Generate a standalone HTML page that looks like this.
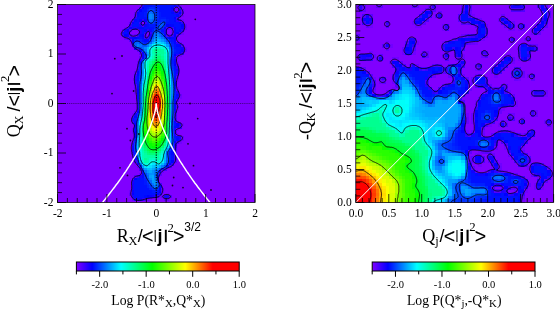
<!DOCTYPE html><html><head><meta charset="utf-8"><title>Log P</title><style>html,body{margin:0;padding:0;background:#fff}</style></head><body><svg width="560" height="309" viewBox="0 0 560 309" style="display:block">
<rect width="560" height="309" fill="#fff"/>
<rect x="57.50" y="4.50" width="197.50" height="198.00" fill="#8000ff"/>
<rect x="355.80" y="4.50" width="197.80" height="198.00" fill="#8000ff"/>
<clipPath id="cl"><rect x="57.50" y="4.50" width="197.50" height="198.00"/></clipPath>
<clipPath id="cr"><rect x="355.80" y="4.50" width="197.80" height="198.00"/></clipPath>
<g clip-path="url(#cl)"><g shape-rendering="crispEdges"><rect x="141.65" y="4.50" width="2.98" height="2.98" fill="#2000ff"/>
<rect x="144.12" y="4.50" width="7.93" height="2.98" fill="#0010ff"/>
<rect x="151.55" y="4.50" width="5.45" height="2.98" fill="#0018ff"/>
<rect x="156.50" y="4.50" width="17.82" height="2.98" fill="#0010ff"/>
<rect x="173.82" y="4.50" width="2.98" height="2.98" fill="#0800ff"/>
<rect x="176.30" y="4.50" width="2.98" height="2.98" fill="#2800ff"/>
<rect x="178.78" y="4.50" width="2.98" height="2.98" fill="#7000ff"/>
<rect x="139.18" y="6.97" width="2.98" height="2.98" fill="#4000ff"/>
<rect x="141.65" y="6.97" width="2.98" height="2.98" fill="#0000ff"/>
<rect x="144.12" y="6.97" width="2.98" height="2.98" fill="#0010ff"/>
<rect x="146.60" y="6.97" width="2.98" height="2.98" fill="#0018ff"/>
<rect x="149.07" y="6.97" width="5.45" height="2.98" fill="#0028ff"/>
<rect x="154.03" y="6.97" width="2.98" height="2.98" fill="#0020ff"/>
<rect x="156.50" y="6.97" width="2.98" height="2.98" fill="#0018ff"/>
<rect x="158.98" y="6.97" width="12.88" height="2.98" fill="#0010ff"/>
<rect x="171.35" y="6.97" width="2.98" height="2.98" fill="#0800ff"/>
<rect x="173.82" y="6.97" width="2.98" height="2.98" fill="#6000ff"/>
<rect x="176.30" y="6.97" width="2.98" height="2.98" fill="#7000ff"/>
<rect x="178.78" y="6.97" width="2.98" height="2.98" fill="#3000ff"/>
<rect x="136.70" y="9.45" width="2.98" height="2.98" fill="#3800ff"/>
<rect x="139.18" y="9.45" width="2.98" height="2.98" fill="#0000ff"/>
<rect x="141.65" y="9.45" width="5.45" height="2.98" fill="#0010ff"/>
<rect x="146.60" y="9.45" width="2.98" height="2.98" fill="#0028ff"/>
<rect x="149.07" y="9.45" width="2.98" height="2.98" fill="#0048ff"/>
<rect x="151.55" y="9.45" width="2.98" height="2.98" fill="#0040ff"/>
<rect x="154.03" y="9.45" width="2.98" height="2.98" fill="#0030ff"/>
<rect x="156.50" y="9.45" width="2.98" height="2.98" fill="#0020ff"/>
<rect x="158.98" y="9.45" width="12.88" height="2.98" fill="#0010ff"/>
<rect x="171.35" y="9.45" width="2.98" height="2.98" fill="#1000ff"/>
<rect x="173.82" y="9.45" width="2.98" height="2.98" fill="#7000ff"/>
<rect x="178.78" y="9.45" width="2.98" height="2.98" fill="#2000ff"/>
<rect x="181.25" y="9.45" width="2.98" height="2.98" fill="#5800ff"/>
<rect x="134.23" y="11.93" width="2.98" height="2.98" fill="#6800ff"/>
<rect x="136.70" y="11.93" width="2.98" height="2.98" fill="#0800ff"/>
<rect x="139.18" y="11.93" width="5.45" height="2.98" fill="#0010ff"/>
<rect x="144.12" y="11.93" width="2.98" height="2.98" fill="#0018ff"/>
<rect x="146.60" y="11.93" width="2.98" height="2.98" fill="#0040ff"/>
<rect x="149.07" y="11.93" width="2.98" height="2.98" fill="#0070ff"/>
<rect x="151.55" y="11.93" width="2.98" height="2.98" fill="#0060ff"/>
<rect x="154.03" y="11.93" width="2.98" height="2.98" fill="#0038ff"/>
<rect x="156.50" y="11.93" width="2.98" height="2.98" fill="#0028ff"/>
<rect x="158.98" y="11.93" width="2.98" height="2.98" fill="#0018ff"/>
<rect x="161.45" y="11.93" width="10.40" height="2.98" fill="#0010ff"/>
<rect x="171.35" y="11.93" width="2.98" height="2.98" fill="#0008ff"/>
<rect x="173.82" y="11.93" width="2.98" height="2.98" fill="#1800ff"/>
<rect x="176.30" y="11.93" width="2.98" height="2.98" fill="#2000ff"/>
<rect x="178.78" y="11.93" width="2.98" height="2.98" fill="#0000ff"/>
<rect x="181.25" y="11.93" width="2.98" height="2.98" fill="#4800ff"/>
<rect x="134.23" y="14.40" width="2.98" height="2.98" fill="#5000ff"/>
<rect x="136.70" y="14.40" width="2.98" height="2.98" fill="#0008ff"/>
<rect x="139.18" y="14.40" width="5.45" height="2.98" fill="#0010ff"/>
<rect x="144.12" y="14.40" width="2.98" height="2.98" fill="#0018ff"/>
<rect x="146.60" y="14.40" width="2.98" height="2.98" fill="#0048ff"/>
<rect x="149.07" y="14.40" width="2.98" height="2.98" fill="#0088ff"/>
<rect x="151.55" y="14.40" width="2.98" height="2.98" fill="#0078ff"/>
<rect x="154.03" y="14.40" width="2.98" height="2.98" fill="#0040ff"/>
<rect x="156.50" y="14.40" width="2.98" height="2.98" fill="#0028ff"/>
<rect x="158.98" y="14.40" width="2.98" height="2.98" fill="#0018ff"/>
<rect x="161.45" y="14.40" width="15.35" height="2.98" fill="#0010ff"/>
<rect x="176.30" y="14.40" width="2.98" height="2.98" fill="#0008ff"/>
<rect x="178.78" y="14.40" width="2.98" height="2.98" fill="#2800ff"/>
<rect x="181.25" y="14.40" width="2.98" height="2.98" fill="#7000ff"/>
<rect x="134.23" y="16.88" width="2.98" height="2.98" fill="#2800ff"/>
<rect x="136.70" y="16.88" width="10.40" height="2.98" fill="#0010ff"/>
<rect x="146.60" y="16.88" width="2.98" height="2.98" fill="#0048ff"/>
<rect x="149.07" y="16.88" width="2.98" height="2.98" fill="#0088ff"/>
<rect x="151.55" y="16.88" width="2.98" height="2.98" fill="#0078ff"/>
<rect x="154.03" y="16.88" width="2.98" height="2.98" fill="#0040ff"/>
<rect x="156.50" y="16.88" width="2.98" height="2.98" fill="#0028ff"/>
<rect x="158.98" y="16.88" width="7.93" height="2.98" fill="#0018ff"/>
<rect x="166.40" y="16.88" width="7.93" height="2.98" fill="#0010ff"/>
<rect x="173.82" y="16.88" width="2.98" height="2.98" fill="#0000ff"/>
<rect x="176.30" y="16.88" width="2.98" height="2.98" fill="#4000ff"/>
<rect x="131.75" y="19.35" width="2.98" height="2.98" fill="#3800ff"/>
<rect x="134.23" y="19.35" width="2.98" height="2.98" fill="#0008ff"/>
<rect x="136.70" y="19.35" width="2.98" height="2.98" fill="#0010ff"/>
<rect x="139.18" y="19.35" width="2.98" height="2.98" fill="#0800ff"/>
<rect x="141.65" y="19.35" width="2.98" height="2.98" fill="#3000ff"/>
<rect x="144.12" y="19.35" width="2.98" height="2.98" fill="#0800ff"/>
<rect x="146.60" y="19.35" width="2.98" height="2.98" fill="#0038ff"/>
<rect x="149.07" y="19.35" width="2.98" height="2.98" fill="#0070ff"/>
<rect x="151.55" y="19.35" width="2.98" height="2.98" fill="#0060ff"/>
<rect x="154.03" y="19.35" width="2.98" height="2.98" fill="#0038ff"/>
<rect x="156.50" y="19.35" width="5.45" height="2.98" fill="#0020ff"/>
<rect x="161.45" y="19.35" width="5.45" height="2.98" fill="#0028ff"/>
<rect x="166.40" y="19.35" width="2.98" height="2.98" fill="#0018ff"/>
<rect x="168.88" y="19.35" width="5.45" height="2.98" fill="#0010ff"/>
<rect x="173.82" y="19.35" width="2.98" height="2.98" fill="#0008ff"/>
<rect x="176.30" y="19.35" width="2.98" height="2.98" fill="#2800ff"/>
<rect x="178.78" y="19.35" width="2.98" height="2.98" fill="#4800ff"/>
<rect x="181.25" y="19.35" width="2.98" height="2.98" fill="#7000ff"/>
<rect x="129.28" y="21.82" width="2.98" height="2.98" fill="#6000ff"/>
<rect x="131.75" y="21.82" width="2.98" height="2.98" fill="#0800ff"/>
<rect x="134.23" y="21.82" width="5.45" height="2.98" fill="#0010ff"/>
<rect x="139.18" y="21.82" width="2.98" height="2.98" fill="#3800ff"/>
<rect x="144.12" y="21.82" width="2.98" height="2.98" fill="#3800ff"/>
<rect x="146.60" y="21.82" width="2.98" height="2.98" fill="#0018ff"/>
<rect x="149.07" y="21.82" width="5.45" height="2.98" fill="#0040ff"/>
<rect x="154.03" y="21.82" width="5.45" height="2.98" fill="#0028ff"/>
<rect x="158.98" y="21.82" width="2.98" height="2.98" fill="#0030ff"/>
<rect x="161.45" y="21.82" width="2.98" height="2.98" fill="#0050ff"/>
<rect x="163.93" y="21.82" width="2.98" height="2.98" fill="#0038ff"/>
<rect x="166.40" y="21.82" width="12.88" height="2.98" fill="#0010ff"/>
<rect x="178.78" y="21.82" width="2.98" height="2.98" fill="#0008ff"/>
<rect x="181.25" y="21.82" width="2.98" height="2.98" fill="#2800ff"/>
<rect x="129.28" y="24.30" width="2.98" height="2.98" fill="#3000ff"/>
<rect x="131.75" y="24.30" width="7.93" height="2.98" fill="#0010ff"/>
<rect x="139.18" y="24.30" width="2.98" height="2.98" fill="#1800ff"/>
<rect x="141.65" y="24.30" width="2.98" height="2.98" fill="#4800ff"/>
<rect x="144.12" y="24.30" width="2.98" height="2.98" fill="#1000ff"/>
<rect x="146.60" y="24.30" width="2.98" height="2.98" fill="#0010ff"/>
<rect x="149.07" y="24.30" width="7.93" height="2.98" fill="#0018ff"/>
<rect x="156.50" y="24.30" width="2.98" height="2.98" fill="#0030ff"/>
<rect x="158.98" y="24.30" width="5.45" height="2.98" fill="#0058ff"/>
<rect x="163.93" y="24.30" width="2.98" height="2.98" fill="#0020ff"/>
<rect x="166.40" y="24.30" width="2.98" height="2.98" fill="#0000ff"/>
<rect x="168.88" y="24.30" width="2.98" height="2.98" fill="#0800ff"/>
<rect x="171.35" y="24.30" width="2.98" height="2.98" fill="#0008ff"/>
<rect x="173.82" y="24.30" width="7.93" height="2.98" fill="#0010ff"/>
<rect x="181.25" y="24.30" width="2.98" height="2.98" fill="#0000ff"/>
<rect x="183.73" y="24.30" width="2.98" height="2.98" fill="#6800ff"/>
<rect x="124.33" y="26.78" width="2.98" height="2.98" fill="#7000ff"/>
<rect x="126.80" y="26.78" width="2.98" height="2.98" fill="#3800ff"/>
<rect x="129.28" y="26.78" width="2.98" height="2.98" fill="#0800ff"/>
<rect x="131.75" y="26.78" width="2.98" height="2.98" fill="#1800ff"/>
<rect x="134.23" y="26.78" width="2.98" height="2.98" fill="#2000ff"/>
<rect x="136.70" y="26.78" width="2.98" height="2.98" fill="#1000ff"/>
<rect x="139.18" y="26.78" width="5.45" height="2.98" fill="#0008ff"/>
<rect x="144.12" y="26.78" width="10.40" height="2.98" fill="#0010ff"/>
<rect x="154.03" y="26.78" width="2.98" height="2.98" fill="#0020ff"/>
<rect x="156.50" y="26.78" width="2.98" height="2.98" fill="#0040ff"/>
<rect x="158.98" y="26.78" width="2.98" height="2.98" fill="#0058ff"/>
<rect x="161.45" y="26.78" width="2.98" height="2.98" fill="#0028ff"/>
<rect x="163.93" y="26.78" width="2.98" height="2.98" fill="#0800ff"/>
<rect x="166.40" y="26.78" width="2.98" height="2.98" fill="#5000ff"/>
<rect x="168.88" y="26.78" width="2.98" height="2.98" fill="#6800ff"/>
<rect x="171.35" y="26.78" width="2.98" height="2.98" fill="#3800ff"/>
<rect x="173.82" y="26.78" width="2.98" height="2.98" fill="#0008ff"/>
<rect x="176.30" y="26.78" width="5.45" height="2.98" fill="#0010ff"/>
<rect x="181.25" y="26.78" width="2.98" height="2.98" fill="#0800ff"/>
<rect x="183.73" y="26.78" width="2.98" height="2.98" fill="#6800ff"/>
<rect x="121.85" y="29.25" width="2.98" height="2.98" fill="#5800ff"/>
<rect x="124.33" y="29.25" width="2.98" height="2.98" fill="#1000ff"/>
<rect x="126.80" y="29.25" width="2.98" height="2.98" fill="#0000ff"/>
<rect x="129.28" y="29.25" width="2.98" height="2.98" fill="#4800ff"/>
<rect x="136.70" y="29.25" width="2.98" height="2.98" fill="#7000ff"/>
<rect x="139.18" y="29.25" width="2.98" height="2.98" fill="#1800ff"/>
<rect x="141.65" y="29.25" width="2.98" height="2.98" fill="#0010ff"/>
<rect x="144.12" y="29.25" width="2.98" height="2.98" fill="#0008ff"/>
<rect x="146.60" y="29.25" width="2.98" height="2.98" fill="#2800ff"/>
<rect x="149.07" y="29.25" width="2.98" height="2.98" fill="#1000ff"/>
<rect x="151.55" y="29.25" width="2.98" height="2.98" fill="#0018ff"/>
<rect x="154.03" y="29.25" width="2.98" height="2.98" fill="#0038ff"/>
<rect x="156.50" y="29.25" width="2.98" height="2.98" fill="#0040ff"/>
<rect x="158.98" y="29.25" width="2.98" height="2.98" fill="#0030ff"/>
<rect x="161.45" y="29.25" width="2.98" height="2.98" fill="#0010ff"/>
<rect x="163.93" y="29.25" width="2.98" height="2.98" fill="#2000ff"/>
<rect x="171.35" y="29.25" width="2.98" height="2.98" fill="#6800ff"/>
<rect x="173.82" y="29.25" width="2.98" height="2.98" fill="#0800ff"/>
<rect x="176.30" y="29.25" width="2.98" height="2.98" fill="#0010ff"/>
<rect x="178.78" y="29.25" width="2.98" height="2.98" fill="#0008ff"/>
<rect x="181.25" y="29.25" width="2.98" height="2.98" fill="#2800ff"/>
<rect x="121.85" y="31.73" width="2.98" height="2.98" fill="#1800ff"/>
<rect x="124.33" y="31.73" width="2.98" height="2.98" fill="#0010ff"/>
<rect x="126.80" y="31.73" width="2.98" height="2.98" fill="#1000ff"/>
<rect x="139.18" y="31.73" width="2.98" height="2.98" fill="#1800ff"/>
<rect x="141.65" y="31.73" width="2.98" height="2.98" fill="#0010ff"/>
<rect x="144.12" y="31.73" width="2.98" height="2.98" fill="#2800ff"/>
<rect x="149.07" y="31.73" width="2.98" height="2.98" fill="#3000ff"/>
<rect x="151.55" y="31.73" width="2.98" height="2.98" fill="#0028ff"/>
<rect x="154.03" y="31.73" width="2.98" height="2.98" fill="#0068ff"/>
<rect x="156.50" y="31.73" width="2.98" height="2.98" fill="#0070ff"/>
<rect x="158.98" y="31.73" width="2.98" height="2.98" fill="#0050ff"/>
<rect x="161.45" y="31.73" width="2.98" height="2.98" fill="#0020ff"/>
<rect x="163.93" y="31.73" width="2.98" height="2.98" fill="#2000ff"/>
<rect x="171.35" y="31.73" width="2.98" height="2.98" fill="#6800ff"/>
<rect x="173.82" y="31.73" width="2.98" height="2.98" fill="#0800ff"/>
<rect x="176.30" y="31.73" width="2.98" height="2.98" fill="#0000ff"/>
<rect x="178.78" y="31.73" width="2.98" height="2.98" fill="#3800ff"/>
<rect x="181.25" y="31.73" width="2.98" height="2.98" fill="#7000ff"/>
<rect x="121.85" y="34.20" width="2.98" height="2.98" fill="#3000ff"/>
<rect x="124.33" y="34.20" width="2.98" height="2.98" fill="#0000ff"/>
<rect x="126.80" y="34.20" width="2.98" height="2.98" fill="#0800ff"/>
<rect x="129.28" y="34.20" width="2.98" height="2.98" fill="#4800ff"/>
<rect x="131.75" y="34.20" width="2.98" height="2.98" fill="#7000ff"/>
<rect x="134.23" y="34.20" width="2.98" height="2.98" fill="#6000ff"/>
<rect x="136.70" y="34.20" width="2.98" height="2.98" fill="#3000ff"/>
<rect x="139.18" y="34.20" width="2.98" height="2.98" fill="#0008ff"/>
<rect x="141.65" y="34.20" width="2.98" height="2.98" fill="#0000ff"/>
<rect x="144.12" y="34.20" width="2.98" height="2.98" fill="#5800ff"/>
<rect x="149.07" y="34.20" width="2.98" height="2.98" fill="#1800ff"/>
<rect x="151.55" y="34.20" width="2.98" height="2.98" fill="#0040ff"/>
<rect x="154.03" y="34.20" width="2.98" height="2.98" fill="#0078ff"/>
<rect x="156.50" y="34.20" width="2.98" height="2.98" fill="#0088ff"/>
<rect x="158.98" y="34.20" width="2.98" height="2.98" fill="#0070ff"/>
<rect x="161.45" y="34.20" width="2.98" height="2.98" fill="#0050ff"/>
<rect x="163.93" y="34.20" width="2.98" height="2.98" fill="#0008ff"/>
<rect x="166.40" y="34.20" width="2.98" height="2.98" fill="#5000ff"/>
<rect x="168.88" y="34.20" width="2.98" height="2.98" fill="#6800ff"/>
<rect x="171.35" y="34.20" width="2.98" height="2.98" fill="#3000ff"/>
<rect x="173.82" y="34.20" width="2.98" height="2.98" fill="#0000ff"/>
<rect x="176.30" y="34.20" width="2.98" height="2.98" fill="#4800ff"/>
<rect x="124.33" y="36.68" width="2.98" height="2.98" fill="#6000ff"/>
<rect x="126.80" y="36.68" width="2.98" height="2.98" fill="#4800ff"/>
<rect x="129.28" y="36.68" width="2.98" height="2.98" fill="#1800ff"/>
<rect x="131.75" y="36.68" width="2.98" height="2.98" fill="#0800ff"/>
<rect x="134.23" y="36.68" width="2.98" height="2.98" fill="#0000ff"/>
<rect x="136.70" y="36.68" width="2.98" height="2.98" fill="#0008ff"/>
<rect x="139.18" y="36.68" width="2.98" height="2.98" fill="#0010ff"/>
<rect x="141.65" y="36.68" width="2.98" height="2.98" fill="#0008ff"/>
<rect x="144.12" y="36.68" width="2.98" height="2.98" fill="#4000ff"/>
<rect x="146.60" y="36.68" width="2.98" height="2.98" fill="#3800ff"/>
<rect x="149.07" y="36.68" width="2.98" height="2.98" fill="#0010ff"/>
<rect x="151.55" y="36.68" width="2.98" height="2.98" fill="#0058ff"/>
<rect x="154.03" y="36.68" width="2.98" height="2.98" fill="#0088ff"/>
<rect x="156.50" y="36.68" width="2.98" height="2.98" fill="#00a0ff"/>
<rect x="158.98" y="36.68" width="2.98" height="2.98" fill="#0090ff"/>
<rect x="161.45" y="36.68" width="2.98" height="2.98" fill="#0070ff"/>
<rect x="163.93" y="36.68" width="2.98" height="2.98" fill="#0048ff"/>
<rect x="166.40" y="36.68" width="2.98" height="2.98" fill="#0010ff"/>
<rect x="168.88" y="36.68" width="2.98" height="2.98" fill="#0000ff"/>
<rect x="171.35" y="36.68" width="2.98" height="2.98" fill="#0008ff"/>
<rect x="173.82" y="36.68" width="2.98" height="2.98" fill="#1000ff"/>
<rect x="129.28" y="39.15" width="2.98" height="2.98" fill="#5800ff"/>
<rect x="131.75" y="39.15" width="2.98" height="2.98" fill="#0000ff"/>
<rect x="134.23" y="39.15" width="2.98" height="2.98" fill="#0028ff"/>
<rect x="136.70" y="39.15" width="2.98" height="2.98" fill="#0030ff"/>
<rect x="139.18" y="39.15" width="2.98" height="2.98" fill="#0020ff"/>
<rect x="141.65" y="39.15" width="2.98" height="2.98" fill="#0010ff"/>
<rect x="144.12" y="39.15" width="5.45" height="2.98" fill="#0008ff"/>
<rect x="149.07" y="39.15" width="2.98" height="2.98" fill="#0038ff"/>
<rect x="151.55" y="39.15" width="2.98" height="2.98" fill="#0078ff"/>
<rect x="154.03" y="39.15" width="2.98" height="2.98" fill="#00a0ff"/>
<rect x="156.50" y="39.15" width="2.98" height="2.98" fill="#00b8ff"/>
<rect x="158.98" y="39.15" width="2.98" height="2.98" fill="#00b0ff"/>
<rect x="161.45" y="39.15" width="2.98" height="2.98" fill="#0098ff"/>
<rect x="163.93" y="39.15" width="2.98" height="2.98" fill="#0078ff"/>
<rect x="166.40" y="39.15" width="2.98" height="2.98" fill="#0048ff"/>
<rect x="168.88" y="39.15" width="2.98" height="2.98" fill="#0018ff"/>
<rect x="171.35" y="39.15" width="2.98" height="2.98" fill="#0010ff"/>
<rect x="173.82" y="39.15" width="2.98" height="2.98" fill="#0800ff"/>
<rect x="176.30" y="39.15" width="2.98" height="2.98" fill="#7000ff"/>
<rect x="131.75" y="41.62" width="2.98" height="2.98" fill="#0000ff"/>
<rect x="134.23" y="41.62" width="2.98" height="2.98" fill="#0060ff"/>
<rect x="136.70" y="41.62" width="2.98" height="2.98" fill="#0068ff"/>
<rect x="139.18" y="41.62" width="2.98" height="2.98" fill="#0048ff"/>
<rect x="141.65" y="41.62" width="2.98" height="2.98" fill="#0028ff"/>
<rect x="144.12" y="41.62" width="2.98" height="2.98" fill="#0018ff"/>
<rect x="146.60" y="41.62" width="2.98" height="2.98" fill="#0030ff"/>
<rect x="149.07" y="41.62" width="2.98" height="2.98" fill="#0068ff"/>
<rect x="151.55" y="41.62" width="2.98" height="2.98" fill="#00a8ff"/>
<rect x="154.03" y="41.62" width="2.98" height="2.98" fill="#00c8ff"/>
<rect x="156.50" y="41.62" width="2.98" height="2.98" fill="#00e0ff"/>
<rect x="158.98" y="41.62" width="2.98" height="2.98" fill="#00d8ff"/>
<rect x="161.45" y="41.62" width="2.98" height="2.98" fill="#00c8ff"/>
<rect x="163.93" y="41.62" width="2.98" height="2.98" fill="#00a8ff"/>
<rect x="166.40" y="41.62" width="2.98" height="2.98" fill="#0070ff"/>
<rect x="168.88" y="41.62" width="2.98" height="2.98" fill="#0038ff"/>
<rect x="171.35" y="41.62" width="2.98" height="2.98" fill="#0018ff"/>
<rect x="173.82" y="41.62" width="2.98" height="2.98" fill="#0008ff"/>
<rect x="176.30" y="41.62" width="2.98" height="2.98" fill="#2800ff"/>
<rect x="178.78" y="41.62" width="2.98" height="2.98" fill="#6800ff"/>
<rect x="131.75" y="44.10" width="2.98" height="2.98" fill="#2800ff"/>
<rect x="134.23" y="44.10" width="2.98" height="2.98" fill="#0060ff"/>
<rect x="136.70" y="44.10" width="2.98" height="2.98" fill="#0080ff"/>
<rect x="139.18" y="44.10" width="2.98" height="2.98" fill="#0070ff"/>
<rect x="141.65" y="44.10" width="5.45" height="2.98" fill="#0058ff"/>
<rect x="146.60" y="44.10" width="2.98" height="2.98" fill="#0078ff"/>
<rect x="149.07" y="44.10" width="2.98" height="2.98" fill="#00b0ff"/>
<rect x="151.55" y="44.10" width="2.98" height="2.98" fill="#00e8ff"/>
<rect x="154.03" y="44.10" width="2.98" height="2.98" fill="#00fff8"/>
<rect x="156.50" y="44.10" width="2.98" height="2.98" fill="#00ffe8"/>
<rect x="158.98" y="44.10" width="2.98" height="2.98" fill="#00fff0"/>
<rect x="161.45" y="44.10" width="2.98" height="2.98" fill="#00ffff"/>
<rect x="163.93" y="44.10" width="2.98" height="2.98" fill="#00d8ff"/>
<rect x="166.40" y="44.10" width="2.98" height="2.98" fill="#00a0ff"/>
<rect x="168.88" y="44.10" width="2.98" height="2.98" fill="#0058ff"/>
<rect x="171.35" y="44.10" width="2.98" height="2.98" fill="#0020ff"/>
<rect x="173.82" y="44.10" width="2.98" height="2.98" fill="#0010ff"/>
<rect x="176.30" y="44.10" width="2.98" height="2.98" fill="#0008ff"/>
<rect x="178.78" y="44.10" width="2.98" height="2.98" fill="#0800ff"/>
<rect x="181.25" y="44.10" width="2.98" height="2.98" fill="#4800ff"/>
<rect x="134.23" y="46.58" width="2.98" height="2.98" fill="#1000ff"/>
<rect x="136.70" y="46.58" width="2.98" height="2.98" fill="#0038ff"/>
<rect x="139.18" y="46.58" width="2.98" height="2.98" fill="#0050ff"/>
<rect x="141.65" y="46.58" width="2.98" height="2.98" fill="#0068ff"/>
<rect x="144.12" y="46.58" width="2.98" height="2.98" fill="#0088ff"/>
<rect x="146.60" y="46.58" width="2.98" height="2.98" fill="#00b8ff"/>
<rect x="149.07" y="46.58" width="2.98" height="2.98" fill="#00f0ff"/>
<rect x="151.55" y="46.58" width="2.98" height="2.98" fill="#00ffd8"/>
<rect x="154.03" y="46.58" width="2.98" height="2.98" fill="#00ffb8"/>
<rect x="156.50" y="46.58" width="5.45" height="2.98" fill="#00ffb0"/>
<rect x="161.45" y="46.58" width="2.98" height="2.98" fill="#00ffc8"/>
<rect x="163.93" y="46.58" width="2.98" height="2.98" fill="#00ffe8"/>
<rect x="166.40" y="46.58" width="2.98" height="2.98" fill="#00d0ff"/>
<rect x="168.88" y="46.58" width="2.98" height="2.98" fill="#0078ff"/>
<rect x="171.35" y="46.58" width="2.98" height="2.98" fill="#0030ff"/>
<rect x="173.82" y="46.58" width="7.93" height="2.98" fill="#0010ff"/>
<rect x="181.25" y="46.58" width="2.98" height="2.98" fill="#1000ff"/>
<rect x="183.73" y="46.58" width="2.98" height="2.98" fill="#7000ff"/>
<rect x="136.70" y="49.05" width="2.98" height="2.98" fill="#5800ff"/>
<rect x="139.18" y="49.05" width="2.98" height="2.98" fill="#0800ff"/>
<rect x="141.65" y="49.05" width="2.98" height="2.98" fill="#0040ff"/>
<rect x="144.12" y="49.05" width="2.98" height="2.98" fill="#0078ff"/>
<rect x="146.60" y="49.05" width="2.98" height="2.98" fill="#00c8ff"/>
<rect x="149.07" y="49.05" width="2.98" height="2.98" fill="#00ffe8"/>
<rect x="151.55" y="49.05" width="2.98" height="2.98" fill="#00ffb0"/>
<rect x="154.03" y="49.05" width="7.93" height="2.98" fill="#00ff90"/>
<rect x="161.45" y="49.05" width="2.98" height="2.98" fill="#00ff98"/>
<rect x="163.93" y="49.05" width="2.98" height="2.98" fill="#00ffc0"/>
<rect x="166.40" y="49.05" width="2.98" height="2.98" fill="#00f8ff"/>
<rect x="168.88" y="49.05" width="2.98" height="2.98" fill="#0090ff"/>
<rect x="171.35" y="49.05" width="2.98" height="2.98" fill="#0038ff"/>
<rect x="173.82" y="49.05" width="2.98" height="2.98" fill="#0018ff"/>
<rect x="176.30" y="49.05" width="5.45" height="2.98" fill="#0010ff"/>
<rect x="181.25" y="49.05" width="2.98" height="2.98" fill="#0800ff"/>
<rect x="183.73" y="49.05" width="2.98" height="2.98" fill="#6800ff"/>
<rect x="139.18" y="51.52" width="2.98" height="2.98" fill="#6000ff"/>
<rect x="141.65" y="51.52" width="2.98" height="2.98" fill="#0000ff"/>
<rect x="144.12" y="51.52" width="2.98" height="2.98" fill="#0050ff"/>
<rect x="146.60" y="51.52" width="2.98" height="2.98" fill="#00b0ff"/>
<rect x="149.07" y="51.52" width="2.98" height="2.98" fill="#00ffe8"/>
<rect x="151.55" y="51.52" width="2.98" height="2.98" fill="#00ffb0"/>
<rect x="154.03" y="51.52" width="2.98" height="2.98" fill="#00ffa0"/>
<rect x="156.50" y="51.52" width="7.93" height="2.98" fill="#00ff98"/>
<rect x="163.93" y="51.52" width="2.98" height="2.98" fill="#00ffb0"/>
<rect x="166.40" y="51.52" width="2.98" height="2.98" fill="#00fff0"/>
<rect x="168.88" y="51.52" width="2.98" height="2.98" fill="#0098ff"/>
<rect x="171.35" y="51.52" width="2.98" height="2.98" fill="#0030ff"/>
<rect x="173.82" y="51.52" width="5.45" height="2.98" fill="#0010ff"/>
<rect x="178.78" y="51.52" width="2.98" height="2.98" fill="#0800ff"/>
<rect x="181.25" y="51.52" width="2.98" height="2.98" fill="#2800ff"/>
<rect x="141.65" y="54.00" width="2.98" height="2.98" fill="#1000ff"/>
<rect x="144.12" y="54.00" width="2.98" height="2.98" fill="#0028ff"/>
<rect x="146.60" y="54.00" width="2.98" height="2.98" fill="#0098ff"/>
<rect x="149.07" y="54.00" width="2.98" height="2.98" fill="#00fff0"/>
<rect x="151.55" y="54.00" width="2.98" height="2.98" fill="#00ffc0"/>
<rect x="154.03" y="54.00" width="2.98" height="2.98" fill="#00ffa0"/>
<rect x="156.50" y="54.00" width="5.45" height="2.98" fill="#00ff88"/>
<rect x="161.45" y="54.00" width="2.98" height="2.98" fill="#00ffa0"/>
<rect x="163.93" y="54.00" width="2.98" height="2.98" fill="#00ffc0"/>
<rect x="166.40" y="54.00" width="2.98" height="2.98" fill="#00fff0"/>
<rect x="168.88" y="54.00" width="2.98" height="2.98" fill="#0098ff"/>
<rect x="171.35" y="54.00" width="2.98" height="2.98" fill="#0028ff"/>
<rect x="173.82" y="54.00" width="2.98" height="2.98" fill="#0000ff"/>
<rect x="176.30" y="54.00" width="2.98" height="2.98" fill="#2800ff"/>
<rect x="178.78" y="54.00" width="2.98" height="2.98" fill="#6800ff"/>
<rect x="139.18" y="56.48" width="2.98" height="2.98" fill="#6000ff"/>
<rect x="141.65" y="56.48" width="2.98" height="2.98" fill="#0800ff"/>
<rect x="144.12" y="56.48" width="2.98" height="2.98" fill="#0030ff"/>
<rect x="146.60" y="56.48" width="2.98" height="2.98" fill="#00c8ff"/>
<rect x="149.07" y="56.48" width="2.98" height="2.98" fill="#00ffd8"/>
<rect x="151.55" y="56.48" width="2.98" height="2.98" fill="#00ffb0"/>
<rect x="154.03" y="56.48" width="2.98" height="2.98" fill="#00ff88"/>
<rect x="156.50" y="56.48" width="2.98" height="2.98" fill="#00ff70"/>
<rect x="158.98" y="56.48" width="2.98" height="2.98" fill="#00ff78"/>
<rect x="161.45" y="56.48" width="2.98" height="2.98" fill="#00ff90"/>
<rect x="163.93" y="56.48" width="2.98" height="2.98" fill="#00ffb8"/>
<rect x="166.40" y="56.48" width="2.98" height="2.98" fill="#00fff0"/>
<rect x="168.88" y="56.48" width="2.98" height="2.98" fill="#0088ff"/>
<rect x="171.35" y="56.48" width="2.98" height="2.98" fill="#0020ff"/>
<rect x="173.82" y="56.48" width="2.98" height="2.98" fill="#2000ff"/>
<rect x="176.30" y="56.48" width="2.98" height="2.98" fill="#7000ff"/>
<rect x="139.18" y="58.95" width="2.98" height="2.98" fill="#2800ff"/>
<rect x="141.65" y="58.95" width="2.98" height="2.98" fill="#0030ff"/>
<rect x="144.12" y="58.95" width="2.98" height="2.98" fill="#00b8ff"/>
<rect x="146.60" y="58.95" width="2.98" height="2.98" fill="#00ffd8"/>
<rect x="149.07" y="58.95" width="2.98" height="2.98" fill="#00ffb0"/>
<rect x="151.55" y="58.95" width="2.98" height="2.98" fill="#00ff90"/>
<rect x="154.03" y="58.95" width="2.98" height="2.98" fill="#00ff68"/>
<rect x="156.50" y="58.95" width="2.98" height="2.98" fill="#00ff50"/>
<rect x="158.98" y="58.95" width="2.98" height="2.98" fill="#00ff60"/>
<rect x="161.45" y="58.95" width="2.98" height="2.98" fill="#00ff80"/>
<rect x="163.93" y="58.95" width="2.98" height="2.98" fill="#00ffb0"/>
<rect x="166.40" y="58.95" width="2.98" height="2.98" fill="#00fff0"/>
<rect x="168.88" y="58.95" width="2.98" height="2.98" fill="#0078ff"/>
<rect x="171.35" y="58.95" width="2.98" height="2.98" fill="#0018ff"/>
<rect x="173.82" y="58.95" width="2.98" height="2.98" fill="#1000ff"/>
<rect x="136.70" y="61.43" width="2.98" height="2.98" fill="#6800ff"/>
<rect x="139.18" y="61.43" width="2.98" height="2.98" fill="#0008ff"/>
<rect x="141.65" y="61.43" width="2.98" height="2.98" fill="#0080ff"/>
<rect x="144.12" y="61.43" width="2.98" height="2.98" fill="#00fff8"/>
<rect x="146.60" y="61.43" width="2.98" height="2.98" fill="#00ffb8"/>
<rect x="149.07" y="61.43" width="2.98" height="2.98" fill="#00ff90"/>
<rect x="151.55" y="61.43" width="2.98" height="2.98" fill="#00ff68"/>
<rect x="154.03" y="61.43" width="2.98" height="2.98" fill="#00ff40"/>
<rect x="156.50" y="61.43" width="2.98" height="2.98" fill="#00ff20"/>
<rect x="158.98" y="61.43" width="2.98" height="2.98" fill="#00ff38"/>
<rect x="161.45" y="61.43" width="2.98" height="2.98" fill="#00ff68"/>
<rect x="163.93" y="61.43" width="2.98" height="2.98" fill="#00ffa0"/>
<rect x="166.40" y="61.43" width="2.98" height="2.98" fill="#00fff0"/>
<rect x="168.88" y="61.43" width="2.98" height="2.98" fill="#0078ff"/>
<rect x="171.35" y="61.43" width="2.98" height="2.98" fill="#0018ff"/>
<rect x="173.82" y="61.43" width="2.98" height="2.98" fill="#0800ff"/>
<rect x="176.30" y="61.43" width="2.98" height="2.98" fill="#7000ff"/>
<rect x="136.70" y="63.90" width="2.98" height="2.98" fill="#5800ff"/>
<rect x="139.18" y="63.90" width="2.98" height="2.98" fill="#0020ff"/>
<rect x="141.65" y="63.90" width="2.98" height="2.98" fill="#0098ff"/>
<rect x="144.12" y="63.90" width="2.98" height="2.98" fill="#00fff0"/>
<rect x="146.60" y="63.90" width="2.98" height="2.98" fill="#00ffb0"/>
<rect x="149.07" y="63.90" width="2.98" height="2.98" fill="#00ff78"/>
<rect x="151.55" y="63.90" width="2.98" height="2.98" fill="#00ff48"/>
<rect x="154.03" y="63.90" width="2.98" height="2.98" fill="#00ff18"/>
<rect x="156.50" y="63.90" width="2.98" height="2.98" fill="#10ff00"/>
<rect x="158.98" y="63.90" width="2.98" height="2.98" fill="#00ff10"/>
<rect x="161.45" y="63.90" width="2.98" height="2.98" fill="#00ff48"/>
<rect x="163.93" y="63.90" width="2.98" height="2.98" fill="#00ff90"/>
<rect x="166.40" y="63.90" width="2.98" height="2.98" fill="#00ffe8"/>
<rect x="168.88" y="63.90" width="2.98" height="2.98" fill="#0080ff"/>
<rect x="171.35" y="63.90" width="2.98" height="2.98" fill="#0020ff"/>
<rect x="173.82" y="63.90" width="2.98" height="2.98" fill="#0000ff"/>
<rect x="176.30" y="63.90" width="2.98" height="2.98" fill="#5000ff"/>
<rect x="136.70" y="66.38" width="2.98" height="2.98" fill="#4000ff"/>
<rect x="139.18" y="66.38" width="2.98" height="2.98" fill="#0028ff"/>
<rect x="141.65" y="66.38" width="2.98" height="2.98" fill="#0098ff"/>
<rect x="144.12" y="66.38" width="2.98" height="2.98" fill="#00fff0"/>
<rect x="146.60" y="66.38" width="2.98" height="2.98" fill="#00ffa8"/>
<rect x="149.07" y="66.38" width="2.98" height="2.98" fill="#00ff68"/>
<rect x="151.55" y="66.38" width="2.98" height="2.98" fill="#00ff30"/>
<rect x="154.03" y="66.38" width="2.98" height="2.98" fill="#00ff08"/>
<rect x="156.50" y="66.38" width="2.98" height="2.98" fill="#08ff00"/>
<rect x="158.98" y="66.38" width="2.98" height="2.98" fill="#00ff08"/>
<rect x="161.45" y="66.38" width="2.98" height="2.98" fill="#00ff30"/>
<rect x="163.93" y="66.38" width="2.98" height="2.98" fill="#00ff80"/>
<rect x="166.40" y="66.38" width="2.98" height="2.98" fill="#00ffe0"/>
<rect x="168.88" y="66.38" width="2.98" height="2.98" fill="#0090ff"/>
<rect x="171.35" y="66.38" width="2.98" height="2.98" fill="#0028ff"/>
<rect x="173.82" y="66.38" width="2.98" height="2.98" fill="#0010ff"/>
<rect x="176.30" y="66.38" width="2.98" height="2.98" fill="#2800ff"/>
<rect x="136.70" y="68.85" width="2.98" height="2.98" fill="#2800ff"/>
<rect x="139.18" y="68.85" width="2.98" height="2.98" fill="#0028ff"/>
<rect x="141.65" y="68.85" width="2.98" height="2.98" fill="#0090ff"/>
<rect x="144.12" y="68.85" width="2.98" height="2.98" fill="#00ffff"/>
<rect x="146.60" y="68.85" width="2.98" height="2.98" fill="#00ffa0"/>
<rect x="149.07" y="68.85" width="2.98" height="2.98" fill="#00ff50"/>
<rect x="151.55" y="68.85" width="2.98" height="2.98" fill="#00ff18"/>
<rect x="154.03" y="68.85" width="2.98" height="2.98" fill="#10ff00"/>
<rect x="156.50" y="68.85" width="2.98" height="2.98" fill="#20ff00"/>
<rect x="158.98" y="68.85" width="2.98" height="2.98" fill="#08ff00"/>
<rect x="161.45" y="68.85" width="2.98" height="2.98" fill="#00ff20"/>
<rect x="163.93" y="68.85" width="2.98" height="2.98" fill="#00ff68"/>
<rect x="166.40" y="68.85" width="2.98" height="2.98" fill="#00ffd0"/>
<rect x="168.88" y="68.85" width="2.98" height="2.98" fill="#00a8ff"/>
<rect x="171.35" y="68.85" width="2.98" height="2.98" fill="#0030ff"/>
<rect x="173.82" y="68.85" width="2.98" height="2.98" fill="#0010ff"/>
<rect x="176.30" y="68.85" width="2.98" height="2.98" fill="#1000ff"/>
<rect x="134.23" y="71.33" width="2.98" height="2.98" fill="#6800ff"/>
<rect x="136.70" y="71.33" width="2.98" height="2.98" fill="#0800ff"/>
<rect x="139.18" y="71.33" width="2.98" height="2.98" fill="#0028ff"/>
<rect x="141.65" y="71.33" width="2.98" height="2.98" fill="#0088ff"/>
<rect x="144.12" y="71.33" width="2.98" height="2.98" fill="#00f8ff"/>
<rect x="146.60" y="71.33" width="2.98" height="2.98" fill="#00ff98"/>
<rect x="149.07" y="71.33" width="2.98" height="2.98" fill="#00ff38"/>
<rect x="151.55" y="71.33" width="2.98" height="2.98" fill="#08ff00"/>
<rect x="154.03" y="71.33" width="2.98" height="2.98" fill="#30ff00"/>
<rect x="156.50" y="71.33" width="2.98" height="2.98" fill="#40ff00"/>
<rect x="158.98" y="71.33" width="2.98" height="2.98" fill="#28ff00"/>
<rect x="161.45" y="71.33" width="2.98" height="2.98" fill="#00ff08"/>
<rect x="163.93" y="71.33" width="2.98" height="2.98" fill="#00ff58"/>
<rect x="166.40" y="71.33" width="2.98" height="2.98" fill="#00ffc0"/>
<rect x="168.88" y="71.33" width="2.98" height="2.98" fill="#00b8ff"/>
<rect x="171.35" y="71.33" width="2.98" height="2.98" fill="#0040ff"/>
<rect x="173.82" y="71.33" width="2.98" height="2.98" fill="#0010ff"/>
<rect x="176.30" y="71.33" width="2.98" height="2.98" fill="#1800ff"/>
<rect x="134.23" y="73.80" width="2.98" height="2.98" fill="#4000ff"/>
<rect x="136.70" y="73.80" width="2.98" height="2.98" fill="#0008ff"/>
<rect x="139.18" y="73.80" width="2.98" height="2.98" fill="#0030ff"/>
<rect x="141.65" y="73.80" width="2.98" height="2.98" fill="#0090ff"/>
<rect x="144.12" y="73.80" width="2.98" height="2.98" fill="#00ffff"/>
<rect x="146.60" y="73.80" width="2.98" height="2.98" fill="#00ff88"/>
<rect x="149.07" y="73.80" width="2.98" height="2.98" fill="#00ff20"/>
<rect x="151.55" y="73.80" width="2.98" height="2.98" fill="#20ff00"/>
<rect x="154.03" y="73.80" width="2.98" height="2.98" fill="#58ff00"/>
<rect x="156.50" y="73.80" width="2.98" height="2.98" fill="#60ff00"/>
<rect x="158.98" y="73.80" width="2.98" height="2.98" fill="#40ff00"/>
<rect x="161.45" y="73.80" width="2.98" height="2.98" fill="#10ff00"/>
<rect x="163.93" y="73.80" width="2.98" height="2.98" fill="#00ff40"/>
<rect x="166.40" y="73.80" width="2.98" height="2.98" fill="#00ffb0"/>
<rect x="168.88" y="73.80" width="2.98" height="2.98" fill="#00c8ff"/>
<rect x="171.35" y="73.80" width="2.98" height="2.98" fill="#0050ff"/>
<rect x="173.82" y="73.80" width="2.98" height="2.98" fill="#0010ff"/>
<rect x="176.30" y="73.80" width="2.98" height="2.98" fill="#3000ff"/>
<rect x="134.23" y="76.28" width="2.98" height="2.98" fill="#2800ff"/>
<rect x="136.70" y="76.28" width="2.98" height="2.98" fill="#0010ff"/>
<rect x="139.18" y="76.28" width="2.98" height="2.98" fill="#0038ff"/>
<rect x="141.65" y="76.28" width="2.98" height="2.98" fill="#00a0ff"/>
<rect x="144.12" y="76.28" width="2.98" height="2.98" fill="#00fff0"/>
<rect x="146.60" y="76.28" width="2.98" height="2.98" fill="#00ff78"/>
<rect x="149.07" y="76.28" width="2.98" height="2.98" fill="#00ff08"/>
<rect x="151.55" y="76.28" width="2.98" height="2.98" fill="#40ff00"/>
<rect x="154.03" y="76.28" width="2.98" height="2.98" fill="#80ff00"/>
<rect x="156.50" y="76.28" width="2.98" height="2.98" fill="#90ff00"/>
<rect x="158.98" y="76.28" width="2.98" height="2.98" fill="#60ff00"/>
<rect x="161.45" y="76.28" width="2.98" height="2.98" fill="#20ff00"/>
<rect x="163.93" y="76.28" width="2.98" height="2.98" fill="#00ff30"/>
<rect x="166.40" y="76.28" width="2.98" height="2.98" fill="#00ffa0"/>
<rect x="168.88" y="76.28" width="2.98" height="2.98" fill="#00d8ff"/>
<rect x="171.35" y="76.28" width="2.98" height="2.98" fill="#0060ff"/>
<rect x="173.82" y="76.28" width="2.98" height="2.98" fill="#0008ff"/>
<rect x="176.30" y="76.28" width="2.98" height="2.98" fill="#5800ff"/>
<rect x="134.23" y="78.75" width="2.98" height="2.98" fill="#2000ff"/>
<rect x="136.70" y="78.75" width="2.98" height="2.98" fill="#0010ff"/>
<rect x="139.18" y="78.75" width="2.98" height="2.98" fill="#0048ff"/>
<rect x="141.65" y="78.75" width="2.98" height="2.98" fill="#00b0ff"/>
<rect x="144.12" y="78.75" width="2.98" height="2.98" fill="#00ffe0"/>
<rect x="146.60" y="78.75" width="2.98" height="2.98" fill="#00ff60"/>
<rect x="149.07" y="78.75" width="2.98" height="2.98" fill="#10ff00"/>
<rect x="151.55" y="78.75" width="2.98" height="2.98" fill="#60ff00"/>
<rect x="154.03" y="78.75" width="2.98" height="2.98" fill="#a8ff00"/>
<rect x="156.50" y="78.75" width="2.98" height="2.98" fill="#b0ff00"/>
<rect x="158.98" y="78.75" width="2.98" height="2.98" fill="#80ff00"/>
<rect x="161.45" y="78.75" width="2.98" height="2.98" fill="#38ff00"/>
<rect x="163.93" y="78.75" width="2.98" height="2.98" fill="#00ff18"/>
<rect x="166.40" y="78.75" width="2.98" height="2.98" fill="#00ff98"/>
<rect x="168.88" y="78.75" width="2.98" height="2.98" fill="#00e8ff"/>
<rect x="171.35" y="78.75" width="2.98" height="2.98" fill="#0070ff"/>
<rect x="173.82" y="78.75" width="2.98" height="2.98" fill="#0800ff"/>
<rect x="176.30" y="78.75" width="2.98" height="2.98" fill="#7000ff"/>
<rect x="134.23" y="81.23" width="2.98" height="2.98" fill="#2800ff"/>
<rect x="136.70" y="81.23" width="2.98" height="2.98" fill="#0018ff"/>
<rect x="139.18" y="81.23" width="2.98" height="2.98" fill="#0058ff"/>
<rect x="141.65" y="81.23" width="2.98" height="2.98" fill="#00c8ff"/>
<rect x="144.12" y="81.23" width="2.98" height="2.98" fill="#00ffc8"/>
<rect x="146.60" y="81.23" width="2.98" height="2.98" fill="#00ff48"/>
<rect x="149.07" y="81.23" width="2.98" height="2.98" fill="#28ff00"/>
<rect x="151.55" y="81.23" width="2.98" height="2.98" fill="#80ff00"/>
<rect x="154.03" y="81.23" width="2.98" height="2.98" fill="#c8ff00"/>
<rect x="156.50" y="81.23" width="2.98" height="2.98" fill="#d8ff00"/>
<rect x="158.98" y="81.23" width="2.98" height="2.98" fill="#a8ff00"/>
<rect x="161.45" y="81.23" width="2.98" height="2.98" fill="#50ff00"/>
<rect x="163.93" y="81.23" width="2.98" height="2.98" fill="#00ff08"/>
<rect x="166.40" y="81.23" width="2.98" height="2.98" fill="#00ff88"/>
<rect x="168.88" y="81.23" width="2.98" height="2.98" fill="#00f0ff"/>
<rect x="171.35" y="81.23" width="2.98" height="2.98" fill="#0078ff"/>
<rect x="173.82" y="81.23" width="2.98" height="2.98" fill="#0800ff"/>
<rect x="134.23" y="83.70" width="2.98" height="2.98" fill="#5000ff"/>
<rect x="136.70" y="83.70" width="2.98" height="2.98" fill="#0010ff"/>
<rect x="139.18" y="83.70" width="2.98" height="2.98" fill="#0068ff"/>
<rect x="141.65" y="83.70" width="2.98" height="2.98" fill="#00d8ff"/>
<rect x="144.12" y="83.70" width="2.98" height="2.98" fill="#00ffb0"/>
<rect x="146.60" y="83.70" width="2.98" height="2.98" fill="#00ff30"/>
<rect x="149.07" y="83.70" width="2.98" height="2.98" fill="#40ff00"/>
<rect x="151.55" y="83.70" width="2.98" height="2.98" fill="#a8ff00"/>
<rect x="154.03" y="83.70" width="2.98" height="2.98" fill="#f8ff00"/>
<rect x="156.50" y="83.70" width="2.98" height="2.98" fill="#fff000"/>
<rect x="158.98" y="83.70" width="2.98" height="2.98" fill="#c8ff00"/>
<rect x="161.45" y="83.70" width="2.98" height="2.98" fill="#70ff00"/>
<rect x="163.93" y="83.70" width="2.98" height="2.98" fill="#10ff00"/>
<rect x="166.40" y="83.70" width="2.98" height="2.98" fill="#00ff78"/>
<rect x="168.88" y="83.70" width="2.98" height="2.98" fill="#00f8ff"/>
<rect x="171.35" y="83.70" width="2.98" height="2.98" fill="#0080ff"/>
<rect x="173.82" y="83.70" width="2.98" height="2.98" fill="#0800ff"/>
<rect x="134.23" y="86.17" width="2.98" height="2.98" fill="#6000ff"/>
<rect x="136.70" y="86.17" width="2.98" height="2.98" fill="#0008ff"/>
<rect x="139.18" y="86.17" width="2.98" height="2.98" fill="#0070ff"/>
<rect x="141.65" y="86.17" width="2.98" height="2.98" fill="#00e8ff"/>
<rect x="144.12" y="86.17" width="2.98" height="2.98" fill="#00ffa0"/>
<rect x="146.60" y="86.17" width="2.98" height="2.98" fill="#00ff20"/>
<rect x="149.07" y="86.17" width="2.98" height="2.98" fill="#60ff00"/>
<rect x="151.55" y="86.17" width="2.98" height="2.98" fill="#d0ff00"/>
<rect x="154.03" y="86.17" width="2.98" height="2.98" fill="#ffc000"/>
<rect x="156.50" y="86.17" width="2.98" height="2.98" fill="#ffb000"/>
<rect x="158.98" y="86.17" width="2.98" height="2.98" fill="#f0ff00"/>
<rect x="161.45" y="86.17" width="2.98" height="2.98" fill="#90ff00"/>
<rect x="163.93" y="86.17" width="2.98" height="2.98" fill="#20ff00"/>
<rect x="166.40" y="86.17" width="2.98" height="2.98" fill="#00ff70"/>
<rect x="168.88" y="86.17" width="2.98" height="2.98" fill="#00ffff"/>
<rect x="171.35" y="86.17" width="2.98" height="2.98" fill="#0088ff"/>
<rect x="173.82" y="86.17" width="2.98" height="2.98" fill="#0008ff"/>
<rect x="176.30" y="86.17" width="2.98" height="2.98" fill="#7000ff"/>
<rect x="134.23" y="88.65" width="2.98" height="2.98" fill="#6800ff"/>
<rect x="136.70" y="88.65" width="2.98" height="2.98" fill="#0000ff"/>
<rect x="139.18" y="88.65" width="2.98" height="2.98" fill="#0070ff"/>
<rect x="141.65" y="88.65" width="2.98" height="2.98" fill="#00f0ff"/>
<rect x="144.12" y="88.65" width="2.98" height="2.98" fill="#00ff90"/>
<rect x="146.60" y="88.65" width="2.98" height="2.98" fill="#00ff08"/>
<rect x="149.07" y="88.65" width="2.98" height="2.98" fill="#78ff00"/>
<rect x="151.55" y="88.65" width="2.98" height="2.98" fill="#f8ff00"/>
<rect x="154.03" y="88.65" width="2.98" height="2.98" fill="#ff9800"/>
<rect x="156.50" y="88.65" width="2.98" height="2.98" fill="#ff9000"/>
<rect x="158.98" y="88.65" width="2.98" height="2.98" fill="#ffe000"/>
<rect x="161.45" y="88.65" width="2.98" height="2.98" fill="#a8ff00"/>
<rect x="163.93" y="88.65" width="2.98" height="2.98" fill="#30ff00"/>
<rect x="166.40" y="88.65" width="2.98" height="2.98" fill="#00ff68"/>
<rect x="168.88" y="88.65" width="2.98" height="2.98" fill="#00ffff"/>
<rect x="171.35" y="88.65" width="2.98" height="2.98" fill="#0088ff"/>
<rect x="173.82" y="88.65" width="2.98" height="2.98" fill="#0010ff"/>
<rect x="176.30" y="88.65" width="2.98" height="2.98" fill="#5800ff"/>
<rect x="134.23" y="91.12" width="2.98" height="2.98" fill="#7000ff"/>
<rect x="136.70" y="91.12" width="2.98" height="2.98" fill="#0000ff"/>
<rect x="139.18" y="91.12" width="2.98" height="2.98" fill="#0070ff"/>
<rect x="141.65" y="91.12" width="2.98" height="2.98" fill="#00f8ff"/>
<rect x="144.12" y="91.12" width="2.98" height="2.98" fill="#00ff80"/>
<rect x="146.60" y="91.12" width="2.98" height="2.98" fill="#08ff00"/>
<rect x="149.07" y="91.12" width="2.98" height="2.98" fill="#a0ff00"/>
<rect x="151.55" y="91.12" width="2.98" height="2.98" fill="#ffd000"/>
<rect x="154.03" y="91.12" width="2.98" height="2.98" fill="#ff7000"/>
<rect x="156.50" y="91.12" width="2.98" height="2.98" fill="#ff6000"/>
<rect x="158.98" y="91.12" width="2.98" height="2.98" fill="#ffb800"/>
<rect x="161.45" y="91.12" width="2.98" height="2.98" fill="#c8ff00"/>
<rect x="163.93" y="91.12" width="2.98" height="2.98" fill="#40ff00"/>
<rect x="166.40" y="91.12" width="2.98" height="2.98" fill="#00ff58"/>
<rect x="168.88" y="91.12" width="2.98" height="2.98" fill="#00ffff"/>
<rect x="171.35" y="91.12" width="2.98" height="2.98" fill="#0088ff"/>
<rect x="173.82" y="91.12" width="2.98" height="2.98" fill="#0020ff"/>
<rect x="176.30" y="91.12" width="2.98" height="2.98" fill="#2000ff"/>
<rect x="136.70" y="93.60" width="2.98" height="2.98" fill="#0800ff"/>
<rect x="139.18" y="93.60" width="2.98" height="2.98" fill="#0070ff"/>
<rect x="141.65" y="93.60" width="2.98" height="2.98" fill="#00f8ff"/>
<rect x="144.12" y="93.60" width="2.98" height="2.98" fill="#00ff78"/>
<rect x="146.60" y="93.60" width="2.98" height="2.98" fill="#20ff00"/>
<rect x="149.07" y="93.60" width="2.98" height="2.98" fill="#c0ff00"/>
<rect x="151.55" y="93.60" width="2.98" height="2.98" fill="#ff9800"/>
<rect x="154.03" y="93.60" width="2.98" height="2.98" fill="#ff3000"/>
<rect x="156.50" y="93.60" width="2.98" height="2.98" fill="#ff2000"/>
<rect x="158.98" y="93.60" width="2.98" height="2.98" fill="#ff8800"/>
<rect x="161.45" y="93.60" width="2.98" height="2.98" fill="#e0ff00"/>
<rect x="163.93" y="93.60" width="2.98" height="2.98" fill="#50ff00"/>
<rect x="166.40" y="93.60" width="2.98" height="2.98" fill="#00ff58"/>
<rect x="168.88" y="93.60" width="2.98" height="2.98" fill="#00ffff"/>
<rect x="171.35" y="93.60" width="2.98" height="2.98" fill="#0080ff"/>
<rect x="173.82" y="93.60" width="2.98" height="2.98" fill="#0020ff"/>
<rect x="176.30" y="93.60" width="2.98" height="2.98" fill="#0800ff"/>
<rect x="178.78" y="93.60" width="2.98" height="2.98" fill="#6800ff"/>
<rect x="136.70" y="96.08" width="2.98" height="2.98" fill="#0800ff"/>
<rect x="139.18" y="96.08" width="2.98" height="2.98" fill="#0070ff"/>
<rect x="141.65" y="96.08" width="2.98" height="2.98" fill="#00f8ff"/>
<rect x="144.12" y="96.08" width="2.98" height="2.98" fill="#00ff68"/>
<rect x="146.60" y="96.08" width="2.98" height="2.98" fill="#38ff00"/>
<rect x="149.07" y="96.08" width="2.98" height="2.98" fill="#e8ff00"/>
<rect x="151.55" y="96.08" width="2.98" height="2.98" fill="#ff6800"/>
<rect x="154.03" y="96.08" width="5.45" height="2.98" fill="#ff0000"/>
<rect x="158.98" y="96.08" width="2.98" height="2.98" fill="#ff5800"/>
<rect x="161.45" y="96.08" width="2.98" height="2.98" fill="#f8ff00"/>
<rect x="163.93" y="96.08" width="2.98" height="2.98" fill="#60ff00"/>
<rect x="166.40" y="96.08" width="2.98" height="2.98" fill="#00ff48"/>
<rect x="168.88" y="96.08" width="2.98" height="2.98" fill="#00ffff"/>
<rect x="171.35" y="96.08" width="2.98" height="2.98" fill="#0078ff"/>
<rect x="173.82" y="96.08" width="2.98" height="2.98" fill="#0018ff"/>
<rect x="176.30" y="96.08" width="2.98" height="2.98" fill="#1000ff"/>
<rect x="178.78" y="96.08" width="2.98" height="2.98" fill="#7000ff"/>
<rect x="136.70" y="98.55" width="2.98" height="2.98" fill="#1000ff"/>
<rect x="139.18" y="98.55" width="2.98" height="2.98" fill="#0070ff"/>
<rect x="141.65" y="98.55" width="2.98" height="2.98" fill="#00f8ff"/>
<rect x="144.12" y="98.55" width="2.98" height="2.98" fill="#00ff58"/>
<rect x="146.60" y="98.55" width="2.98" height="2.98" fill="#48ff00"/>
<rect x="149.07" y="98.55" width="2.98" height="2.98" fill="#fff800"/>
<rect x="151.55" y="98.55" width="2.98" height="2.98" fill="#ff4800"/>
<rect x="154.03" y="98.55" width="5.45" height="2.98" fill="#ff0000"/>
<rect x="158.98" y="98.55" width="2.98" height="2.98" fill="#ff3000"/>
<rect x="161.45" y="98.55" width="2.98" height="2.98" fill="#ffe000"/>
<rect x="163.93" y="98.55" width="2.98" height="2.98" fill="#68ff00"/>
<rect x="166.40" y="98.55" width="2.98" height="2.98" fill="#00ff48"/>
<rect x="168.88" y="98.55" width="2.98" height="2.98" fill="#00ffff"/>
<rect x="171.35" y="98.55" width="2.98" height="2.98" fill="#0070ff"/>
<rect x="173.82" y="98.55" width="2.98" height="2.98" fill="#0008ff"/>
<rect x="176.30" y="98.55" width="2.98" height="2.98" fill="#5000ff"/>
<rect x="136.70" y="101.03" width="2.98" height="2.98" fill="#1800ff"/>
<rect x="139.18" y="101.03" width="2.98" height="2.98" fill="#0070ff"/>
<rect x="141.65" y="101.03" width="2.98" height="2.98" fill="#00ffff"/>
<rect x="144.12" y="101.03" width="2.98" height="2.98" fill="#00ff50"/>
<rect x="146.60" y="101.03" width="2.98" height="2.98" fill="#58ff00"/>
<rect x="149.07" y="101.03" width="2.98" height="2.98" fill="#ffd800"/>
<rect x="151.55" y="101.03" width="2.98" height="2.98" fill="#ff2800"/>
<rect x="154.03" y="101.03" width="5.45" height="2.98" fill="#ff0000"/>
<rect x="158.98" y="101.03" width="2.98" height="2.98" fill="#ff1800"/>
<rect x="161.45" y="101.03" width="2.98" height="2.98" fill="#ffd000"/>
<rect x="163.93" y="101.03" width="2.98" height="2.98" fill="#70ff00"/>
<rect x="166.40" y="101.03" width="2.98" height="2.98" fill="#00ff48"/>
<rect x="168.88" y="101.03" width="2.98" height="2.98" fill="#00f8ff"/>
<rect x="171.35" y="101.03" width="2.98" height="2.98" fill="#0068ff"/>
<rect x="173.82" y="101.03" width="2.98" height="2.98" fill="#1000ff"/>
<rect x="136.70" y="103.50" width="2.98" height="2.98" fill="#2000ff"/>
<rect x="139.18" y="103.50" width="2.98" height="2.98" fill="#0070ff"/>
<rect x="141.65" y="103.50" width="2.98" height="2.98" fill="#00ffff"/>
<rect x="144.12" y="103.50" width="2.98" height="2.98" fill="#00ff48"/>
<rect x="146.60" y="103.50" width="2.98" height="2.98" fill="#68ff00"/>
<rect x="149.07" y="103.50" width="2.98" height="2.98" fill="#ffc800"/>
<rect x="151.55" y="103.50" width="2.98" height="2.98" fill="#ff2000"/>
<rect x="154.03" y="103.50" width="5.45" height="2.98" fill="#ff0000"/>
<rect x="158.98" y="103.50" width="2.98" height="2.98" fill="#ff2000"/>
<rect x="161.45" y="103.50" width="2.98" height="2.98" fill="#ffd000"/>
<rect x="163.93" y="103.50" width="2.98" height="2.98" fill="#78ff00"/>
<rect x="166.40" y="103.50" width="2.98" height="2.98" fill="#00ff38"/>
<rect x="168.88" y="103.50" width="2.98" height="2.98" fill="#00ffff"/>
<rect x="171.35" y="103.50" width="2.98" height="2.98" fill="#0068ff"/>
<rect x="173.82" y="103.50" width="2.98" height="2.98" fill="#0800ff"/>
<rect x="176.30" y="103.50" width="2.98" height="2.98" fill="#6800ff"/>
<rect x="136.70" y="105.98" width="2.98" height="2.98" fill="#2800ff"/>
<rect x="139.18" y="105.98" width="2.98" height="2.98" fill="#0070ff"/>
<rect x="141.65" y="105.98" width="2.98" height="2.98" fill="#00fff8"/>
<rect x="144.12" y="105.98" width="2.98" height="2.98" fill="#00ff40"/>
<rect x="146.60" y="105.98" width="2.98" height="2.98" fill="#78ff00"/>
<rect x="149.07" y="105.98" width="2.98" height="2.98" fill="#ffc000"/>
<rect x="151.55" y="105.98" width="2.98" height="2.98" fill="#ff2000"/>
<rect x="154.03" y="105.98" width="5.45" height="2.98" fill="#ff0000"/>
<rect x="158.98" y="105.98" width="2.98" height="2.98" fill="#ff2800"/>
<rect x="161.45" y="105.98" width="2.98" height="2.98" fill="#ffd800"/>
<rect x="163.93" y="105.98" width="2.98" height="2.98" fill="#70ff00"/>
<rect x="166.40" y="105.98" width="2.98" height="2.98" fill="#00ff38"/>
<rect x="168.88" y="105.98" width="2.98" height="2.98" fill="#00ffff"/>
<rect x="171.35" y="105.98" width="2.98" height="2.98" fill="#0068ff"/>
<rect x="173.82" y="105.98" width="2.98" height="2.98" fill="#0008ff"/>
<rect x="176.30" y="105.98" width="2.98" height="2.98" fill="#5000ff"/>
<rect x="136.70" y="108.45" width="2.98" height="2.98" fill="#1800ff"/>
<rect x="139.18" y="108.45" width="2.98" height="2.98" fill="#0078ff"/>
<rect x="141.65" y="108.45" width="2.98" height="2.98" fill="#00ffe8"/>
<rect x="144.12" y="108.45" width="2.98" height="2.98" fill="#00ff30"/>
<rect x="146.60" y="108.45" width="2.98" height="2.98" fill="#80ff00"/>
<rect x="149.07" y="108.45" width="2.98" height="2.98" fill="#ffc000"/>
<rect x="151.55" y="108.45" width="2.98" height="2.98" fill="#ff2000"/>
<rect x="154.03" y="108.45" width="5.45" height="2.98" fill="#ff0000"/>
<rect x="158.98" y="108.45" width="2.98" height="2.98" fill="#ff4800"/>
<rect x="161.45" y="108.45" width="2.98" height="2.98" fill="#fff000"/>
<rect x="163.93" y="108.45" width="2.98" height="2.98" fill="#68ff00"/>
<rect x="166.40" y="108.45" width="2.98" height="2.98" fill="#00ff48"/>
<rect x="168.88" y="108.45" width="2.98" height="2.98" fill="#00f8ff"/>
<rect x="171.35" y="108.45" width="2.98" height="2.98" fill="#0068ff"/>
<rect x="173.82" y="108.45" width="2.98" height="2.98" fill="#0800ff"/>
<rect x="176.30" y="108.45" width="2.98" height="2.98" fill="#7000ff"/>
<rect x="134.23" y="110.92" width="2.98" height="2.98" fill="#6000ff"/>
<rect x="136.70" y="110.92" width="2.98" height="2.98" fill="#0000ff"/>
<rect x="139.18" y="110.92" width="2.98" height="2.98" fill="#0088ff"/>
<rect x="141.65" y="110.92" width="2.98" height="2.98" fill="#00ffd8"/>
<rect x="144.12" y="110.92" width="2.98" height="2.98" fill="#00ff30"/>
<rect x="146.60" y="110.92" width="2.98" height="2.98" fill="#88ff00"/>
<rect x="149.07" y="110.92" width="2.98" height="2.98" fill="#ffc800"/>
<rect x="151.55" y="110.92" width="2.98" height="2.98" fill="#ff2800"/>
<rect x="154.03" y="110.92" width="5.45" height="2.98" fill="#ff0000"/>
<rect x="158.98" y="110.92" width="2.98" height="2.98" fill="#ff6000"/>
<rect x="161.45" y="110.92" width="2.98" height="2.98" fill="#ffff00"/>
<rect x="163.93" y="110.92" width="2.98" height="2.98" fill="#60ff00"/>
<rect x="166.40" y="110.92" width="2.98" height="2.98" fill="#00ff48"/>
<rect x="168.88" y="110.92" width="2.98" height="2.98" fill="#00f8ff"/>
<rect x="171.35" y="110.92" width="2.98" height="2.98" fill="#0060ff"/>
<rect x="173.82" y="110.92" width="2.98" height="2.98" fill="#2000ff"/>
<rect x="131.75" y="113.40" width="2.98" height="2.98" fill="#7000ff"/>
<rect x="134.23" y="113.40" width="2.98" height="2.98" fill="#1800ff"/>
<rect x="136.70" y="113.40" width="2.98" height="2.98" fill="#0028ff"/>
<rect x="139.18" y="113.40" width="2.98" height="2.98" fill="#00a0ff"/>
<rect x="141.65" y="113.40" width="2.98" height="2.98" fill="#00ffc8"/>
<rect x="144.12" y="113.40" width="2.98" height="2.98" fill="#00ff20"/>
<rect x="146.60" y="113.40" width="2.98" height="2.98" fill="#98ff00"/>
<rect x="149.07" y="113.40" width="2.98" height="2.98" fill="#ffd800"/>
<rect x="151.55" y="113.40" width="2.98" height="2.98" fill="#ff4800"/>
<rect x="154.03" y="113.40" width="2.98" height="2.98" fill="#ff0000"/>
<rect x="156.50" y="113.40" width="2.98" height="2.98" fill="#ff0800"/>
<rect x="158.98" y="113.40" width="2.98" height="2.98" fill="#ff7800"/>
<rect x="161.45" y="113.40" width="2.98" height="2.98" fill="#f0ff00"/>
<rect x="163.93" y="113.40" width="2.98" height="2.98" fill="#60ff00"/>
<rect x="166.40" y="113.40" width="2.98" height="2.98" fill="#00ff48"/>
<rect x="168.88" y="113.40" width="2.98" height="2.98" fill="#00f8ff"/>
<rect x="171.35" y="113.40" width="2.98" height="2.98" fill="#0058ff"/>
<rect x="173.82" y="113.40" width="2.98" height="2.98" fill="#4000ff"/>
<rect x="131.75" y="115.88" width="2.98" height="2.98" fill="#3800ff"/>
<rect x="134.23" y="115.88" width="2.98" height="2.98" fill="#0008ff"/>
<rect x="136.70" y="115.88" width="2.98" height="2.98" fill="#0040ff"/>
<rect x="139.18" y="115.88" width="2.98" height="2.98" fill="#00c0ff"/>
<rect x="141.65" y="115.88" width="2.98" height="2.98" fill="#00ffb8"/>
<rect x="144.12" y="115.88" width="2.98" height="2.98" fill="#00ff10"/>
<rect x="146.60" y="115.88" width="2.98" height="2.98" fill="#a0ff00"/>
<rect x="149.07" y="115.88" width="2.98" height="2.98" fill="#ffe000"/>
<rect x="151.55" y="115.88" width="2.98" height="2.98" fill="#ff6800"/>
<rect x="154.03" y="115.88" width="2.98" height="2.98" fill="#ff1000"/>
<rect x="156.50" y="115.88" width="2.98" height="2.98" fill="#ff3000"/>
<rect x="158.98" y="115.88" width="2.98" height="2.98" fill="#ff9000"/>
<rect x="161.45" y="115.88" width="2.98" height="2.98" fill="#e0ff00"/>
<rect x="163.93" y="115.88" width="2.98" height="2.98" fill="#50ff00"/>
<rect x="166.40" y="115.88" width="2.98" height="2.98" fill="#00ff58"/>
<rect x="168.88" y="115.88" width="2.98" height="2.98" fill="#00f8ff"/>
<rect x="171.35" y="115.88" width="2.98" height="2.98" fill="#0050ff"/>
<rect x="173.82" y="115.88" width="2.98" height="2.98" fill="#4800ff"/>
<rect x="131.75" y="118.35" width="2.98" height="2.98" fill="#1800ff"/>
<rect x="134.23" y="118.35" width="2.98" height="2.98" fill="#0018ff"/>
<rect x="136.70" y="118.35" width="2.98" height="2.98" fill="#0060ff"/>
<rect x="139.18" y="118.35" width="2.98" height="2.98" fill="#00d8ff"/>
<rect x="141.65" y="118.35" width="2.98" height="2.98" fill="#00ff98"/>
<rect x="144.12" y="118.35" width="2.98" height="2.98" fill="#00ff00"/>
<rect x="146.60" y="118.35" width="2.98" height="2.98" fill="#a0ff00"/>
<rect x="149.07" y="118.35" width="2.98" height="2.98" fill="#fff800"/>
<rect x="151.55" y="118.35" width="2.98" height="2.98" fill="#ff8800"/>
<rect x="154.03" y="118.35" width="2.98" height="2.98" fill="#ff4800"/>
<rect x="156.50" y="118.35" width="2.98" height="2.98" fill="#ff6000"/>
<rect x="158.98" y="118.35" width="2.98" height="2.98" fill="#ffb000"/>
<rect x="161.45" y="118.35" width="2.98" height="2.98" fill="#d8ff00"/>
<rect x="163.93" y="118.35" width="2.98" height="2.98" fill="#50ff00"/>
<rect x="166.40" y="118.35" width="2.98" height="2.98" fill="#00ff58"/>
<rect x="168.88" y="118.35" width="2.98" height="2.98" fill="#00f0ff"/>
<rect x="171.35" y="118.35" width="2.98" height="2.98" fill="#0048ff"/>
<rect x="173.82" y="118.35" width="2.98" height="2.98" fill="#4000ff"/>
<rect x="131.75" y="120.83" width="2.98" height="2.98" fill="#3000ff"/>
<rect x="134.23" y="120.83" width="2.98" height="2.98" fill="#0010ff"/>
<rect x="136.70" y="120.83" width="2.98" height="2.98" fill="#0078ff"/>
<rect x="139.18" y="120.83" width="2.98" height="2.98" fill="#00f8ff"/>
<rect x="141.65" y="120.83" width="2.98" height="2.98" fill="#00ff78"/>
<rect x="144.12" y="120.83" width="2.98" height="2.98" fill="#18ff00"/>
<rect x="146.60" y="120.83" width="2.98" height="2.98" fill="#a0ff00"/>
<rect x="149.07" y="120.83" width="2.98" height="2.98" fill="#f8ff00"/>
<rect x="151.55" y="120.83" width="2.98" height="2.98" fill="#ffb000"/>
<rect x="154.03" y="120.83" width="2.98" height="2.98" fill="#ff7800"/>
<rect x="156.50" y="120.83" width="2.98" height="2.98" fill="#ff8800"/>
<rect x="158.98" y="120.83" width="2.98" height="2.98" fill="#ffd800"/>
<rect x="161.45" y="120.83" width="2.98" height="2.98" fill="#c8ff00"/>
<rect x="163.93" y="120.83" width="2.98" height="2.98" fill="#40ff00"/>
<rect x="166.40" y="120.83" width="2.98" height="2.98" fill="#00ff70"/>
<rect x="168.88" y="120.83" width="2.98" height="2.98" fill="#00e8ff"/>
<rect x="171.35" y="120.83" width="2.98" height="2.98" fill="#0040ff"/>
<rect x="173.82" y="120.83" width="2.98" height="2.98" fill="#1000ff"/>
<rect x="176.30" y="120.83" width="2.98" height="2.98" fill="#5000ff"/>
<rect x="134.23" y="123.30" width="2.98" height="2.98" fill="#0800ff"/>
<rect x="136.70" y="123.30" width="2.98" height="2.98" fill="#0088ff"/>
<rect x="139.18" y="123.30" width="2.98" height="2.98" fill="#00ffe8"/>
<rect x="141.65" y="123.30" width="2.98" height="2.98" fill="#00ff60"/>
<rect x="144.12" y="123.30" width="2.98" height="2.98" fill="#28ff00"/>
<rect x="146.60" y="123.30" width="2.98" height="2.98" fill="#98ff00"/>
<rect x="149.07" y="123.30" width="2.98" height="2.98" fill="#e0ff00"/>
<rect x="151.55" y="123.30" width="2.98" height="2.98" fill="#ffd000"/>
<rect x="154.03" y="123.30" width="2.98" height="2.98" fill="#ff9800"/>
<rect x="156.50" y="123.30" width="2.98" height="2.98" fill="#ffb000"/>
<rect x="158.98" y="123.30" width="2.98" height="2.98" fill="#ffff00"/>
<rect x="161.45" y="123.30" width="2.98" height="2.98" fill="#b0ff00"/>
<rect x="163.93" y="123.30" width="2.98" height="2.98" fill="#30ff00"/>
<rect x="166.40" y="123.30" width="2.98" height="2.98" fill="#00ff78"/>
<rect x="168.88" y="123.30" width="2.98" height="2.98" fill="#00e0ff"/>
<rect x="171.35" y="123.30" width="2.98" height="2.98" fill="#0040ff"/>
<rect x="173.82" y="123.30" width="2.98" height="2.98" fill="#0010ff"/>
<rect x="176.30" y="123.30" width="2.98" height="2.98" fill="#0000ff"/>
<rect x="178.78" y="123.30" width="2.98" height="2.98" fill="#1800ff"/>
<rect x="181.25" y="123.30" width="2.98" height="2.98" fill="#7000ff"/>
<rect x="134.23" y="125.78" width="2.98" height="2.98" fill="#0800ff"/>
<rect x="136.70" y="125.78" width="2.98" height="2.98" fill="#0090ff"/>
<rect x="139.18" y="125.78" width="2.98" height="2.98" fill="#00ffd0"/>
<rect x="141.65" y="125.78" width="2.98" height="2.98" fill="#00ff48"/>
<rect x="144.12" y="125.78" width="2.98" height="2.98" fill="#28ff00"/>
<rect x="146.60" y="125.78" width="2.98" height="2.98" fill="#90ff00"/>
<rect x="149.07" y="125.78" width="2.98" height="2.98" fill="#d0ff00"/>
<rect x="151.55" y="125.78" width="2.98" height="2.98" fill="#fff800"/>
<rect x="154.03" y="125.78" width="2.98" height="2.98" fill="#ffc800"/>
<rect x="156.50" y="125.78" width="2.98" height="2.98" fill="#ffe000"/>
<rect x="158.98" y="125.78" width="2.98" height="2.98" fill="#e0ff00"/>
<rect x="161.45" y="125.78" width="2.98" height="2.98" fill="#98ff00"/>
<rect x="163.93" y="125.78" width="2.98" height="2.98" fill="#28ff00"/>
<rect x="166.40" y="125.78" width="2.98" height="2.98" fill="#00ff78"/>
<rect x="168.88" y="125.78" width="2.98" height="2.98" fill="#00d8ff"/>
<rect x="171.35" y="125.78" width="2.98" height="2.98" fill="#0038ff"/>
<rect x="173.82" y="125.78" width="2.98" height="2.98" fill="#0008ff"/>
<rect x="176.30" y="125.78" width="2.98" height="2.98" fill="#0800ff"/>
<rect x="178.78" y="125.78" width="2.98" height="2.98" fill="#3000ff"/>
<rect x="131.75" y="128.25" width="2.98" height="2.98" fill="#6800ff"/>
<rect x="134.23" y="128.25" width="2.98" height="2.98" fill="#0008ff"/>
<rect x="136.70" y="128.25" width="2.98" height="2.98" fill="#0090ff"/>
<rect x="139.18" y="128.25" width="2.98" height="2.98" fill="#00ffc8"/>
<rect x="141.65" y="128.25" width="2.98" height="2.98" fill="#00ff48"/>
<rect x="144.12" y="128.25" width="2.98" height="2.98" fill="#20ff00"/>
<rect x="146.60" y="128.25" width="2.98" height="2.98" fill="#78ff00"/>
<rect x="149.07" y="128.25" width="2.98" height="2.98" fill="#b8ff00"/>
<rect x="151.55" y="128.25" width="2.98" height="2.98" fill="#e8ff00"/>
<rect x="154.03" y="128.25" width="2.98" height="2.98" fill="#ffff00"/>
<rect x="156.50" y="128.25" width="2.98" height="2.98" fill="#f0ff00"/>
<rect x="158.98" y="128.25" width="2.98" height="2.98" fill="#c8ff00"/>
<rect x="161.45" y="128.25" width="2.98" height="2.98" fill="#80ff00"/>
<rect x="163.93" y="128.25" width="2.98" height="2.98" fill="#18ff00"/>
<rect x="166.40" y="128.25" width="2.98" height="2.98" fill="#00ff80"/>
<rect x="168.88" y="128.25" width="2.98" height="2.98" fill="#00d0ff"/>
<rect x="171.35" y="128.25" width="2.98" height="2.98" fill="#0038ff"/>
<rect x="173.82" y="128.25" width="2.98" height="2.98" fill="#2000ff"/>
<rect x="176.30" y="128.25" width="2.98" height="2.98" fill="#6800ff"/>
<rect x="131.75" y="130.73" width="2.98" height="2.98" fill="#7000ff"/>
<rect x="134.23" y="130.73" width="2.98" height="2.98" fill="#0000ff"/>
<rect x="136.70" y="130.73" width="2.98" height="2.98" fill="#0090ff"/>
<rect x="139.18" y="130.73" width="2.98" height="2.98" fill="#00ffc8"/>
<rect x="141.65" y="130.73" width="2.98" height="2.98" fill="#00ff48"/>
<rect x="144.12" y="130.73" width="2.98" height="2.98" fill="#10ff00"/>
<rect x="146.60" y="130.73" width="2.98" height="2.98" fill="#60ff00"/>
<rect x="149.07" y="130.73" width="2.98" height="2.98" fill="#a0ff00"/>
<rect x="151.55" y="130.73" width="2.98" height="2.98" fill="#c0ff00"/>
<rect x="154.03" y="130.73" width="2.98" height="2.98" fill="#d8ff00"/>
<rect x="156.50" y="130.73" width="2.98" height="2.98" fill="#c8ff00"/>
<rect x="158.98" y="130.73" width="2.98" height="2.98" fill="#a0ff00"/>
<rect x="161.45" y="130.73" width="2.98" height="2.98" fill="#60ff00"/>
<rect x="163.93" y="130.73" width="2.98" height="2.98" fill="#10ff00"/>
<rect x="166.40" y="130.73" width="2.98" height="2.98" fill="#00ff80"/>
<rect x="168.88" y="130.73" width="2.98" height="2.98" fill="#00d0ff"/>
<rect x="171.35" y="130.73" width="2.98" height="2.98" fill="#0040ff"/>
<rect x="173.82" y="130.73" width="2.98" height="2.98" fill="#4800ff"/>
<rect x="134.23" y="133.20" width="2.98" height="2.98" fill="#0800ff"/>
<rect x="136.70" y="133.20" width="2.98" height="2.98" fill="#0090ff"/>
<rect x="139.18" y="133.20" width="2.98" height="2.98" fill="#00ffc8"/>
<rect x="141.65" y="133.20" width="2.98" height="2.98" fill="#00ff58"/>
<rect x="144.12" y="133.20" width="2.98" height="2.98" fill="#00ff00"/>
<rect x="146.60" y="133.20" width="2.98" height="2.98" fill="#40ff00"/>
<rect x="149.07" y="133.20" width="2.98" height="2.98" fill="#78ff00"/>
<rect x="151.55" y="133.20" width="2.98" height="2.98" fill="#a0ff00"/>
<rect x="154.03" y="133.20" width="2.98" height="2.98" fill="#b0ff00"/>
<rect x="156.50" y="133.20" width="2.98" height="2.98" fill="#a0ff00"/>
<rect x="158.98" y="133.20" width="2.98" height="2.98" fill="#78ff00"/>
<rect x="161.45" y="133.20" width="2.98" height="2.98" fill="#40ff00"/>
<rect x="163.93" y="133.20" width="2.98" height="2.98" fill="#00ff08"/>
<rect x="166.40" y="133.20" width="2.98" height="2.98" fill="#00ff90"/>
<rect x="168.88" y="133.20" width="2.98" height="2.98" fill="#00d0ff"/>
<rect x="171.35" y="133.20" width="2.98" height="2.98" fill="#0048ff"/>
<rect x="173.82" y="133.20" width="2.98" height="2.98" fill="#2000ff"/>
<rect x="176.30" y="133.20" width="2.98" height="2.98" fill="#7000ff"/>
<rect x="134.23" y="135.68" width="2.98" height="2.98" fill="#0000ff"/>
<rect x="136.70" y="135.68" width="2.98" height="2.98" fill="#00a0ff"/>
<rect x="139.18" y="135.68" width="2.98" height="2.98" fill="#00ffc8"/>
<rect x="141.65" y="135.68" width="2.98" height="2.98" fill="#00ff68"/>
<rect x="144.12" y="135.68" width="2.98" height="2.98" fill="#00ff10"/>
<rect x="146.60" y="135.68" width="2.98" height="2.98" fill="#28ff00"/>
<rect x="149.07" y="135.68" width="2.98" height="2.98" fill="#58ff00"/>
<rect x="151.55" y="135.68" width="2.98" height="2.98" fill="#78ff00"/>
<rect x="154.03" y="135.68" width="2.98" height="2.98" fill="#88ff00"/>
<rect x="156.50" y="135.68" width="2.98" height="2.98" fill="#70ff00"/>
<rect x="158.98" y="135.68" width="2.98" height="2.98" fill="#50ff00"/>
<rect x="161.45" y="135.68" width="2.98" height="2.98" fill="#20ff00"/>
<rect x="163.93" y="135.68" width="2.98" height="2.98" fill="#00ff28"/>
<rect x="166.40" y="135.68" width="2.98" height="2.98" fill="#00ffa0"/>
<rect x="168.88" y="135.68" width="2.98" height="2.98" fill="#00d0ff"/>
<rect x="171.35" y="135.68" width="2.98" height="2.98" fill="#0050ff"/>
<rect x="173.82" y="135.68" width="2.98" height="2.98" fill="#0010ff"/>
<rect x="176.30" y="135.68" width="2.98" height="2.98" fill="#1000ff"/>
<rect x="178.78" y="135.68" width="2.98" height="2.98" fill="#1800ff"/>
<rect x="181.25" y="135.68" width="2.98" height="2.98" fill="#6000ff"/>
<rect x="131.75" y="138.15" width="2.98" height="2.98" fill="#6800ff"/>
<rect x="134.23" y="138.15" width="2.98" height="2.98" fill="#0018ff"/>
<rect x="136.70" y="138.15" width="2.98" height="2.98" fill="#00b0ff"/>
<rect x="139.18" y="138.15" width="2.98" height="2.98" fill="#00ffc8"/>
<rect x="141.65" y="138.15" width="2.98" height="2.98" fill="#00ff70"/>
<rect x="144.12" y="138.15" width="2.98" height="2.98" fill="#00ff28"/>
<rect x="146.60" y="138.15" width="2.98" height="2.98" fill="#10ff00"/>
<rect x="149.07" y="138.15" width="2.98" height="2.98" fill="#38ff00"/>
<rect x="151.55" y="138.15" width="2.98" height="2.98" fill="#58ff00"/>
<rect x="154.03" y="138.15" width="2.98" height="2.98" fill="#60ff00"/>
<rect x="156.50" y="138.15" width="2.98" height="2.98" fill="#48ff00"/>
<rect x="158.98" y="138.15" width="2.98" height="2.98" fill="#28ff00"/>
<rect x="161.45" y="138.15" width="2.98" height="2.98" fill="#00ff00"/>
<rect x="163.93" y="138.15" width="2.98" height="2.98" fill="#00ff48"/>
<rect x="166.40" y="138.15" width="2.98" height="2.98" fill="#00ffb8"/>
<rect x="168.88" y="138.15" width="2.98" height="2.98" fill="#00d0ff"/>
<rect x="171.35" y="138.15" width="2.98" height="2.98" fill="#0058ff"/>
<rect x="173.82" y="138.15" width="2.98" height="2.98" fill="#0018ff"/>
<rect x="176.30" y="138.15" width="2.98" height="2.98" fill="#0008ff"/>
<rect x="178.78" y="138.15" width="2.98" height="2.98" fill="#1800ff"/>
<rect x="181.25" y="138.15" width="2.98" height="2.98" fill="#6800ff"/>
<rect x="131.75" y="140.62" width="2.98" height="2.98" fill="#4000ff"/>
<rect x="134.23" y="140.62" width="2.98" height="2.98" fill="#0028ff"/>
<rect x="136.70" y="140.62" width="2.98" height="2.98" fill="#00b8ff"/>
<rect x="139.18" y="140.62" width="2.98" height="2.98" fill="#00ffc8"/>
<rect x="141.65" y="140.62" width="2.98" height="2.98" fill="#00ff80"/>
<rect x="144.12" y="140.62" width="2.98" height="2.98" fill="#00ff38"/>
<rect x="146.60" y="140.62" width="2.98" height="2.98" fill="#00ff08"/>
<rect x="149.07" y="140.62" width="2.98" height="2.98" fill="#20ff00"/>
<rect x="151.55" y="140.62" width="5.45" height="2.98" fill="#38ff00"/>
<rect x="156.50" y="140.62" width="2.98" height="2.98" fill="#28ff00"/>
<rect x="158.98" y="140.62" width="2.98" height="2.98" fill="#08ff00"/>
<rect x="161.45" y="140.62" width="2.98" height="2.98" fill="#00ff20"/>
<rect x="163.93" y="140.62" width="2.98" height="2.98" fill="#00ff68"/>
<rect x="166.40" y="140.62" width="2.98" height="2.98" fill="#00ffd0"/>
<rect x="168.88" y="140.62" width="2.98" height="2.98" fill="#00c8ff"/>
<rect x="171.35" y="140.62" width="2.98" height="2.98" fill="#0058ff"/>
<rect x="173.82" y="140.62" width="2.98" height="2.98" fill="#0000ff"/>
<rect x="176.30" y="140.62" width="2.98" height="2.98" fill="#4800ff"/>
<rect x="178.78" y="140.62" width="2.98" height="2.98" fill="#7000ff"/>
<rect x="131.75" y="143.10" width="2.98" height="2.98" fill="#2000ff"/>
<rect x="134.23" y="143.10" width="2.98" height="2.98" fill="#0040ff"/>
<rect x="136.70" y="143.10" width="2.98" height="2.98" fill="#00c0ff"/>
<rect x="139.18" y="143.10" width="2.98" height="2.98" fill="#00ffc8"/>
<rect x="141.65" y="143.10" width="2.98" height="2.98" fill="#00ff88"/>
<rect x="144.12" y="143.10" width="2.98" height="2.98" fill="#00ff50"/>
<rect x="146.60" y="143.10" width="2.98" height="2.98" fill="#00ff20"/>
<rect x="149.07" y="143.10" width="2.98" height="2.98" fill="#08ff00"/>
<rect x="151.55" y="143.10" width="5.45" height="2.98" fill="#18ff00"/>
<rect x="156.50" y="143.10" width="2.98" height="2.98" fill="#08ff00"/>
<rect x="158.98" y="143.10" width="2.98" height="2.98" fill="#00ff10"/>
<rect x="161.45" y="143.10" width="2.98" height="2.98" fill="#00ff48"/>
<rect x="163.93" y="143.10" width="2.98" height="2.98" fill="#00ff90"/>
<rect x="166.40" y="143.10" width="2.98" height="2.98" fill="#00ffe8"/>
<rect x="168.88" y="143.10" width="2.98" height="2.98" fill="#00a8ff"/>
<rect x="171.35" y="143.10" width="2.98" height="2.98" fill="#0040ff"/>
<rect x="173.82" y="143.10" width="2.98" height="2.98" fill="#2800ff"/>
<rect x="131.75" y="145.58" width="2.98" height="2.98" fill="#1000ff"/>
<rect x="134.23" y="145.58" width="2.98" height="2.98" fill="#0048ff"/>
<rect x="136.70" y="145.58" width="2.98" height="2.98" fill="#00c8ff"/>
<rect x="139.18" y="145.58" width="2.98" height="2.98" fill="#00ffd0"/>
<rect x="141.65" y="145.58" width="2.98" height="2.98" fill="#00ff98"/>
<rect x="144.12" y="145.58" width="2.98" height="2.98" fill="#00ff68"/>
<rect x="146.60" y="145.58" width="2.98" height="2.98" fill="#00ff38"/>
<rect x="149.07" y="145.58" width="2.98" height="2.98" fill="#00ff10"/>
<rect x="151.55" y="145.58" width="5.45" height="2.98" fill="#00ff00"/>
<rect x="156.50" y="145.58" width="2.98" height="2.98" fill="#00ff18"/>
<rect x="158.98" y="145.58" width="2.98" height="2.98" fill="#00ff38"/>
<rect x="161.45" y="145.58" width="2.98" height="2.98" fill="#00ff70"/>
<rect x="163.93" y="145.58" width="2.98" height="2.98" fill="#00ffb8"/>
<rect x="166.40" y="145.58" width="2.98" height="2.98" fill="#00e8ff"/>
<rect x="168.88" y="145.58" width="2.98" height="2.98" fill="#0078ff"/>
<rect x="171.35" y="145.58" width="2.98" height="2.98" fill="#0020ff"/>
<rect x="173.82" y="145.58" width="2.98" height="2.98" fill="#3800ff"/>
<rect x="131.75" y="148.05" width="2.98" height="2.98" fill="#1000ff"/>
<rect x="134.23" y="148.05" width="2.98" height="2.98" fill="#0040ff"/>
<rect x="136.70" y="148.05" width="2.98" height="2.98" fill="#00c0ff"/>
<rect x="139.18" y="148.05" width="2.98" height="2.98" fill="#00ffd8"/>
<rect x="141.65" y="148.05" width="2.98" height="2.98" fill="#00ffa8"/>
<rect x="144.12" y="148.05" width="2.98" height="2.98" fill="#00ff78"/>
<rect x="146.60" y="148.05" width="2.98" height="2.98" fill="#00ff50"/>
<rect x="149.07" y="148.05" width="2.98" height="2.98" fill="#00ff38"/>
<rect x="151.55" y="148.05" width="5.45" height="2.98" fill="#00ff28"/>
<rect x="156.50" y="148.05" width="2.98" height="2.98" fill="#00ff40"/>
<rect x="158.98" y="148.05" width="2.98" height="2.98" fill="#00ff68"/>
<rect x="161.45" y="148.05" width="2.98" height="2.98" fill="#00ffa0"/>
<rect x="163.93" y="148.05" width="2.98" height="2.98" fill="#00ffe0"/>
<rect x="166.40" y="148.05" width="2.98" height="2.98" fill="#00a0ff"/>
<rect x="168.88" y="148.05" width="2.98" height="2.98" fill="#0038ff"/>
<rect x="171.35" y="148.05" width="2.98" height="2.98" fill="#0010ff"/>
<rect x="173.82" y="148.05" width="2.98" height="2.98" fill="#4000ff"/>
<rect x="131.75" y="150.53" width="2.98" height="2.98" fill="#2000ff"/>
<rect x="134.23" y="150.53" width="2.98" height="2.98" fill="#0028ff"/>
<rect x="136.70" y="150.53" width="2.98" height="2.98" fill="#00a8ff"/>
<rect x="139.18" y="150.53" width="2.98" height="2.98" fill="#00ffe0"/>
<rect x="141.65" y="150.53" width="2.98" height="2.98" fill="#00ffb0"/>
<rect x="144.12" y="150.53" width="2.98" height="2.98" fill="#00ff90"/>
<rect x="146.60" y="150.53" width="2.98" height="2.98" fill="#00ff70"/>
<rect x="149.07" y="150.53" width="2.98" height="2.98" fill="#00ff58"/>
<rect x="151.55" y="150.53" width="2.98" height="2.98" fill="#00ff50"/>
<rect x="154.03" y="150.53" width="2.98" height="2.98" fill="#00ff58"/>
<rect x="156.50" y="150.53" width="2.98" height="2.98" fill="#00ff70"/>
<rect x="158.98" y="150.53" width="2.98" height="2.98" fill="#00ff90"/>
<rect x="161.45" y="150.53" width="2.98" height="2.98" fill="#00ffc0"/>
<rect x="163.93" y="150.53" width="2.98" height="2.98" fill="#00e8ff"/>
<rect x="166.40" y="150.53" width="2.98" height="2.98" fill="#0058ff"/>
<rect x="168.88" y="150.53" width="2.98" height="2.98" fill="#0018ff"/>
<rect x="171.35" y="150.53" width="2.98" height="2.98" fill="#0008ff"/>
<rect x="173.82" y="150.53" width="2.98" height="2.98" fill="#5000ff"/>
<rect x="131.75" y="153.00" width="2.98" height="2.98" fill="#3000ff"/>
<rect x="134.23" y="153.00" width="2.98" height="2.98" fill="#0020ff"/>
<rect x="136.70" y="153.00" width="2.98" height="2.98" fill="#00a0ff"/>
<rect x="139.18" y="153.00" width="2.98" height="2.98" fill="#00ffe0"/>
<rect x="141.65" y="153.00" width="2.98" height="2.98" fill="#00ffb8"/>
<rect x="144.12" y="153.00" width="2.98" height="2.98" fill="#00ffa0"/>
<rect x="146.60" y="153.00" width="2.98" height="2.98" fill="#00ff80"/>
<rect x="149.07" y="153.00" width="7.93" height="2.98" fill="#00ff78"/>
<rect x="156.50" y="153.00" width="2.98" height="2.98" fill="#00ff88"/>
<rect x="158.98" y="153.00" width="2.98" height="2.98" fill="#00ffb0"/>
<rect x="161.45" y="153.00" width="2.98" height="2.98" fill="#00ffd8"/>
<rect x="163.93" y="153.00" width="2.98" height="2.98" fill="#00c8ff"/>
<rect x="166.40" y="153.00" width="2.98" height="2.98" fill="#0050ff"/>
<rect x="168.88" y="153.00" width="2.98" height="2.98" fill="#0018ff"/>
<rect x="171.35" y="153.00" width="2.98" height="2.98" fill="#0008ff"/>
<rect x="173.82" y="153.00" width="2.98" height="2.98" fill="#4800ff"/>
<rect x="131.75" y="155.47" width="2.98" height="2.98" fill="#5000ff"/>
<rect x="134.23" y="155.47" width="2.98" height="2.98" fill="#0010ff"/>
<rect x="136.70" y="155.47" width="2.98" height="2.98" fill="#0080ff"/>
<rect x="139.18" y="155.47" width="2.98" height="2.98" fill="#00ffe8"/>
<rect x="141.65" y="155.47" width="2.98" height="2.98" fill="#00ffb0"/>
<rect x="144.12" y="155.47" width="2.98" height="2.98" fill="#00ffa8"/>
<rect x="146.60" y="155.47" width="12.88" height="2.98" fill="#00ffa0"/>
<rect x="158.98" y="155.47" width="2.98" height="2.98" fill="#00ffc0"/>
<rect x="161.45" y="155.47" width="2.98" height="2.98" fill="#00ffe8"/>
<rect x="163.93" y="155.47" width="2.98" height="2.98" fill="#00c0ff"/>
<rect x="166.40" y="155.47" width="2.98" height="2.98" fill="#0058ff"/>
<rect x="168.88" y="155.47" width="2.98" height="2.98" fill="#0020ff"/>
<rect x="171.35" y="155.47" width="2.98" height="2.98" fill="#0010ff"/>
<rect x="173.82" y="155.47" width="2.98" height="2.98" fill="#4000ff"/>
<rect x="131.75" y="157.95" width="2.98" height="2.98" fill="#7000ff"/>
<rect x="134.23" y="157.95" width="2.98" height="2.98" fill="#1000ff"/>
<rect x="136.70" y="157.95" width="2.98" height="2.98" fill="#0058ff"/>
<rect x="139.18" y="157.95" width="2.98" height="2.98" fill="#00f8ff"/>
<rect x="141.65" y="157.95" width="2.98" height="2.98" fill="#00ffb8"/>
<rect x="144.12" y="157.95" width="2.98" height="2.98" fill="#00ff90"/>
<rect x="146.60" y="157.95" width="2.98" height="2.98" fill="#00ffa0"/>
<rect x="149.07" y="157.95" width="2.98" height="2.98" fill="#00ffb8"/>
<rect x="151.55" y="157.95" width="5.45" height="2.98" fill="#00ffc0"/>
<rect x="156.50" y="157.95" width="2.98" height="2.98" fill="#00ffa8"/>
<rect x="158.98" y="157.95" width="2.98" height="2.98" fill="#00ffb8"/>
<rect x="161.45" y="157.95" width="2.98" height="2.98" fill="#00fff0"/>
<rect x="163.93" y="157.95" width="2.98" height="2.98" fill="#00b8ff"/>
<rect x="166.40" y="157.95" width="2.98" height="2.98" fill="#0060ff"/>
<rect x="168.88" y="157.95" width="2.98" height="2.98" fill="#0020ff"/>
<rect x="171.35" y="157.95" width="2.98" height="2.98" fill="#0010ff"/>
<rect x="173.82" y="157.95" width="2.98" height="2.98" fill="#4000ff"/>
<rect x="134.23" y="160.43" width="2.98" height="2.98" fill="#4000ff"/>
<rect x="136.70" y="160.43" width="2.98" height="2.98" fill="#0028ff"/>
<rect x="139.18" y="160.43" width="2.98" height="2.98" fill="#00c8ff"/>
<rect x="141.65" y="160.43" width="2.98" height="2.98" fill="#00ffd0"/>
<rect x="144.12" y="160.43" width="2.98" height="2.98" fill="#00ffa8"/>
<rect x="146.60" y="160.43" width="2.98" height="2.98" fill="#00ffb0"/>
<rect x="149.07" y="160.43" width="2.98" height="2.98" fill="#00ffd8"/>
<rect x="151.55" y="160.43" width="2.98" height="2.98" fill="#00fff0"/>
<rect x="154.03" y="160.43" width="2.98" height="2.98" fill="#00ffe8"/>
<rect x="156.50" y="160.43" width="2.98" height="2.98" fill="#00ffc8"/>
<rect x="158.98" y="160.43" width="2.98" height="2.98" fill="#00ffd8"/>
<rect x="161.45" y="160.43" width="2.98" height="2.98" fill="#00f0ff"/>
<rect x="163.93" y="160.43" width="2.98" height="2.98" fill="#00a8ff"/>
<rect x="166.40" y="160.43" width="2.98" height="2.98" fill="#0058ff"/>
<rect x="168.88" y="160.43" width="2.98" height="2.98" fill="#0018ff"/>
<rect x="171.35" y="160.43" width="2.98" height="2.98" fill="#0000ff"/>
<rect x="173.82" y="160.43" width="2.98" height="2.98" fill="#5800ff"/>
<rect x="136.70" y="162.90" width="2.98" height="2.98" fill="#1000ff"/>
<rect x="139.18" y="162.90" width="2.98" height="2.98" fill="#0078ff"/>
<rect x="141.65" y="162.90" width="2.98" height="2.98" fill="#00f0ff"/>
<rect x="144.12" y="162.90" width="5.45" height="2.98" fill="#00ffd8"/>
<rect x="149.07" y="162.90" width="2.98" height="2.98" fill="#00ffff"/>
<rect x="151.55" y="162.90" width="5.45" height="2.98" fill="#00e8ff"/>
<rect x="156.50" y="162.90" width="2.98" height="2.98" fill="#00ffff"/>
<rect x="158.98" y="162.90" width="2.98" height="2.98" fill="#00f0ff"/>
<rect x="161.45" y="162.90" width="2.98" height="2.98" fill="#00b8ff"/>
<rect x="163.93" y="162.90" width="2.98" height="2.98" fill="#0080ff"/>
<rect x="166.40" y="162.90" width="2.98" height="2.98" fill="#0038ff"/>
<rect x="168.88" y="162.90" width="2.98" height="2.98" fill="#0000ff"/>
<rect x="171.35" y="162.90" width="2.98" height="2.98" fill="#3000ff"/>
<rect x="136.70" y="165.38" width="2.98" height="2.98" fill="#6800ff"/>
<rect x="139.18" y="165.38" width="2.98" height="2.98" fill="#0028ff"/>
<rect x="141.65" y="165.38" width="2.98" height="2.98" fill="#00a0ff"/>
<rect x="144.12" y="165.38" width="2.98" height="2.98" fill="#00e0ff"/>
<rect x="146.60" y="165.38" width="2.98" height="2.98" fill="#00f0ff"/>
<rect x="149.07" y="165.38" width="2.98" height="2.98" fill="#00e0ff"/>
<rect x="151.55" y="165.38" width="2.98" height="2.98" fill="#00c8ff"/>
<rect x="154.03" y="165.38" width="5.45" height="2.98" fill="#00c0ff"/>
<rect x="158.98" y="165.38" width="2.98" height="2.98" fill="#00a8ff"/>
<rect x="161.45" y="165.38" width="2.98" height="2.98" fill="#0078ff"/>
<rect x="163.93" y="165.38" width="2.98" height="2.98" fill="#0048ff"/>
<rect x="166.40" y="165.38" width="2.98" height="2.98" fill="#0800ff"/>
<rect x="168.88" y="165.38" width="2.98" height="2.98" fill="#5000ff"/>
<rect x="139.18" y="167.85" width="2.98" height="2.98" fill="#4800ff"/>
<rect x="141.65" y="167.85" width="2.98" height="2.98" fill="#0058ff"/>
<rect x="144.12" y="167.85" width="2.98" height="2.98" fill="#00a0ff"/>
<rect x="146.60" y="167.85" width="5.45" height="2.98" fill="#00c0ff"/>
<rect x="151.55" y="167.85" width="2.98" height="2.98" fill="#00a8ff"/>
<rect x="154.03" y="167.85" width="2.98" height="2.98" fill="#0098ff"/>
<rect x="156.50" y="167.85" width="2.98" height="2.98" fill="#0088ff"/>
<rect x="158.98" y="167.85" width="2.98" height="2.98" fill="#0058ff"/>
<rect x="161.45" y="167.85" width="2.98" height="2.98" fill="#0018ff"/>
<rect x="163.93" y="167.85" width="2.98" height="2.98" fill="#4000ff"/>
<rect x="141.65" y="170.33" width="2.98" height="2.98" fill="#0018ff"/>
<rect x="144.12" y="170.33" width="2.98" height="2.98" fill="#0070ff"/>
<rect x="146.60" y="170.33" width="2.98" height="2.98" fill="#0098ff"/>
<rect x="149.07" y="170.33" width="2.98" height="2.98" fill="#00a8ff"/>
<rect x="151.55" y="170.33" width="2.98" height="2.98" fill="#0090ff"/>
<rect x="154.03" y="170.33" width="2.98" height="2.98" fill="#0078ff"/>
<rect x="156.50" y="170.33" width="2.98" height="2.98" fill="#0050ff"/>
<rect x="158.98" y="170.33" width="2.98" height="2.98" fill="#0800ff"/>
<rect x="161.45" y="170.33" width="2.98" height="2.98" fill="#6800ff"/>
<rect x="139.18" y="172.80" width="2.98" height="2.98" fill="#6800ff"/>
<rect x="141.65" y="172.80" width="2.98" height="2.98" fill="#0800ff"/>
<rect x="144.12" y="172.80" width="2.98" height="2.98" fill="#0048ff"/>
<rect x="146.60" y="172.80" width="2.98" height="2.98" fill="#0078ff"/>
<rect x="149.07" y="172.80" width="5.45" height="2.98" fill="#0090ff"/>
<rect x="154.03" y="172.80" width="2.98" height="2.98" fill="#0070ff"/>
<rect x="156.50" y="172.80" width="2.98" height="2.98" fill="#0028ff"/>
<rect x="158.98" y="172.80" width="2.98" height="2.98" fill="#5800ff"/>
<rect x="134.23" y="175.28" width="2.98" height="2.98" fill="#5800ff"/>
<rect x="136.70" y="175.28" width="2.98" height="2.98" fill="#3800ff"/>
<rect x="139.18" y="175.28" width="2.98" height="2.98" fill="#1800ff"/>
<rect x="141.65" y="175.28" width="2.98" height="2.98" fill="#0008ff"/>
<rect x="144.12" y="175.28" width="2.98" height="2.98" fill="#0030ff"/>
<rect x="146.60" y="175.28" width="2.98" height="2.98" fill="#0068ff"/>
<rect x="149.07" y="175.28" width="2.98" height="2.98" fill="#00a0ff"/>
<rect x="151.55" y="175.28" width="2.98" height="2.98" fill="#00a8ff"/>
<rect x="154.03" y="175.28" width="2.98" height="2.98" fill="#0070ff"/>
<rect x="156.50" y="175.28" width="2.98" height="2.98" fill="#0008ff"/>
<rect x="131.75" y="177.75" width="2.98" height="2.98" fill="#5000ff"/>
<rect x="134.23" y="177.75" width="2.98" height="2.98" fill="#0000ff"/>
<rect x="136.70" y="177.75" width="7.93" height="2.98" fill="#0010ff"/>
<rect x="144.12" y="177.75" width="2.98" height="2.98" fill="#0020ff"/>
<rect x="146.60" y="177.75" width="2.98" height="2.98" fill="#0050ff"/>
<rect x="149.07" y="177.75" width="2.98" height="2.98" fill="#0088ff"/>
<rect x="151.55" y="177.75" width="2.98" height="2.98" fill="#00a8ff"/>
<rect x="154.03" y="177.75" width="2.98" height="2.98" fill="#0080ff"/>
<rect x="156.50" y="177.75" width="2.98" height="2.98" fill="#0000ff"/>
<rect x="131.75" y="180.22" width="2.98" height="2.98" fill="#1800ff"/>
<rect x="134.23" y="180.22" width="10.40" height="2.98" fill="#0010ff"/>
<rect x="144.12" y="180.22" width="2.98" height="2.98" fill="#0018ff"/>
<rect x="146.60" y="180.22" width="2.98" height="2.98" fill="#0038ff"/>
<rect x="149.07" y="180.22" width="2.98" height="2.98" fill="#0068ff"/>
<rect x="151.55" y="180.22" width="2.98" height="2.98" fill="#0098ff"/>
<rect x="154.03" y="180.22" width="2.98" height="2.98" fill="#0090ff"/>
<rect x="156.50" y="180.22" width="2.98" height="2.98" fill="#0030ff"/>
<rect x="131.75" y="182.70" width="2.98" height="2.98" fill="#1000ff"/>
<rect x="134.23" y="182.70" width="10.40" height="2.98" fill="#0010ff"/>
<rect x="144.12" y="182.70" width="2.98" height="2.98" fill="#0018ff"/>
<rect x="146.60" y="182.70" width="2.98" height="2.98" fill="#0028ff"/>
<rect x="149.07" y="182.70" width="2.98" height="2.98" fill="#0048ff"/>
<rect x="151.55" y="182.70" width="2.98" height="2.98" fill="#0078ff"/>
<rect x="154.03" y="182.70" width="2.98" height="2.98" fill="#0098ff"/>
<rect x="156.50" y="182.70" width="2.98" height="2.98" fill="#0068ff"/>
<rect x="158.98" y="182.70" width="2.98" height="2.98" fill="#4800ff"/>
<rect x="131.75" y="185.18" width="2.98" height="2.98" fill="#1800ff"/>
<rect x="134.23" y="185.18" width="12.88" height="2.98" fill="#0010ff"/>
<rect x="146.60" y="185.18" width="2.98" height="2.98" fill="#0020ff"/>
<rect x="149.07" y="185.18" width="2.98" height="2.98" fill="#0030ff"/>
<rect x="151.55" y="185.18" width="2.98" height="2.98" fill="#0050ff"/>
<rect x="154.03" y="185.18" width="2.98" height="2.98" fill="#0078ff"/>
<rect x="156.50" y="185.18" width="2.98" height="2.98" fill="#0058ff"/>
<rect x="158.98" y="185.18" width="2.98" height="2.98" fill="#0800ff"/>
<rect x="131.75" y="187.65" width="2.98" height="2.98" fill="#1800ff"/>
<rect x="134.23" y="187.65" width="15.35" height="2.98" fill="#0010ff"/>
<rect x="149.07" y="187.65" width="2.98" height="2.98" fill="#0020ff"/>
<rect x="151.55" y="187.65" width="2.98" height="2.98" fill="#0030ff"/>
<rect x="154.03" y="187.65" width="2.98" height="2.98" fill="#0040ff"/>
<rect x="156.50" y="187.65" width="2.98" height="2.98" fill="#0028ff"/>
<rect x="158.98" y="187.65" width="2.98" height="2.98" fill="#0000ff"/>
<rect x="161.45" y="187.65" width="2.98" height="2.98" fill="#5800ff"/>
<rect x="129.28" y="190.12" width="2.98" height="2.98" fill="#7000ff"/>
<rect x="131.75" y="190.12" width="2.98" height="2.98" fill="#0800ff"/>
<rect x="134.23" y="190.12" width="17.82" height="2.98" fill="#0010ff"/>
<rect x="151.55" y="190.12" width="5.45" height="2.98" fill="#0018ff"/>
<rect x="156.50" y="190.12" width="2.98" height="2.98" fill="#0010ff"/>
<rect x="158.98" y="190.12" width="2.98" height="2.98" fill="#0000ff"/>
<rect x="161.45" y="190.12" width="2.98" height="2.98" fill="#6000ff"/>
<rect x="129.28" y="192.60" width="2.98" height="2.98" fill="#6000ff"/>
<rect x="131.75" y="192.60" width="2.98" height="2.98" fill="#0000ff"/>
<rect x="134.23" y="192.60" width="22.78" height="2.98" fill="#0010ff"/>
<rect x="156.50" y="192.60" width="2.98" height="2.98" fill="#0008ff"/>
<rect x="158.98" y="192.60" width="2.98" height="2.98" fill="#2000ff"/>
<rect x="166.40" y="192.60" width="2.98" height="2.98" fill="#7000ff"/>
<rect x="131.75" y="195.08" width="2.98" height="2.98" fill="#1800ff"/>
<rect x="134.23" y="195.08" width="10.40" height="2.98" fill="#0010ff"/>
<rect x="144.12" y="195.08" width="2.98" height="2.98" fill="#0008ff"/>
<rect x="146.60" y="195.08" width="2.98" height="2.98" fill="#0000ff"/>
<rect x="149.07" y="195.08" width="2.98" height="2.98" fill="#0800ff"/>
<rect x="151.55" y="195.08" width="2.98" height="2.98" fill="#1000ff"/>
<rect x="154.03" y="195.08" width="2.98" height="2.98" fill="#2000ff"/>
<rect x="156.50" y="195.08" width="2.98" height="2.98" fill="#3800ff"/>
<rect x="158.98" y="195.08" width="2.98" height="2.98" fill="#7000ff"/>
<rect x="161.45" y="195.08" width="2.98" height="2.98" fill="#6000ff"/>
<rect x="163.93" y="195.08" width="5.45" height="2.98" fill="#1800ff"/>
<rect x="168.88" y="195.08" width="2.98" height="2.98" fill="#5000ff"/>
<rect x="131.75" y="197.55" width="2.98" height="2.98" fill="#6000ff"/>
<rect x="134.23" y="197.55" width="2.98" height="2.98" fill="#2000ff"/>
<rect x="136.70" y="197.55" width="5.45" height="2.98" fill="#1000ff"/>
<rect x="141.65" y="197.55" width="2.98" height="2.98" fill="#2800ff"/>
<rect x="144.12" y="197.55" width="2.98" height="2.98" fill="#4800ff"/>
<rect x="146.60" y="197.55" width="2.98" height="2.98" fill="#6000ff"/>
<rect x="149.07" y="197.55" width="2.98" height="2.98" fill="#7000ff"/>
<rect x="163.93" y="197.55" width="5.45" height="2.98" fill="#6000ff"/></g><path d="M178.0 2.6 L178.0 3.4 L178.1 4.1 L178.3 4.6 L178.6 5.0 L179.0 5.4 L179.4 5.8 L179.7 6.1 L180.0 6.6 L180.4 7.1 L180.6 7.4 L181.0 7.9 L181.3 8.4 L181.6 8.8 L181.9 9.3 L182.1 9.8 L182.4 10.3 L182.6 10.8 L182.8 11.4 L182.9 11.9 L183.0 12.6 L182.9 13.4 L182.8 13.9 L182.5 14.4 L182.2 14.9 L181.9 15.4 L181.6 15.7 L181.2 16.1 L180.9 16.5 L180.4 16.8 L179.9 17.1 L179.5 17.4 L179.1 17.6 L178.6 17.9 L178.1 18.3 L177.7 18.6 L177.4 19.1 L177.8 19.6 L178.4 19.8 L178.9 19.9 L179.6 20.1 L180.1 20.2 L180.7 20.4 L181.4 20.6 L181.9 20.9 L182.3 21.1 L182.6 21.4 L183.1 21.9 L183.4 22.3 L183.6 22.8 L183.9 23.3 L184.1 23.8 L184.4 24.3 L184.5 24.9 L184.6 25.4 L184.7 26.1 L184.7 26.9 L184.7 27.6 L184.5 28.1 L184.4 28.9 L184.2 29.4 L184.0 29.9 L183.8 30.4 L183.5 30.9 L183.2 31.4 L182.9 31.7 L182.5 32.1 L182.1 32.4 L181.6 32.7 L181.1 33.0 L180.6 33.3 L180.3 33.6 L179.9 33.9 L179.4 34.3 L178.9 34.6 L178.6 34.9 L178.1 35.3 L177.8 35.6 L177.5 36.1 L177.1 36.6 L176.9 37.1 L176.7 37.6 L176.6 38.1 L176.5 38.9 L176.6 39.6 L176.7 40.1 L177.0 40.6 L177.3 41.1 L177.6 41.5 L178.0 41.9 L178.4 42.2 L178.9 42.6 L179.3 42.9 L179.8 43.1 L180.3 43.4 L180.7 43.6 L181.2 43.9 L181.7 44.1 L182.1 44.4 L182.6 44.8 L182.9 45.1 L183.2 45.6 L183.5 46.1 L183.8 46.6 L184.1 47.1 L184.3 47.6 L184.5 48.1 L184.6 48.8 L184.7 49.4 L184.6 50.0 L184.5 50.6 L184.4 51.2 L184.2 51.9 L183.9 52.4 L183.7 52.9 L183.4 53.3 L183.1 53.6 L182.6 53.9 L182.1 54.1 L181.4 54.3 L180.9 54.5 L180.4 54.7 L179.9 55.0 L179.4 55.3 L178.9 55.6 L178.4 55.8 L177.9 56.1 L177.6 56.4 L177.1 56.8 L176.8 57.1 L176.7 57.9 L176.7 58.6 L176.6 59.2 L176.5 59.9 L176.5 60.6 L176.5 61.4 L176.6 62.1 L176.8 62.6 L176.9 63.1 L177.1 63.9 L177.3 64.4 L177.5 64.9 L177.7 65.4 L177.9 65.9 L178.2 66.4 L178.4 67.0 L178.5 67.6 L178.7 68.1 L178.8 68.9 L178.9 69.4 L179.0 70.1 L179.0 70.9 L179.0 71.6 L178.9 72.4 L178.8 72.9 L178.7 73.6 L178.6 74.1 L178.4 74.9 L178.2 75.4 L178.0 75.9 L177.8 76.4 L177.6 77.1 L177.5 77.6 L177.3 78.1 L177.1 78.8 L177.0 79.4 L176.8 79.9 L176.7 80.6 L176.6 81.1 L176.4 81.9 L176.3 82.4 L176.3 83.1 L176.3 83.9 L176.3 84.6 L176.3 85.4 L176.4 85.9 L176.5 86.6 L176.7 87.1 L176.8 87.9 L176.9 88.4 L177.1 89.1 L177.4 89.6 L177.6 90.1 L177.9 90.5 L178.1 91.0 L178.4 91.5 L178.6 92.0 L178.9 92.5 L179.1 93.1 L179.3 93.6 L179.5 94.1 L179.7 94.6 L179.7 95.4 L179.6 96.0 L179.5 96.6 L179.3 97.1 L179.0 97.6 L178.7 98.1 L178.4 98.6 L178.1 99.1 L177.9 99.5 L177.6 99.9 L177.3 100.4 L177.1 100.9 L176.8 101.4 L176.6 101.9 L176.5 102.6 L176.6 103.4 L176.7 103.9 L176.9 104.4 L177.2 104.9 L177.4 105.4 L177.6 106.1 L177.7 106.6 L177.6 107.2 L177.5 107.9 L177.4 108.4 L177.2 109.1 L176.9 109.6 L176.8 110.1 L176.6 110.6 L176.4 111.1 L176.2 111.9 L176.0 112.4 L175.8 112.9 L175.6 113.4 L175.4 114.1 L175.3 114.6 L175.3 115.4 L175.2 116.1 L175.1 116.8 L175.0 117.4 L175.1 118.0 L175.3 118.6 L175.4 119.2 L175.5 119.9 L175.7 120.4 L176.1 120.9 L176.4 121.1 L176.9 121.5 L177.4 121.8 L177.9 122.1 L178.4 122.3 L178.9 122.5 L179.4 122.6 L180.1 122.8 L180.6 123.0 L181.1 123.4 L181.4 123.6 L181.8 124.1 L181.9 124.6 L182.0 125.4 L181.9 125.9 L181.6 126.5 L181.4 126.9 L180.9 127.3 L180.5 127.6 L180.1 127.9 L179.6 128.2 L179.1 128.4 L178.4 128.6 L177.9 128.8 L177.4 129.0 L176.9 129.3 L176.4 129.6 L176.1 129.9 L175.7 130.4 L175.5 130.9 L175.4 131.4 L175.3 132.1 L175.4 132.7 L175.6 133.4 L175.9 133.9 L176.1 134.2 L176.6 134.6 L176.9 134.9 L177.4 135.1 L177.9 135.4 L178.6 135.5 L179.4 135.6 L179.9 135.7 L180.6 135.8 L181.1 136.0 L181.6 136.2 L182.1 136.6 L182.4 137.1 L182.5 137.6 L182.4 138.4 L182.3 138.9 L182.0 139.4 L181.7 139.9 L181.4 140.2 L180.9 140.6 L180.4 140.8 L179.9 141.1 L179.4 141.3 L178.9 141.5 L178.4 141.8 L177.9 142.0 L177.4 142.2 L176.9 142.6 L176.6 142.9 L176.2 143.4 L176.0 143.9 L175.8 144.4 L175.8 145.1 L175.8 145.9 L175.7 146.6 L175.7 147.4 L175.6 148.0 L175.5 148.6 L175.5 149.4 L175.4 150.1 L175.3 150.6 L175.2 151.4 L175.1 151.9 L175.1 152.6 L175.2 153.1 L175.2 153.9 L175.3 154.6 L175.4 155.2 L175.5 155.9 L175.5 156.6 L175.6 157.4 L175.7 157.9 L175.6 158.6 L175.6 159.1 L175.5 159.9 L175.4 160.6 L175.3 161.1 L175.1 161.6 L174.8 162.1 L174.5 162.6 L174.2 163.1 L173.9 163.6 L173.6 164.0 L173.3 164.4 L173.0 164.9 L172.6 165.2 L172.2 165.6 L171.9 165.9 L171.4 166.2 L170.9 166.5 L170.4 166.8 L169.9 167.0 L169.4 167.2 L168.9 167.4 L168.4 167.7 L167.9 167.9 L167.4 168.2 L166.9 168.4 L166.3 168.6 L165.8 168.9 L165.4 169.2 L164.9 169.5 L164.4 169.8 L163.9 170.1 L163.4 170.4 L163.1 170.6 L162.6 171.0 L162.1 171.3 L161.8 171.6 L161.4 172.1 L161.1 172.4 L160.8 172.9 L160.4 173.4 L160.1 173.8 L159.9 174.3 L159.6 174.8 L159.4 175.3 L159.2 175.9 L159.0 176.4 L158.8 176.9 L158.6 177.5 L158.5 178.1 L158.4 178.8 L158.3 179.4 L158.3 180.1 L158.3 180.9 L158.5 181.4 L158.7 181.9 L159.0 182.4 L159.3 182.9 L159.6 183.4 L159.9 183.7 L160.2 184.1 L160.6 184.5 L160.9 184.9 L161.2 185.4 L161.5 185.9 L161.8 186.4 L162.1 186.9 L162.3 187.4 L162.5 187.9 L162.6 188.5 L162.7 189.1 L162.7 189.9 L162.7 190.6 L162.5 191.1 L162.4 191.9 L162.3 192.4 L162.1 192.9 L161.9 193.5 L161.6 193.9 L161.3 194.4 L160.9 194.9 L160.6 195.1 L160.1 195.5 L159.7 195.9 L159.3 196.1 L158.9 196.4 L158.4 196.7 L157.9 196.9 L157.1 197.1 L156.6 197.2 L155.9 197.3 L155.4 197.5 L154.6 197.6 L154.1 197.7 L153.4 197.7 L152.6 197.8 L152.0 197.9 L151.4 198.0 L150.6 198.0 L149.9 198.1 L149.4 198.2 L148.6 198.3 L147.9 198.4 L147.4 198.5 L146.9 198.7 L146.2 198.9 L145.6 199.0 L145.0 199.1 L144.4 199.3 L143.9 199.4 L143.3 199.6 L142.6 199.9 L142.1 200.0 L141.5 200.1 L140.9 200.2 L140.1 200.3 L139.4 200.3 L138.9 200.4 L138.1 200.5 L137.5 200.4 L136.9 200.2 L136.3 200.1 L135.6 200.0 L135.1 199.8 L134.6 199.6 L134.1 199.4 L133.6 199.1 L133.1 198.7 L132.9 198.4 L132.5 197.9 L132.1 197.4 L131.9 197.1 L131.6 196.6 L131.3 196.1 L131.1 195.6 L130.9 194.9 L130.8 194.4 L130.8 193.6 L130.8 192.9 L130.9 192.4 L131.1 191.6 L131.2 191.1 L131.3 190.4 L131.5 189.9 L131.6 189.1 L131.7 188.6 L131.7 187.9 L131.7 187.1 L131.7 186.4 L131.7 185.6 L131.6 185.1 L131.5 184.4 L131.5 183.6 L131.5 182.9 L131.6 182.1 L131.7 181.6 L131.9 180.9 L132.1 180.4 L132.3 179.9 L132.6 179.4 L132.8 178.9 L133.1 178.4 L133.4 178.1 L133.8 177.6 L134.2 177.4 L134.6 177.0 L135.1 176.7 L135.6 176.4 L136.1 176.3 L136.8 176.1 L137.4 176.0 L138.0 175.9 L138.6 175.7 L139.1 175.6 L139.7 175.4 L140.1 175.1 L140.6 174.7 L140.9 174.4 L141.2 173.9 L141.4 173.4 L141.5 172.6 L141.5 171.9 L141.4 171.3 L141.2 170.6 L141.1 170.1 L140.9 169.5 L140.6 169.1 L140.3 168.6 L139.9 168.1 L139.6 167.8 L139.3 167.4 L139.0 166.9 L138.6 166.5 L138.1 166.1 L137.8 165.9 L137.4 165.4 L137.1 165.0 L136.8 164.6 L136.5 164.1 L136.1 163.7 L135.9 163.3 L135.6 162.9 L135.3 162.4 L135.0 161.9 L134.7 161.4 L134.4 160.9 L134.1 160.5 L133.9 159.9 L133.7 159.4 L133.6 158.9 L133.4 158.3 L133.1 157.7 L133.0 157.1 L132.8 156.6 L132.7 155.9 L132.5 155.4 L132.4 154.8 L132.1 154.1 L132.0 153.6 L132.0 152.9 L131.9 152.3 L131.7 151.6 L131.6 151.0 L131.5 150.4 L131.4 149.7 L131.3 149.1 L131.3 148.4 L131.3 147.6 L131.3 146.9 L131.4 146.3 L131.5 145.6 L131.6 145.0 L131.8 144.4 L131.9 143.9 L132.0 143.1 L132.2 142.6 L132.4 142.1 L132.6 141.4 L132.8 140.9 L133.1 140.4 L133.2 139.9 L133.4 139.4 L133.7 138.9 L133.9 138.2 L134.0 137.6 L134.1 137.0 L134.2 136.4 L134.2 135.6 L134.2 134.9 L134.2 134.1 L134.1 133.5 L134.0 132.9 L133.8 132.4 L133.6 131.9 L133.5 131.1 L133.5 130.4 L133.5 129.6 L133.6 128.9 L133.7 128.4 L133.9 127.8 L134.1 127.2 L134.3 126.6 L134.4 126.1 L134.4 125.4 L134.3 124.9 L134.0 124.4 L133.6 124.0 L133.2 123.6 L132.9 123.2 L132.5 122.9 L132.2 122.4 L131.9 121.9 L131.7 121.4 L131.6 120.9 L131.5 120.1 L131.5 119.4 L131.6 118.8 L131.8 118.1 L132.1 117.6 L132.3 117.1 L132.6 116.6 L132.8 116.1 L133.1 115.7 L133.4 115.3 L133.7 114.9 L134.1 114.4 L134.4 114.0 L134.7 113.6 L135.0 113.1 L135.4 112.7 L135.6 112.3 L136.0 111.9 L136.3 111.4 L136.5 110.9 L136.7 110.4 L136.9 109.9 L137.1 109.4 L137.2 108.6 L137.2 107.9 L137.2 107.1 L137.2 106.4 L137.2 105.6 L137.2 104.9 L137.1 104.4 L137.0 103.6 L137.0 102.9 L137.0 102.1 L136.9 101.4 L136.8 100.9 L136.8 100.1 L136.7 99.4 L136.6 98.8 L136.5 98.1 L136.5 97.4 L136.5 96.6 L136.5 95.9 L136.4 95.1 L136.3 94.6 L136.2 93.9 L136.2 93.1 L136.1 92.6 L136.0 91.9 L136.0 91.1 L136.0 90.4 L136.0 89.6 L135.9 89.0 L135.8 88.4 L135.7 87.6 L135.7 86.9 L135.5 86.4 L135.4 85.6 L135.3 85.1 L135.1 84.6 L134.9 83.9 L134.7 83.4 L134.6 82.9 L134.5 82.1 L134.5 81.4 L134.4 80.8 L134.3 80.1 L134.3 79.4 L134.3 78.6 L134.4 78.1 L134.5 77.4 L134.5 76.6 L134.6 76.1 L134.8 75.4 L135.0 74.9 L135.2 74.4 L135.4 73.8 L135.6 73.1 L135.8 72.6 L136.0 72.1 L136.2 71.6 L136.4 71.1 L136.7 70.6 L136.9 70.1 L137.1 69.4 L137.2 68.9 L137.4 68.2 L137.5 67.6 L137.6 67.0 L137.8 66.4 L137.9 65.8 L138.0 65.1 L138.1 64.5 L138.3 63.9 L138.4 63.4 L138.5 62.6 L138.7 62.1 L138.9 61.4 L139.1 60.9 L139.3 60.4 L139.6 59.9 L139.8 59.4 L140.1 58.9 L140.3 58.4 L140.6 57.9 L140.9 57.5 L141.1 57.0 L141.4 56.4 L141.5 55.9 L141.5 55.1 L141.4 54.5 L141.2 53.9 L141.0 53.4 L140.8 52.9 L140.5 52.4 L140.2 51.9 L139.9 51.5 L139.5 51.1 L139.1 50.8 L138.6 50.4 L138.2 50.1 L137.7 49.9 L137.1 49.6 L136.7 49.4 L136.3 49.1 L135.9 48.8 L135.4 48.6 L134.9 48.2 L134.4 47.9 L134.1 47.6 L133.7 47.1 L133.4 46.7 L133.1 46.2 L132.9 45.7 L132.6 45.2 L132.4 44.7 L132.2 44.1 L132.0 43.6 L131.9 43.1 L131.6 42.4 L131.4 41.9 L131.1 41.4 L130.9 40.9 L130.6 40.6 L130.3 40.1 L129.9 39.6 L129.6 39.3 L129.1 39.0 L128.6 38.7 L128.1 38.4 L127.6 38.2 L127.1 38.1 L126.4 37.9 L125.9 37.8 L125.1 37.6 L124.6 37.4 L124.1 37.2 L123.6 36.9 L123.2 36.6 L122.8 36.4 L122.4 36.0 L122.0 35.6 L121.7 35.1 L121.4 34.6 L121.3 34.1 L121.3 33.4 L121.5 32.9 L121.7 32.4 L122.0 31.9 L122.3 31.4 L122.6 31.0 L122.9 30.6 L123.3 30.1 L123.6 29.9 L124.1 29.5 L124.6 29.3 L125.1 29.0 L125.6 28.7 L126.1 28.4 L126.6 28.1 L127.0 27.9 L127.4 27.6 L127.9 27.3 L128.4 27.0 L128.7 26.6 L129.1 26.2 L129.4 25.9 L129.7 25.4 L129.9 24.9 L130.2 24.4 L130.4 23.8 L130.6 23.3 L130.9 22.7 L131.1 22.2 L131.3 21.6 L131.6 21.1 L131.9 20.6 L132.1 20.4 L132.6 20.0 L133.0 19.6 L133.3 19.1 L133.6 18.8 L134.0 18.4 L134.4 18.0 L134.6 17.6 L134.9 17.1 L135.2 16.6 L135.4 16.1 L135.5 15.4 L135.6 14.6 L135.7 14.1 L135.8 13.4 L135.9 12.9 L136.1 12.3 L136.4 11.8 L136.6 11.3 L136.9 10.9 L137.3 10.4 L137.6 10.1 L138.1 9.7 L138.6 9.4 L138.9 9.1 L139.4 8.7 L139.7 8.4 L140.1 8.0 L140.4 7.6 L140.8 7.1 L141.1 6.7 L141.4 6.2 L141.6 5.7 L141.9 5.2 L142.1 4.6 L142.2 4.1 L142.2 3.4 L142.2 2.6 L142.2 2.6 M175.9 7.3 L175.4 7.6 L174.9 7.9 L174.6 8.1 L174.2 8.6 L174.1 9.1 L174.0 9.9 L174.1 10.4 L174.4 10.9 L174.8 11.4 L175.1 11.7 L175.6 12.0 L176.1 12.2 L176.9 12.2 L177.4 12.0 L177.9 11.7 L178.1 11.4 L178.4 10.9 L178.7 10.4 L178.8 9.6 L178.6 8.9 L178.4 8.4 L178.1 8.0 L177.7 7.6 L177.2 7.4 L176.6 7.2 L175.9 7.3 L175.9 7.3Z M142.9 21.3 L142.4 21.5 L141.9 21.9 L141.6 22.2 L141.4 22.6 L141.1 23.4 L141.3 24.1 L141.6 24.6 L141.9 24.9 L142.4 25.2 L143.0 25.1 L143.5 24.9 L143.9 24.6 L144.3 24.1 L144.5 23.6 L144.5 22.9 L144.4 22.3 L144.1 21.9 L143.6 21.4 L143.1 21.3 L142.9 21.3Z M168.9 27.6 L168.4 27.7 L167.9 27.9 L167.4 28.3 L167.1 28.6 L166.8 29.1 L166.6 29.6 L166.4 30.3 L166.3 30.9 L166.3 31.6 L166.3 32.4 L166.4 33.1 L166.5 33.6 L166.7 34.1 L167.0 34.6 L167.4 35.0 L167.9 35.4 L168.3 35.6 L168.9 35.9 L169.4 36.0 L170.1 36.0 L170.6 35.8 L171.1 35.6 L171.6 35.2 L172.0 34.9 L172.4 34.4 L172.6 33.9 L172.8 33.4 L173.0 32.9 L173.1 32.2 L173.2 31.6 L173.1 31.1 L172.9 30.4 L172.7 29.9 L172.5 29.4 L172.3 28.9 L171.9 28.4 L171.6 28.1 L171.1 27.8 L170.6 27.6 L169.9 27.5 L169.1 27.5 L168.9 27.6Z M134.9 29.1 L134.4 29.2 L133.6 29.3 L133.1 29.5 L132.5 29.6 L132.0 29.9 L131.6 30.1 L131.1 30.5 L130.6 30.9 L130.4 31.1 L130.1 31.6 L129.8 32.1 L129.6 32.6 L129.5 33.4 L129.6 33.9 L129.9 34.4 L130.2 34.9 L130.6 35.4 L131.0 35.6 L131.6 35.9 L132.1 36.0 L132.8 36.1 L133.4 36.2 L134.1 36.1 L134.6 36.0 L135.4 35.9 L135.9 35.7 L136.4 35.5 L136.9 35.3 L137.4 35.0 L137.9 34.7 L138.2 34.4 L138.6 34.0 L138.9 33.6 L139.1 33.1 L139.4 32.4 L139.4 31.9 L139.4 31.4 L139.1 30.8 L138.8 30.4 L138.4 30.0 L137.9 29.7 L137.4 29.4 L136.9 29.3 L136.2 29.1 L135.6 29.0 L134.9 29.1 L134.9 29.1Z M147.9 31.6 L147.4 31.9 L147.1 32.1 L146.7 32.6 L146.4 33.1 L146.1 33.5 L145.9 34.0 L145.6 34.6 L145.4 35.1 L145.3 35.6 L145.2 36.4 L145.3 37.1 L145.5 37.6 L145.9 37.9 L146.6 37.9 L147.0 37.6 L147.4 37.4 L147.9 37.0 L148.2 36.6 L148.5 36.1 L148.8 35.6 L149.0 35.1 L149.2 34.6 L149.4 34.0 L149.5 33.4 L149.4 32.6 L149.3 32.1 L148.9 31.6 L148.4 31.4 L147.9 31.6Z M164.7 194.6 L165.4 194.5 L166.1 194.5 L166.9 194.5 L167.6 194.5 L168.4 194.6 L168.9 194.8 L169.4 195.1 L169.8 195.4 L170.1 195.7 L170.4 196.1 L170.5 196.9 L170.2 197.4 L169.9 197.8 L169.4 198.1 L168.9 198.3 L168.4 198.5 L167.7 198.6 L167.1 198.7 L166.4 198.7 L165.6 198.6 L165.1 198.5 L164.5 198.4 L163.9 198.1 L163.5 197.9 L163.1 197.5 L162.9 197.1 L162.8 196.4 L163.0 195.9 L163.4 195.5 L163.8 195.1 L164.2 194.9 L164.7 194.6 L164.7 194.6Z M150.2 10.6 L150.9 10.5 L151.6 10.5 L152.1 10.8 L152.6 11.1 L152.9 11.4 L153.3 11.9 L153.6 12.3 L153.9 12.8 L154.1 13.3 L154.3 13.9 L154.5 14.4 L154.6 14.9 L154.7 15.6 L154.7 16.4 L154.7 17.1 L154.7 17.9 L154.7 18.6 L154.6 19.1 L154.4 19.7 L154.2 20.4 L153.9 20.9 L153.7 21.4 L153.4 21.8 L153.1 22.2 L152.6 22.6 L152.3 22.9 L151.8 23.1 L151.1 23.3 L150.4 23.2 L149.9 22.9 L149.5 22.6 L149.1 22.2 L148.9 21.8 L148.5 21.4 L148.2 20.9 L148.0 20.4 L147.8 19.9 L147.6 19.2 L147.5 18.6 L147.5 17.9 L147.5 17.1 L147.5 16.4 L147.5 15.6 L147.6 14.9 L147.7 14.4 L147.9 13.6 L148.1 13.1 L148.4 12.6 L148.6 12.3 L148.9 11.9 L149.3 11.4 L149.6 11.0 L150.1 10.7 L150.2 10.6Z M163.5 22.1 L164.1 22.0 L164.6 22.1 L164.9 22.6 L164.9 23.4 L164.7 23.9 L164.4 24.4 L164.2 24.9 L163.9 25.3 L163.6 25.7 L163.3 26.1 L162.9 26.6 L162.6 27.0 L162.2 27.4 L161.9 27.7 L161.5 28.1 L161.1 28.5 L160.6 28.8 L160.1 29.1 L159.6 29.3 L159.1 29.6 L158.6 29.7 L158.1 29.4 L157.9 29.0 L157.8 28.4 L158.0 27.9 L158.2 27.4 L158.5 26.9 L158.8 26.4 L159.1 25.9 L159.4 25.5 L159.7 25.1 L160.1 24.6 L160.4 24.4 L160.9 24.0 L161.2 23.6 L161.6 23.3 L162.1 22.9 L162.5 22.6 L162.9 22.4 L163.5 22.1 L163.5 22.1Z M155.8 30.9 L156.4 30.8 L157.0 30.9 L157.6 31.0 L158.1 31.2 L158.6 31.4 L159.1 31.8 L159.6 32.1 L160.1 32.4 L160.4 32.6 L160.9 32.9 L161.4 33.3 L161.7 33.6 L162.1 34.0 L162.5 34.4 L162.9 34.8 L163.2 35.1 L163.6 35.5 L164.0 35.9 L164.3 36.4 L164.6 36.7 L165.0 37.1 L165.4 37.5 L165.7 37.9 L166.0 38.4 L166.4 38.7 L166.9 39.1 L167.2 39.4 L167.6 39.9 L167.9 40.3 L168.2 40.6 L168.5 41.1 L168.9 41.6 L169.1 41.9 L169.4 42.4 L169.7 42.9 L169.9 43.4 L170.2 43.9 L170.4 44.4 L170.6 45.1 L170.8 45.6 L170.9 46.1 L171.1 46.6 L171.3 47.4 L171.5 47.9 L171.6 48.6 L171.7 49.1 L171.7 49.9 L171.7 50.6 L171.8 51.4 L171.8 52.1 L171.7 52.9 L171.7 53.6 L171.7 54.4 L171.6 54.9 L171.5 55.6 L171.5 56.4 L171.4 57.0 L171.2 57.6 L171.1 58.3 L171.0 58.9 L171.0 59.6 L170.9 60.4 L170.8 60.9 L170.8 61.6 L170.8 62.4 L170.8 63.1 L170.8 63.9 L170.8 64.6 L170.8 65.4 L170.9 65.9 L171.0 66.6 L171.1 67.4 L171.2 67.9 L171.3 68.6 L171.4 69.1 L171.5 69.9 L171.7 70.4 L171.8 71.1 L172.0 71.6 L172.1 72.4 L172.2 72.9 L172.3 73.6 L172.5 74.1 L172.6 74.9 L172.7 75.4 L172.8 76.1 L172.8 76.9 L172.9 77.4 L173.0 78.1 L173.2 78.6 L173.2 79.4 L173.3 80.1 L173.3 80.9 L173.4 81.4 L173.5 82.1 L173.6 82.9 L173.7 83.4 L173.7 84.1 L173.7 84.9 L173.8 85.6 L173.8 86.4 L173.8 87.1 L173.8 87.9 L173.9 88.4 L173.9 89.1 L173.8 89.6 L173.8 90.4 L173.8 91.1 L173.8 91.9 L173.8 92.6 L173.7 93.4 L173.7 94.1 L173.7 94.9 L173.6 95.4 L173.5 96.1 L173.5 96.9 L173.5 97.6 L173.4 98.4 L173.3 98.9 L173.3 99.6 L173.2 100.4 L173.2 101.1 L173.1 101.6 L173.0 102.4 L173.0 103.1 L173.0 103.9 L173.0 104.6 L173.0 105.4 L173.0 106.1 L173.0 106.9 L173.0 107.6 L173.0 108.4 L173.0 109.1 L173.0 109.9 L173.0 110.6 L173.0 111.4 L173.0 112.1 L173.0 112.9 L173.0 113.6 L172.9 114.4 L172.8 114.9 L172.8 115.6 L172.7 116.4 L172.7 117.1 L172.7 117.9 L172.6 118.4 L172.5 119.1 L172.5 119.9 L172.4 120.5 L172.3 121.1 L172.3 121.9 L172.2 122.6 L172.2 123.4 L172.2 124.1 L172.2 124.9 L172.1 125.4 L172.0 126.1 L172.0 126.9 L172.0 127.6 L172.0 128.4 L172.1 129.0 L172.2 129.6 L172.2 130.4 L172.3 131.1 L172.3 131.9 L172.4 132.5 L172.5 133.1 L172.5 133.9 L172.5 134.6 L172.5 135.4 L172.6 136.1 L172.7 136.6 L172.7 137.4 L172.8 138.1 L172.9 138.8 L173.0 139.4 L173.0 140.1 L173.0 140.9 L173.0 141.6 L172.9 142.2 L172.7 142.9 L172.6 143.5 L172.5 144.1 L172.4 144.7 L172.1 145.4 L171.9 145.8 L171.6 146.2 L171.3 146.6 L171.1 147.1 L170.7 147.6 L170.4 148.1 L170.1 148.5 L169.8 148.9 L169.4 149.3 L169.1 149.6 L168.8 150.1 L168.5 150.6 L168.2 151.1 L168.0 151.6 L167.8 152.1 L167.8 152.9 L167.8 153.6 L167.8 154.4 L167.8 155.1 L168.0 155.6 L168.1 156.4 L168.2 156.9 L168.3 157.6 L168.4 158.1 L168.5 158.9 L168.5 159.6 L168.5 160.4 L168.5 161.1 L168.5 161.9 L168.4 162.4 L168.1 163.1 L167.9 163.6 L167.7 164.1 L167.4 164.6 L167.2 165.1 L166.9 165.6 L166.6 166.0 L166.2 166.4 L165.9 166.7 L165.4 167.0 L164.9 167.3 L164.4 167.6 L163.9 167.8 L163.4 168.1 L162.9 168.3 L162.4 168.6 L162.0 168.9 L161.5 169.1 L161.1 169.4 L160.6 169.7 L160.1 170.0 L159.8 170.4 L159.4 170.8 L159.0 171.1 L158.6 171.5 L158.3 171.9 L158.0 172.4 L157.8 172.9 L157.6 173.4 L157.3 173.9 L157.1 174.6 L157.0 175.1 L157.0 175.9 L157.1 176.6 L157.2 177.1 L157.3 177.9 L157.4 178.4 L157.6 179.1 L157.8 179.6 L158.0 180.1 L158.2 180.6 L158.4 181.3 L158.6 181.9 L158.7 182.4 L158.9 182.9 L159.1 183.6 L159.2 184.1 L159.2 184.9 L159.1 185.4 L158.9 186.1 L158.7 186.6 L158.4 187.1 L158.1 187.5 L157.7 187.9 L157.4 188.1 L156.9 188.4 L156.4 188.6 L155.6 188.7 L155.1 188.6 L154.4 188.4 L153.9 188.2 L153.4 187.9 L153.1 187.6 L152.7 187.1 L152.4 186.8 L152.0 186.4 L151.6 186.0 L151.3 185.6 L151.0 185.1 L150.7 184.6 L150.4 184.2 L150.1 183.8 L149.8 183.4 L149.6 182.9 L149.2 182.4 L148.9 181.9 L148.6 181.4 L148.4 181.0 L148.1 180.6 L147.8 180.1 L147.5 179.6 L147.2 179.1 L146.9 178.6 L146.7 178.1 L146.4 177.6 L146.2 177.1 L145.9 176.6 L145.7 176.1 L145.5 175.6 L145.2 175.1 L145.0 174.6 L144.8 174.1 L144.6 173.6 L144.3 173.1 L144.1 172.6 L143.8 172.1 L143.5 171.6 L143.2 171.1 L143.0 170.6 L142.7 170.1 L142.4 169.6 L142.2 169.1 L141.9 168.6 L141.7 168.1 L141.4 167.7 L141.1 167.2 L140.9 166.7 L140.6 166.2 L140.4 165.7 L140.1 165.2 L139.9 164.7 L139.7 164.1 L139.4 163.6 L139.2 163.1 L139.0 162.6 L138.8 162.1 L138.6 161.5 L138.4 160.9 L138.2 160.4 L138.0 159.9 L137.9 159.2 L137.7 158.6 L137.6 158.1 L137.4 157.4 L137.2 156.9 L137.0 156.4 L136.9 155.7 L136.7 155.1 L136.6 154.6 L136.5 153.9 L136.5 153.1 L136.4 152.4 L136.3 151.9 L136.2 151.1 L136.0 150.6 L135.9 150.0 L135.8 149.4 L135.6 148.7 L135.5 148.1 L135.5 147.4 L135.5 146.6 L135.5 145.9 L135.6 145.2 L135.7 144.6 L135.8 143.9 L135.8 143.1 L135.9 142.6 L136.0 141.9 L136.2 141.4 L136.2 140.6 L136.3 139.9 L136.4 139.3 L136.5 138.6 L136.6 138.0 L136.7 137.4 L136.8 136.6 L136.8 135.9 L136.9 135.4 L137.0 134.6 L137.0 133.9 L137.0 133.1 L137.0 132.4 L137.0 131.6 L137.0 130.9 L137.0 130.1 L136.9 129.5 L136.8 128.9 L136.8 128.1 L136.8 127.4 L136.8 126.6 L136.8 125.9 L136.8 125.1 L136.8 124.4 L136.8 123.6 L136.8 122.9 L136.9 122.4 L137.0 121.6 L137.2 121.1 L137.3 120.4 L137.4 119.9 L137.6 119.1 L137.7 118.6 L137.9 118.1 L138.1 117.4 L138.3 116.9 L138.4 116.4 L138.6 115.6 L138.7 115.1 L138.9 114.6 L139.1 113.9 L139.3 113.4 L139.4 112.9 L139.5 112.1 L139.5 111.4 L139.6 110.8 L139.7 110.1 L139.7 109.4 L139.8 108.6 L139.8 107.9 L139.8 107.1 L139.8 106.4 L139.8 105.6 L139.8 104.9 L139.8 104.1 L139.8 103.4 L139.8 102.6 L139.8 101.9 L139.8 101.1 L139.8 100.4 L139.8 99.6 L139.8 98.9 L139.8 98.1 L139.8 97.4 L139.8 96.6 L139.8 95.9 L139.8 95.1 L139.8 94.4 L139.8 93.6 L139.8 92.9 L139.8 92.1 L139.8 91.4 L139.8 90.6 L139.8 89.9 L139.8 89.1 L139.8 88.4 L139.8 87.6 L139.8 86.9 L139.8 86.1 L139.8 85.4 L139.8 84.6 L139.9 84.1 L140.0 83.4 L140.0 82.6 L140.1 81.9 L140.2 81.4 L140.4 80.7 L140.5 80.1 L140.6 79.5 L140.7 78.9 L140.9 78.2 L141.0 77.6 L141.0 76.9 L141.1 76.1 L141.2 75.6 L141.3 74.9 L141.4 74.4 L141.5 73.6 L141.5 72.9 L141.5 72.1 L141.5 71.4 L141.5 70.6 L141.4 69.9 L141.3 69.4 L141.3 68.6 L141.3 67.9 L141.2 67.1 L141.2 66.4 L141.3 65.6 L141.3 64.9 L141.3 64.1 L141.5 63.6 L141.7 63.1 L141.9 62.6 L142.2 62.1 L142.5 61.6 L142.8 61.1 L143.1 60.8 L143.5 60.4 L143.9 60.0 L144.4 59.7 L144.7 59.4 L145.1 59.1 L145.6 58.7 L145.9 58.4 L146.1 57.9 L146.4 57.2 L146.4 56.6 L146.4 56.0 L146.2 55.4 L146.0 54.9 L145.8 54.4 L145.5 53.9 L145.2 53.4 L144.9 52.9 L144.6 52.5 L144.4 52.1 L144.1 51.6 L143.7 51.1 L143.4 50.8 L142.9 50.4 L142.5 50.1 L142.1 49.8 L141.7 49.4 L141.4 49.1 L140.9 48.8 L140.4 48.6 L139.8 48.4 L139.2 48.1 L138.6 47.9 L138.1 47.8 L137.4 47.6 L136.9 47.4 L136.4 47.2 L135.9 47.0 L135.4 46.7 L134.9 46.4 L134.5 46.1 L134.1 45.6 L133.9 45.2 L133.6 44.6 L133.5 44.1 L133.6 43.5 L133.9 43.0 L134.1 42.6 L134.6 42.1 L134.9 41.9 L135.4 41.6 L135.9 41.3 L136.4 41.1 L137.1 41.0 L137.7 41.1 L138.4 41.3 L138.9 41.4 L139.4 41.6 L139.9 41.9 L140.4 42.3 L140.7 42.6 L141.1 43.0 L141.6 43.3 L142.0 43.6 L142.4 43.9 L142.9 44.2 L143.4 44.5 L143.9 44.7 L144.6 44.7 L145.4 44.7 L145.9 44.5 L146.4 44.3 L146.9 44.1 L147.4 43.8 L147.9 43.5 L148.4 43.2 L148.7 42.9 L149.1 42.5 L149.4 42.1 L149.8 41.6 L150.1 41.2 L150.4 40.7 L150.6 40.2 L150.9 39.7 L151.1 39.1 L151.3 38.6 L151.5 38.1 L151.7 37.6 L151.9 37.1 L152.1 36.5 L152.3 35.9 L152.5 35.4 L152.7 34.9 L152.9 34.4 L153.1 33.8 L153.4 33.3 L153.6 32.8 L153.9 32.4 L154.3 31.9 L154.6 31.5 L155.1 31.2 L155.6 30.9 L155.8 30.9Z M156.8 45.1 L157.4 45.0 L158.1 45.0 L158.9 45.0 L159.6 45.1 L160.1 45.2 L160.9 45.3 L161.4 45.5 L162.1 45.6 L162.6 45.8 L163.1 46.1 L163.6 46.3 L164.1 46.5 L164.6 46.8 L165.1 47.1 L165.4 47.4 L165.8 47.9 L166.1 48.3 L166.4 48.6 L166.7 49.1 L167.0 49.6 L167.3 50.1 L167.5 50.6 L167.6 51.1 L167.8 51.9 L167.9 52.4 L168.0 53.1 L168.0 53.9 L168.0 54.6 L168.0 55.4 L168.0 56.1 L168.0 56.9 L168.0 57.6 L168.0 58.4 L168.0 59.1 L168.0 59.9 L168.0 60.6 L168.0 61.4 L168.0 62.1 L168.0 62.9 L168.0 63.6 L168.1 64.2 L168.2 64.9 L168.2 65.6 L168.3 66.4 L168.3 67.1 L168.3 67.9 L168.4 68.4 L168.5 69.1 L168.6 69.9 L168.7 70.4 L168.7 71.1 L168.7 71.9 L168.8 72.6 L168.8 73.4 L168.9 74.0 L169.0 74.6 L169.0 75.4 L169.1 76.1 L169.2 76.6 L169.2 77.4 L169.2 78.1 L169.3 78.9 L169.3 79.6 L169.4 80.1 L169.5 80.9 L169.5 81.6 L169.5 82.4 L169.5 83.1 L169.5 83.9 L169.6 84.6 L169.7 85.1 L169.7 85.9 L169.7 86.6 L169.8 87.4 L169.8 88.1 L169.8 88.9 L169.8 89.6 L169.8 90.4 L169.8 91.1 L169.8 91.9 L169.8 92.6 L169.8 93.4 L169.8 94.1 L169.8 94.9 L169.8 95.6 L169.8 96.4 L169.8 97.1 L169.8 97.9 L169.8 98.6 L169.8 99.4 L169.8 100.1 L169.8 100.9 L169.8 101.6 L169.8 102.4 L169.8 103.1 L169.8 103.9 L169.8 104.6 L169.8 105.4 L169.8 106.1 L169.8 106.9 L169.8 107.6 L169.8 108.4 L169.8 109.1 L169.8 109.9 L169.8 110.6 L169.8 111.4 L169.8 112.1 L169.8 112.9 L169.8 113.6 L169.8 114.4 L169.8 115.1 L169.8 115.9 L169.8 116.6 L169.8 117.4 L169.8 118.1 L169.8 118.9 L169.8 119.6 L169.7 120.4 L169.7 121.1 L169.7 121.9 L169.6 122.4 L169.5 123.1 L169.5 123.9 L169.5 124.6 L169.5 125.4 L169.5 126.1 L169.5 126.9 L169.4 127.6 L169.3 128.1 L169.3 128.9 L169.3 129.6 L169.2 130.4 L169.2 131.1 L169.2 131.9 L169.2 132.6 L169.2 133.4 L169.1 134.0 L169.0 134.6 L169.0 135.4 L169.0 136.1 L169.0 136.9 L169.0 137.6 L168.9 138.4 L168.8 138.9 L168.8 139.6 L168.7 140.4 L168.7 141.1 L168.5 141.6 L168.4 142.4 L168.3 142.9 L168.1 143.5 L168.0 144.1 L167.9 144.7 L167.7 145.4 L167.5 145.9 L167.3 146.4 L167.1 146.9 L166.8 147.4 L166.6 147.9 L166.3 148.4 L166.1 148.9 L165.8 149.4 L165.5 149.9 L165.2 150.4 L164.9 150.9 L164.7 151.4 L164.5 151.9 L164.4 152.5 L164.2 153.1 L164.0 153.6 L163.8 154.1 L163.6 154.8 L163.5 155.4 L163.5 156.1 L163.4 156.9 L163.3 157.4 L163.2 158.1 L163.0 158.6 L162.9 159.2 L162.6 159.8 L162.4 160.4 L162.2 160.9 L161.9 161.4 L161.6 161.7 L161.2 162.1 L160.9 162.5 L160.6 162.9 L160.1 163.4 L159.7 163.6 L159.1 163.9 L158.6 164.0 L157.9 163.9 L157.4 163.6 L157.0 163.4 L156.6 163.1 L156.1 162.7 L155.7 162.4 L155.3 162.1 L154.8 161.9 L154.1 161.8 L153.4 161.8 L152.6 161.8 L151.9 161.9 L151.4 162.1 L150.9 162.4 L150.6 162.6 L150.1 163.1 L149.9 163.4 L149.5 163.9 L149.1 164.2 L148.7 164.6 L148.4 165.0 L147.9 165.4 L147.4 165.6 L146.9 165.8 L146.1 165.7 L145.6 165.5 L145.1 165.3 L144.6 165.1 L144.1 164.8 L143.6 164.5 L143.3 164.1 L142.9 163.7 L142.5 163.4 L142.2 162.9 L141.9 162.4 L141.6 162.0 L141.4 161.4 L141.2 160.9 L140.9 160.4 L140.8 159.9 L140.6 159.4 L140.5 158.6 L140.3 158.1 L140.2 157.4 L140.0 156.9 L139.9 156.1 L139.8 155.6 L139.8 154.9 L139.8 154.1 L139.7 153.4 L139.7 152.6 L139.6 152.1 L139.5 151.4 L139.5 150.6 L139.4 149.9 L139.3 149.4 L139.3 148.6 L139.3 147.9 L139.2 147.1 L139.2 146.4 L139.2 145.6 L139.2 144.9 L139.2 144.1 L139.2 143.4 L139.2 142.6 L139.3 141.9 L139.3 141.1 L139.3 140.4 L139.4 139.9 L139.5 139.1 L139.5 138.4 L139.5 137.6 L139.6 136.9 L139.7 136.4 L139.7 135.6 L139.7 134.9 L139.8 134.1 L139.8 133.4 L139.8 132.6 L139.8 131.9 L139.8 131.1 L139.8 130.4 L139.8 129.6 L139.8 128.9 L139.9 128.2 L140.0 127.6 L140.0 126.9 L140.1 126.1 L140.2 125.6 L140.3 124.9 L140.5 124.4 L140.6 123.6 L140.7 123.1 L140.8 122.4 L141.0 121.9 L141.1 121.2 L141.2 120.6 L141.4 120.0 L141.5 119.4 L141.6 118.8 L141.8 118.1 L141.9 117.5 L142.0 116.9 L142.1 116.4 L142.2 115.6 L142.3 114.9 L142.3 114.1 L142.4 113.6 L142.5 112.9 L142.6 112.1 L142.7 111.6 L142.7 110.9 L142.8 110.1 L142.8 109.4 L142.9 108.9 L143.0 108.1 L143.0 107.4 L143.1 106.8 L143.2 106.1 L143.2 105.4 L143.2 104.6 L143.2 103.9 L143.2 103.1 L143.2 102.4 L143.2 101.6 L143.2 100.9 L143.2 100.1 L143.2 99.4 L143.2 98.6 L143.2 97.9 L143.2 97.1 L143.2 96.4 L143.2 95.6 L143.2 94.9 L143.2 94.1 L143.2 93.4 L143.3 92.6 L143.3 91.9 L143.4 91.2 L143.5 90.6 L143.5 89.9 L143.5 89.1 L143.5 88.4 L143.6 87.6 L143.7 87.1 L143.8 86.4 L143.8 85.6 L143.9 85.1 L144.0 84.4 L144.2 83.9 L144.3 83.1 L144.5 82.6 L144.6 81.9 L144.7 81.4 L144.8 80.6 L145.0 80.1 L145.1 79.5 L145.2 78.9 L145.3 78.1 L145.3 77.4 L145.4 76.9 L145.5 76.1 L145.5 75.4 L145.6 74.6 L145.7 74.1 L145.7 73.4 L145.7 72.6 L145.6 72.0 L145.5 71.4 L145.5 70.6 L145.5 69.9 L145.4 69.3 L145.2 68.6 L145.1 68.0 L145.0 67.4 L145.0 66.6 L145.0 65.9 L145.0 65.1 L145.0 64.4 L145.0 63.6 L145.0 62.9 L145.1 62.1 L145.3 61.6 L145.6 61.1 L145.8 60.6 L146.1 60.1 L146.4 59.8 L146.8 59.4 L147.1 59.1 L147.6 58.7 L148.1 58.4 L148.4 58.1 L148.9 57.7 L149.2 57.4 L149.5 56.9 L149.7 56.4 L149.8 55.6 L149.9 55.1 L149.9 54.4 L149.8 53.9 L149.8 53.1 L149.8 52.4 L149.8 51.6 L149.8 50.9 L149.9 50.4 L150.1 49.6 L150.3 49.1 L150.6 48.6 L150.9 48.2 L151.1 47.8 L151.6 47.4 L151.9 47.1 L152.4 46.8 L152.9 46.4 L153.3 46.1 L153.8 45.9 L154.4 45.6 L154.9 45.5 L155.5 45.4 L156.1 45.2 L156.8 45.1 L156.8 45.1Z M157.6 62.1 L158.4 62.1 L158.9 62.2 L159.4 62.4 L159.9 62.7 L160.4 63.0 L160.7 63.4 L161.1 63.9 L161.4 64.3 L161.6 64.8 L161.9 65.3 L162.1 65.8 L162.4 66.3 L162.6 66.8 L162.8 67.4 L163.0 67.9 L163.2 68.4 L163.4 68.9 L163.6 69.4 L163.9 70.1 L164.0 70.6 L164.2 71.1 L164.3 71.9 L164.4 72.4 L164.6 73.1 L164.8 73.6 L165.0 74.1 L165.1 74.6 L165.2 75.4 L165.3 76.1 L165.4 76.7 L165.5 77.4 L165.6 78.0 L165.8 78.6 L165.9 79.1 L166.0 79.9 L166.0 80.6 L166.1 81.2 L166.2 81.9 L166.4 82.5 L166.5 83.1 L166.5 83.9 L166.6 84.6 L166.7 85.1 L166.7 85.9 L166.8 86.6 L166.8 87.4 L166.8 88.1 L166.9 88.6 L167.0 89.4 L167.0 90.1 L167.1 90.9 L167.2 91.4 L167.2 92.1 L167.2 92.9 L167.2 93.6 L167.3 94.4 L167.3 95.1 L167.4 95.8 L167.5 96.4 L167.5 97.1 L167.5 97.9 L167.5 98.6 L167.5 99.4 L167.5 100.1 L167.5 100.9 L167.5 101.6 L167.5 102.4 L167.6 103.0 L167.7 103.6 L167.7 104.4 L167.8 105.1 L167.8 105.9 L167.8 106.6 L167.7 107.4 L167.7 108.1 L167.7 108.9 L167.6 109.4 L167.5 110.1 L167.5 110.9 L167.5 111.6 L167.5 112.4 L167.5 113.1 L167.5 113.9 L167.5 114.6 L167.5 115.4 L167.4 116.1 L167.3 116.6 L167.3 117.4 L167.2 118.1 L167.2 118.9 L167.2 119.6 L167.1 120.1 L167.0 120.9 L167.0 121.6 L166.9 122.2 L166.8 122.9 L166.8 123.6 L166.8 124.4 L166.8 125.1 L166.8 125.9 L166.8 126.6 L166.8 127.4 L166.8 128.1 L166.8 128.9 L166.8 129.6 L166.8 130.4 L166.8 131.1 L166.7 131.9 L166.7 132.6 L166.6 133.2 L166.5 133.9 L166.3 134.4 L166.2 135.1 L166.1 135.6 L166.0 136.4 L165.8 136.9 L165.6 137.4 L165.4 138.1 L165.2 138.6 L164.9 139.1 L164.7 139.6 L164.5 140.1 L164.2 140.6 L164.0 141.1 L163.8 141.6 L163.5 142.1 L163.2 142.6 L162.9 143.1 L162.6 143.5 L162.4 143.9 L162.1 144.4 L161.7 144.9 L161.4 145.3 L161.1 145.7 L160.7 146.1 L160.4 146.5 L159.9 146.9 L159.6 147.1 L159.1 147.5 L158.6 147.8 L158.2 148.1 L157.8 148.4 L157.4 148.6 L156.9 148.9 L156.3 149.1 L155.7 149.4 L155.1 149.5 L154.6 149.7 L153.9 149.8 L153.1 149.8 L152.4 149.7 L151.9 149.6 L151.1 149.4 L150.6 149.2 L150.1 148.9 L149.7 148.6 L149.3 148.4 L148.9 147.9 L148.6 147.6 L148.3 147.1 L148.0 146.6 L147.7 146.1 L147.4 145.7 L147.1 145.3 L146.8 144.9 L146.6 144.4 L146.3 143.9 L146.1 143.3 L145.9 142.8 L145.6 142.2 L145.4 141.7 L145.2 141.1 L145.1 140.6 L144.9 139.9 L144.7 139.4 L144.5 138.9 L144.4 138.4 L144.2 137.6 L144.1 137.1 L143.9 136.4 L143.8 135.9 L143.7 135.1 L143.6 134.6 L143.5 133.9 L143.5 133.1 L143.4 132.5 L143.3 131.9 L143.3 131.1 L143.2 130.4 L143.2 129.6 L143.2 128.9 L143.2 128.1 L143.3 127.4 L143.3 126.6 L143.3 125.9 L143.4 125.4 L143.5 124.6 L143.7 124.1 L143.8 123.4 L143.9 122.9 L144.0 122.1 L144.2 121.6 L144.3 120.9 L144.5 120.4 L144.6 119.6 L144.7 119.1 L144.7 118.4 L144.8 117.6 L144.9 117.0 L145.0 116.4 L145.0 115.6 L145.0 114.9 L145.0 114.1 L145.1 113.5 L145.2 112.9 L145.2 112.1 L145.2 111.4 L145.2 110.6 L145.2 109.9 L145.3 109.1 L145.3 108.4 L145.3 107.6 L145.4 107.1 L145.5 106.4 L145.5 105.6 L145.5 104.9 L145.5 104.1 L145.5 103.4 L145.6 102.6 L145.7 102.1 L145.7 101.4 L145.8 100.6 L145.8 99.9 L145.8 99.1 L145.9 98.6 L146.0 97.9 L146.0 97.1 L146.1 96.5 L146.3 95.9 L146.4 95.4 L146.5 94.6 L146.5 93.9 L146.6 93.1 L146.7 92.6 L146.8 91.9 L146.9 91.4 L147.0 90.6 L147.1 89.9 L147.2 89.4 L147.3 88.6 L147.4 88.1 L147.5 87.4 L147.5 86.6 L147.6 85.9 L147.7 85.4 L147.8 84.6 L148.0 84.1 L148.1 83.5 L148.2 82.9 L148.3 82.1 L148.3 81.4 L148.4 80.9 L148.5 80.1 L148.7 79.6 L148.8 78.9 L149.0 78.4 L149.1 77.6 L149.2 77.1 L149.3 76.4 L149.5 75.9 L149.6 75.2 L149.8 74.6 L149.9 74.0 L150.0 73.4 L150.2 72.9 L150.4 72.3 L150.6 71.7 L150.8 71.1 L151.1 70.6 L151.3 70.1 L151.5 69.6 L151.8 69.1 L152.0 68.6 L152.2 68.1 L152.5 67.6 L152.8 67.1 L153.1 66.7 L153.4 66.2 L153.6 65.8 L153.9 65.4 L154.2 64.9 L154.5 64.4 L154.9 64.0 L155.3 63.6 L155.6 63.3 L156.1 62.9 L156.6 62.6 L157.0 62.4 L157.6 62.1 L157.6 62.1Z M156.4 76.6 L157.1 76.5 L157.8 76.6 L158.2 76.9 L158.6 77.3 L158.9 77.6 L159.2 78.1 L159.5 78.6 L159.8 79.1 L160.1 79.6 L160.3 80.1 L160.6 80.6 L160.8 81.1 L161.0 81.6 L161.2 82.1 L161.4 82.7 L161.6 83.3 L161.8 83.9 L162.0 84.4 L162.2 84.9 L162.4 85.5 L162.5 86.1 L162.7 86.6 L162.9 87.1 L163.1 87.9 L163.2 88.4 L163.4 89.0 L163.5 89.6 L163.6 90.2 L163.8 90.9 L163.9 91.4 L164.0 92.1 L164.0 92.9 L164.1 93.5 L164.2 94.1 L164.4 94.8 L164.5 95.4 L164.5 96.1 L164.6 96.9 L164.7 97.4 L164.7 98.1 L164.8 98.9 L164.8 99.6 L164.8 100.4 L164.9 100.9 L165.0 101.6 L165.0 102.4 L165.0 103.1 L165.0 103.9 L165.0 104.6 L165.0 105.4 L165.0 106.1 L165.0 106.9 L164.9 107.6 L164.8 108.1 L164.8 108.9 L164.8 109.6 L164.8 110.4 L164.8 111.1 L164.8 111.9 L164.8 112.6 L164.7 113.4 L164.7 114.1 L164.7 114.9 L164.6 115.4 L164.5 116.1 L164.5 116.9 L164.5 117.6 L164.5 118.4 L164.5 119.1 L164.4 119.9 L164.3 120.4 L164.3 121.1 L164.2 121.9 L164.2 122.6 L164.2 123.4 L164.1 123.9 L163.9 124.6 L163.8 125.1 L163.7 125.9 L163.5 126.4 L163.4 127.1 L163.3 127.6 L163.2 128.4 L163.0 128.9 L162.9 129.5 L162.7 130.1 L162.5 130.6 L162.3 131.1 L162.0 131.6 L161.7 132.1 L161.4 132.6 L161.1 133.0 L160.9 133.4 L160.5 133.9 L160.1 134.2 L159.7 134.6 L159.4 135.0 L158.9 135.3 L158.4 135.6 L158.1 135.9 L157.6 136.2 L157.1 136.5 L156.6 136.7 L155.9 136.8 L155.4 137.0 L154.6 137.0 L153.9 137.0 L153.4 136.8 L152.9 136.6 L152.4 136.2 L151.9 135.9 L151.6 135.6 L151.1 135.2 L150.9 134.8 L150.5 134.4 L150.2 133.9 L149.9 133.5 L149.6 133.1 L149.3 132.6 L149.1 132.1 L148.8 131.6 L148.6 131.1 L148.3 130.6 L148.1 130.1 L147.9 129.4 L147.8 128.9 L147.6 128.2 L147.5 127.6 L147.4 127.0 L147.3 126.4 L147.2 125.6 L147.2 124.9 L147.1 124.4 L147.0 123.6 L147.0 122.9 L147.0 122.1 L147.0 121.4 L147.0 120.6 L147.0 119.9 L147.0 119.1 L147.0 118.4 L147.1 117.6 L147.2 117.1 L147.2 116.4 L147.3 115.6 L147.4 115.0 L147.5 114.4 L147.5 113.6 L147.6 112.9 L147.7 112.4 L147.7 111.6 L147.7 110.9 L147.8 110.1 L147.8 109.4 L147.9 108.9 L148.0 108.1 L148.0 107.4 L148.0 106.6 L148.0 105.9 L148.1 105.2 L148.2 104.6 L148.3 103.9 L148.3 103.1 L148.4 102.6 L148.5 101.9 L148.5 101.1 L148.6 100.5 L148.7 99.9 L148.8 99.1 L148.8 98.4 L148.9 97.9 L149.0 97.1 L149.2 96.6 L149.3 95.9 L149.4 95.4 L149.5 94.6 L149.5 93.9 L149.6 93.3 L149.8 92.6 L149.9 92.1 L150.0 91.4 L150.2 90.9 L150.3 90.1 L150.5 89.6 L150.6 89.0 L150.8 88.4 L150.9 87.8 L151.1 87.1 L151.3 86.6 L151.5 86.1 L151.7 85.6 L151.9 85.1 L152.1 84.4 L152.3 83.9 L152.5 83.4 L152.7 82.9 L152.9 82.4 L153.1 81.8 L153.4 81.2 L153.6 80.6 L153.8 80.1 L154.0 79.6 L154.2 79.1 L154.5 78.6 L154.8 78.1 L155.1 77.7 L155.4 77.4 L155.9 76.9 L156.4 76.6 L156.4 76.6Z M156.2 86.4 L156.9 86.3 L157.4 86.4 L157.8 86.9 L158.1 87.3 L158.4 87.6 L158.7 88.1 L159.0 88.6 L159.2 89.1 L159.4 89.6 L159.6 90.2 L159.8 90.9 L160.0 91.4 L160.2 91.9 L160.4 92.4 L160.6 92.9 L160.9 93.6 L161.0 94.1 L161.2 94.6 L161.3 95.4 L161.5 95.9 L161.6 96.6 L161.7 97.1 L161.9 97.8 L162.0 98.4 L162.2 98.9 L162.3 99.6 L162.4 100.1 L162.5 100.9 L162.5 101.6 L162.5 102.4 L162.5 103.1 L162.6 103.8 L162.7 104.4 L162.6 104.9 L162.5 105.6 L162.5 106.4 L162.5 107.1 L162.5 107.9 L162.4 108.5 L162.2 109.1 L162.1 109.8 L162.0 110.4 L162.0 111.1 L161.9 111.9 L161.8 112.4 L161.8 113.1 L161.7 113.9 L161.6 114.5 L161.5 115.1 L161.4 115.7 L161.2 116.4 L161.1 116.9 L161.0 117.6 L160.9 118.4 L160.8 118.9 L160.6 119.4 L160.4 120.1 L160.2 120.6 L160.1 121.1 L159.8 121.6 L159.6 122.2 L159.4 122.7 L159.1 123.2 L158.9 123.7 L158.6 124.2 L158.3 124.6 L158.0 125.1 L157.7 125.6 L157.4 126.0 L156.9 126.4 L156.4 126.6 L155.9 126.7 L155.4 126.5 L154.9 126.2 L154.4 125.9 L154.1 125.6 L153.7 125.1 L153.4 124.6 L153.2 124.1 L153.0 123.6 L152.8 123.1 L152.6 122.6 L152.3 122.1 L152.1 121.6 L151.9 120.9 L151.7 120.4 L151.6 119.9 L151.4 119.1 L151.3 118.6 L151.2 117.9 L151.0 117.4 L150.9 116.7 L150.8 116.1 L150.7 115.4 L150.7 114.6 L150.6 114.1 L150.5 113.4 L150.5 112.6 L150.4 112.0 L150.3 111.4 L150.3 110.6 L150.2 109.9 L150.2 109.1 L150.2 108.4 L150.2 107.6 L150.2 106.9 L150.2 106.1 L150.3 105.4 L150.3 104.6 L150.3 103.9 L150.4 103.4 L150.5 102.6 L150.5 101.9 L150.6 101.1 L150.7 100.6 L150.8 99.9 L150.8 99.1 L150.9 98.6 L151.1 97.9 L151.3 97.4 L151.4 96.9 L151.6 96.4 L151.8 95.6 L152.0 95.1 L152.1 94.6 L152.4 93.9 L152.6 93.4 L152.8 92.9 L153.0 92.4 L153.2 91.9 L153.4 91.4 L153.7 90.9 L153.9 90.4 L154.2 89.9 L154.4 89.2 L154.6 88.6 L154.8 88.1 L155.1 87.6 L155.4 87.1 L155.6 86.8 L156.1 86.4 L156.2 86.4Z M156.6 94.9 L157.1 94.9 L157.5 95.1 L157.9 95.5 L158.1 95.9 L158.4 96.4 L158.7 96.9 L158.9 97.4 L159.2 97.9 L159.4 98.5 L159.5 99.1 L159.7 99.6 L159.8 100.4 L159.9 100.9 L160.0 101.6 L160.1 102.1 L160.1 102.9 L160.1 103.4 L160.0 104.1 L160.0 104.9 L160.0 105.6 L159.9 106.4 L159.8 106.9 L159.7 107.6 L159.5 108.1 L159.4 108.8 L159.2 109.4 L159.1 110.0 L159.0 110.6 L158.8 111.1 L158.7 111.9 L158.6 112.4 L158.4 113.1 L158.3 113.6 L158.1 114.1 L157.9 114.7 L157.6 115.4 L157.4 115.9 L157.1 116.3 L156.9 116.6 L156.4 117.0 L155.9 117.1 L155.4 116.9 L155.1 116.6 L154.8 116.1 L154.5 115.6 L154.2 115.1 L154.0 114.6 L153.8 114.1 L153.6 113.5 L153.5 112.9 L153.3 112.4 L153.2 111.6 L153.1 111.1 L153.0 110.4 L153.0 109.6 L153.0 108.9 L153.0 108.1 L153.0 107.4 L153.0 106.6 L153.0 105.9 L153.0 105.1 L153.0 104.4 L153.0 103.6 L153.1 103.0 L153.3 102.4 L153.4 101.8 L153.5 101.1 L153.7 100.6 L153.8 99.9 L153.9 99.4 L154.1 98.6 L154.2 98.1 L154.4 97.6 L154.7 97.1 L155.0 96.6 L155.3 96.1 L155.6 95.7 L155.9 95.4 L156.4 95.0 L156.6 94.9Z" fill="none" stroke="#000" stroke-opacity="0.9" stroke-width="0.90" stroke-linejoin="round"/><circle cx="195.3" cy="19.3" r="0.9" fill="#000" opacity="0.85"/><circle cx="114.8" cy="58.7" r="0.9" fill="#000" opacity="0.85"/><circle cx="122.0" cy="56.0" r="0.9" fill="#000" opacity="0.85"/><circle cx="112.0" cy="93.6" r="0.9" fill="#000" opacity="0.85"/><circle cx="133.6" cy="91.0" r="0.9" fill="#000" opacity="0.85"/><circle cx="190.0" cy="103.5" r="0.9" fill="#000" opacity="0.85"/><circle cx="127.0" cy="128.7" r="0.9" fill="#000" opacity="0.85"/><circle cx="130.4" cy="140.5" r="0.9" fill="#000" opacity="0.85"/><circle cx="120.0" cy="167.8" r="0.9" fill="#000" opacity="0.85"/><circle cx="127.5" cy="175.4" r="0.9" fill="#000" opacity="0.85"/><circle cx="197.7" cy="118.6" r="0.9" fill="#000" opacity="0.85"/><circle cx="188.0" cy="143.8" r="0.9" fill="#000" opacity="0.85"/><circle cx="193.5" cy="165.7" r="0.9" fill="#000" opacity="0.85"/><circle cx="173.7" cy="177.5" r="0.9" fill="#000" opacity="0.85"/><circle cx="183.0" cy="187.6" r="0.9" fill="#000" opacity="0.85"/><circle cx="211.0" cy="190.0" r="0.9" fill="#000" opacity="0.85"/><circle cx="172.5" cy="185.5" r="0.9" fill="#000" opacity="0.85"/><circle cx="138.8" cy="134.0" r="0.9" fill="#000" opacity="0.85"/></g>
<g clip-path="url(#cr)"><g shape-rendering="crispEdges"><rect x="355.80" y="4.50" width="3.80" height="3.80" fill="#7000ff"/>
<rect x="359.10" y="4.50" width="3.80" height="3.80" fill="#2800ff"/>
<rect x="362.40" y="4.50" width="3.80" height="3.80" fill="#5800ff"/>
<rect x="375.60" y="4.50" width="3.80" height="3.80" fill="#6000ff"/>
<rect x="378.90" y="4.50" width="3.80" height="3.80" fill="#5800ff"/>
<rect x="411.90" y="4.50" width="3.80" height="3.80" fill="#5000ff"/>
<rect x="415.20" y="4.50" width="3.80" height="3.80" fill="#6000ff"/>
<rect x="428.40" y="4.50" width="3.80" height="3.80" fill="#6800ff"/>
<rect x="431.70" y="4.50" width="3.80" height="3.80" fill="#3000ff"/>
<rect x="461.40" y="4.50" width="3.80" height="3.80" fill="#5800ff"/>
<rect x="464.70" y="4.50" width="3.80" height="3.80" fill="#0000ff"/>
<rect x="468.00" y="4.50" width="3.80" height="3.80" fill="#5000ff"/>
<rect x="507.60" y="4.50" width="3.80" height="3.80" fill="#6800ff"/>
<rect x="510.90" y="4.50" width="10.40" height="3.80" fill="#1800ff"/>
<rect x="520.80" y="4.50" width="3.80" height="3.80" fill="#2000ff"/>
<rect x="537.30" y="4.50" width="3.80" height="3.80" fill="#4000ff"/>
<rect x="540.60" y="4.50" width="3.80" height="3.80" fill="#0008ff"/>
<rect x="543.90" y="4.50" width="3.80" height="3.80" fill="#5800ff"/>
<rect x="359.10" y="7.80" width="3.80" height="3.80" fill="#3000ff"/>
<rect x="362.40" y="7.80" width="3.80" height="3.80" fill="#6000ff"/>
<rect x="425.10" y="7.80" width="3.80" height="3.80" fill="#6000ff"/>
<rect x="428.40" y="7.80" width="7.10" height="3.80" fill="#5800ff"/>
<rect x="461.40" y="7.80" width="3.80" height="3.80" fill="#4800ff"/>
<rect x="464.70" y="7.80" width="3.80" height="3.80" fill="#0008ff"/>
<rect x="468.00" y="7.80" width="3.80" height="3.80" fill="#5800ff"/>
<rect x="510.90" y="7.80" width="10.40" height="3.80" fill="#4800ff"/>
<rect x="520.80" y="7.80" width="3.80" height="3.80" fill="#5000ff"/>
<rect x="540.60" y="7.80" width="3.80" height="3.80" fill="#1000ff"/>
<rect x="543.90" y="7.80" width="3.80" height="3.80" fill="#1800ff"/>
<rect x="421.80" y="11.10" width="3.80" height="3.80" fill="#4800ff"/>
<rect x="425.10" y="11.10" width="3.80" height="3.80" fill="#0000ff"/>
<rect x="428.40" y="11.10" width="3.80" height="3.80" fill="#0800ff"/>
<rect x="438.30" y="11.10" width="3.80" height="3.80" fill="#6000ff"/>
<rect x="461.40" y="11.10" width="3.80" height="3.80" fill="#3000ff"/>
<rect x="464.70" y="11.10" width="3.80" height="3.80" fill="#0000ff"/>
<rect x="468.00" y="11.10" width="3.80" height="3.80" fill="#6800ff"/>
<rect x="540.60" y="11.10" width="3.80" height="3.80" fill="#5000ff"/>
<rect x="543.90" y="11.10" width="3.80" height="3.80" fill="#0008ff"/>
<rect x="547.20" y="11.10" width="3.80" height="3.80" fill="#5000ff"/>
<rect x="362.40" y="14.40" width="3.80" height="3.80" fill="#4800ff"/>
<rect x="365.70" y="14.40" width="3.80" height="3.80" fill="#1800ff"/>
<rect x="369.00" y="14.40" width="3.80" height="3.80" fill="#5800ff"/>
<rect x="418.50" y="14.40" width="3.80" height="3.80" fill="#3800ff"/>
<rect x="421.80" y="14.40" width="7.10" height="3.80" fill="#0008ff"/>
<rect x="428.40" y="14.40" width="3.80" height="3.80" fill="#4000ff"/>
<rect x="435.00" y="14.40" width="3.80" height="3.80" fill="#5000ff"/>
<rect x="438.30" y="14.40" width="3.80" height="3.80" fill="#1800ff"/>
<rect x="458.10" y="14.40" width="3.80" height="3.80" fill="#5000ff"/>
<rect x="461.40" y="14.40" width="7.10" height="3.80" fill="#0008ff"/>
<rect x="468.00" y="14.40" width="3.80" height="3.80" fill="#4000ff"/>
<rect x="471.30" y="14.40" width="3.80" height="3.80" fill="#7000ff"/>
<rect x="501.00" y="14.40" width="3.80" height="3.80" fill="#6800ff"/>
<rect x="540.60" y="14.40" width="3.80" height="3.80" fill="#5800ff"/>
<rect x="543.90" y="14.40" width="3.80" height="3.80" fill="#0008ff"/>
<rect x="547.20" y="14.40" width="3.80" height="3.80" fill="#5800ff"/>
<rect x="362.40" y="17.70" width="3.80" height="3.80" fill="#1000ff"/>
<rect x="365.70" y="17.70" width="3.80" height="3.80" fill="#0010ff"/>
<rect x="369.00" y="17.70" width="3.80" height="3.80" fill="#1000ff"/>
<rect x="415.20" y="17.70" width="3.80" height="3.80" fill="#2000ff"/>
<rect x="418.50" y="17.70" width="3.80" height="3.80" fill="#0008ff"/>
<rect x="421.80" y="17.70" width="3.80" height="3.80" fill="#0000ff"/>
<rect x="425.10" y="17.70" width="3.80" height="3.80" fill="#5000ff"/>
<rect x="458.10" y="17.70" width="3.80" height="3.80" fill="#5000ff"/>
<rect x="461.40" y="17.70" width="10.40" height="3.80" fill="#0008ff"/>
<rect x="471.30" y="17.70" width="3.80" height="3.80" fill="#0800ff"/>
<rect x="474.60" y="17.70" width="3.80" height="3.80" fill="#3800ff"/>
<rect x="477.90" y="17.70" width="3.80" height="3.80" fill="#6800ff"/>
<rect x="497.70" y="17.70" width="3.80" height="3.80" fill="#6800ff"/>
<rect x="501.00" y="17.70" width="3.80" height="3.80" fill="#0000ff"/>
<rect x="504.30" y="17.70" width="3.80" height="3.80" fill="#2800ff"/>
<rect x="540.60" y="17.70" width="3.80" height="3.80" fill="#2800ff"/>
<rect x="543.90" y="17.70" width="3.80" height="3.80" fill="#0800ff"/>
<rect x="362.40" y="21.00" width="3.80" height="3.80" fill="#3800ff"/>
<rect x="365.70" y="21.00" width="3.80" height="3.80" fill="#0008ff"/>
<rect x="369.00" y="21.00" width="3.80" height="3.80" fill="#2000ff"/>
<rect x="385.50" y="21.00" width="3.80" height="3.80" fill="#3000ff"/>
<rect x="411.90" y="21.00" width="3.80" height="3.80" fill="#7000ff"/>
<rect x="415.20" y="21.00" width="7.10" height="3.80" fill="#0800ff"/>
<rect x="421.80" y="21.00" width="3.80" height="3.80" fill="#6000ff"/>
<rect x="461.40" y="21.00" width="3.80" height="3.80" fill="#5000ff"/>
<rect x="464.70" y="21.00" width="3.80" height="3.80" fill="#5800ff"/>
<rect x="468.00" y="21.00" width="3.80" height="3.80" fill="#4800ff"/>
<rect x="471.30" y="21.00" width="3.80" height="3.80" fill="#0800ff"/>
<rect x="474.60" y="21.00" width="3.80" height="3.80" fill="#0008ff"/>
<rect x="477.90" y="21.00" width="3.80" height="3.80" fill="#0000ff"/>
<rect x="481.20" y="21.00" width="3.80" height="3.80" fill="#2800ff"/>
<rect x="501.00" y="21.00" width="3.80" height="3.80" fill="#4000ff"/>
<rect x="504.30" y="21.00" width="3.80" height="3.80" fill="#0000ff"/>
<rect x="507.60" y="21.00" width="3.80" height="3.80" fill="#1800ff"/>
<rect x="510.90" y="21.00" width="3.80" height="3.80" fill="#6800ff"/>
<rect x="537.30" y="21.00" width="3.80" height="3.80" fill="#6800ff"/>
<rect x="540.60" y="21.00" width="3.80" height="3.80" fill="#0000ff"/>
<rect x="543.90" y="21.00" width="3.80" height="3.80" fill="#2800ff"/>
<rect x="365.70" y="24.30" width="3.80" height="3.80" fill="#6000ff"/>
<rect x="369.00" y="24.30" width="3.80" height="3.80" fill="#7000ff"/>
<rect x="385.50" y="24.30" width="3.80" height="3.80" fill="#4800ff"/>
<rect x="415.20" y="24.30" width="7.10" height="3.80" fill="#7000ff"/>
<rect x="441.60" y="24.30" width="3.80" height="3.80" fill="#6800ff"/>
<rect x="444.90" y="24.30" width="3.80" height="3.80" fill="#3000ff"/>
<rect x="474.60" y="24.30" width="3.80" height="3.80" fill="#5800ff"/>
<rect x="477.90" y="24.30" width="3.80" height="3.80" fill="#1000ff"/>
<rect x="481.20" y="24.30" width="3.80" height="3.80" fill="#0000ff"/>
<rect x="484.50" y="24.30" width="3.80" height="3.80" fill="#6800ff"/>
<rect x="504.30" y="24.30" width="3.80" height="3.80" fill="#5800ff"/>
<rect x="507.60" y="24.30" width="3.80" height="3.80" fill="#0800ff"/>
<rect x="510.90" y="24.30" width="3.80" height="3.80" fill="#3000ff"/>
<rect x="517.50" y="24.30" width="3.80" height="3.80" fill="#4000ff"/>
<rect x="520.80" y="24.30" width="3.80" height="3.80" fill="#2800ff"/>
<rect x="534.00" y="24.30" width="3.80" height="3.80" fill="#6800ff"/>
<rect x="537.30" y="24.30" width="7.10" height="3.80" fill="#0800ff"/>
<rect x="543.90" y="24.30" width="3.80" height="3.80" fill="#6000ff"/>
<rect x="441.60" y="27.60" width="3.80" height="3.80" fill="#7000ff"/>
<rect x="444.90" y="27.60" width="3.80" height="3.80" fill="#4000ff"/>
<rect x="477.90" y="27.60" width="3.80" height="3.80" fill="#0800ff"/>
<rect x="481.20" y="27.60" width="3.80" height="3.80" fill="#0010ff"/>
<rect x="484.50" y="27.60" width="3.80" height="3.80" fill="#3800ff"/>
<rect x="507.60" y="27.60" width="3.80" height="3.80" fill="#6800ff"/>
<rect x="510.90" y="27.60" width="3.80" height="3.80" fill="#7000ff"/>
<rect x="517.50" y="27.60" width="3.80" height="3.80" fill="#7000ff"/>
<rect x="520.80" y="27.60" width="3.80" height="3.80" fill="#6800ff"/>
<rect x="530.70" y="27.60" width="3.80" height="3.80" fill="#6800ff"/>
<rect x="534.00" y="27.60" width="7.10" height="3.80" fill="#0800ff"/>
<rect x="540.60" y="27.60" width="3.80" height="3.80" fill="#6000ff"/>
<rect x="477.90" y="30.90" width="3.80" height="3.80" fill="#0800ff"/>
<rect x="481.20" y="30.90" width="3.80" height="3.80" fill="#0010ff"/>
<rect x="484.50" y="30.90" width="3.80" height="3.80" fill="#3000ff"/>
<rect x="530.70" y="30.90" width="3.80" height="3.80" fill="#6800ff"/>
<rect x="534.00" y="30.90" width="3.80" height="3.80" fill="#1800ff"/>
<rect x="537.30" y="30.90" width="3.80" height="3.80" fill="#6000ff"/>
<rect x="355.80" y="34.20" width="3.80" height="3.80" fill="#5800ff"/>
<rect x="461.40" y="34.20" width="3.80" height="3.80" fill="#6800ff"/>
<rect x="464.70" y="34.20" width="3.80" height="3.80" fill="#5000ff"/>
<rect x="468.00" y="34.20" width="3.80" height="3.80" fill="#4000ff"/>
<rect x="471.30" y="34.20" width="3.80" height="3.80" fill="#3800ff"/>
<rect x="474.60" y="34.20" width="3.80" height="3.80" fill="#2000ff"/>
<rect x="477.90" y="34.20" width="3.80" height="3.80" fill="#0008ff"/>
<rect x="481.20" y="34.20" width="3.80" height="3.80" fill="#0800ff"/>
<rect x="484.50" y="34.20" width="3.80" height="3.80" fill="#6000ff"/>
<rect x="355.80" y="37.50" width="3.80" height="3.80" fill="#4000ff"/>
<rect x="408.60" y="37.50" width="3.80" height="3.80" fill="#1800ff"/>
<rect x="411.90" y="37.50" width="3.80" height="3.80" fill="#2000ff"/>
<rect x="451.50" y="37.50" width="3.80" height="3.80" fill="#6000ff"/>
<rect x="454.80" y="37.50" width="3.80" height="3.80" fill="#4000ff"/>
<rect x="458.10" y="37.50" width="3.80" height="3.80" fill="#0800ff"/>
<rect x="461.40" y="37.50" width="3.80" height="3.80" fill="#0000ff"/>
<rect x="464.70" y="37.50" width="7.10" height="3.80" fill="#0008ff"/>
<rect x="471.30" y="37.50" width="7.10" height="3.80" fill="#0000ff"/>
<rect x="477.90" y="37.50" width="3.80" height="3.80" fill="#2000ff"/>
<rect x="481.20" y="37.50" width="3.80" height="3.80" fill="#7000ff"/>
<rect x="507.60" y="37.50" width="3.80" height="3.80" fill="#6000ff"/>
<rect x="510.90" y="37.50" width="3.80" height="3.80" fill="#2800ff"/>
<rect x="524.10" y="37.50" width="3.80" height="3.80" fill="#6800ff"/>
<rect x="527.40" y="37.50" width="3.80" height="3.80" fill="#3800ff"/>
<rect x="385.50" y="40.80" width="3.80" height="3.80" fill="#7000ff"/>
<rect x="405.30" y="40.80" width="3.80" height="3.80" fill="#5000ff"/>
<rect x="408.60" y="40.80" width="3.80" height="3.80" fill="#0008ff"/>
<rect x="411.90" y="40.80" width="3.80" height="3.80" fill="#0000ff"/>
<rect x="415.20" y="40.80" width="3.80" height="3.80" fill="#7000ff"/>
<rect x="441.60" y="40.80" width="3.80" height="3.80" fill="#7000ff"/>
<rect x="444.90" y="40.80" width="3.80" height="3.80" fill="#4000ff"/>
<rect x="448.20" y="40.80" width="3.80" height="3.80" fill="#1000ff"/>
<rect x="451.50" y="40.80" width="3.80" height="3.80" fill="#0008ff"/>
<rect x="454.80" y="40.80" width="7.10" height="3.80" fill="#0010ff"/>
<rect x="461.40" y="40.80" width="3.80" height="3.80" fill="#0800ff"/>
<rect x="464.70" y="40.80" width="3.80" height="3.80" fill="#4800ff"/>
<rect x="468.00" y="40.80" width="3.80" height="3.80" fill="#6000ff"/>
<rect x="471.30" y="40.80" width="3.80" height="3.80" fill="#6800ff"/>
<rect x="474.60" y="40.80" width="3.80" height="3.80" fill="#7000ff"/>
<rect x="510.90" y="40.80" width="3.80" height="3.80" fill="#6800ff"/>
<rect x="382.20" y="44.10" width="3.80" height="3.80" fill="#5800ff"/>
<rect x="385.50" y="44.10" width="3.80" height="3.80" fill="#1000ff"/>
<rect x="388.80" y="44.10" width="3.80" height="3.80" fill="#7000ff"/>
<rect x="405.30" y="44.10" width="3.80" height="3.80" fill="#2800ff"/>
<rect x="408.60" y="44.10" width="3.80" height="3.80" fill="#0010ff"/>
<rect x="411.90" y="44.10" width="3.80" height="3.80" fill="#2800ff"/>
<rect x="441.60" y="44.10" width="3.80" height="3.80" fill="#2800ff"/>
<rect x="444.90" y="44.10" width="17.00" height="3.80" fill="#0010ff"/>
<rect x="461.40" y="44.10" width="3.80" height="3.80" fill="#1000ff"/>
<rect x="517.50" y="44.10" width="3.80" height="3.80" fill="#5800ff"/>
<rect x="520.80" y="44.10" width="3.80" height="3.80" fill="#0800ff"/>
<rect x="524.10" y="44.10" width="3.80" height="3.80" fill="#1000ff"/>
<rect x="527.40" y="44.10" width="3.80" height="3.80" fill="#5000ff"/>
<rect x="530.70" y="44.10" width="3.80" height="3.80" fill="#6000ff"/>
<rect x="534.00" y="44.10" width="3.80" height="3.80" fill="#6800ff"/>
<rect x="385.50" y="47.40" width="3.80" height="3.80" fill="#6800ff"/>
<rect x="402.00" y="47.40" width="3.80" height="3.80" fill="#6800ff"/>
<rect x="405.30" y="47.40" width="3.80" height="3.80" fill="#0000ff"/>
<rect x="408.60" y="47.40" width="3.80" height="3.80" fill="#0008ff"/>
<rect x="411.90" y="47.40" width="3.80" height="3.80" fill="#5800ff"/>
<rect x="441.60" y="47.40" width="3.80" height="3.80" fill="#3800ff"/>
<rect x="444.90" y="47.40" width="3.80" height="3.80" fill="#0008ff"/>
<rect x="448.20" y="47.40" width="3.80" height="3.80" fill="#0800ff"/>
<rect x="451.50" y="47.40" width="3.80" height="3.80" fill="#3000ff"/>
<rect x="454.80" y="47.40" width="3.80" height="3.80" fill="#0000ff"/>
<rect x="458.10" y="47.40" width="3.80" height="3.80" fill="#0008ff"/>
<rect x="461.40" y="47.40" width="3.80" height="3.80" fill="#4800ff"/>
<rect x="517.50" y="47.40" width="3.80" height="3.80" fill="#3000ff"/>
<rect x="520.80" y="47.40" width="7.10" height="3.80" fill="#0010ff"/>
<rect x="527.40" y="47.40" width="3.80" height="3.80" fill="#0800ff"/>
<rect x="530.70" y="47.40" width="3.80" height="3.80" fill="#1000ff"/>
<rect x="534.00" y="47.40" width="3.80" height="3.80" fill="#3000ff"/>
<rect x="369.00" y="50.70" width="3.80" height="3.80" fill="#7000ff"/>
<rect x="402.00" y="50.70" width="3.80" height="3.80" fill="#7000ff"/>
<rect x="405.30" y="50.70" width="7.10" height="3.80" fill="#1000ff"/>
<rect x="411.90" y="50.70" width="3.80" height="3.80" fill="#7000ff"/>
<rect x="421.80" y="50.70" width="3.80" height="3.80" fill="#5800ff"/>
<rect x="425.10" y="50.70" width="3.80" height="3.80" fill="#6800ff"/>
<rect x="444.90" y="50.70" width="3.80" height="3.80" fill="#6000ff"/>
<rect x="454.80" y="50.70" width="3.80" height="3.80" fill="#1000ff"/>
<rect x="458.10" y="50.70" width="3.80" height="3.80" fill="#0800ff"/>
<rect x="481.20" y="50.70" width="3.80" height="3.80" fill="#3800ff"/>
<rect x="484.50" y="50.70" width="3.80" height="3.80" fill="#4000ff"/>
<rect x="517.50" y="50.70" width="3.80" height="3.80" fill="#4000ff"/>
<rect x="520.80" y="50.70" width="7.10" height="3.80" fill="#0010ff"/>
<rect x="527.40" y="50.70" width="3.80" height="3.80" fill="#3800ff"/>
<rect x="355.80" y="54.00" width="3.80" height="3.80" fill="#7000ff"/>
<rect x="359.10" y="54.00" width="3.80" height="3.80" fill="#1800ff"/>
<rect x="362.40" y="54.00" width="3.80" height="3.80" fill="#1000ff"/>
<rect x="365.70" y="54.00" width="7.10" height="3.80" fill="#0800ff"/>
<rect x="372.30" y="54.00" width="3.80" height="3.80" fill="#6800ff"/>
<rect x="378.90" y="54.00" width="3.80" height="3.80" fill="#5800ff"/>
<rect x="421.80" y="54.00" width="3.80" height="3.80" fill="#3000ff"/>
<rect x="425.10" y="54.00" width="3.80" height="3.80" fill="#6000ff"/>
<rect x="441.60" y="54.00" width="3.80" height="3.80" fill="#6000ff"/>
<rect x="444.90" y="54.00" width="3.80" height="3.80" fill="#1800ff"/>
<rect x="454.80" y="54.00" width="3.80" height="3.80" fill="#2000ff"/>
<rect x="458.10" y="54.00" width="3.80" height="3.80" fill="#0000ff"/>
<rect x="461.40" y="54.00" width="3.80" height="3.80" fill="#7000ff"/>
<rect x="481.20" y="54.00" width="3.80" height="3.80" fill="#6800ff"/>
<rect x="484.50" y="54.00" width="3.80" height="3.80" fill="#5000ff"/>
<rect x="504.30" y="54.00" width="3.80" height="3.80" fill="#7000ff"/>
<rect x="507.60" y="54.00" width="3.80" height="3.80" fill="#6000ff"/>
<rect x="517.50" y="54.00" width="3.80" height="3.80" fill="#5000ff"/>
<rect x="520.80" y="54.00" width="7.10" height="3.80" fill="#0010ff"/>
<rect x="527.40" y="54.00" width="3.80" height="3.80" fill="#2000ff"/>
<rect x="355.80" y="57.30" width="3.80" height="3.80" fill="#7000ff"/>
<rect x="359.10" y="57.30" width="3.80" height="3.80" fill="#2000ff"/>
<rect x="362.40" y="57.30" width="3.80" height="3.80" fill="#1800ff"/>
<rect x="365.70" y="57.30" width="3.80" height="3.80" fill="#2800ff"/>
<rect x="369.00" y="57.30" width="3.80" height="3.80" fill="#3000ff"/>
<rect x="375.60" y="57.30" width="3.80" height="3.80" fill="#6000ff"/>
<rect x="378.90" y="57.30" width="3.80" height="3.80" fill="#1800ff"/>
<rect x="392.10" y="57.30" width="3.80" height="3.80" fill="#6800ff"/>
<rect x="395.40" y="57.30" width="3.80" height="3.80" fill="#7000ff"/>
<rect x="444.90" y="57.30" width="3.80" height="3.80" fill="#5000ff"/>
<rect x="454.80" y="57.30" width="3.80" height="3.80" fill="#6800ff"/>
<rect x="458.10" y="57.30" width="3.80" height="3.80" fill="#5000ff"/>
<rect x="461.40" y="57.30" width="3.80" height="3.80" fill="#6800ff"/>
<rect x="501.00" y="57.30" width="3.80" height="3.80" fill="#6800ff"/>
<rect x="504.30" y="57.30" width="3.80" height="3.80" fill="#1000ff"/>
<rect x="507.60" y="57.30" width="3.80" height="3.80" fill="#0000ff"/>
<rect x="510.90" y="57.30" width="3.80" height="3.80" fill="#6000ff"/>
<rect x="517.50" y="57.30" width="3.80" height="3.80" fill="#7000ff"/>
<rect x="520.80" y="57.30" width="3.80" height="3.80" fill="#1800ff"/>
<rect x="524.10" y="57.30" width="3.80" height="3.80" fill="#0800ff"/>
<rect x="527.40" y="57.30" width="3.80" height="3.80" fill="#4800ff"/>
<rect x="388.80" y="60.60" width="3.80" height="3.80" fill="#6800ff"/>
<rect x="392.10" y="60.60" width="7.10" height="3.80" fill="#0800ff"/>
<rect x="398.70" y="60.60" width="3.80" height="3.80" fill="#5800ff"/>
<rect x="458.10" y="60.60" width="3.80" height="3.80" fill="#3800ff"/>
<rect x="461.40" y="60.60" width="3.80" height="3.80" fill="#1000ff"/>
<rect x="497.70" y="60.60" width="3.80" height="3.80" fill="#5800ff"/>
<rect x="501.00" y="60.60" width="3.80" height="3.80" fill="#0800ff"/>
<rect x="504.30" y="60.60" width="3.80" height="3.80" fill="#0010ff"/>
<rect x="507.60" y="60.60" width="3.80" height="3.80" fill="#2000ff"/>
<rect x="510.90" y="60.60" width="3.80" height="3.80" fill="#7000ff"/>
<rect x="392.10" y="63.90" width="3.80" height="3.80" fill="#4800ff"/>
<rect x="395.40" y="63.90" width="3.80" height="3.80" fill="#0008ff"/>
<rect x="398.70" y="63.90" width="3.80" height="3.80" fill="#0000ff"/>
<rect x="402.00" y="63.90" width="3.80" height="3.80" fill="#4800ff"/>
<rect x="408.60" y="63.90" width="3.80" height="3.80" fill="#6000ff"/>
<rect x="411.90" y="63.90" width="3.80" height="3.80" fill="#2000ff"/>
<rect x="415.20" y="63.90" width="3.80" height="3.80" fill="#6800ff"/>
<rect x="431.70" y="63.90" width="3.80" height="3.80" fill="#5800ff"/>
<rect x="435.00" y="63.90" width="3.80" height="3.80" fill="#4000ff"/>
<rect x="438.30" y="63.90" width="3.80" height="3.80" fill="#5000ff"/>
<rect x="448.20" y="63.90" width="3.80" height="3.80" fill="#4000ff"/>
<rect x="451.50" y="63.90" width="7.10" height="3.80" fill="#1800ff"/>
<rect x="458.10" y="63.90" width="3.80" height="3.80" fill="#0000ff"/>
<rect x="461.40" y="63.90" width="3.80" height="3.80" fill="#4000ff"/>
<rect x="474.60" y="63.90" width="3.80" height="3.80" fill="#5000ff"/>
<rect x="477.90" y="63.90" width="3.80" height="3.80" fill="#2800ff"/>
<rect x="494.40" y="63.90" width="3.80" height="3.80" fill="#5000ff"/>
<rect x="497.70" y="63.90" width="3.80" height="3.80" fill="#0000ff"/>
<rect x="501.00" y="63.90" width="3.80" height="3.80" fill="#0008ff"/>
<rect x="504.30" y="63.90" width="3.80" height="3.80" fill="#3000ff"/>
<rect x="355.80" y="67.20" width="3.80" height="3.80" fill="#0800ff"/>
<rect x="359.10" y="67.20" width="3.80" height="3.80" fill="#2800ff"/>
<rect x="362.40" y="67.20" width="3.80" height="3.80" fill="#6000ff"/>
<rect x="395.40" y="67.20" width="3.80" height="3.80" fill="#2000ff"/>
<rect x="398.70" y="67.20" width="3.80" height="3.80" fill="#0010ff"/>
<rect x="402.00" y="67.20" width="3.80" height="3.80" fill="#0008ff"/>
<rect x="405.30" y="67.20" width="7.10" height="3.80" fill="#1800ff"/>
<rect x="411.90" y="67.20" width="3.80" height="3.80" fill="#0010ff"/>
<rect x="415.20" y="67.20" width="3.80" height="3.80" fill="#0000ff"/>
<rect x="418.50" y="67.20" width="3.80" height="3.80" fill="#3000ff"/>
<rect x="421.80" y="67.20" width="3.80" height="3.80" fill="#4800ff"/>
<rect x="425.10" y="67.20" width="3.80" height="3.80" fill="#3800ff"/>
<rect x="428.40" y="67.20" width="3.80" height="3.80" fill="#1000ff"/>
<rect x="431.70" y="67.20" width="3.80" height="3.80" fill="#0008ff"/>
<rect x="435.00" y="67.20" width="3.80" height="3.80" fill="#0010ff"/>
<rect x="438.30" y="67.20" width="3.80" height="3.80" fill="#0008ff"/>
<rect x="441.60" y="67.20" width="7.10" height="3.80" fill="#3800ff"/>
<rect x="448.20" y="67.20" width="3.80" height="3.80" fill="#0038ff"/>
<rect x="451.50" y="67.20" width="3.80" height="3.80" fill="#0078ff"/>
<rect x="454.80" y="67.20" width="3.80" height="3.80" fill="#0040ff"/>
<rect x="458.10" y="67.20" width="3.80" height="3.80" fill="#2000ff"/>
<rect x="474.60" y="67.20" width="3.80" height="3.80" fill="#7000ff"/>
<rect x="477.90" y="67.20" width="3.80" height="3.80" fill="#5800ff"/>
<rect x="491.10" y="67.20" width="3.80" height="3.80" fill="#5800ff"/>
<rect x="494.40" y="67.20" width="3.80" height="3.80" fill="#0000ff"/>
<rect x="497.70" y="67.20" width="3.80" height="3.80" fill="#0008ff"/>
<rect x="501.00" y="67.20" width="3.80" height="3.80" fill="#3800ff"/>
<rect x="514.20" y="67.20" width="3.80" height="3.80" fill="#4000ff"/>
<rect x="517.50" y="67.20" width="3.80" height="3.80" fill="#4800ff"/>
<rect x="355.80" y="70.50" width="7.10" height="3.80" fill="#0010ff"/>
<rect x="362.40" y="70.50" width="3.80" height="3.80" fill="#0000ff"/>
<rect x="365.70" y="70.50" width="3.80" height="3.80" fill="#4800ff"/>
<rect x="395.40" y="70.50" width="3.80" height="3.80" fill="#1000ff"/>
<rect x="398.70" y="70.50" width="3.80" height="3.80" fill="#0020ff"/>
<rect x="402.00" y="70.50" width="3.80" height="3.80" fill="#0030ff"/>
<rect x="405.30" y="70.50" width="3.80" height="3.80" fill="#0018ff"/>
<rect x="408.60" y="70.50" width="23.60" height="3.80" fill="#0010ff"/>
<rect x="431.70" y="70.50" width="3.80" height="3.80" fill="#0000ff"/>
<rect x="435.00" y="70.50" width="3.80" height="3.80" fill="#0800ff"/>
<rect x="438.30" y="70.50" width="3.80" height="3.80" fill="#1800ff"/>
<rect x="441.60" y="70.50" width="3.80" height="3.80" fill="#6000ff"/>
<rect x="444.90" y="70.50" width="3.80" height="3.80" fill="#5000ff"/>
<rect x="448.20" y="70.50" width="3.80" height="3.80" fill="#0020ff"/>
<rect x="451.50" y="70.50" width="3.80" height="3.80" fill="#0078ff"/>
<rect x="454.80" y="70.50" width="3.80" height="3.80" fill="#0048ff"/>
<rect x="458.10" y="70.50" width="3.80" height="3.80" fill="#3000ff"/>
<rect x="491.10" y="70.50" width="3.80" height="3.80" fill="#5800ff"/>
<rect x="494.40" y="70.50" width="3.80" height="3.80" fill="#0800ff"/>
<rect x="497.70" y="70.50" width="3.80" height="3.80" fill="#3800ff"/>
<rect x="510.90" y="70.50" width="3.80" height="3.80" fill="#4800ff"/>
<rect x="514.20" y="70.50" width="3.80" height="3.80" fill="#0040ff"/>
<rect x="517.50" y="70.50" width="3.80" height="3.80" fill="#0028ff"/>
<rect x="520.80" y="70.50" width="3.80" height="3.80" fill="#6000ff"/>
<rect x="355.80" y="73.80" width="10.40" height="3.80" fill="#0010ff"/>
<rect x="365.70" y="73.80" width="3.80" height="3.80" fill="#0008ff"/>
<rect x="369.00" y="73.80" width="3.80" height="3.80" fill="#5800ff"/>
<rect x="392.10" y="73.80" width="3.80" height="3.80" fill="#5000ff"/>
<rect x="395.40" y="73.80" width="3.80" height="3.80" fill="#0010ff"/>
<rect x="398.70" y="73.80" width="3.80" height="3.80" fill="#0048ff"/>
<rect x="402.00" y="73.80" width="3.80" height="3.80" fill="#0070ff"/>
<rect x="405.30" y="73.80" width="3.80" height="3.80" fill="#0040ff"/>
<rect x="408.60" y="73.80" width="3.80" height="3.80" fill="#0018ff"/>
<rect x="411.90" y="73.80" width="17.00" height="3.80" fill="#0010ff"/>
<rect x="428.40" y="73.80" width="3.80" height="3.80" fill="#2000ff"/>
<rect x="431.70" y="73.80" width="3.80" height="3.80" fill="#6800ff"/>
<rect x="448.20" y="73.80" width="3.80" height="3.80" fill="#6800ff"/>
<rect x="451.50" y="73.80" width="3.80" height="3.80" fill="#0008ff"/>
<rect x="454.80" y="73.80" width="3.80" height="3.80" fill="#0020ff"/>
<rect x="458.10" y="73.80" width="3.80" height="3.80" fill="#0800ff"/>
<rect x="461.40" y="73.80" width="3.80" height="3.80" fill="#6800ff"/>
<rect x="474.60" y="73.80" width="3.80" height="3.80" fill="#6800ff"/>
<rect x="477.90" y="73.80" width="3.80" height="3.80" fill="#5000ff"/>
<rect x="481.20" y="73.80" width="3.80" height="3.80" fill="#6000ff"/>
<rect x="494.40" y="73.80" width="3.80" height="3.80" fill="#7000ff"/>
<rect x="510.90" y="73.80" width="3.80" height="3.80" fill="#5800ff"/>
<rect x="514.20" y="73.80" width="3.80" height="3.80" fill="#0028ff"/>
<rect x="517.50" y="73.80" width="3.80" height="3.80" fill="#0010ff"/>
<rect x="520.80" y="73.80" width="3.80" height="3.80" fill="#6800ff"/>
<rect x="527.40" y="73.80" width="3.80" height="3.80" fill="#6800ff"/>
<rect x="530.70" y="73.80" width="3.80" height="3.80" fill="#3000ff"/>
<rect x="355.80" y="77.10" width="7.10" height="3.80" fill="#0010ff"/>
<rect x="362.40" y="77.10" width="3.80" height="3.80" fill="#0020ff"/>
<rect x="365.70" y="77.10" width="3.80" height="3.80" fill="#0040ff"/>
<rect x="369.00" y="77.10" width="3.80" height="3.80" fill="#0008ff"/>
<rect x="372.30" y="77.10" width="3.80" height="3.80" fill="#7000ff"/>
<rect x="378.90" y="77.10" width="3.80" height="3.80" fill="#4800ff"/>
<rect x="382.20" y="77.10" width="3.80" height="3.80" fill="#3000ff"/>
<rect x="392.10" y="77.10" width="3.80" height="3.80" fill="#4000ff"/>
<rect x="395.40" y="77.10" width="3.80" height="3.80" fill="#0020ff"/>
<rect x="398.70" y="77.10" width="3.80" height="3.80" fill="#0070ff"/>
<rect x="402.00" y="77.10" width="3.80" height="3.80" fill="#00a0ff"/>
<rect x="405.30" y="77.10" width="3.80" height="3.80" fill="#0070ff"/>
<rect x="408.60" y="77.10" width="3.80" height="3.80" fill="#0038ff"/>
<rect x="411.90" y="77.10" width="3.80" height="3.80" fill="#0020ff"/>
<rect x="415.20" y="77.10" width="10.40" height="3.80" fill="#0010ff"/>
<rect x="425.10" y="77.10" width="3.80" height="3.80" fill="#1800ff"/>
<rect x="451.50" y="77.10" width="3.80" height="3.80" fill="#5800ff"/>
<rect x="454.80" y="77.10" width="3.80" height="3.80" fill="#0010ff"/>
<rect x="458.10" y="77.10" width="3.80" height="3.80" fill="#0018ff"/>
<rect x="461.40" y="77.10" width="3.80" height="3.80" fill="#1000ff"/>
<rect x="464.70" y="77.10" width="3.80" height="3.80" fill="#6000ff"/>
<rect x="471.30" y="77.10" width="3.80" height="3.80" fill="#6800ff"/>
<rect x="474.60" y="77.10" width="3.80" height="3.80" fill="#0000ff"/>
<rect x="477.90" y="77.10" width="3.80" height="3.80" fill="#0010ff"/>
<rect x="481.20" y="77.10" width="3.80" height="3.80" fill="#0008ff"/>
<rect x="484.50" y="77.10" width="3.80" height="3.80" fill="#4800ff"/>
<rect x="514.20" y="77.10" width="3.80" height="3.80" fill="#6800ff"/>
<rect x="517.50" y="77.10" width="3.80" height="3.80" fill="#7000ff"/>
<rect x="530.70" y="77.10" width="3.80" height="3.80" fill="#6000ff"/>
<rect x="355.80" y="80.40" width="3.80" height="3.80" fill="#0018ff"/>
<rect x="359.10" y="80.40" width="3.80" height="3.80" fill="#0020ff"/>
<rect x="362.40" y="80.40" width="3.80" height="3.80" fill="#0038ff"/>
<rect x="365.70" y="80.40" width="3.80" height="3.80" fill="#0070ff"/>
<rect x="369.00" y="80.40" width="3.80" height="3.80" fill="#0030ff"/>
<rect x="372.30" y="80.40" width="3.80" height="3.80" fill="#4800ff"/>
<rect x="378.90" y="80.40" width="3.80" height="3.80" fill="#6800ff"/>
<rect x="382.20" y="80.40" width="3.80" height="3.80" fill="#5800ff"/>
<rect x="392.10" y="80.40" width="3.80" height="3.80" fill="#7000ff"/>
<rect x="395.40" y="80.40" width="3.80" height="3.80" fill="#0020ff"/>
<rect x="398.70" y="80.40" width="3.80" height="3.80" fill="#0090ff"/>
<rect x="402.00" y="80.40" width="3.80" height="3.80" fill="#00b0ff"/>
<rect x="405.30" y="80.40" width="3.80" height="3.80" fill="#00a0ff"/>
<rect x="408.60" y="80.40" width="3.80" height="3.80" fill="#0060ff"/>
<rect x="411.90" y="80.40" width="3.80" height="3.80" fill="#0030ff"/>
<rect x="415.20" y="80.40" width="3.80" height="3.80" fill="#0018ff"/>
<rect x="418.50" y="80.40" width="7.10" height="3.80" fill="#0010ff"/>
<rect x="425.10" y="80.40" width="3.80" height="3.80" fill="#4800ff"/>
<rect x="451.50" y="80.40" width="3.80" height="3.80" fill="#3800ff"/>
<rect x="454.80" y="80.40" width="3.80" height="3.80" fill="#0028ff"/>
<rect x="458.10" y="80.40" width="3.80" height="3.80" fill="#0048ff"/>
<rect x="461.40" y="80.40" width="3.80" height="3.80" fill="#0018ff"/>
<rect x="464.70" y="80.40" width="3.80" height="3.80" fill="#1000ff"/>
<rect x="471.30" y="80.40" width="3.80" height="3.80" fill="#6000ff"/>
<rect x="474.60" y="80.40" width="3.80" height="3.80" fill="#0008ff"/>
<rect x="477.90" y="80.40" width="7.10" height="3.80" fill="#0010ff"/>
<rect x="484.50" y="80.40" width="3.80" height="3.80" fill="#3000ff"/>
<rect x="355.80" y="83.70" width="3.80" height="3.80" fill="#0020ff"/>
<rect x="359.10" y="83.70" width="3.80" height="3.80" fill="#0030ff"/>
<rect x="362.40" y="83.70" width="3.80" height="3.80" fill="#0060ff"/>
<rect x="365.70" y="83.70" width="3.80" height="3.80" fill="#0068ff"/>
<rect x="369.00" y="83.70" width="3.80" height="3.80" fill="#0018ff"/>
<rect x="372.30" y="83.70" width="3.80" height="3.80" fill="#3800ff"/>
<rect x="395.40" y="83.70" width="3.80" height="3.80" fill="#5000ff"/>
<rect x="398.70" y="83.70" width="3.80" height="3.80" fill="#0080ff"/>
<rect x="402.00" y="83.70" width="7.10" height="3.80" fill="#00b8ff"/>
<rect x="408.60" y="83.70" width="3.80" height="3.80" fill="#0098ff"/>
<rect x="411.90" y="83.70" width="3.80" height="3.80" fill="#0058ff"/>
<rect x="415.20" y="83.70" width="3.80" height="3.80" fill="#0028ff"/>
<rect x="418.50" y="83.70" width="7.10" height="3.80" fill="#0010ff"/>
<rect x="425.10" y="83.70" width="3.80" height="3.80" fill="#2800ff"/>
<rect x="441.60" y="83.70" width="3.80" height="3.80" fill="#5800ff"/>
<rect x="444.90" y="83.70" width="3.80" height="3.80" fill="#2800ff"/>
<rect x="448.20" y="83.70" width="3.80" height="3.80" fill="#1000ff"/>
<rect x="451.50" y="83.70" width="3.80" height="3.80" fill="#0008ff"/>
<rect x="454.80" y="83.70" width="3.80" height="3.80" fill="#0020ff"/>
<rect x="458.10" y="83.70" width="3.80" height="3.80" fill="#0038ff"/>
<rect x="461.40" y="83.70" width="3.80" height="3.80" fill="#0018ff"/>
<rect x="464.70" y="83.70" width="3.80" height="3.80" fill="#0008ff"/>
<rect x="468.00" y="83.70" width="3.80" height="3.80" fill="#6000ff"/>
<rect x="474.60" y="83.70" width="3.80" height="3.80" fill="#5000ff"/>
<rect x="477.90" y="83.70" width="3.80" height="3.80" fill="#2800ff"/>
<rect x="481.20" y="83.70" width="3.80" height="3.80" fill="#2000ff"/>
<rect x="484.50" y="83.70" width="3.80" height="3.80" fill="#1000ff"/>
<rect x="487.80" y="83.70" width="3.80" height="3.80" fill="#6800ff"/>
<rect x="501.00" y="83.70" width="3.80" height="3.80" fill="#4800ff"/>
<rect x="504.30" y="83.70" width="3.80" height="3.80" fill="#5800ff"/>
<rect x="355.80" y="87.00" width="3.80" height="3.80" fill="#0028ff"/>
<rect x="359.10" y="87.00" width="3.80" height="3.80" fill="#0040ff"/>
<rect x="362.40" y="87.00" width="3.80" height="3.80" fill="#0078ff"/>
<rect x="365.70" y="87.00" width="3.80" height="3.80" fill="#0038ff"/>
<rect x="369.00" y="87.00" width="3.80" height="3.80" fill="#0008ff"/>
<rect x="372.30" y="87.00" width="3.80" height="3.80" fill="#6000ff"/>
<rect x="392.10" y="87.00" width="3.80" height="3.80" fill="#7000ff"/>
<rect x="398.70" y="87.00" width="3.80" height="3.80" fill="#0070ff"/>
<rect x="402.00" y="87.00" width="7.10" height="3.80" fill="#00c8ff"/>
<rect x="408.60" y="87.00" width="3.80" height="3.80" fill="#00c0ff"/>
<rect x="411.90" y="87.00" width="3.80" height="3.80" fill="#0090ff"/>
<rect x="415.20" y="87.00" width="3.80" height="3.80" fill="#0048ff"/>
<rect x="418.50" y="87.00" width="3.80" height="3.80" fill="#0018ff"/>
<rect x="421.80" y="87.00" width="7.10" height="3.80" fill="#0010ff"/>
<rect x="428.40" y="87.00" width="3.80" height="3.80" fill="#2800ff"/>
<rect x="438.30" y="87.00" width="3.80" height="3.80" fill="#4800ff"/>
<rect x="441.60" y="87.00" width="3.80" height="3.80" fill="#0000ff"/>
<rect x="444.90" y="87.00" width="10.40" height="3.80" fill="#0010ff"/>
<rect x="454.80" y="87.00" width="7.10" height="3.80" fill="#0018ff"/>
<rect x="461.40" y="87.00" width="3.80" height="3.80" fill="#0010ff"/>
<rect x="464.70" y="87.00" width="3.80" height="3.80" fill="#0000ff"/>
<rect x="468.00" y="87.00" width="3.80" height="3.80" fill="#6800ff"/>
<rect x="484.50" y="87.00" width="3.80" height="3.80" fill="#3800ff"/>
<rect x="487.80" y="87.00" width="3.80" height="3.80" fill="#1000ff"/>
<rect x="491.10" y="87.00" width="3.80" height="3.80" fill="#5800ff"/>
<rect x="494.40" y="87.00" width="3.80" height="3.80" fill="#5000ff"/>
<rect x="497.70" y="87.00" width="3.80" height="3.80" fill="#4800ff"/>
<rect x="501.00" y="87.00" width="3.80" height="3.80" fill="#0800ff"/>
<rect x="504.30" y="87.00" width="3.80" height="3.80" fill="#5000ff"/>
<rect x="355.80" y="90.30" width="3.80" height="3.80" fill="#0030ff"/>
<rect x="359.10" y="90.30" width="3.80" height="3.80" fill="#0068ff"/>
<rect x="362.40" y="90.30" width="3.80" height="3.80" fill="#0080ff"/>
<rect x="365.70" y="90.30" width="3.80" height="3.80" fill="#0028ff"/>
<rect x="369.00" y="90.30" width="3.80" height="3.80" fill="#0000ff"/>
<rect x="372.30" y="90.30" width="3.80" height="3.80" fill="#6800ff"/>
<rect x="385.50" y="90.30" width="3.80" height="3.80" fill="#6000ff"/>
<rect x="388.80" y="90.30" width="3.80" height="3.80" fill="#1000ff"/>
<rect x="392.10" y="90.30" width="3.80" height="3.80" fill="#0068ff"/>
<rect x="395.40" y="90.30" width="3.80" height="3.80" fill="#0088ff"/>
<rect x="398.70" y="90.30" width="3.80" height="3.80" fill="#00b8ff"/>
<rect x="402.00" y="90.30" width="7.10" height="3.80" fill="#00d8ff"/>
<rect x="408.60" y="90.30" width="3.80" height="3.80" fill="#00d0ff"/>
<rect x="411.90" y="90.30" width="3.80" height="3.80" fill="#00c0ff"/>
<rect x="415.20" y="90.30" width="3.80" height="3.80" fill="#0070ff"/>
<rect x="418.50" y="90.30" width="3.80" height="3.80" fill="#0030ff"/>
<rect x="421.80" y="90.30" width="10.40" height="3.80" fill="#0010ff"/>
<rect x="431.70" y="90.30" width="3.80" height="3.80" fill="#2800ff"/>
<rect x="435.00" y="90.30" width="3.80" height="3.80" fill="#4000ff"/>
<rect x="438.30" y="90.30" width="3.80" height="3.80" fill="#0000ff"/>
<rect x="441.60" y="90.30" width="7.10" height="3.80" fill="#0010ff"/>
<rect x="448.20" y="90.30" width="3.80" height="3.80" fill="#0020ff"/>
<rect x="451.50" y="90.30" width="3.80" height="3.80" fill="#0038ff"/>
<rect x="454.80" y="90.30" width="3.80" height="3.80" fill="#0028ff"/>
<rect x="458.10" y="90.30" width="7.10" height="3.80" fill="#0010ff"/>
<rect x="464.70" y="90.30" width="3.80" height="3.80" fill="#2000ff"/>
<rect x="484.50" y="90.30" width="3.80" height="3.80" fill="#4800ff"/>
<rect x="487.80" y="90.30" width="3.80" height="3.80" fill="#0000ff"/>
<rect x="491.10" y="90.30" width="3.80" height="3.80" fill="#0008ff"/>
<rect x="494.40" y="90.30" width="3.80" height="3.80" fill="#0020ff"/>
<rect x="497.70" y="90.30" width="3.80" height="3.80" fill="#0010ff"/>
<rect x="501.00" y="90.30" width="3.80" height="3.80" fill="#0000ff"/>
<rect x="504.30" y="90.30" width="3.80" height="3.80" fill="#4000ff"/>
<rect x="507.60" y="90.30" width="3.80" height="3.80" fill="#7000ff"/>
<rect x="530.70" y="90.30" width="3.80" height="3.80" fill="#5000ff"/>
<rect x="534.00" y="90.30" width="3.80" height="3.80" fill="#2000ff"/>
<rect x="537.30" y="90.30" width="3.80" height="3.80" fill="#2800ff"/>
<rect x="540.60" y="90.30" width="3.80" height="3.80" fill="#2000ff"/>
<rect x="543.90" y="90.30" width="3.80" height="3.80" fill="#6800ff"/>
<rect x="355.80" y="93.60" width="3.80" height="3.80" fill="#0058ff"/>
<rect x="359.10" y="93.60" width="3.80" height="3.80" fill="#0098ff"/>
<rect x="362.40" y="93.60" width="3.80" height="3.80" fill="#00a0ff"/>
<rect x="365.70" y="93.60" width="3.80" height="3.80" fill="#0070ff"/>
<rect x="369.00" y="93.60" width="3.80" height="3.80" fill="#0038ff"/>
<rect x="372.30" y="93.60" width="3.80" height="3.80" fill="#0000ff"/>
<rect x="375.60" y="93.60" width="3.80" height="3.80" fill="#3800ff"/>
<rect x="378.90" y="93.60" width="3.80" height="3.80" fill="#4800ff"/>
<rect x="382.20" y="93.60" width="3.80" height="3.80" fill="#3000ff"/>
<rect x="385.50" y="93.60" width="3.80" height="3.80" fill="#0008ff"/>
<rect x="388.80" y="93.60" width="3.80" height="3.80" fill="#0060ff"/>
<rect x="392.10" y="93.60" width="3.80" height="3.80" fill="#00b0ff"/>
<rect x="395.40" y="93.60" width="3.80" height="3.80" fill="#00d0ff"/>
<rect x="398.70" y="93.60" width="3.80" height="3.80" fill="#00e0ff"/>
<rect x="402.00" y="93.60" width="7.10" height="3.80" fill="#00f0ff"/>
<rect x="408.60" y="93.60" width="3.80" height="3.80" fill="#00e0ff"/>
<rect x="411.90" y="93.60" width="3.80" height="3.80" fill="#00d0ff"/>
<rect x="415.20" y="93.60" width="3.80" height="3.80" fill="#0098ff"/>
<rect x="418.50" y="93.60" width="3.80" height="3.80" fill="#0048ff"/>
<rect x="421.80" y="93.60" width="3.80" height="3.80" fill="#0020ff"/>
<rect x="425.10" y="93.60" width="7.10" height="3.80" fill="#0010ff"/>
<rect x="431.70" y="93.60" width="3.80" height="3.80" fill="#0018ff"/>
<rect x="435.00" y="93.60" width="3.80" height="3.80" fill="#0028ff"/>
<rect x="438.30" y="93.60" width="3.80" height="3.80" fill="#0030ff"/>
<rect x="441.60" y="93.60" width="7.10" height="3.80" fill="#0028ff"/>
<rect x="448.20" y="93.60" width="3.80" height="3.80" fill="#0050ff"/>
<rect x="451.50" y="93.60" width="3.80" height="3.80" fill="#0080ff"/>
<rect x="454.80" y="93.60" width="3.80" height="3.80" fill="#0060ff"/>
<rect x="458.10" y="93.60" width="3.80" height="3.80" fill="#0020ff"/>
<rect x="461.40" y="93.60" width="3.80" height="3.80" fill="#2800ff"/>
<rect x="481.20" y="93.60" width="3.80" height="3.80" fill="#1800ff"/>
<rect x="484.50" y="93.60" width="3.80" height="3.80" fill="#0008ff"/>
<rect x="487.80" y="93.60" width="3.80" height="3.80" fill="#0010ff"/>
<rect x="491.10" y="93.60" width="3.80" height="3.80" fill="#0038ff"/>
<rect x="494.40" y="93.60" width="3.80" height="3.80" fill="#0070ff"/>
<rect x="497.70" y="93.60" width="3.80" height="3.80" fill="#0048ff"/>
<rect x="501.00" y="93.60" width="3.80" height="3.80" fill="#0018ff"/>
<rect x="504.30" y="93.60" width="3.80" height="3.80" fill="#0010ff"/>
<rect x="507.60" y="93.60" width="3.80" height="3.80" fill="#0800ff"/>
<rect x="510.90" y="93.60" width="3.80" height="3.80" fill="#6000ff"/>
<rect x="530.70" y="93.60" width="3.80" height="3.80" fill="#6000ff"/>
<rect x="534.00" y="93.60" width="10.40" height="3.80" fill="#3800ff"/>
<rect x="543.90" y="93.60" width="3.80" height="3.80" fill="#7000ff"/>
<rect x="355.80" y="96.90" width="3.80" height="3.80" fill="#0098ff"/>
<rect x="359.10" y="96.90" width="3.80" height="3.80" fill="#00b0ff"/>
<rect x="362.40" y="96.90" width="7.10" height="3.80" fill="#00c0ff"/>
<rect x="369.00" y="96.90" width="3.80" height="3.80" fill="#00b8ff"/>
<rect x="372.30" y="96.90" width="3.80" height="3.80" fill="#00b0ff"/>
<rect x="375.60" y="96.90" width="3.80" height="3.80" fill="#0088ff"/>
<rect x="378.90" y="96.90" width="3.80" height="3.80" fill="#0070ff"/>
<rect x="382.20" y="96.90" width="3.80" height="3.80" fill="#0078ff"/>
<rect x="385.50" y="96.90" width="3.80" height="3.80" fill="#00a0ff"/>
<rect x="388.80" y="96.90" width="3.80" height="3.80" fill="#00b0ff"/>
<rect x="392.10" y="96.90" width="3.80" height="3.80" fill="#00c0ff"/>
<rect x="395.40" y="96.90" width="3.80" height="3.80" fill="#00d8ff"/>
<rect x="398.70" y="96.90" width="3.80" height="3.80" fill="#00e8ff"/>
<rect x="402.00" y="96.90" width="3.80" height="3.80" fill="#00f0ff"/>
<rect x="405.30" y="96.90" width="3.80" height="3.80" fill="#00f8ff"/>
<rect x="408.60" y="96.90" width="3.80" height="3.80" fill="#00e8ff"/>
<rect x="411.90" y="96.90" width="3.80" height="3.80" fill="#00d8ff"/>
<rect x="415.20" y="96.90" width="3.80" height="3.80" fill="#00c0ff"/>
<rect x="418.50" y="96.90" width="3.80" height="3.80" fill="#0080ff"/>
<rect x="421.80" y="96.90" width="3.80" height="3.80" fill="#0040ff"/>
<rect x="425.10" y="96.90" width="3.80" height="3.80" fill="#0028ff"/>
<rect x="428.40" y="96.90" width="3.80" height="3.80" fill="#0020ff"/>
<rect x="431.70" y="96.90" width="3.80" height="3.80" fill="#0040ff"/>
<rect x="435.00" y="96.90" width="3.80" height="3.80" fill="#0078ff"/>
<rect x="438.30" y="96.90" width="3.80" height="3.80" fill="#0080ff"/>
<rect x="441.60" y="96.90" width="3.80" height="3.80" fill="#0068ff"/>
<rect x="444.90" y="96.90" width="3.80" height="3.80" fill="#0060ff"/>
<rect x="448.20" y="96.90" width="3.80" height="3.80" fill="#0090ff"/>
<rect x="451.50" y="96.90" width="3.80" height="3.80" fill="#00a0ff"/>
<rect x="454.80" y="96.90" width="3.80" height="3.80" fill="#0068ff"/>
<rect x="458.10" y="96.90" width="3.80" height="3.80" fill="#3000ff"/>
<rect x="477.90" y="96.90" width="3.80" height="3.80" fill="#5800ff"/>
<rect x="481.20" y="96.90" width="3.80" height="3.80" fill="#0008ff"/>
<rect x="484.50" y="96.90" width="3.80" height="3.80" fill="#0010ff"/>
<rect x="487.80" y="96.90" width="3.80" height="3.80" fill="#0018ff"/>
<rect x="491.10" y="96.90" width="3.80" height="3.80" fill="#0040ff"/>
<rect x="494.40" y="96.90" width="3.80" height="3.80" fill="#0080ff"/>
<rect x="497.70" y="96.90" width="3.80" height="3.80" fill="#0058ff"/>
<rect x="501.00" y="96.90" width="3.80" height="3.80" fill="#0020ff"/>
<rect x="504.30" y="96.90" width="7.10" height="3.80" fill="#0010ff"/>
<rect x="510.90" y="96.90" width="3.80" height="3.80" fill="#1800ff"/>
<rect x="355.80" y="100.20" width="7.10" height="3.80" fill="#00b0ff"/>
<rect x="362.40" y="100.20" width="3.80" height="3.80" fill="#00c0ff"/>
<rect x="365.70" y="100.20" width="3.80" height="3.80" fill="#00c8ff"/>
<rect x="369.00" y="100.20" width="3.80" height="3.80" fill="#00d0ff"/>
<rect x="372.30" y="100.20" width="3.80" height="3.80" fill="#00c8ff"/>
<rect x="375.60" y="100.20" width="3.80" height="3.80" fill="#00d0ff"/>
<rect x="378.90" y="100.20" width="3.80" height="3.80" fill="#00e8ff"/>
<rect x="382.20" y="100.20" width="7.10" height="3.80" fill="#00f0ff"/>
<rect x="388.80" y="100.20" width="3.80" height="3.80" fill="#00d8ff"/>
<rect x="392.10" y="100.20" width="3.80" height="3.80" fill="#00e8ff"/>
<rect x="395.40" y="100.20" width="3.80" height="3.80" fill="#00ffff"/>
<rect x="398.70" y="100.20" width="7.10" height="3.80" fill="#00fff8"/>
<rect x="405.30" y="100.20" width="3.80" height="3.80" fill="#00ffff"/>
<rect x="408.60" y="100.20" width="3.80" height="3.80" fill="#00e8ff"/>
<rect x="411.90" y="100.20" width="3.80" height="3.80" fill="#00d8ff"/>
<rect x="415.20" y="100.20" width="3.80" height="3.80" fill="#00c0ff"/>
<rect x="418.50" y="100.20" width="3.80" height="3.80" fill="#00b0ff"/>
<rect x="421.80" y="100.20" width="3.80" height="3.80" fill="#0080ff"/>
<rect x="425.10" y="100.20" width="3.80" height="3.80" fill="#0050ff"/>
<rect x="428.40" y="100.20" width="3.80" height="3.80" fill="#0038ff"/>
<rect x="431.70" y="100.20" width="3.80" height="3.80" fill="#0060ff"/>
<rect x="435.00" y="100.20" width="3.80" height="3.80" fill="#00a0ff"/>
<rect x="438.30" y="100.20" width="3.80" height="3.80" fill="#00a8ff"/>
<rect x="441.60" y="100.20" width="7.10" height="3.80" fill="#00a0ff"/>
<rect x="448.20" y="100.20" width="7.10" height="3.80" fill="#00a8ff"/>
<rect x="454.80" y="100.20" width="3.80" height="3.80" fill="#0080ff"/>
<rect x="458.10" y="100.20" width="3.80" height="3.80" fill="#0008ff"/>
<rect x="461.40" y="100.20" width="3.80" height="3.80" fill="#5000ff"/>
<rect x="474.60" y="100.20" width="3.80" height="3.80" fill="#7000ff"/>
<rect x="477.90" y="100.20" width="3.80" height="3.80" fill="#0800ff"/>
<rect x="481.20" y="100.20" width="7.10" height="3.80" fill="#0010ff"/>
<rect x="487.80" y="100.20" width="3.80" height="3.80" fill="#0018ff"/>
<rect x="491.10" y="100.20" width="3.80" height="3.80" fill="#0030ff"/>
<rect x="494.40" y="100.20" width="3.80" height="3.80" fill="#0048ff"/>
<rect x="497.70" y="100.20" width="3.80" height="3.80" fill="#0038ff"/>
<rect x="501.00" y="100.20" width="3.80" height="3.80" fill="#0018ff"/>
<rect x="504.30" y="100.20" width="7.10" height="3.80" fill="#0010ff"/>
<rect x="510.90" y="100.20" width="3.80" height="3.80" fill="#0000ff"/>
<rect x="514.20" y="100.20" width="3.80" height="3.80" fill="#7000ff"/>
<rect x="355.80" y="103.50" width="7.10" height="3.80" fill="#00a8ff"/>
<rect x="362.40" y="103.50" width="3.80" height="3.80" fill="#00b0ff"/>
<rect x="365.70" y="103.50" width="3.80" height="3.80" fill="#00b8ff"/>
<rect x="369.00" y="103.50" width="3.80" height="3.80" fill="#00c8ff"/>
<rect x="372.30" y="103.50" width="3.80" height="3.80" fill="#00e0ff"/>
<rect x="375.60" y="103.50" width="3.80" height="3.80" fill="#00f8ff"/>
<rect x="378.90" y="103.50" width="3.80" height="3.80" fill="#00fff8"/>
<rect x="382.20" y="103.50" width="3.80" height="3.80" fill="#00ffe8"/>
<rect x="385.50" y="103.50" width="3.80" height="3.80" fill="#00fff0"/>
<rect x="388.80" y="103.50" width="3.80" height="3.80" fill="#00f8ff"/>
<rect x="392.10" y="103.50" width="3.80" height="3.80" fill="#00fff8"/>
<rect x="395.40" y="103.50" width="3.80" height="3.80" fill="#00fff0"/>
<rect x="398.70" y="103.50" width="10.40" height="3.80" fill="#00fff8"/>
<rect x="408.60" y="103.50" width="3.80" height="3.80" fill="#00e8ff"/>
<rect x="411.90" y="103.50" width="3.80" height="3.80" fill="#00d0ff"/>
<rect x="415.20" y="103.50" width="3.80" height="3.80" fill="#00c0ff"/>
<rect x="418.50" y="103.50" width="3.80" height="3.80" fill="#00b0ff"/>
<rect x="421.80" y="103.50" width="3.80" height="3.80" fill="#00a8ff"/>
<rect x="425.10" y="103.50" width="3.80" height="3.80" fill="#0098ff"/>
<rect x="428.40" y="103.50" width="3.80" height="3.80" fill="#0078ff"/>
<rect x="431.70" y="103.50" width="3.80" height="3.80" fill="#0088ff"/>
<rect x="435.00" y="103.50" width="23.60" height="3.80" fill="#00a8ff"/>
<rect x="458.10" y="103.50" width="3.80" height="3.80" fill="#0090ff"/>
<rect x="461.40" y="103.50" width="3.80" height="3.80" fill="#0038ff"/>
<rect x="474.60" y="103.50" width="3.80" height="3.80" fill="#5800ff"/>
<rect x="477.90" y="103.50" width="3.80" height="3.80" fill="#0008ff"/>
<rect x="481.20" y="103.50" width="10.40" height="3.80" fill="#0010ff"/>
<rect x="491.10" y="103.50" width="7.10" height="3.80" fill="#0018ff"/>
<rect x="497.70" y="103.50" width="3.80" height="3.80" fill="#0010ff"/>
<rect x="501.00" y="103.50" width="3.80" height="3.80" fill="#0800ff"/>
<rect x="504.30" y="103.50" width="3.80" height="3.80" fill="#1000ff"/>
<rect x="507.60" y="103.50" width="7.10" height="3.80" fill="#2800ff"/>
<rect x="514.20" y="103.50" width="3.80" height="3.80" fill="#7000ff"/>
<rect x="355.80" y="106.80" width="3.80" height="3.80" fill="#00b0ff"/>
<rect x="359.10" y="106.80" width="3.80" height="3.80" fill="#00c0ff"/>
<rect x="362.40" y="106.80" width="3.80" height="3.80" fill="#00d0ff"/>
<rect x="365.70" y="106.80" width="3.80" height="3.80" fill="#00e0ff"/>
<rect x="369.00" y="106.80" width="3.80" height="3.80" fill="#00f0ff"/>
<rect x="372.30" y="106.80" width="3.80" height="3.80" fill="#00ffff"/>
<rect x="375.60" y="106.80" width="3.80" height="3.80" fill="#00fff8"/>
<rect x="378.90" y="106.80" width="3.80" height="3.80" fill="#00ffe0"/>
<rect x="382.20" y="106.80" width="3.80" height="3.80" fill="#00ffd0"/>
<rect x="385.50" y="106.80" width="3.80" height="3.80" fill="#00fff8"/>
<rect x="388.80" y="106.80" width="3.80" height="3.80" fill="#00ffff"/>
<rect x="392.10" y="106.80" width="3.80" height="3.80" fill="#00ffe8"/>
<rect x="395.40" y="106.80" width="3.80" height="3.80" fill="#00ffb0"/>
<rect x="398.70" y="106.80" width="3.80" height="3.80" fill="#00ffd8"/>
<rect x="402.00" y="106.80" width="3.80" height="3.80" fill="#00fff8"/>
<rect x="405.30" y="106.80" width="3.80" height="3.80" fill="#00ffff"/>
<rect x="408.60" y="106.80" width="3.80" height="3.80" fill="#00e0ff"/>
<rect x="411.90" y="106.80" width="3.80" height="3.80" fill="#00c8ff"/>
<rect x="415.20" y="106.80" width="3.80" height="3.80" fill="#00b8ff"/>
<rect x="418.50" y="106.80" width="7.10" height="3.80" fill="#00b0ff"/>
<rect x="425.10" y="106.80" width="33.50" height="3.80" fill="#00a8ff"/>
<rect x="458.10" y="106.80" width="3.80" height="3.80" fill="#00a0ff"/>
<rect x="461.40" y="106.80" width="3.80" height="3.80" fill="#0050ff"/>
<rect x="474.60" y="106.80" width="3.80" height="3.80" fill="#3000ff"/>
<rect x="477.90" y="106.80" width="20.30" height="3.80" fill="#0010ff"/>
<rect x="497.70" y="106.80" width="3.80" height="3.80" fill="#3800ff"/>
<rect x="501.00" y="106.80" width="3.80" height="3.80" fill="#7000ff"/>
<rect x="355.80" y="110.10" width="3.80" height="3.80" fill="#00d8ff"/>
<rect x="359.10" y="110.10" width="3.80" height="3.80" fill="#00e0ff"/>
<rect x="362.40" y="110.10" width="3.80" height="3.80" fill="#00f0ff"/>
<rect x="365.70" y="110.10" width="3.80" height="3.80" fill="#00ffff"/>
<rect x="369.00" y="110.10" width="3.80" height="3.80" fill="#00fff0"/>
<rect x="372.30" y="110.10" width="3.80" height="3.80" fill="#00ffe8"/>
<rect x="375.60" y="110.10" width="3.80" height="3.80" fill="#00ffd0"/>
<rect x="378.90" y="110.10" width="3.80" height="3.80" fill="#00ffb8"/>
<rect x="382.20" y="110.10" width="3.80" height="3.80" fill="#00ffe8"/>
<rect x="385.50" y="110.10" width="3.80" height="3.80" fill="#00f8ff"/>
<rect x="388.80" y="110.10" width="3.80" height="3.80" fill="#00ffff"/>
<rect x="392.10" y="110.10" width="3.80" height="3.80" fill="#00ffe0"/>
<rect x="395.40" y="110.10" width="3.80" height="3.80" fill="#00ffa0"/>
<rect x="398.70" y="110.10" width="3.80" height="3.80" fill="#00ffc8"/>
<rect x="402.00" y="110.10" width="3.80" height="3.80" fill="#00fff8"/>
<rect x="405.30" y="110.10" width="3.80" height="3.80" fill="#00f8ff"/>
<rect x="408.60" y="110.10" width="3.80" height="3.80" fill="#00d8ff"/>
<rect x="411.90" y="110.10" width="3.80" height="3.80" fill="#00c8ff"/>
<rect x="415.20" y="110.10" width="3.80" height="3.80" fill="#00b8ff"/>
<rect x="418.50" y="110.10" width="3.80" height="3.80" fill="#00b0ff"/>
<rect x="421.80" y="110.10" width="36.80" height="3.80" fill="#00a8ff"/>
<rect x="458.10" y="110.10" width="3.80" height="3.80" fill="#00a0ff"/>
<rect x="461.40" y="110.10" width="3.80" height="3.80" fill="#0050ff"/>
<rect x="474.60" y="110.10" width="3.80" height="3.80" fill="#0800ff"/>
<rect x="477.90" y="110.10" width="7.10" height="3.80" fill="#0010ff"/>
<rect x="484.50" y="110.10" width="3.80" height="3.80" fill="#0020ff"/>
<rect x="487.80" y="110.10" width="3.80" height="3.80" fill="#0018ff"/>
<rect x="491.10" y="110.10" width="3.80" height="3.80" fill="#0010ff"/>
<rect x="494.40" y="110.10" width="3.80" height="3.80" fill="#0000ff"/>
<rect x="497.70" y="110.10" width="3.80" height="3.80" fill="#6800ff"/>
<rect x="530.70" y="110.10" width="3.80" height="3.80" fill="#3800ff"/>
<rect x="534.00" y="110.10" width="3.80" height="3.80" fill="#6800ff"/>
<rect x="355.80" y="113.40" width="3.80" height="3.80" fill="#00ffff"/>
<rect x="359.10" y="113.40" width="3.80" height="3.80" fill="#00fff0"/>
<rect x="362.40" y="113.40" width="3.80" height="3.80" fill="#00ffe0"/>
<rect x="365.70" y="113.40" width="3.80" height="3.80" fill="#00ffc8"/>
<rect x="369.00" y="113.40" width="3.80" height="3.80" fill="#00ffb8"/>
<rect x="372.30" y="113.40" width="3.80" height="3.80" fill="#00ffa0"/>
<rect x="375.60" y="113.40" width="3.80" height="3.80" fill="#00ff98"/>
<rect x="378.90" y="113.40" width="3.80" height="3.80" fill="#00ffb8"/>
<rect x="382.20" y="113.40" width="3.80" height="3.80" fill="#00fff8"/>
<rect x="385.50" y="113.40" width="3.80" height="3.80" fill="#00e8ff"/>
<rect x="388.80" y="113.40" width="3.80" height="3.80" fill="#00f0ff"/>
<rect x="392.10" y="113.40" width="3.80" height="3.80" fill="#00fff8"/>
<rect x="395.40" y="113.40" width="3.80" height="3.80" fill="#00ffe0"/>
<rect x="398.70" y="113.40" width="3.80" height="3.80" fill="#00fff0"/>
<rect x="402.00" y="113.40" width="3.80" height="3.80" fill="#00ffff"/>
<rect x="405.30" y="113.40" width="3.80" height="3.80" fill="#00e8ff"/>
<rect x="408.60" y="113.40" width="3.80" height="3.80" fill="#00d0ff"/>
<rect x="411.90" y="113.40" width="3.80" height="3.80" fill="#00c8ff"/>
<rect x="415.20" y="113.40" width="3.80" height="3.80" fill="#00c0ff"/>
<rect x="418.50" y="113.40" width="3.80" height="3.80" fill="#00b8ff"/>
<rect x="421.80" y="113.40" width="3.80" height="3.80" fill="#00b0ff"/>
<rect x="425.10" y="113.40" width="33.50" height="3.80" fill="#00a8ff"/>
<rect x="458.10" y="113.40" width="3.80" height="3.80" fill="#0098ff"/>
<rect x="461.40" y="113.40" width="3.80" height="3.80" fill="#0038ff"/>
<rect x="464.70" y="113.40" width="3.80" height="3.80" fill="#7000ff"/>
<rect x="471.30" y="113.40" width="3.80" height="3.80" fill="#6800ff"/>
<rect x="474.60" y="113.40" width="3.80" height="3.80" fill="#0000ff"/>
<rect x="477.90" y="113.40" width="3.80" height="3.80" fill="#0010ff"/>
<rect x="481.20" y="113.40" width="3.80" height="3.80" fill="#0020ff"/>
<rect x="484.50" y="113.40" width="3.80" height="3.80" fill="#0040ff"/>
<rect x="487.80" y="113.40" width="3.80" height="3.80" fill="#0030ff"/>
<rect x="491.10" y="113.40" width="3.80" height="3.80" fill="#0010ff"/>
<rect x="494.40" y="113.40" width="3.80" height="3.80" fill="#0800ff"/>
<rect x="507.60" y="113.40" width="3.80" height="3.80" fill="#5800ff"/>
<rect x="510.90" y="113.40" width="3.80" height="3.80" fill="#6800ff"/>
<rect x="530.70" y="113.40" width="3.80" height="3.80" fill="#4000ff"/>
<rect x="534.00" y="113.40" width="3.80" height="3.80" fill="#6800ff"/>
<rect x="355.80" y="116.70" width="3.80" height="3.80" fill="#00ffc8"/>
<rect x="359.10" y="116.70" width="3.80" height="3.80" fill="#00ffb0"/>
<rect x="362.40" y="116.70" width="3.80" height="3.80" fill="#00ffa0"/>
<rect x="365.70" y="116.70" width="13.70" height="3.80" fill="#00ff90"/>
<rect x="378.90" y="116.70" width="3.80" height="3.80" fill="#00ffa8"/>
<rect x="382.20" y="116.70" width="3.80" height="3.80" fill="#00ffe8"/>
<rect x="385.50" y="116.70" width="3.80" height="3.80" fill="#00f8ff"/>
<rect x="388.80" y="116.70" width="3.80" height="3.80" fill="#00e8ff"/>
<rect x="392.10" y="116.70" width="3.80" height="3.80" fill="#00f0ff"/>
<rect x="395.40" y="116.70" width="7.10" height="3.80" fill="#00f8ff"/>
<rect x="402.00" y="116.70" width="3.80" height="3.80" fill="#00f0ff"/>
<rect x="405.30" y="116.70" width="3.80" height="3.80" fill="#00e0ff"/>
<rect x="408.60" y="116.70" width="3.80" height="3.80" fill="#00d8ff"/>
<rect x="411.90" y="116.70" width="7.10" height="3.80" fill="#00d0ff"/>
<rect x="418.50" y="116.70" width="3.80" height="3.80" fill="#00c0ff"/>
<rect x="421.80" y="116.70" width="7.10" height="3.80" fill="#00b8ff"/>
<rect x="428.40" y="116.70" width="7.10" height="3.80" fill="#00b0ff"/>
<rect x="435.00" y="116.70" width="10.40" height="3.80" fill="#00b8ff"/>
<rect x="444.90" y="116.70" width="13.70" height="3.80" fill="#00a8ff"/>
<rect x="458.10" y="116.70" width="3.80" height="3.80" fill="#0088ff"/>
<rect x="461.40" y="116.70" width="3.80" height="3.80" fill="#0028ff"/>
<rect x="464.70" y="116.70" width="3.80" height="3.80" fill="#6800ff"/>
<rect x="471.30" y="116.70" width="3.80" height="3.80" fill="#6800ff"/>
<rect x="474.60" y="116.70" width="3.80" height="3.80" fill="#0008ff"/>
<rect x="477.90" y="116.70" width="3.80" height="3.80" fill="#0010ff"/>
<rect x="481.20" y="116.70" width="3.80" height="3.80" fill="#0028ff"/>
<rect x="484.50" y="116.70" width="3.80" height="3.80" fill="#0058ff"/>
<rect x="487.80" y="116.70" width="3.80" height="3.80" fill="#0040ff"/>
<rect x="491.10" y="116.70" width="3.80" height="3.80" fill="#0010ff"/>
<rect x="494.40" y="116.70" width="3.80" height="3.80" fill="#4000ff"/>
<rect x="507.60" y="116.70" width="3.80" height="3.80" fill="#2800ff"/>
<rect x="510.90" y="116.70" width="3.80" height="3.80" fill="#4800ff"/>
<rect x="520.80" y="116.70" width="3.80" height="3.80" fill="#7000ff"/>
<rect x="355.80" y="120.00" width="23.60" height="3.80" fill="#00ff90"/>
<rect x="378.90" y="120.00" width="3.80" height="3.80" fill="#00ff98"/>
<rect x="382.20" y="120.00" width="3.80" height="3.80" fill="#00ffc8"/>
<rect x="385.50" y="120.00" width="3.80" height="3.80" fill="#00fff8"/>
<rect x="388.80" y="120.00" width="3.80" height="3.80" fill="#00f0ff"/>
<rect x="392.10" y="120.00" width="7.10" height="3.80" fill="#00e8ff"/>
<rect x="398.70" y="120.00" width="3.80" height="3.80" fill="#00e0ff"/>
<rect x="402.00" y="120.00" width="7.10" height="3.80" fill="#00e8ff"/>
<rect x="408.60" y="120.00" width="3.80" height="3.80" fill="#00f0ff"/>
<rect x="411.90" y="120.00" width="7.10" height="3.80" fill="#00e8ff"/>
<rect x="418.50" y="120.00" width="3.80" height="3.80" fill="#00e0ff"/>
<rect x="421.80" y="120.00" width="3.80" height="3.80" fill="#00d0ff"/>
<rect x="425.10" y="120.00" width="13.70" height="3.80" fill="#00c0ff"/>
<rect x="438.30" y="120.00" width="3.80" height="3.80" fill="#00b8ff"/>
<rect x="441.60" y="120.00" width="3.80" height="3.80" fill="#00b0ff"/>
<rect x="444.90" y="120.00" width="13.70" height="3.80" fill="#00a8ff"/>
<rect x="458.10" y="120.00" width="3.80" height="3.80" fill="#0070ff"/>
<rect x="461.40" y="120.00" width="3.80" height="3.80" fill="#0010ff"/>
<rect x="464.70" y="120.00" width="3.80" height="3.80" fill="#6800ff"/>
<rect x="471.30" y="120.00" width="3.80" height="3.80" fill="#7000ff"/>
<rect x="474.60" y="120.00" width="3.80" height="3.80" fill="#0000ff"/>
<rect x="477.90" y="120.00" width="10.40" height="3.80" fill="#0010ff"/>
<rect x="487.80" y="120.00" width="3.80" height="3.80" fill="#0800ff"/>
<rect x="491.10" y="120.00" width="3.80" height="3.80" fill="#4000ff"/>
<rect x="501.00" y="120.00" width="3.80" height="3.80" fill="#5000ff"/>
<rect x="504.30" y="120.00" width="3.80" height="3.80" fill="#7000ff"/>
<rect x="517.50" y="120.00" width="3.80" height="3.80" fill="#6000ff"/>
<rect x="520.80" y="120.00" width="3.80" height="3.80" fill="#1800ff"/>
<rect x="543.90" y="120.00" width="3.80" height="3.80" fill="#6800ff"/>
<rect x="547.20" y="120.00" width="3.80" height="3.80" fill="#1800ff"/>
<rect x="550.50" y="120.00" width="3.80" height="3.80" fill="#7000ff"/>
<rect x="355.80" y="123.30" width="26.90" height="3.80" fill="#00ff90"/>
<rect x="382.20" y="123.30" width="3.80" height="3.80" fill="#00ffa0"/>
<rect x="385.50" y="123.30" width="3.80" height="3.80" fill="#00ffd8"/>
<rect x="388.80" y="123.30" width="3.80" height="3.80" fill="#00fff8"/>
<rect x="392.10" y="123.30" width="3.80" height="3.80" fill="#00ffff"/>
<rect x="395.40" y="123.30" width="3.80" height="3.80" fill="#00f0ff"/>
<rect x="398.70" y="123.30" width="3.80" height="3.80" fill="#00e8ff"/>
<rect x="402.00" y="123.30" width="3.80" height="3.80" fill="#00f8ff"/>
<rect x="405.30" y="123.30" width="3.80" height="3.80" fill="#00ffff"/>
<rect x="408.60" y="123.30" width="3.80" height="3.80" fill="#00fff8"/>
<rect x="411.90" y="123.30" width="3.80" height="3.80" fill="#00fff0"/>
<rect x="415.20" y="123.30" width="3.80" height="3.80" fill="#00fff8"/>
<rect x="418.50" y="123.30" width="3.80" height="3.80" fill="#00f8ff"/>
<rect x="421.80" y="123.30" width="3.80" height="3.80" fill="#00e8ff"/>
<rect x="425.10" y="123.30" width="3.80" height="3.80" fill="#00d8ff"/>
<rect x="428.40" y="123.30" width="7.10" height="3.80" fill="#00c8ff"/>
<rect x="435.00" y="123.30" width="3.80" height="3.80" fill="#00d0ff"/>
<rect x="438.30" y="123.30" width="3.80" height="3.80" fill="#00c8ff"/>
<rect x="441.60" y="123.30" width="3.80" height="3.80" fill="#00b8ff"/>
<rect x="444.90" y="123.30" width="3.80" height="3.80" fill="#00a0ff"/>
<rect x="448.20" y="123.30" width="7.10" height="3.80" fill="#00a8ff"/>
<rect x="454.80" y="123.30" width="3.80" height="3.80" fill="#0088ff"/>
<rect x="458.10" y="123.30" width="3.80" height="3.80" fill="#0050ff"/>
<rect x="461.40" y="123.30" width="3.80" height="3.80" fill="#0000ff"/>
<rect x="474.60" y="123.30" width="3.80" height="3.80" fill="#0800ff"/>
<rect x="477.90" y="123.30" width="3.80" height="3.80" fill="#0010ff"/>
<rect x="481.20" y="123.30" width="3.80" height="3.80" fill="#0800ff"/>
<rect x="484.50" y="123.30" width="3.80" height="3.80" fill="#5000ff"/>
<rect x="487.80" y="123.30" width="3.80" height="3.80" fill="#7000ff"/>
<rect x="497.70" y="123.30" width="3.80" height="3.80" fill="#7000ff"/>
<rect x="501.00" y="123.30" width="3.80" height="3.80" fill="#1000ff"/>
<rect x="504.30" y="123.30" width="3.80" height="3.80" fill="#5800ff"/>
<rect x="547.20" y="123.30" width="3.80" height="3.80" fill="#5800ff"/>
<rect x="355.80" y="126.60" width="10.40" height="3.80" fill="#00ff68"/>
<rect x="365.70" y="126.60" width="3.80" height="3.80" fill="#00ff70"/>
<rect x="369.00" y="126.60" width="3.80" height="3.80" fill="#00ff80"/>
<rect x="372.30" y="126.60" width="3.80" height="3.80" fill="#00ff88"/>
<rect x="375.60" y="126.60" width="10.40" height="3.80" fill="#00ff90"/>
<rect x="385.50" y="126.60" width="3.80" height="3.80" fill="#00ffa0"/>
<rect x="388.80" y="126.60" width="3.80" height="3.80" fill="#00ffb8"/>
<rect x="392.10" y="126.60" width="3.80" height="3.80" fill="#00ffd8"/>
<rect x="395.40" y="126.60" width="3.80" height="3.80" fill="#00fff8"/>
<rect x="398.70" y="126.60" width="3.80" height="3.80" fill="#00f8ff"/>
<rect x="402.00" y="126.60" width="3.80" height="3.80" fill="#00fff8"/>
<rect x="405.30" y="126.60" width="3.80" height="3.80" fill="#00ffd8"/>
<rect x="408.60" y="126.60" width="3.80" height="3.80" fill="#00ffb8"/>
<rect x="411.90" y="126.60" width="3.80" height="3.80" fill="#00ffb0"/>
<rect x="415.20" y="126.60" width="3.80" height="3.80" fill="#00ffb8"/>
<rect x="418.50" y="126.60" width="3.80" height="3.80" fill="#00ffe0"/>
<rect x="421.80" y="126.60" width="3.80" height="3.80" fill="#00ffff"/>
<rect x="425.10" y="126.60" width="3.80" height="3.80" fill="#00e0ff"/>
<rect x="428.40" y="126.60" width="3.80" height="3.80" fill="#00d0ff"/>
<rect x="431.70" y="126.60" width="3.80" height="3.80" fill="#00d8ff"/>
<rect x="435.00" y="126.60" width="7.10" height="3.80" fill="#00e8ff"/>
<rect x="441.60" y="126.60" width="3.80" height="3.80" fill="#00c8ff"/>
<rect x="444.90" y="126.60" width="3.80" height="3.80" fill="#00a0ff"/>
<rect x="448.20" y="126.60" width="3.80" height="3.80" fill="#0088ff"/>
<rect x="451.50" y="126.60" width="3.80" height="3.80" fill="#0080ff"/>
<rect x="454.80" y="126.60" width="3.80" height="3.80" fill="#0048ff"/>
<rect x="458.10" y="126.60" width="3.80" height="3.80" fill="#0020ff"/>
<rect x="461.40" y="126.60" width="3.80" height="3.80" fill="#1000ff"/>
<rect x="474.60" y="126.60" width="3.80" height="3.80" fill="#0800ff"/>
<rect x="477.90" y="126.60" width="3.80" height="3.80" fill="#0008ff"/>
<rect x="481.20" y="126.60" width="3.80" height="3.80" fill="#5800ff"/>
<rect x="355.80" y="129.90" width="10.40" height="3.80" fill="#00ff48"/>
<rect x="365.70" y="129.90" width="7.10" height="3.80" fill="#00ff50"/>
<rect x="372.30" y="129.90" width="3.80" height="3.80" fill="#00ff68"/>
<rect x="375.60" y="129.90" width="3.80" height="3.80" fill="#00ff80"/>
<rect x="378.90" y="129.90" width="3.80" height="3.80" fill="#00ff78"/>
<rect x="382.20" y="129.90" width="3.80" height="3.80" fill="#00ff80"/>
<rect x="385.50" y="129.90" width="7.10" height="3.80" fill="#00ff90"/>
<rect x="392.10" y="129.90" width="3.80" height="3.80" fill="#00ff98"/>
<rect x="395.40" y="129.90" width="3.80" height="3.80" fill="#00ffc8"/>
<rect x="398.70" y="129.90" width="3.80" height="3.80" fill="#00fff0"/>
<rect x="402.00" y="129.90" width="3.80" height="3.80" fill="#00ffe0"/>
<rect x="405.30" y="129.90" width="3.80" height="3.80" fill="#00ffa8"/>
<rect x="408.60" y="129.90" width="10.40" height="3.80" fill="#00ff90"/>
<rect x="418.50" y="129.90" width="3.80" height="3.80" fill="#00ffb0"/>
<rect x="421.80" y="129.90" width="3.80" height="3.80" fill="#00fff0"/>
<rect x="425.10" y="129.90" width="3.80" height="3.80" fill="#00e8ff"/>
<rect x="428.40" y="129.90" width="3.80" height="3.80" fill="#00d0ff"/>
<rect x="431.70" y="129.90" width="3.80" height="3.80" fill="#00e0ff"/>
<rect x="435.00" y="129.90" width="3.80" height="3.80" fill="#00fff0"/>
<rect x="438.30" y="129.90" width="3.80" height="3.80" fill="#00ffe0"/>
<rect x="441.60" y="129.90" width="3.80" height="3.80" fill="#00e0ff"/>
<rect x="444.90" y="129.90" width="3.80" height="3.80" fill="#00a8ff"/>
<rect x="448.20" y="129.90" width="3.80" height="3.80" fill="#0070ff"/>
<rect x="451.50" y="129.90" width="3.80" height="3.80" fill="#0058ff"/>
<rect x="454.80" y="129.90" width="3.80" height="3.80" fill="#0028ff"/>
<rect x="458.10" y="129.90" width="3.80" height="3.80" fill="#0010ff"/>
<rect x="461.40" y="129.90" width="3.80" height="3.80" fill="#0000ff"/>
<rect x="464.70" y="129.90" width="3.80" height="3.80" fill="#7000ff"/>
<rect x="471.30" y="129.90" width="3.80" height="3.80" fill="#6800ff"/>
<rect x="474.60" y="129.90" width="7.10" height="3.80" fill="#0000ff"/>
<rect x="481.20" y="129.90" width="3.80" height="3.80" fill="#7000ff"/>
<rect x="497.70" y="129.90" width="3.80" height="3.80" fill="#5000ff"/>
<rect x="501.00" y="129.90" width="7.10" height="3.80" fill="#3800ff"/>
<rect x="507.60" y="129.90" width="3.80" height="3.80" fill="#5000ff"/>
<rect x="510.90" y="129.90" width="3.80" height="3.80" fill="#7000ff"/>
<rect x="527.40" y="129.90" width="3.80" height="3.80" fill="#4800ff"/>
<rect x="530.70" y="129.90" width="3.80" height="3.80" fill="#1800ff"/>
<rect x="355.80" y="133.20" width="13.70" height="3.80" fill="#00ff40"/>
<rect x="369.00" y="133.20" width="7.10" height="3.80" fill="#00ff48"/>
<rect x="375.60" y="133.20" width="7.10" height="3.80" fill="#00ff50"/>
<rect x="382.20" y="133.20" width="3.80" height="3.80" fill="#00ff58"/>
<rect x="385.50" y="133.20" width="3.80" height="3.80" fill="#00ff68"/>
<rect x="388.80" y="133.20" width="3.80" height="3.80" fill="#00ff88"/>
<rect x="392.10" y="133.20" width="3.80" height="3.80" fill="#00ff90"/>
<rect x="395.40" y="133.20" width="3.80" height="3.80" fill="#00ff98"/>
<rect x="398.70" y="133.20" width="3.80" height="3.80" fill="#00ffb8"/>
<rect x="402.00" y="133.20" width="3.80" height="3.80" fill="#00ffb0"/>
<rect x="405.30" y="133.20" width="13.70" height="3.80" fill="#00ff90"/>
<rect x="418.50" y="133.20" width="3.80" height="3.80" fill="#00ffa0"/>
<rect x="421.80" y="133.20" width="3.80" height="3.80" fill="#00ffe8"/>
<rect x="425.10" y="133.20" width="3.80" height="3.80" fill="#00e8ff"/>
<rect x="428.40" y="133.20" width="3.80" height="3.80" fill="#00c8ff"/>
<rect x="431.70" y="133.20" width="3.80" height="3.80" fill="#00d8ff"/>
<rect x="435.00" y="133.20" width="3.80" height="3.80" fill="#00fff8"/>
<rect x="438.30" y="133.20" width="3.80" height="3.80" fill="#00ffe8"/>
<rect x="441.60" y="133.20" width="3.80" height="3.80" fill="#00d8ff"/>
<rect x="444.90" y="133.20" width="3.80" height="3.80" fill="#0098ff"/>
<rect x="448.20" y="133.20" width="3.80" height="3.80" fill="#0068ff"/>
<rect x="451.50" y="133.20" width="3.80" height="3.80" fill="#0040ff"/>
<rect x="454.80" y="133.20" width="3.80" height="3.80" fill="#0018ff"/>
<rect x="458.10" y="133.20" width="7.10" height="3.80" fill="#0010ff"/>
<rect x="464.70" y="133.20" width="3.80" height="3.80" fill="#3000ff"/>
<rect x="468.00" y="133.20" width="3.80" height="3.80" fill="#5000ff"/>
<rect x="471.30" y="133.20" width="3.80" height="3.80" fill="#1800ff"/>
<rect x="474.60" y="133.20" width="3.80" height="3.80" fill="#0010ff"/>
<rect x="477.90" y="133.20" width="3.80" height="3.80" fill="#0000ff"/>
<rect x="481.20" y="133.20" width="3.80" height="3.80" fill="#6800ff"/>
<rect x="491.10" y="133.20" width="3.80" height="3.80" fill="#6000ff"/>
<rect x="494.40" y="133.20" width="3.80" height="3.80" fill="#1000ff"/>
<rect x="497.70" y="133.20" width="3.80" height="3.80" fill="#0008ff"/>
<rect x="501.00" y="133.20" width="10.40" height="3.80" fill="#0010ff"/>
<rect x="510.90" y="133.20" width="3.80" height="3.80" fill="#0000ff"/>
<rect x="514.20" y="133.20" width="3.80" height="3.80" fill="#2800ff"/>
<rect x="517.50" y="133.20" width="3.80" height="3.80" fill="#5000ff"/>
<rect x="520.80" y="133.20" width="3.80" height="3.80" fill="#7000ff"/>
<rect x="524.10" y="133.20" width="3.80" height="3.80" fill="#5800ff"/>
<rect x="527.40" y="133.20" width="3.80" height="3.80" fill="#0800ff"/>
<rect x="530.70" y="133.20" width="3.80" height="3.80" fill="#2000ff"/>
<rect x="355.80" y="136.50" width="7.10" height="3.80" fill="#00ff18"/>
<rect x="362.40" y="136.50" width="3.80" height="3.80" fill="#00ff28"/>
<rect x="365.70" y="136.50" width="3.80" height="3.80" fill="#00ff30"/>
<rect x="369.00" y="136.50" width="3.80" height="3.80" fill="#00ff38"/>
<rect x="372.30" y="136.50" width="10.40" height="3.80" fill="#00ff40"/>
<rect x="382.20" y="136.50" width="3.80" height="3.80" fill="#00ff48"/>
<rect x="385.50" y="136.50" width="3.80" height="3.80" fill="#00ff50"/>
<rect x="388.80" y="136.50" width="3.80" height="3.80" fill="#00ff60"/>
<rect x="392.10" y="136.50" width="3.80" height="3.80" fill="#00ff70"/>
<rect x="395.40" y="136.50" width="3.80" height="3.80" fill="#00ff80"/>
<rect x="398.70" y="136.50" width="20.30" height="3.80" fill="#00ff90"/>
<rect x="418.50" y="136.50" width="3.80" height="3.80" fill="#00ff98"/>
<rect x="421.80" y="136.50" width="3.80" height="3.80" fill="#00ffe0"/>
<rect x="425.10" y="136.50" width="3.80" height="3.80" fill="#00f0ff"/>
<rect x="428.40" y="136.50" width="3.80" height="3.80" fill="#00c8ff"/>
<rect x="431.70" y="136.50" width="3.80" height="3.80" fill="#00c0ff"/>
<rect x="435.00" y="136.50" width="3.80" height="3.80" fill="#00c8ff"/>
<rect x="438.30" y="136.50" width="3.80" height="3.80" fill="#00c0ff"/>
<rect x="441.60" y="136.50" width="3.80" height="3.80" fill="#00a0ff"/>
<rect x="444.90" y="136.50" width="3.80" height="3.80" fill="#0078ff"/>
<rect x="448.20" y="136.50" width="3.80" height="3.80" fill="#0058ff"/>
<rect x="451.50" y="136.50" width="3.80" height="3.80" fill="#0030ff"/>
<rect x="454.80" y="136.50" width="3.80" height="3.80" fill="#0018ff"/>
<rect x="458.10" y="136.50" width="10.40" height="3.80" fill="#0010ff"/>
<rect x="468.00" y="136.50" width="3.80" height="3.80" fill="#0008ff"/>
<rect x="471.30" y="136.50" width="10.40" height="3.80" fill="#0010ff"/>
<rect x="481.20" y="136.50" width="3.80" height="3.80" fill="#0800ff"/>
<rect x="484.50" y="136.50" width="7.10" height="3.80" fill="#2000ff"/>
<rect x="491.10" y="136.50" width="3.80" height="3.80" fill="#0000ff"/>
<rect x="494.40" y="136.50" width="3.80" height="3.80" fill="#0008ff"/>
<rect x="497.70" y="136.50" width="3.80" height="3.80" fill="#0800ff"/>
<rect x="501.00" y="136.50" width="3.80" height="3.80" fill="#0008ff"/>
<rect x="504.30" y="136.50" width="13.70" height="3.80" fill="#0010ff"/>
<rect x="517.50" y="136.50" width="3.80" height="3.80" fill="#0008ff"/>
<rect x="520.80" y="136.50" width="7.10" height="3.80" fill="#0000ff"/>
<rect x="527.40" y="136.50" width="3.80" height="3.80" fill="#3000ff"/>
<rect x="355.80" y="139.80" width="3.80" height="3.80" fill="#28ff00"/>
<rect x="359.10" y="139.80" width="3.80" height="3.80" fill="#20ff00"/>
<rect x="362.40" y="139.80" width="3.80" height="3.80" fill="#18ff00"/>
<rect x="365.70" y="139.80" width="3.80" height="3.80" fill="#00ff00"/>
<rect x="369.00" y="139.80" width="3.80" height="3.80" fill="#00ff20"/>
<rect x="372.30" y="139.80" width="7.10" height="3.80" fill="#00ff38"/>
<rect x="378.90" y="139.80" width="3.80" height="3.80" fill="#00ff30"/>
<rect x="382.20" y="139.80" width="3.80" height="3.80" fill="#00ff38"/>
<rect x="385.50" y="139.80" width="3.80" height="3.80" fill="#00ff48"/>
<rect x="388.80" y="139.80" width="3.80" height="3.80" fill="#00ff50"/>
<rect x="392.10" y="139.80" width="3.80" height="3.80" fill="#00ff58"/>
<rect x="395.40" y="139.80" width="3.80" height="3.80" fill="#00ff60"/>
<rect x="398.70" y="139.80" width="3.80" height="3.80" fill="#00ff68"/>
<rect x="402.00" y="139.80" width="3.80" height="3.80" fill="#00ff88"/>
<rect x="405.30" y="139.80" width="13.70" height="3.80" fill="#00ff90"/>
<rect x="418.50" y="139.80" width="3.80" height="3.80" fill="#00ff98"/>
<rect x="421.80" y="139.80" width="3.80" height="3.80" fill="#00ffc8"/>
<rect x="425.10" y="139.80" width="3.80" height="3.80" fill="#00f8ff"/>
<rect x="428.40" y="139.80" width="3.80" height="3.80" fill="#00d0ff"/>
<rect x="431.70" y="139.80" width="3.80" height="3.80" fill="#00a8ff"/>
<rect x="435.00" y="139.80" width="3.80" height="3.80" fill="#0098ff"/>
<rect x="438.30" y="139.80" width="3.80" height="3.80" fill="#0080ff"/>
<rect x="441.60" y="139.80" width="3.80" height="3.80" fill="#0068ff"/>
<rect x="444.90" y="139.80" width="3.80" height="3.80" fill="#0050ff"/>
<rect x="448.20" y="139.80" width="3.80" height="3.80" fill="#0040ff"/>
<rect x="451.50" y="139.80" width="3.80" height="3.80" fill="#0028ff"/>
<rect x="454.80" y="139.80" width="3.80" height="3.80" fill="#0018ff"/>
<rect x="458.10" y="139.80" width="17.00" height="3.80" fill="#0010ff"/>
<rect x="474.60" y="139.80" width="3.80" height="3.80" fill="#0018ff"/>
<rect x="477.90" y="139.80" width="3.80" height="3.80" fill="#0040ff"/>
<rect x="481.20" y="139.80" width="3.80" height="3.80" fill="#0060ff"/>
<rect x="484.50" y="139.80" width="3.80" height="3.80" fill="#0050ff"/>
<rect x="487.80" y="139.80" width="3.80" height="3.80" fill="#0020ff"/>
<rect x="491.10" y="139.80" width="3.80" height="3.80" fill="#0010ff"/>
<rect x="494.40" y="139.80" width="3.80" height="3.80" fill="#2000ff"/>
<rect x="501.00" y="139.80" width="3.80" height="3.80" fill="#5000ff"/>
<rect x="504.30" y="139.80" width="3.80" height="3.80" fill="#0000ff"/>
<rect x="507.60" y="139.80" width="17.00" height="3.80" fill="#0010ff"/>
<rect x="524.10" y="139.80" width="3.80" height="3.80" fill="#3000ff"/>
<rect x="355.80" y="143.10" width="13.70" height="3.80" fill="#28ff00"/>
<rect x="369.00" y="143.10" width="3.80" height="3.80" fill="#18ff00"/>
<rect x="372.30" y="143.10" width="3.80" height="3.80" fill="#08ff00"/>
<rect x="375.60" y="143.10" width="3.80" height="3.80" fill="#00ff00"/>
<rect x="378.90" y="143.10" width="3.80" height="3.80" fill="#08ff00"/>
<rect x="382.20" y="143.10" width="3.80" height="3.80" fill="#00ff28"/>
<rect x="385.50" y="143.10" width="3.80" height="3.80" fill="#00ff38"/>
<rect x="388.80" y="143.10" width="7.10" height="3.80" fill="#00ff40"/>
<rect x="395.40" y="143.10" width="3.80" height="3.80" fill="#00ff48"/>
<rect x="398.70" y="143.10" width="3.80" height="3.80" fill="#00ff50"/>
<rect x="402.00" y="143.10" width="3.80" height="3.80" fill="#00ff58"/>
<rect x="405.30" y="143.10" width="3.80" height="3.80" fill="#00ff70"/>
<rect x="408.60" y="143.10" width="3.80" height="3.80" fill="#00ff80"/>
<rect x="411.90" y="143.10" width="10.40" height="3.80" fill="#00ff90"/>
<rect x="421.80" y="143.10" width="3.80" height="3.80" fill="#00ffa8"/>
<rect x="425.10" y="143.10" width="3.80" height="3.80" fill="#00ffe0"/>
<rect x="428.40" y="143.10" width="3.80" height="3.80" fill="#00e8ff"/>
<rect x="431.70" y="143.10" width="3.80" height="3.80" fill="#00b8ff"/>
<rect x="435.00" y="143.10" width="3.80" height="3.80" fill="#0088ff"/>
<rect x="438.30" y="143.10" width="3.80" height="3.80" fill="#0060ff"/>
<rect x="441.60" y="143.10" width="3.80" height="3.80" fill="#0040ff"/>
<rect x="444.90" y="143.10" width="3.80" height="3.80" fill="#0038ff"/>
<rect x="448.20" y="143.10" width="3.80" height="3.80" fill="#0030ff"/>
<rect x="451.50" y="143.10" width="3.80" height="3.80" fill="#0020ff"/>
<rect x="454.80" y="143.10" width="3.80" height="3.80" fill="#0018ff"/>
<rect x="458.10" y="143.10" width="17.00" height="3.80" fill="#0010ff"/>
<rect x="474.60" y="143.10" width="3.80" height="3.80" fill="#0018ff"/>
<rect x="477.90" y="143.10" width="3.80" height="3.80" fill="#0050ff"/>
<rect x="481.20" y="143.10" width="3.80" height="3.80" fill="#0080ff"/>
<rect x="484.50" y="143.10" width="3.80" height="3.80" fill="#0070ff"/>
<rect x="487.80" y="143.10" width="3.80" height="3.80" fill="#0030ff"/>
<rect x="491.10" y="143.10" width="3.80" height="3.80" fill="#0010ff"/>
<rect x="494.40" y="143.10" width="3.80" height="3.80" fill="#3800ff"/>
<rect x="504.30" y="143.10" width="3.80" height="3.80" fill="#4000ff"/>
<rect x="507.60" y="143.10" width="13.70" height="3.80" fill="#0010ff"/>
<rect x="520.80" y="143.10" width="3.80" height="3.80" fill="#2000ff"/>
<rect x="355.80" y="146.40" width="3.80" height="3.80" fill="#38ff00"/>
<rect x="359.10" y="146.40" width="3.80" height="3.80" fill="#40ff00"/>
<rect x="362.40" y="146.40" width="3.80" height="3.80" fill="#38ff00"/>
<rect x="365.70" y="146.40" width="3.80" height="3.80" fill="#28ff00"/>
<rect x="369.00" y="146.40" width="3.80" height="3.80" fill="#20ff00"/>
<rect x="372.30" y="146.40" width="10.40" height="3.80" fill="#28ff00"/>
<rect x="382.20" y="146.40" width="3.80" height="3.80" fill="#08ff00"/>
<rect x="385.50" y="146.40" width="3.80" height="3.80" fill="#00ff10"/>
<rect x="388.80" y="146.40" width="3.80" height="3.80" fill="#00ff18"/>
<rect x="392.10" y="146.40" width="3.80" height="3.80" fill="#00ff28"/>
<rect x="395.40" y="146.40" width="3.80" height="3.80" fill="#00ff38"/>
<rect x="398.70" y="146.40" width="3.80" height="3.80" fill="#00ff40"/>
<rect x="402.00" y="146.40" width="3.80" height="3.80" fill="#00ff48"/>
<rect x="405.30" y="146.40" width="7.10" height="3.80" fill="#00ff50"/>
<rect x="411.90" y="146.40" width="3.80" height="3.80" fill="#00ff70"/>
<rect x="415.20" y="146.40" width="10.40" height="3.80" fill="#00ff90"/>
<rect x="425.10" y="146.40" width="3.80" height="3.80" fill="#00ffb0"/>
<rect x="428.40" y="146.40" width="3.80" height="3.80" fill="#00ffe8"/>
<rect x="431.70" y="146.40" width="3.80" height="3.80" fill="#00d0ff"/>
<rect x="435.00" y="146.40" width="3.80" height="3.80" fill="#0098ff"/>
<rect x="438.30" y="146.40" width="3.80" height="3.80" fill="#0068ff"/>
<rect x="441.60" y="146.40" width="3.80" height="3.80" fill="#0060ff"/>
<rect x="444.90" y="146.40" width="3.80" height="3.80" fill="#0040ff"/>
<rect x="448.20" y="146.40" width="3.80" height="3.80" fill="#0030ff"/>
<rect x="451.50" y="146.40" width="3.80" height="3.80" fill="#0028ff"/>
<rect x="454.80" y="146.40" width="3.80" height="3.80" fill="#0020ff"/>
<rect x="458.10" y="146.40" width="3.80" height="3.80" fill="#0018ff"/>
<rect x="461.40" y="146.40" width="7.10" height="3.80" fill="#0010ff"/>
<rect x="468.00" y="146.40" width="3.80" height="3.80" fill="#0000ff"/>
<rect x="471.30" y="146.40" width="7.10" height="3.80" fill="#0800ff"/>
<rect x="477.90" y="146.40" width="3.80" height="3.80" fill="#0008ff"/>
<rect x="481.20" y="146.40" width="7.10" height="3.80" fill="#0020ff"/>
<rect x="487.80" y="146.40" width="3.80" height="3.80" fill="#0008ff"/>
<rect x="491.10" y="146.40" width="3.80" height="3.80" fill="#1000ff"/>
<rect x="494.40" y="146.40" width="3.80" height="3.80" fill="#6800ff"/>
<rect x="504.30" y="146.40" width="3.80" height="3.80" fill="#7000ff"/>
<rect x="507.60" y="146.40" width="3.80" height="3.80" fill="#0800ff"/>
<rect x="510.90" y="146.40" width="7.10" height="3.80" fill="#0010ff"/>
<rect x="517.50" y="146.40" width="3.80" height="3.80" fill="#1000ff"/>
<rect x="520.80" y="146.40" width="3.80" height="3.80" fill="#7000ff"/>
<rect x="355.80" y="149.70" width="3.80" height="3.80" fill="#50ff00"/>
<rect x="359.10" y="149.70" width="7.10" height="3.80" fill="#58ff00"/>
<rect x="365.70" y="149.70" width="3.80" height="3.80" fill="#48ff00"/>
<rect x="369.00" y="149.70" width="3.80" height="3.80" fill="#38ff00"/>
<rect x="372.30" y="149.70" width="3.80" height="3.80" fill="#30ff00"/>
<rect x="375.60" y="149.70" width="13.70" height="3.80" fill="#28ff00"/>
<rect x="388.80" y="149.70" width="3.80" height="3.80" fill="#20ff00"/>
<rect x="392.10" y="149.70" width="3.80" height="3.80" fill="#18ff00"/>
<rect x="395.40" y="149.70" width="3.80" height="3.80" fill="#00ff10"/>
<rect x="398.70" y="149.70" width="3.80" height="3.80" fill="#00ff30"/>
<rect x="402.00" y="149.70" width="7.10" height="3.80" fill="#00ff40"/>
<rect x="408.60" y="149.70" width="3.80" height="3.80" fill="#00ff48"/>
<rect x="411.90" y="149.70" width="3.80" height="3.80" fill="#00ff50"/>
<rect x="415.20" y="149.70" width="3.80" height="3.80" fill="#00ff70"/>
<rect x="418.50" y="149.70" width="10.40" height="3.80" fill="#00ff90"/>
<rect x="428.40" y="149.70" width="3.80" height="3.80" fill="#00ffc8"/>
<rect x="431.70" y="149.70" width="3.80" height="3.80" fill="#00e8ff"/>
<rect x="435.00" y="149.70" width="3.80" height="3.80" fill="#00b0ff"/>
<rect x="438.30" y="149.70" width="3.80" height="3.80" fill="#0080ff"/>
<rect x="441.60" y="149.70" width="3.80" height="3.80" fill="#0098ff"/>
<rect x="444.90" y="149.70" width="3.80" height="3.80" fill="#0080ff"/>
<rect x="448.20" y="149.70" width="3.80" height="3.80" fill="#0060ff"/>
<rect x="451.50" y="149.70" width="3.80" height="3.80" fill="#0050ff"/>
<rect x="454.80" y="149.70" width="3.80" height="3.80" fill="#0048ff"/>
<rect x="458.10" y="149.70" width="3.80" height="3.80" fill="#0038ff"/>
<rect x="461.40" y="149.70" width="3.80" height="3.80" fill="#0020ff"/>
<rect x="464.70" y="149.70" width="3.80" height="3.80" fill="#0000ff"/>
<rect x="468.00" y="149.70" width="3.80" height="3.80" fill="#6000ff"/>
<rect x="477.90" y="149.70" width="3.80" height="3.80" fill="#7000ff"/>
<rect x="481.20" y="149.70" width="3.80" height="3.80" fill="#6000ff"/>
<rect x="484.50" y="149.70" width="3.80" height="3.80" fill="#5800ff"/>
<rect x="487.80" y="149.70" width="3.80" height="3.80" fill="#6000ff"/>
<rect x="507.60" y="149.70" width="3.80" height="3.80" fill="#2800ff"/>
<rect x="510.90" y="149.70" width="7.10" height="3.80" fill="#0010ff"/>
<rect x="517.50" y="149.70" width="3.80" height="3.80" fill="#0000ff"/>
<rect x="520.80" y="149.70" width="3.80" height="3.80" fill="#6000ff"/>
<rect x="355.80" y="153.00" width="3.80" height="3.80" fill="#68ff00"/>
<rect x="359.10" y="153.00" width="7.10" height="3.80" fill="#78ff00"/>
<rect x="365.70" y="153.00" width="3.80" height="3.80" fill="#68ff00"/>
<rect x="369.00" y="153.00" width="3.80" height="3.80" fill="#58ff00"/>
<rect x="372.30" y="153.00" width="3.80" height="3.80" fill="#48ff00"/>
<rect x="375.60" y="153.00" width="3.80" height="3.80" fill="#38ff00"/>
<rect x="378.90" y="153.00" width="3.80" height="3.80" fill="#30ff00"/>
<rect x="382.20" y="153.00" width="13.70" height="3.80" fill="#28ff00"/>
<rect x="395.40" y="153.00" width="3.80" height="3.80" fill="#20ff00"/>
<rect x="398.70" y="153.00" width="3.80" height="3.80" fill="#00ff08"/>
<rect x="402.00" y="153.00" width="3.80" height="3.80" fill="#00ff28"/>
<rect x="405.30" y="153.00" width="3.80" height="3.80" fill="#00ff38"/>
<rect x="408.60" y="153.00" width="3.80" height="3.80" fill="#00ff40"/>
<rect x="411.90" y="153.00" width="3.80" height="3.80" fill="#00ff48"/>
<rect x="415.20" y="153.00" width="3.80" height="3.80" fill="#00ff58"/>
<rect x="418.50" y="153.00" width="3.80" height="3.80" fill="#00ff80"/>
<rect x="421.80" y="153.00" width="7.10" height="3.80" fill="#00ff90"/>
<rect x="428.40" y="153.00" width="3.80" height="3.80" fill="#00ffc8"/>
<rect x="431.70" y="153.00" width="3.80" height="3.80" fill="#00e0ff"/>
<rect x="435.00" y="153.00" width="3.80" height="3.80" fill="#00a0ff"/>
<rect x="438.30" y="153.00" width="3.80" height="3.80" fill="#0078ff"/>
<rect x="441.60" y="153.00" width="10.40" height="3.80" fill="#00a8ff"/>
<rect x="451.50" y="153.00" width="3.80" height="3.80" fill="#00a0ff"/>
<rect x="454.80" y="153.00" width="3.80" height="3.80" fill="#0098ff"/>
<rect x="458.10" y="153.00" width="3.80" height="3.80" fill="#0088ff"/>
<rect x="461.40" y="153.00" width="3.80" height="3.80" fill="#0068ff"/>
<rect x="464.70" y="153.00" width="3.80" height="3.80" fill="#0008ff"/>
<rect x="474.60" y="153.00" width="7.10" height="3.80" fill="#7000ff"/>
<rect x="487.80" y="153.00" width="3.80" height="3.80" fill="#4800ff"/>
<rect x="491.10" y="153.00" width="3.80" height="3.80" fill="#6800ff"/>
<rect x="507.60" y="153.00" width="3.80" height="3.80" fill="#6800ff"/>
<rect x="510.90" y="153.00" width="3.80" height="3.80" fill="#0800ff"/>
<rect x="514.20" y="153.00" width="7.10" height="3.80" fill="#0010ff"/>
<rect x="520.80" y="153.00" width="3.80" height="3.80" fill="#1000ff"/>
<rect x="524.10" y="153.00" width="3.80" height="3.80" fill="#4800ff"/>
<rect x="355.80" y="156.30" width="3.80" height="3.80" fill="#88ff00"/>
<rect x="359.10" y="156.30" width="3.80" height="3.80" fill="#a8ff00"/>
<rect x="362.40" y="156.30" width="3.80" height="3.80" fill="#b8ff00"/>
<rect x="365.70" y="156.30" width="3.80" height="3.80" fill="#88ff00"/>
<rect x="369.00" y="156.30" width="3.80" height="3.80" fill="#70ff00"/>
<rect x="372.30" y="156.30" width="3.80" height="3.80" fill="#60ff00"/>
<rect x="375.60" y="156.30" width="3.80" height="3.80" fill="#58ff00"/>
<rect x="378.90" y="156.30" width="3.80" height="3.80" fill="#48ff00"/>
<rect x="382.20" y="156.30" width="3.80" height="3.80" fill="#38ff00"/>
<rect x="385.50" y="156.30" width="3.80" height="3.80" fill="#30ff00"/>
<rect x="388.80" y="156.30" width="13.70" height="3.80" fill="#28ff00"/>
<rect x="402.00" y="156.30" width="3.80" height="3.80" fill="#18ff00"/>
<rect x="405.30" y="156.30" width="3.80" height="3.80" fill="#00ff08"/>
<rect x="408.60" y="156.30" width="3.80" height="3.80" fill="#00ff30"/>
<rect x="411.90" y="156.30" width="3.80" height="3.80" fill="#00ff40"/>
<rect x="415.20" y="156.30" width="3.80" height="3.80" fill="#00ff50"/>
<rect x="418.50" y="156.30" width="3.80" height="3.80" fill="#00ff70"/>
<rect x="421.80" y="156.30" width="3.80" height="3.80" fill="#00ff90"/>
<rect x="425.10" y="156.30" width="3.80" height="3.80" fill="#00ffa0"/>
<rect x="428.40" y="156.30" width="3.80" height="3.80" fill="#00ffe8"/>
<rect x="431.70" y="156.30" width="3.80" height="3.80" fill="#00c8ff"/>
<rect x="435.00" y="156.30" width="3.80" height="3.80" fill="#0080ff"/>
<rect x="438.30" y="156.30" width="3.80" height="3.80" fill="#0060ff"/>
<rect x="441.60" y="156.30" width="3.80" height="3.80" fill="#0078ff"/>
<rect x="444.90" y="156.30" width="3.80" height="3.80" fill="#00a8ff"/>
<rect x="448.20" y="156.30" width="3.80" height="3.80" fill="#00c0ff"/>
<rect x="451.50" y="156.30" width="3.80" height="3.80" fill="#00c8ff"/>
<rect x="454.80" y="156.30" width="7.10" height="3.80" fill="#00d0ff"/>
<rect x="461.40" y="156.30" width="3.80" height="3.80" fill="#00a8ff"/>
<rect x="464.70" y="156.30" width="3.80" height="3.80" fill="#0040ff"/>
<rect x="468.00" y="156.30" width="3.80" height="3.80" fill="#7000ff"/>
<rect x="471.30" y="156.30" width="3.80" height="3.80" fill="#6000ff"/>
<rect x="474.60" y="156.30" width="3.80" height="3.80" fill="#0800ff"/>
<rect x="477.90" y="156.30" width="3.80" height="3.80" fill="#0000ff"/>
<rect x="481.20" y="156.30" width="3.80" height="3.80" fill="#5000ff"/>
<rect x="487.80" y="156.30" width="7.10" height="3.80" fill="#1800ff"/>
<rect x="510.90" y="156.30" width="3.80" height="3.80" fill="#5800ff"/>
<rect x="514.20" y="156.30" width="3.80" height="3.80" fill="#0008ff"/>
<rect x="517.50" y="156.30" width="3.80" height="3.80" fill="#0018ff"/>
<rect x="520.80" y="156.30" width="3.80" height="3.80" fill="#0028ff"/>
<rect x="524.10" y="156.30" width="3.80" height="3.80" fill="#0010ff"/>
<rect x="527.40" y="156.30" width="3.80" height="3.80" fill="#4800ff"/>
<rect x="355.80" y="159.60" width="3.80" height="3.80" fill="#b0ff00"/>
<rect x="359.10" y="159.60" width="3.80" height="3.80" fill="#c8ff00"/>
<rect x="362.40" y="159.60" width="3.80" height="3.80" fill="#d0ff00"/>
<rect x="365.70" y="159.60" width="3.80" height="3.80" fill="#b8ff00"/>
<rect x="369.00" y="159.60" width="3.80" height="3.80" fill="#98ff00"/>
<rect x="372.30" y="159.60" width="3.80" height="3.80" fill="#80ff00"/>
<rect x="375.60" y="159.60" width="3.80" height="3.80" fill="#70ff00"/>
<rect x="378.90" y="159.60" width="3.80" height="3.80" fill="#68ff00"/>
<rect x="382.20" y="159.60" width="3.80" height="3.80" fill="#58ff00"/>
<rect x="385.50" y="159.60" width="3.80" height="3.80" fill="#48ff00"/>
<rect x="388.80" y="159.60" width="3.80" height="3.80" fill="#38ff00"/>
<rect x="392.10" y="159.60" width="3.80" height="3.80" fill="#30ff00"/>
<rect x="395.40" y="159.60" width="10.40" height="3.80" fill="#28ff00"/>
<rect x="405.30" y="159.60" width="3.80" height="3.80" fill="#18ff00"/>
<rect x="408.60" y="159.60" width="3.80" height="3.80" fill="#00ff18"/>
<rect x="411.90" y="159.60" width="3.80" height="3.80" fill="#00ff40"/>
<rect x="415.20" y="159.60" width="3.80" height="3.80" fill="#00ff50"/>
<rect x="418.50" y="159.60" width="3.80" height="3.80" fill="#00ff68"/>
<rect x="421.80" y="159.60" width="3.80" height="3.80" fill="#00ff90"/>
<rect x="425.10" y="159.60" width="3.80" height="3.80" fill="#00ffb0"/>
<rect x="428.40" y="159.60" width="3.80" height="3.80" fill="#00ffff"/>
<rect x="431.70" y="159.60" width="3.80" height="3.80" fill="#00b0ff"/>
<rect x="435.00" y="159.60" width="3.80" height="3.80" fill="#0070ff"/>
<rect x="438.30" y="159.60" width="3.80" height="3.80" fill="#0040ff"/>
<rect x="441.60" y="159.60" width="3.80" height="3.80" fill="#0048ff"/>
<rect x="444.90" y="159.60" width="3.80" height="3.80" fill="#00a0ff"/>
<rect x="448.20" y="159.60" width="3.80" height="3.80" fill="#00d8ff"/>
<rect x="451.50" y="159.60" width="3.80" height="3.80" fill="#00f0ff"/>
<rect x="454.80" y="159.60" width="7.10" height="3.80" fill="#00f8ff"/>
<rect x="461.40" y="159.60" width="3.80" height="3.80" fill="#00d8ff"/>
<rect x="464.70" y="159.60" width="3.80" height="3.80" fill="#0068ff"/>
<rect x="468.00" y="159.60" width="3.80" height="3.80" fill="#5000ff"/>
<rect x="471.30" y="159.60" width="3.80" height="3.80" fill="#6000ff"/>
<rect x="474.60" y="159.60" width="3.80" height="3.80" fill="#0800ff"/>
<rect x="477.90" y="159.60" width="3.80" height="3.80" fill="#0000ff"/>
<rect x="481.20" y="159.60" width="3.80" height="3.80" fill="#5000ff"/>
<rect x="487.80" y="159.60" width="3.80" height="3.80" fill="#6000ff"/>
<rect x="491.10" y="159.60" width="3.80" height="3.80" fill="#0000ff"/>
<rect x="494.40" y="159.60" width="3.80" height="3.80" fill="#4800ff"/>
<rect x="514.20" y="159.60" width="3.80" height="3.80" fill="#4000ff"/>
<rect x="517.50" y="159.60" width="3.80" height="3.80" fill="#0018ff"/>
<rect x="520.80" y="159.60" width="3.80" height="3.80" fill="#0050ff"/>
<rect x="524.10" y="159.60" width="3.80" height="3.80" fill="#0020ff"/>
<rect x="527.40" y="159.60" width="3.80" height="3.80" fill="#3800ff"/>
<rect x="355.80" y="162.90" width="3.80" height="3.80" fill="#e0ff00"/>
<rect x="359.10" y="162.90" width="7.10" height="3.80" fill="#e8ff00"/>
<rect x="365.70" y="162.90" width="3.80" height="3.80" fill="#d0ff00"/>
<rect x="369.00" y="162.90" width="3.80" height="3.80" fill="#c0ff00"/>
<rect x="372.30" y="162.90" width="3.80" height="3.80" fill="#b8ff00"/>
<rect x="375.60" y="162.90" width="3.80" height="3.80" fill="#a0ff00"/>
<rect x="378.90" y="162.90" width="3.80" height="3.80" fill="#80ff00"/>
<rect x="382.20" y="162.90" width="3.80" height="3.80" fill="#70ff00"/>
<rect x="385.50" y="162.90" width="3.80" height="3.80" fill="#60ff00"/>
<rect x="388.80" y="162.90" width="3.80" height="3.80" fill="#50ff00"/>
<rect x="392.10" y="162.90" width="3.80" height="3.80" fill="#38ff00"/>
<rect x="395.40" y="162.90" width="7.10" height="3.80" fill="#28ff00"/>
<rect x="402.00" y="162.90" width="3.80" height="3.80" fill="#20ff00"/>
<rect x="405.30" y="162.90" width="3.80" height="3.80" fill="#00ff18"/>
<rect x="408.60" y="162.90" width="3.80" height="3.80" fill="#00ff38"/>
<rect x="411.90" y="162.90" width="3.80" height="3.80" fill="#00ff40"/>
<rect x="415.20" y="162.90" width="3.80" height="3.80" fill="#00ff50"/>
<rect x="418.50" y="162.90" width="3.80" height="3.80" fill="#00ff70"/>
<rect x="421.80" y="162.90" width="3.80" height="3.80" fill="#00ff90"/>
<rect x="425.10" y="162.90" width="3.80" height="3.80" fill="#00ffb0"/>
<rect x="428.40" y="162.90" width="3.80" height="3.80" fill="#00ffff"/>
<rect x="431.70" y="162.90" width="3.80" height="3.80" fill="#00b0ff"/>
<rect x="435.00" y="162.90" width="3.80" height="3.80" fill="#0078ff"/>
<rect x="438.30" y="162.90" width="3.80" height="3.80" fill="#0068ff"/>
<rect x="441.60" y="162.90" width="3.80" height="3.80" fill="#0078ff"/>
<rect x="444.90" y="162.90" width="3.80" height="3.80" fill="#00b8ff"/>
<rect x="448.20" y="162.90" width="3.80" height="3.80" fill="#00f0ff"/>
<rect x="451.50" y="162.90" width="10.40" height="3.80" fill="#00fff8"/>
<rect x="461.40" y="162.90" width="3.80" height="3.80" fill="#00f0ff"/>
<rect x="464.70" y="162.90" width="3.80" height="3.80" fill="#0078ff"/>
<rect x="468.00" y="162.90" width="3.80" height="3.80" fill="#2000ff"/>
<rect x="477.90" y="162.90" width="3.80" height="3.80" fill="#7000ff"/>
<rect x="491.10" y="162.90" width="3.80" height="3.80" fill="#3800ff"/>
<rect x="494.40" y="162.90" width="3.80" height="3.80" fill="#0800ff"/>
<rect x="497.70" y="162.90" width="3.80" height="3.80" fill="#7000ff"/>
<rect x="517.50" y="162.90" width="3.80" height="3.80" fill="#3800ff"/>
<rect x="520.80" y="162.90" width="3.80" height="3.80" fill="#1000ff"/>
<rect x="524.10" y="162.90" width="3.80" height="3.80" fill="#3800ff"/>
<rect x="530.70" y="162.90" width="3.80" height="3.80" fill="#3000ff"/>
<rect x="534.00" y="162.90" width="3.80" height="3.80" fill="#1000ff"/>
<rect x="537.30" y="162.90" width="3.80" height="3.80" fill="#1800ff"/>
<rect x="540.60" y="162.90" width="3.80" height="3.80" fill="#4800ff"/>
<rect x="355.80" y="166.20" width="3.80" height="3.80" fill="#fff000"/>
<rect x="359.10" y="166.20" width="7.10" height="3.80" fill="#ffe800"/>
<rect x="365.70" y="166.20" width="3.80" height="3.80" fill="#f8ff00"/>
<rect x="369.00" y="166.20" width="3.80" height="3.80" fill="#e8ff00"/>
<rect x="372.30" y="166.20" width="3.80" height="3.80" fill="#d0ff00"/>
<rect x="375.60" y="166.20" width="3.80" height="3.80" fill="#c8ff00"/>
<rect x="378.90" y="166.20" width="3.80" height="3.80" fill="#b8ff00"/>
<rect x="382.20" y="166.20" width="3.80" height="3.80" fill="#88ff00"/>
<rect x="385.50" y="166.20" width="3.80" height="3.80" fill="#70ff00"/>
<rect x="388.80" y="166.20" width="3.80" height="3.80" fill="#60ff00"/>
<rect x="392.10" y="166.20" width="3.80" height="3.80" fill="#48ff00"/>
<rect x="395.40" y="166.20" width="3.80" height="3.80" fill="#30ff00"/>
<rect x="398.70" y="166.20" width="3.80" height="3.80" fill="#28ff00"/>
<rect x="402.00" y="166.20" width="3.80" height="3.80" fill="#20ff00"/>
<rect x="405.30" y="166.20" width="3.80" height="3.80" fill="#00ff18"/>
<rect x="408.60" y="166.20" width="3.80" height="3.80" fill="#00ff38"/>
<rect x="411.90" y="166.20" width="3.80" height="3.80" fill="#00ff40"/>
<rect x="415.20" y="166.20" width="3.80" height="3.80" fill="#00ff50"/>
<rect x="418.50" y="166.20" width="3.80" height="3.80" fill="#00ff60"/>
<rect x="421.80" y="166.20" width="3.80" height="3.80" fill="#00ff88"/>
<rect x="425.10" y="166.20" width="3.80" height="3.80" fill="#00ffb0"/>
<rect x="428.40" y="166.20" width="3.80" height="3.80" fill="#00fff8"/>
<rect x="431.70" y="166.20" width="3.80" height="3.80" fill="#00c0ff"/>
<rect x="435.00" y="166.20" width="3.80" height="3.80" fill="#0090ff"/>
<rect x="438.30" y="166.20" width="3.80" height="3.80" fill="#0088ff"/>
<rect x="441.60" y="166.20" width="3.80" height="3.80" fill="#00b0ff"/>
<rect x="444.90" y="166.20" width="3.80" height="3.80" fill="#00d0ff"/>
<rect x="448.20" y="166.20" width="3.80" height="3.80" fill="#00f8ff"/>
<rect x="451.50" y="166.20" width="10.40" height="3.80" fill="#00fff8"/>
<rect x="461.40" y="166.20" width="3.80" height="3.80" fill="#00f8ff"/>
<rect x="464.70" y="166.20" width="3.80" height="3.80" fill="#0080ff"/>
<rect x="468.00" y="166.20" width="3.80" height="3.80" fill="#0008ff"/>
<rect x="471.30" y="166.20" width="3.80" height="3.80" fill="#6000ff"/>
<rect x="491.10" y="166.20" width="3.80" height="3.80" fill="#7000ff"/>
<rect x="494.40" y="166.20" width="3.80" height="3.80" fill="#1800ff"/>
<rect x="497.70" y="166.20" width="3.80" height="3.80" fill="#6800ff"/>
<rect x="527.40" y="166.20" width="3.80" height="3.80" fill="#7000ff"/>
<rect x="530.70" y="166.20" width="3.80" height="3.80" fill="#0000ff"/>
<rect x="534.00" y="166.20" width="10.40" height="3.80" fill="#0010ff"/>
<rect x="543.90" y="166.20" width="3.80" height="3.80" fill="#1000ff"/>
<rect x="547.20" y="166.20" width="3.80" height="3.80" fill="#6000ff"/>
<rect x="355.80" y="169.50" width="3.80" height="3.80" fill="#ffb800"/>
<rect x="359.10" y="169.50" width="3.80" height="3.80" fill="#ffa800"/>
<rect x="362.40" y="169.50" width="3.80" height="3.80" fill="#ffb800"/>
<rect x="365.70" y="169.50" width="3.80" height="3.80" fill="#ffd000"/>
<rect x="369.00" y="169.50" width="3.80" height="3.80" fill="#fff000"/>
<rect x="372.30" y="169.50" width="3.80" height="3.80" fill="#f0ff00"/>
<rect x="375.60" y="169.50" width="3.80" height="3.80" fill="#d8ff00"/>
<rect x="378.90" y="169.50" width="3.80" height="3.80" fill="#d0ff00"/>
<rect x="382.20" y="169.50" width="3.80" height="3.80" fill="#b8ff00"/>
<rect x="385.50" y="169.50" width="3.80" height="3.80" fill="#88ff00"/>
<rect x="388.80" y="169.50" width="3.80" height="3.80" fill="#70ff00"/>
<rect x="392.10" y="169.50" width="3.80" height="3.80" fill="#58ff00"/>
<rect x="395.40" y="169.50" width="3.80" height="3.80" fill="#40ff00"/>
<rect x="398.70" y="169.50" width="7.10" height="3.80" fill="#28ff00"/>
<rect x="405.30" y="169.50" width="3.80" height="3.80" fill="#18ff00"/>
<rect x="408.60" y="169.50" width="3.80" height="3.80" fill="#00ff18"/>
<rect x="411.90" y="169.50" width="3.80" height="3.80" fill="#00ff38"/>
<rect x="415.20" y="169.50" width="3.80" height="3.80" fill="#00ff48"/>
<rect x="418.50" y="169.50" width="3.80" height="3.80" fill="#00ff58"/>
<rect x="421.80" y="169.50" width="3.80" height="3.80" fill="#00ff78"/>
<rect x="425.10" y="169.50" width="3.80" height="3.80" fill="#00ffa0"/>
<rect x="428.40" y="169.50" width="3.80" height="3.80" fill="#00ffe0"/>
<rect x="431.70" y="169.50" width="3.80" height="3.80" fill="#00e0ff"/>
<rect x="435.00" y="169.50" width="3.80" height="3.80" fill="#00b8ff"/>
<rect x="438.30" y="169.50" width="3.80" height="3.80" fill="#0098ff"/>
<rect x="441.60" y="169.50" width="3.80" height="3.80" fill="#00a8ff"/>
<rect x="444.90" y="169.50" width="3.80" height="3.80" fill="#00c8ff"/>
<rect x="448.20" y="169.50" width="3.80" height="3.80" fill="#00f0ff"/>
<rect x="451.50" y="169.50" width="10.40" height="3.80" fill="#00fff8"/>
<rect x="461.40" y="169.50" width="3.80" height="3.80" fill="#00f0ff"/>
<rect x="464.70" y="169.50" width="3.80" height="3.80" fill="#0070ff"/>
<rect x="468.00" y="169.50" width="3.80" height="3.80" fill="#0018ff"/>
<rect x="471.30" y="169.50" width="3.80" height="3.80" fill="#1000ff"/>
<rect x="474.60" y="169.50" width="3.80" height="3.80" fill="#5800ff"/>
<rect x="484.50" y="169.50" width="3.80" height="3.80" fill="#7000ff"/>
<rect x="487.80" y="169.50" width="3.80" height="3.80" fill="#3800ff"/>
<rect x="491.10" y="169.50" width="3.80" height="3.80" fill="#1000ff"/>
<rect x="494.40" y="169.50" width="3.80" height="3.80" fill="#3000ff"/>
<rect x="497.70" y="169.50" width="3.80" height="3.80" fill="#5000ff"/>
<rect x="501.00" y="169.50" width="3.80" height="3.80" fill="#6000ff"/>
<rect x="504.30" y="169.50" width="3.80" height="3.80" fill="#7000ff"/>
<rect x="530.70" y="169.50" width="3.80" height="3.80" fill="#0800ff"/>
<rect x="534.00" y="169.50" width="13.70" height="3.80" fill="#0010ff"/>
<rect x="547.20" y="169.50" width="3.80" height="3.80" fill="#0800ff"/>
<rect x="550.50" y="169.50" width="3.80" height="3.80" fill="#6800ff"/>
<rect x="355.80" y="172.80" width="3.80" height="3.80" fill="#ff8000"/>
<rect x="359.10" y="172.80" width="3.80" height="3.80" fill="#ff7800"/>
<rect x="362.40" y="172.80" width="3.80" height="3.80" fill="#ff8800"/>
<rect x="365.70" y="172.80" width="3.80" height="3.80" fill="#ffa800"/>
<rect x="369.00" y="172.80" width="3.80" height="3.80" fill="#ffc800"/>
<rect x="372.30" y="172.80" width="3.80" height="3.80" fill="#ffe800"/>
<rect x="375.60" y="172.80" width="3.80" height="3.80" fill="#f8ff00"/>
<rect x="378.90" y="172.80" width="3.80" height="3.80" fill="#d8ff00"/>
<rect x="382.20" y="172.80" width="3.80" height="3.80" fill="#d0ff00"/>
<rect x="385.50" y="172.80" width="3.80" height="3.80" fill="#b8ff00"/>
<rect x="388.80" y="172.80" width="3.80" height="3.80" fill="#88ff00"/>
<rect x="392.10" y="172.80" width="3.80" height="3.80" fill="#70ff00"/>
<rect x="395.40" y="172.80" width="3.80" height="3.80" fill="#50ff00"/>
<rect x="398.70" y="172.80" width="3.80" height="3.80" fill="#38ff00"/>
<rect x="402.00" y="172.80" width="7.10" height="3.80" fill="#28ff00"/>
<rect x="408.60" y="172.80" width="3.80" height="3.80" fill="#20ff00"/>
<rect x="411.90" y="172.80" width="3.80" height="3.80" fill="#00ff18"/>
<rect x="415.20" y="172.80" width="3.80" height="3.80" fill="#00ff40"/>
<rect x="418.50" y="172.80" width="3.80" height="3.80" fill="#00ff50"/>
<rect x="421.80" y="172.80" width="3.80" height="3.80" fill="#00ff68"/>
<rect x="425.10" y="172.80" width="3.80" height="3.80" fill="#00ff90"/>
<rect x="428.40" y="172.80" width="3.80" height="3.80" fill="#00ffb8"/>
<rect x="431.70" y="172.80" width="3.80" height="3.80" fill="#00fff8"/>
<rect x="435.00" y="172.80" width="3.80" height="3.80" fill="#00d8ff"/>
<rect x="438.30" y="172.80" width="3.80" height="3.80" fill="#00c0ff"/>
<rect x="441.60" y="172.80" width="3.80" height="3.80" fill="#00b0ff"/>
<rect x="444.90" y="172.80" width="3.80" height="3.80" fill="#00c0ff"/>
<rect x="448.20" y="172.80" width="3.80" height="3.80" fill="#00d8ff"/>
<rect x="451.50" y="172.80" width="3.80" height="3.80" fill="#00f0ff"/>
<rect x="454.80" y="172.80" width="3.80" height="3.80" fill="#00ffff"/>
<rect x="458.10" y="172.80" width="3.80" height="3.80" fill="#00f8ff"/>
<rect x="461.40" y="172.80" width="3.80" height="3.80" fill="#00d0ff"/>
<rect x="464.70" y="172.80" width="3.80" height="3.80" fill="#0058ff"/>
<rect x="468.00" y="172.80" width="3.80" height="3.80" fill="#0018ff"/>
<rect x="471.30" y="172.80" width="3.80" height="3.80" fill="#0010ff"/>
<rect x="474.60" y="172.80" width="3.80" height="3.80" fill="#0008ff"/>
<rect x="477.90" y="172.80" width="7.10" height="3.80" fill="#1000ff"/>
<rect x="484.50" y="172.80" width="3.80" height="3.80" fill="#0000ff"/>
<rect x="487.80" y="172.80" width="3.80" height="3.80" fill="#0010ff"/>
<rect x="491.10" y="172.80" width="3.80" height="3.80" fill="#0018ff"/>
<rect x="494.40" y="172.80" width="7.10" height="3.80" fill="#0028ff"/>
<rect x="501.00" y="172.80" width="3.80" height="3.80" fill="#0018ff"/>
<rect x="504.30" y="172.80" width="3.80" height="3.80" fill="#0000ff"/>
<rect x="507.60" y="172.80" width="3.80" height="3.80" fill="#1000ff"/>
<rect x="510.90" y="172.80" width="3.80" height="3.80" fill="#3800ff"/>
<rect x="514.20" y="172.80" width="3.80" height="3.80" fill="#6000ff"/>
<rect x="530.70" y="172.80" width="3.80" height="3.80" fill="#6000ff"/>
<rect x="534.00" y="172.80" width="3.80" height="3.80" fill="#2800ff"/>
<rect x="537.30" y="172.80" width="3.80" height="3.80" fill="#1800ff"/>
<rect x="540.60" y="172.80" width="3.80" height="3.80" fill="#0008ff"/>
<rect x="543.90" y="172.80" width="3.80" height="3.80" fill="#0010ff"/>
<rect x="547.20" y="172.80" width="3.80" height="3.80" fill="#0008ff"/>
<rect x="550.50" y="172.80" width="3.80" height="3.80" fill="#5000ff"/>
<rect x="355.80" y="176.10" width="7.10" height="3.80" fill="#ff4800"/>
<rect x="362.40" y="176.10" width="3.80" height="3.80" fill="#ff5000"/>
<rect x="365.70" y="176.10" width="3.80" height="3.80" fill="#ff7000"/>
<rect x="369.00" y="176.10" width="3.80" height="3.80" fill="#ff9800"/>
<rect x="372.30" y="176.10" width="3.80" height="3.80" fill="#ffc000"/>
<rect x="375.60" y="176.10" width="3.80" height="3.80" fill="#ffe800"/>
<rect x="378.90" y="176.10" width="3.80" height="3.80" fill="#f8ff00"/>
<rect x="382.20" y="176.10" width="7.10" height="3.80" fill="#d8ff00"/>
<rect x="388.80" y="176.10" width="3.80" height="3.80" fill="#b8ff00"/>
<rect x="392.10" y="176.10" width="3.80" height="3.80" fill="#88ff00"/>
<rect x="395.40" y="176.10" width="3.80" height="3.80" fill="#70ff00"/>
<rect x="398.70" y="176.10" width="3.80" height="3.80" fill="#50ff00"/>
<rect x="402.00" y="176.10" width="3.80" height="3.80" fill="#38ff00"/>
<rect x="405.30" y="176.10" width="7.10" height="3.80" fill="#28ff00"/>
<rect x="411.90" y="176.10" width="3.80" height="3.80" fill="#08ff00"/>
<rect x="415.20" y="176.10" width="3.80" height="3.80" fill="#00ff30"/>
<rect x="418.50" y="176.10" width="3.80" height="3.80" fill="#00ff48"/>
<rect x="421.80" y="176.10" width="3.80" height="3.80" fill="#00ff58"/>
<rect x="425.10" y="176.10" width="3.80" height="3.80" fill="#00ff80"/>
<rect x="428.40" y="176.10" width="3.80" height="3.80" fill="#00ff98"/>
<rect x="431.70" y="176.10" width="3.80" height="3.80" fill="#00ffc8"/>
<rect x="435.00" y="176.10" width="3.80" height="3.80" fill="#00fff8"/>
<rect x="438.30" y="176.10" width="3.80" height="3.80" fill="#00e0ff"/>
<rect x="441.60" y="176.10" width="3.80" height="3.80" fill="#00c8ff"/>
<rect x="444.90" y="176.10" width="7.10" height="3.80" fill="#00b8ff"/>
<rect x="451.50" y="176.10" width="3.80" height="3.80" fill="#00d0ff"/>
<rect x="454.80" y="176.10" width="3.80" height="3.80" fill="#00d8ff"/>
<rect x="458.10" y="176.10" width="3.80" height="3.80" fill="#00c8ff"/>
<rect x="461.40" y="176.10" width="3.80" height="3.80" fill="#0098ff"/>
<rect x="464.70" y="176.10" width="3.80" height="3.80" fill="#0040ff"/>
<rect x="468.00" y="176.10" width="3.80" height="3.80" fill="#0018ff"/>
<rect x="471.30" y="176.10" width="17.00" height="3.80" fill="#0010ff"/>
<rect x="487.80" y="176.10" width="3.80" height="3.80" fill="#0018ff"/>
<rect x="491.10" y="176.10" width="3.80" height="3.80" fill="#0040ff"/>
<rect x="494.40" y="176.10" width="3.80" height="3.80" fill="#0070ff"/>
<rect x="497.70" y="176.10" width="3.80" height="3.80" fill="#0078ff"/>
<rect x="501.00" y="176.10" width="3.80" height="3.80" fill="#0060ff"/>
<rect x="504.30" y="176.10" width="3.80" height="3.80" fill="#0028ff"/>
<rect x="507.60" y="176.10" width="7.10" height="3.80" fill="#0010ff"/>
<rect x="514.20" y="176.10" width="3.80" height="3.80" fill="#0008ff"/>
<rect x="517.50" y="176.10" width="3.80" height="3.80" fill="#1000ff"/>
<rect x="520.80" y="176.10" width="3.80" height="3.80" fill="#4000ff"/>
<rect x="537.30" y="176.10" width="3.80" height="3.80" fill="#7000ff"/>
<rect x="540.60" y="176.10" width="3.80" height="3.80" fill="#0800ff"/>
<rect x="543.90" y="176.10" width="3.80" height="3.80" fill="#0008ff"/>
<rect x="547.20" y="176.10" width="3.80" height="3.80" fill="#3000ff"/>
<rect x="355.80" y="179.40" width="3.80" height="3.80" fill="#ff1000"/>
<rect x="359.10" y="179.40" width="3.80" height="3.80" fill="#ff0800"/>
<rect x="362.40" y="179.40" width="3.80" height="3.80" fill="#ff2000"/>
<rect x="365.70" y="179.40" width="3.80" height="3.80" fill="#ff4000"/>
<rect x="369.00" y="179.40" width="3.80" height="3.80" fill="#ff6800"/>
<rect x="372.30" y="179.40" width="3.80" height="3.80" fill="#ff9800"/>
<rect x="375.60" y="179.40" width="3.80" height="3.80" fill="#ffc800"/>
<rect x="378.90" y="179.40" width="3.80" height="3.80" fill="#fff000"/>
<rect x="382.20" y="179.40" width="3.80" height="3.80" fill="#f0ff00"/>
<rect x="385.50" y="179.40" width="3.80" height="3.80" fill="#d8ff00"/>
<rect x="388.80" y="179.40" width="3.80" height="3.80" fill="#e0ff00"/>
<rect x="392.10" y="179.40" width="3.80" height="3.80" fill="#c0ff00"/>
<rect x="395.40" y="179.40" width="3.80" height="3.80" fill="#88ff00"/>
<rect x="398.70" y="179.40" width="3.80" height="3.80" fill="#68ff00"/>
<rect x="402.00" y="179.40" width="3.80" height="3.80" fill="#48ff00"/>
<rect x="405.30" y="179.40" width="3.80" height="3.80" fill="#30ff00"/>
<rect x="408.60" y="179.40" width="3.80" height="3.80" fill="#28ff00"/>
<rect x="411.90" y="179.40" width="3.80" height="3.80" fill="#18ff00"/>
<rect x="415.20" y="179.40" width="3.80" height="3.80" fill="#00ff28"/>
<rect x="418.50" y="179.40" width="3.80" height="3.80" fill="#00ff40"/>
<rect x="421.80" y="179.40" width="3.80" height="3.80" fill="#00ff58"/>
<rect x="425.10" y="179.40" width="3.80" height="3.80" fill="#00ff78"/>
<rect x="428.40" y="179.40" width="3.80" height="3.80" fill="#00ff90"/>
<rect x="431.70" y="179.40" width="3.80" height="3.80" fill="#00ff98"/>
<rect x="435.00" y="179.40" width="3.80" height="3.80" fill="#00ffc8"/>
<rect x="438.30" y="179.40" width="3.80" height="3.80" fill="#00fff8"/>
<rect x="441.60" y="179.40" width="3.80" height="3.80" fill="#00e0ff"/>
<rect x="444.90" y="179.40" width="3.80" height="3.80" fill="#00c0ff"/>
<rect x="448.20" y="179.40" width="7.10" height="3.80" fill="#00a0ff"/>
<rect x="454.80" y="179.40" width="3.80" height="3.80" fill="#0098ff"/>
<rect x="458.10" y="179.40" width="3.80" height="3.80" fill="#0070ff"/>
<rect x="461.40" y="179.40" width="3.80" height="3.80" fill="#0050ff"/>
<rect x="464.70" y="179.40" width="3.80" height="3.80" fill="#0030ff"/>
<rect x="468.00" y="179.40" width="3.80" height="3.80" fill="#0020ff"/>
<rect x="471.30" y="179.40" width="20.30" height="3.80" fill="#0010ff"/>
<rect x="491.10" y="179.40" width="3.80" height="3.80" fill="#0020ff"/>
<rect x="494.40" y="179.40" width="3.80" height="3.80" fill="#0040ff"/>
<rect x="497.70" y="179.40" width="3.80" height="3.80" fill="#0048ff"/>
<rect x="501.00" y="179.40" width="3.80" height="3.80" fill="#0038ff"/>
<rect x="504.30" y="179.40" width="3.80" height="3.80" fill="#0020ff"/>
<rect x="507.60" y="179.40" width="3.80" height="3.80" fill="#0010ff"/>
<rect x="510.90" y="179.40" width="3.80" height="3.80" fill="#0028ff"/>
<rect x="514.20" y="179.40" width="3.80" height="3.80" fill="#0048ff"/>
<rect x="517.50" y="179.40" width="3.80" height="3.80" fill="#0020ff"/>
<rect x="520.80" y="179.40" width="3.80" height="3.80" fill="#0010ff"/>
<rect x="524.10" y="179.40" width="3.80" height="3.80" fill="#1800ff"/>
<rect x="537.30" y="179.40" width="3.80" height="3.80" fill="#3000ff"/>
<rect x="540.60" y="179.40" width="3.80" height="3.80" fill="#0000ff"/>
<rect x="543.90" y="179.40" width="3.80" height="3.80" fill="#5800ff"/>
<rect x="355.80" y="182.70" width="10.40" height="3.80" fill="#ff0000"/>
<rect x="365.70" y="182.70" width="3.80" height="3.80" fill="#ff1000"/>
<rect x="369.00" y="182.70" width="3.80" height="3.80" fill="#ff4000"/>
<rect x="372.30" y="182.70" width="3.80" height="3.80" fill="#ff7800"/>
<rect x="375.60" y="182.70" width="3.80" height="3.80" fill="#ffa800"/>
<rect x="378.90" y="182.70" width="3.80" height="3.80" fill="#ffd800"/>
<rect x="382.20" y="182.70" width="3.80" height="3.80" fill="#ffff00"/>
<rect x="385.50" y="182.70" width="3.80" height="3.80" fill="#e8ff00"/>
<rect x="388.80" y="182.70" width="3.80" height="3.80" fill="#e0ff00"/>
<rect x="392.10" y="182.70" width="3.80" height="3.80" fill="#d8ff00"/>
<rect x="395.40" y="182.70" width="3.80" height="3.80" fill="#a8ff00"/>
<rect x="398.70" y="182.70" width="3.80" height="3.80" fill="#70ff00"/>
<rect x="402.00" y="182.70" width="3.80" height="3.80" fill="#50ff00"/>
<rect x="405.30" y="182.70" width="3.80" height="3.80" fill="#30ff00"/>
<rect x="408.60" y="182.70" width="3.80" height="3.80" fill="#28ff00"/>
<rect x="411.90" y="182.70" width="3.80" height="3.80" fill="#08ff00"/>
<rect x="415.20" y="182.70" width="3.80" height="3.80" fill="#00ff30"/>
<rect x="418.50" y="182.70" width="3.80" height="3.80" fill="#00ff40"/>
<rect x="421.80" y="182.70" width="3.80" height="3.80" fill="#00ff50"/>
<rect x="425.10" y="182.70" width="3.80" height="3.80" fill="#00ff78"/>
<rect x="428.40" y="182.70" width="7.10" height="3.80" fill="#00ff90"/>
<rect x="435.00" y="182.70" width="3.80" height="3.80" fill="#00ff98"/>
<rect x="438.30" y="182.70" width="3.80" height="3.80" fill="#00ffc8"/>
<rect x="441.60" y="182.70" width="3.80" height="3.80" fill="#00fff8"/>
<rect x="444.90" y="182.70" width="3.80" height="3.80" fill="#00d0ff"/>
<rect x="448.20" y="182.70" width="3.80" height="3.80" fill="#00a0ff"/>
<rect x="451.50" y="182.70" width="3.80" height="3.80" fill="#0070ff"/>
<rect x="454.80" y="182.70" width="3.80" height="3.80" fill="#0050ff"/>
<rect x="458.10" y="182.70" width="3.80" height="3.80" fill="#0048ff"/>
<rect x="461.40" y="182.70" width="3.80" height="3.80" fill="#0068ff"/>
<rect x="464.70" y="182.70" width="3.80" height="3.80" fill="#0050ff"/>
<rect x="468.00" y="182.70" width="3.80" height="3.80" fill="#0038ff"/>
<rect x="471.30" y="182.70" width="3.80" height="3.80" fill="#0028ff"/>
<rect x="474.60" y="182.70" width="10.40" height="3.80" fill="#0020ff"/>
<rect x="484.50" y="182.70" width="7.10" height="3.80" fill="#0010ff"/>
<rect x="491.10" y="182.70" width="3.80" height="3.80" fill="#0000ff"/>
<rect x="494.40" y="182.70" width="7.10" height="3.80" fill="#2800ff"/>
<rect x="501.00" y="182.70" width="3.80" height="3.80" fill="#0800ff"/>
<rect x="504.30" y="182.70" width="10.40" height="3.80" fill="#0010ff"/>
<rect x="514.20" y="182.70" width="3.80" height="3.80" fill="#0020ff"/>
<rect x="517.50" y="182.70" width="3.80" height="3.80" fill="#0018ff"/>
<rect x="520.80" y="182.70" width="3.80" height="3.80" fill="#0010ff"/>
<rect x="524.10" y="182.70" width="3.80" height="3.80" fill="#0000ff"/>
<rect x="527.40" y="182.70" width="3.80" height="3.80" fill="#6800ff"/>
<rect x="534.00" y="182.70" width="3.80" height="3.80" fill="#7000ff"/>
<rect x="537.30" y="182.70" width="3.80" height="3.80" fill="#0800ff"/>
<rect x="540.60" y="182.70" width="3.80" height="3.80" fill="#3000ff"/>
<rect x="355.80" y="186.00" width="13.70" height="3.80" fill="#ff0000"/>
<rect x="369.00" y="186.00" width="3.80" height="3.80" fill="#ff2000"/>
<rect x="372.30" y="186.00" width="3.80" height="3.80" fill="#ff5800"/>
<rect x="375.60" y="186.00" width="3.80" height="3.80" fill="#ff9000"/>
<rect x="378.90" y="186.00" width="3.80" height="3.80" fill="#ffc000"/>
<rect x="382.20" y="186.00" width="3.80" height="3.80" fill="#ffe800"/>
<rect x="385.50" y="186.00" width="3.80" height="3.80" fill="#f8ff00"/>
<rect x="388.80" y="186.00" width="7.10" height="3.80" fill="#e0ff00"/>
<rect x="395.40" y="186.00" width="3.80" height="3.80" fill="#b0ff00"/>
<rect x="398.70" y="186.00" width="3.80" height="3.80" fill="#70ff00"/>
<rect x="402.00" y="186.00" width="3.80" height="3.80" fill="#50ff00"/>
<rect x="405.30" y="186.00" width="3.80" height="3.80" fill="#30ff00"/>
<rect x="408.60" y="186.00" width="3.80" height="3.80" fill="#28ff00"/>
<rect x="411.90" y="186.00" width="3.80" height="3.80" fill="#08ff00"/>
<rect x="415.20" y="186.00" width="3.80" height="3.80" fill="#00ff30"/>
<rect x="418.50" y="186.00" width="3.80" height="3.80" fill="#00ff40"/>
<rect x="421.80" y="186.00" width="3.80" height="3.80" fill="#00ff48"/>
<rect x="425.10" y="186.00" width="3.80" height="3.80" fill="#00ff60"/>
<rect x="428.40" y="186.00" width="10.40" height="3.80" fill="#00ff90"/>
<rect x="438.30" y="186.00" width="3.80" height="3.80" fill="#00ff98"/>
<rect x="441.60" y="186.00" width="3.80" height="3.80" fill="#00ffc8"/>
<rect x="444.90" y="186.00" width="3.80" height="3.80" fill="#00f8ff"/>
<rect x="448.20" y="186.00" width="3.80" height="3.80" fill="#00b0ff"/>
<rect x="451.50" y="186.00" width="3.80" height="3.80" fill="#0070ff"/>
<rect x="454.80" y="186.00" width="3.80" height="3.80" fill="#0040ff"/>
<rect x="458.10" y="186.00" width="3.80" height="3.80" fill="#0050ff"/>
<rect x="461.40" y="186.00" width="3.80" height="3.80" fill="#0098ff"/>
<rect x="464.70" y="186.00" width="3.80" height="3.80" fill="#0090ff"/>
<rect x="468.00" y="186.00" width="3.80" height="3.80" fill="#0068ff"/>
<rect x="471.30" y="186.00" width="3.80" height="3.80" fill="#0048ff"/>
<rect x="474.60" y="186.00" width="3.80" height="3.80" fill="#0040ff"/>
<rect x="477.90" y="186.00" width="3.80" height="3.80" fill="#0048ff"/>
<rect x="481.20" y="186.00" width="3.80" height="3.80" fill="#0040ff"/>
<rect x="484.50" y="186.00" width="3.80" height="3.80" fill="#0028ff"/>
<rect x="487.80" y="186.00" width="3.80" height="3.80" fill="#0008ff"/>
<rect x="491.10" y="186.00" width="3.80" height="3.80" fill="#5000ff"/>
<rect x="501.00" y="186.00" width="3.80" height="3.80" fill="#5800ff"/>
<rect x="504.30" y="186.00" width="3.80" height="3.80" fill="#0000ff"/>
<rect x="507.60" y="186.00" width="3.80" height="3.80" fill="#3000ff"/>
<rect x="510.90" y="186.00" width="3.80" height="3.80" fill="#6000ff"/>
<rect x="514.20" y="186.00" width="3.80" height="3.80" fill="#5000ff"/>
<rect x="517.50" y="186.00" width="3.80" height="3.80" fill="#0000ff"/>
<rect x="520.80" y="186.00" width="3.80" height="3.80" fill="#0010ff"/>
<rect x="524.10" y="186.00" width="3.80" height="3.80" fill="#2800ff"/>
<rect x="534.00" y="186.00" width="3.80" height="3.80" fill="#7000ff"/>
<rect x="537.30" y="186.00" width="3.80" height="3.80" fill="#2000ff"/>
<rect x="540.60" y="186.00" width="3.80" height="3.80" fill="#7000ff"/>
<rect x="355.80" y="189.30" width="13.70" height="3.80" fill="#ff0000"/>
<rect x="369.00" y="189.30" width="3.80" height="3.80" fill="#ff0800"/>
<rect x="372.30" y="189.30" width="3.80" height="3.80" fill="#ff4000"/>
<rect x="375.60" y="189.30" width="3.80" height="3.80" fill="#ff7800"/>
<rect x="378.90" y="189.30" width="3.80" height="3.80" fill="#ffb000"/>
<rect x="382.20" y="189.30" width="3.80" height="3.80" fill="#ffe000"/>
<rect x="385.50" y="189.30" width="3.80" height="3.80" fill="#f8ff00"/>
<rect x="388.80" y="189.30" width="7.10" height="3.80" fill="#e0ff00"/>
<rect x="395.40" y="189.30" width="3.80" height="3.80" fill="#b0ff00"/>
<rect x="398.70" y="189.30" width="3.80" height="3.80" fill="#70ff00"/>
<rect x="402.00" y="189.30" width="3.80" height="3.80" fill="#50ff00"/>
<rect x="405.30" y="189.30" width="3.80" height="3.80" fill="#30ff00"/>
<rect x="408.60" y="189.30" width="3.80" height="3.80" fill="#28ff00"/>
<rect x="411.90" y="189.30" width="3.80" height="3.80" fill="#20ff00"/>
<rect x="415.20" y="189.30" width="3.80" height="3.80" fill="#00ff10"/>
<rect x="418.50" y="189.30" width="3.80" height="3.80" fill="#00ff38"/>
<rect x="421.80" y="189.30" width="3.80" height="3.80" fill="#00ff48"/>
<rect x="425.10" y="189.30" width="3.80" height="3.80" fill="#00ff58"/>
<rect x="428.40" y="189.30" width="3.80" height="3.80" fill="#00ff88"/>
<rect x="431.70" y="189.30" width="10.40" height="3.80" fill="#00ff90"/>
<rect x="441.60" y="189.30" width="3.80" height="3.80" fill="#00ffa0"/>
<rect x="444.90" y="189.30" width="3.80" height="3.80" fill="#00ffe8"/>
<rect x="448.20" y="189.30" width="3.80" height="3.80" fill="#00c0ff"/>
<rect x="451.50" y="189.30" width="3.80" height="3.80" fill="#0078ff"/>
<rect x="454.80" y="189.30" width="7.10" height="3.80" fill="#0048ff"/>
<rect x="461.40" y="189.30" width="3.80" height="3.80" fill="#0090ff"/>
<rect x="464.70" y="189.30" width="3.80" height="3.80" fill="#00a8ff"/>
<rect x="468.00" y="189.30" width="3.80" height="3.80" fill="#00a0ff"/>
<rect x="471.30" y="189.30" width="3.80" height="3.80" fill="#0090ff"/>
<rect x="474.60" y="189.30" width="10.40" height="3.80" fill="#0088ff"/>
<rect x="484.50" y="189.30" width="3.80" height="3.80" fill="#0058ff"/>
<rect x="487.80" y="189.30" width="3.80" height="3.80" fill="#0018ff"/>
<rect x="491.10" y="189.30" width="3.80" height="3.80" fill="#1800ff"/>
<rect x="494.40" y="189.30" width="7.10" height="3.80" fill="#5000ff"/>
<rect x="501.00" y="189.30" width="3.80" height="3.80" fill="#2000ff"/>
<rect x="504.30" y="189.30" width="3.80" height="3.80" fill="#2800ff"/>
<rect x="514.20" y="189.30" width="3.80" height="3.80" fill="#6800ff"/>
<rect x="517.50" y="189.30" width="7.10" height="3.80" fill="#0800ff"/>
<rect x="524.10" y="189.30" width="3.80" height="3.80" fill="#7000ff"/>
<rect x="355.80" y="192.60" width="17.00" height="3.80" fill="#ff0000"/>
<rect x="372.30" y="192.60" width="3.80" height="3.80" fill="#ff3800"/>
<rect x="375.60" y="192.60" width="3.80" height="3.80" fill="#ff7000"/>
<rect x="378.90" y="192.60" width="3.80" height="3.80" fill="#ffa800"/>
<rect x="382.20" y="192.60" width="3.80" height="3.80" fill="#ffd800"/>
<rect x="385.50" y="192.60" width="3.80" height="3.80" fill="#f8ff00"/>
<rect x="388.80" y="192.60" width="7.10" height="3.80" fill="#d8ff00"/>
<rect x="395.40" y="192.60" width="3.80" height="3.80" fill="#a0ff00"/>
<rect x="398.70" y="192.60" width="3.80" height="3.80" fill="#70ff00"/>
<rect x="402.00" y="192.60" width="3.80" height="3.80" fill="#58ff00"/>
<rect x="405.30" y="192.60" width="3.80" height="3.80" fill="#38ff00"/>
<rect x="408.60" y="192.60" width="7.10" height="3.80" fill="#28ff00"/>
<rect x="415.20" y="192.60" width="3.80" height="3.80" fill="#08ff00"/>
<rect x="418.50" y="192.60" width="3.80" height="3.80" fill="#00ff30"/>
<rect x="421.80" y="192.60" width="3.80" height="3.80" fill="#00ff48"/>
<rect x="425.10" y="192.60" width="3.80" height="3.80" fill="#00ff58"/>
<rect x="428.40" y="192.60" width="3.80" height="3.80" fill="#00ff80"/>
<rect x="431.70" y="192.60" width="10.40" height="3.80" fill="#00ff90"/>
<rect x="441.60" y="192.60" width="3.80" height="3.80" fill="#00ffa8"/>
<rect x="444.90" y="192.60" width="3.80" height="3.80" fill="#00fff0"/>
<rect x="448.20" y="192.60" width="3.80" height="3.80" fill="#00c0ff"/>
<rect x="451.50" y="192.60" width="3.80" height="3.80" fill="#0080ff"/>
<rect x="454.80" y="192.60" width="3.80" height="3.80" fill="#0050ff"/>
<rect x="458.10" y="192.60" width="3.80" height="3.80" fill="#0040ff"/>
<rect x="461.40" y="192.60" width="3.80" height="3.80" fill="#0070ff"/>
<rect x="464.70" y="192.60" width="3.80" height="3.80" fill="#00a0ff"/>
<rect x="468.00" y="192.60" width="3.80" height="3.80" fill="#0098ff"/>
<rect x="471.30" y="192.60" width="3.80" height="3.80" fill="#0078ff"/>
<rect x="474.60" y="192.60" width="10.40" height="3.80" fill="#0058ff"/>
<rect x="484.50" y="192.60" width="3.80" height="3.80" fill="#0048ff"/>
<rect x="487.80" y="192.60" width="3.80" height="3.80" fill="#0018ff"/>
<rect x="491.10" y="192.60" width="3.80" height="3.80" fill="#0010ff"/>
<rect x="494.40" y="192.60" width="7.10" height="3.80" fill="#0008ff"/>
<rect x="501.00" y="192.60" width="3.80" height="3.80" fill="#0010ff"/>
<rect x="504.30" y="192.60" width="3.80" height="3.80" fill="#0000ff"/>
<rect x="507.60" y="192.60" width="3.80" height="3.80" fill="#3000ff"/>
<rect x="510.90" y="192.60" width="3.80" height="3.80" fill="#2800ff"/>
<rect x="514.20" y="192.60" width="3.80" height="3.80" fill="#0800ff"/>
<rect x="517.50" y="192.60" width="3.80" height="3.80" fill="#0010ff"/>
<rect x="520.80" y="192.60" width="3.80" height="3.80" fill="#4000ff"/>
<rect x="355.80" y="195.90" width="17.00" height="3.80" fill="#ff0000"/>
<rect x="372.30" y="195.90" width="3.80" height="3.80" fill="#ff4000"/>
<rect x="375.60" y="195.90" width="3.80" height="3.80" fill="#ff7800"/>
<rect x="378.90" y="195.90" width="3.80" height="3.80" fill="#ffb000"/>
<rect x="382.20" y="195.90" width="3.80" height="3.80" fill="#ffe000"/>
<rect x="385.50" y="195.90" width="3.80" height="3.80" fill="#f8ff00"/>
<rect x="388.80" y="195.90" width="7.10" height="3.80" fill="#d8ff00"/>
<rect x="395.40" y="195.90" width="3.80" height="3.80" fill="#98ff00"/>
<rect x="398.70" y="195.90" width="3.80" height="3.80" fill="#70ff00"/>
<rect x="402.00" y="195.90" width="3.80" height="3.80" fill="#50ff00"/>
<rect x="405.30" y="195.90" width="3.80" height="3.80" fill="#38ff00"/>
<rect x="408.60" y="195.90" width="7.10" height="3.80" fill="#28ff00"/>
<rect x="415.20" y="195.90" width="3.80" height="3.80" fill="#08ff00"/>
<rect x="418.50" y="195.90" width="3.80" height="3.80" fill="#00ff38"/>
<rect x="421.80" y="195.90" width="3.80" height="3.80" fill="#00ff48"/>
<rect x="425.10" y="195.90" width="3.80" height="3.80" fill="#00ff60"/>
<rect x="428.40" y="195.90" width="3.80" height="3.80" fill="#00ff88"/>
<rect x="431.70" y="195.90" width="3.80" height="3.80" fill="#00ffa0"/>
<rect x="435.00" y="195.90" width="3.80" height="3.80" fill="#00ffb8"/>
<rect x="438.30" y="195.90" width="3.80" height="3.80" fill="#00ffc8"/>
<rect x="441.60" y="195.90" width="3.80" height="3.80" fill="#00ffe8"/>
<rect x="444.90" y="195.90" width="3.80" height="3.80" fill="#00d8ff"/>
<rect x="448.20" y="195.90" width="3.80" height="3.80" fill="#0090ff"/>
<rect x="451.50" y="195.90" width="3.80" height="3.80" fill="#0068ff"/>
<rect x="454.80" y="195.90" width="3.80" height="3.80" fill="#0050ff"/>
<rect x="458.10" y="195.90" width="3.80" height="3.80" fill="#0038ff"/>
<rect x="461.40" y="195.90" width="3.80" height="3.80" fill="#0040ff"/>
<rect x="464.70" y="195.90" width="3.80" height="3.80" fill="#0058ff"/>
<rect x="468.00" y="195.90" width="3.80" height="3.80" fill="#0050ff"/>
<rect x="471.30" y="195.90" width="3.80" height="3.80" fill="#0040ff"/>
<rect x="474.60" y="195.90" width="3.80" height="3.80" fill="#0030ff"/>
<rect x="477.90" y="195.90" width="7.10" height="3.80" fill="#0028ff"/>
<rect x="484.50" y="195.90" width="3.80" height="3.80" fill="#0020ff"/>
<rect x="487.80" y="195.90" width="30.20" height="3.80" fill="#0010ff"/>
<rect x="517.50" y="195.90" width="3.80" height="3.80" fill="#0008ff"/>
<rect x="520.80" y="195.90" width="3.80" height="3.80" fill="#6000ff"/>
<rect x="355.80" y="199.20" width="13.70" height="3.80" fill="#ff0000"/>
<rect x="369.00" y="199.20" width="3.80" height="3.80" fill="#ff1000"/>
<rect x="372.30" y="199.20" width="3.80" height="3.80" fill="#ff4800"/>
<rect x="375.60" y="199.20" width="3.80" height="3.80" fill="#ff8000"/>
<rect x="378.90" y="199.20" width="3.80" height="3.80" fill="#ffb800"/>
<rect x="382.20" y="199.20" width="3.80" height="3.80" fill="#ffe800"/>
<rect x="385.50" y="199.20" width="3.80" height="3.80" fill="#f0ff00"/>
<rect x="388.80" y="199.20" width="3.80" height="3.80" fill="#d8ff00"/>
<rect x="392.10" y="199.20" width="3.80" height="3.80" fill="#d0ff00"/>
<rect x="395.40" y="199.20" width="3.80" height="3.80" fill="#90ff00"/>
<rect x="398.70" y="199.20" width="3.80" height="3.80" fill="#68ff00"/>
<rect x="402.00" y="199.20" width="3.80" height="3.80" fill="#50ff00"/>
<rect x="405.30" y="199.20" width="3.80" height="3.80" fill="#38ff00"/>
<rect x="408.60" y="199.20" width="7.10" height="3.80" fill="#28ff00"/>
<rect x="415.20" y="199.20" width="3.80" height="3.80" fill="#00ff08"/>
<rect x="418.50" y="199.20" width="3.80" height="3.80" fill="#00ff38"/>
<rect x="421.80" y="199.20" width="3.80" height="3.80" fill="#00ff50"/>
<rect x="425.10" y="199.20" width="3.80" height="3.80" fill="#00ff68"/>
<rect x="428.40" y="199.20" width="3.80" height="3.80" fill="#00ff98"/>
<rect x="431.70" y="199.20" width="3.80" height="3.80" fill="#00ffd8"/>
<rect x="435.00" y="199.20" width="3.80" height="3.80" fill="#00fff8"/>
<rect x="438.30" y="199.20" width="3.80" height="3.80" fill="#00f0ff"/>
<rect x="441.60" y="199.20" width="3.80" height="3.80" fill="#00d0ff"/>
<rect x="444.90" y="199.20" width="3.80" height="3.80" fill="#00a0ff"/>
<rect x="448.20" y="199.20" width="3.80" height="3.80" fill="#0060ff"/>
<rect x="451.50" y="199.20" width="3.80" height="3.80" fill="#0040ff"/>
<rect x="454.80" y="199.20" width="3.80" height="3.80" fill="#0038ff"/>
<rect x="458.10" y="199.20" width="7.10" height="3.80" fill="#0030ff"/>
<rect x="464.70" y="199.20" width="7.10" height="3.80" fill="#0038ff"/>
<rect x="471.30" y="199.20" width="3.80" height="3.80" fill="#0030ff"/>
<rect x="474.60" y="199.20" width="7.10" height="3.80" fill="#0020ff"/>
<rect x="481.20" y="199.20" width="3.80" height="3.80" fill="#0018ff"/>
<rect x="484.50" y="199.20" width="33.50" height="3.80" fill="#0010ff"/>
<rect x="517.50" y="199.20" width="3.80" height="3.80" fill="#0000ff"/>
<rect x="520.80" y="199.20" width="3.80" height="3.80" fill="#7000ff"/></g><path d="M381.6 2.6 L381.6 3.4 L381.5 4.1 L381.5 4.9 L381.4 5.4 L381.1 5.9 L380.7 6.2 L380.2 6.4 L379.7 6.6 L378.9 6.7 L378.4 6.6 L377.8 6.4 L377.4 6.1 L377.0 5.6 L376.8 5.1 L376.8 4.4 L376.8 3.6 L376.8 2.9 L376.8 2.6 M417.3 2.6 L417.3 3.4 L417.3 4.1 L417.3 4.9 L417.2 5.4 L416.9 5.9 L416.4 6.3 L415.9 6.5 L415.4 6.6 L414.7 6.7 L414.2 6.6 L413.6 6.4 L413.1 6.1 L412.7 5.8 L412.4 5.3 L412.3 4.6 L412.3 3.9 L412.3 3.1 L412.3 2.6 M469.1 2.6 L469.1 3.4 L469.1 4.1 L469.2 4.6 L469.5 5.1 L469.7 5.6 L469.9 6.1 L470.0 6.9 L470.0 7.6 L469.9 8.1 L469.7 8.9 L469.6 9.4 L469.5 10.1 L469.4 10.7 L469.3 11.4 L469.2 12.0 L469.1 12.6 L469.0 13.4 L468.9 13.9 L468.9 14.6 L469.1 15.1 L469.4 15.4 L469.9 15.7 L470.4 15.9 L470.9 16.2 L471.4 16.4 L471.9 16.7 L472.4 17.0 L472.9 17.3 L473.4 17.5 L473.9 17.7 L474.4 17.9 L474.9 18.2 L475.5 18.4 L476.1 18.6 L476.6 18.9 L477.2 19.1 L477.7 19.3 L478.2 19.5 L478.7 19.8 L479.2 20.0 L479.7 20.2 L480.2 20.4 L480.7 20.6 L481.4 20.9 L481.9 21.0 L482.7 21.1 L483.2 21.3 L483.7 21.6 L484.0 21.9 L484.4 22.3 L484.7 22.6 L485.0 23.1 L485.2 23.6 L485.3 24.4 L485.4 25.1 L485.5 25.6 L485.7 26.3 L485.9 26.8 L486.2 27.3 L486.4 27.8 L486.7 28.3 L486.9 28.9 L487.0 29.4 L487.1 30.1 L487.2 30.6 L487.2 31.4 L487.1 31.9 L487.1 32.6 L487.0 33.4 L487.0 34.1 L486.8 34.6 L486.6 35.1 L486.3 35.6 L485.9 36.0 L485.5 36.4 L485.1 36.6 L484.7 36.9 L484.2 37.3 L483.7 37.6 L483.4 37.9 L482.9 38.2 L482.4 38.5 L482.0 38.9 L481.6 39.1 L481.2 39.5 L480.7 39.8 L480.2 40.1 L479.9 40.4 L479.4 40.7 L478.9 41.0 L478.4 41.3 L477.9 41.4 L477.2 41.5 L476.4 41.4 L475.9 41.4 L475.4 41.4 L474.7 41.5 L473.9 41.5 L473.3 41.6 L472.7 41.7 L471.9 41.8 L471.2 41.8 L470.7 41.9 L469.9 42.0 L469.3 42.1 L468.7 42.3 L468.1 42.4 L467.4 42.5 L466.9 42.7 L466.2 42.8 L465.7 42.9 L465.2 43.2 L465.0 43.9 L465.0 44.6 L465.0 45.4 L464.8 45.9 L464.7 46.6 L464.5 47.1 L464.2 47.6 L464.0 48.1 L463.7 48.6 L463.5 49.1 L463.2 49.6 L462.9 49.9 L462.4 50.3 L462.0 50.6 L461.7 51.1 L461.6 51.6 L461.6 52.4 L461.7 52.9 L461.8 53.6 L461.9 54.4 L462.0 54.9 L462.0 55.6 L462.0 56.4 L461.8 56.9 L461.6 57.4 L461.3 57.9 L460.9 58.3 L460.5 58.6 L460.1 58.9 L459.4 59.1 L458.9 59.2 L458.2 59.2 L457.7 59.1 L457.1 58.9 L456.7 58.6 L456.2 58.2 L455.8 57.9 L455.5 57.4 L455.3 56.9 L455.1 56.4 L455.1 55.6 L455.0 54.9 L455.0 54.1 L455.0 53.4 L454.9 52.9 L454.8 52.1 L454.7 51.4 L454.6 50.9 L454.4 50.2 L454.0 49.9 L453.7 49.9 L452.9 50.1 L452.4 50.3 L451.9 50.5 L451.4 50.7 L450.8 50.9 L450.2 51.1 L449.7 51.3 L449.2 51.4 L448.7 51.7 L448.0 51.9 L447.4 52.0 L446.7 52.0 L445.9 51.9 L445.4 51.7 L444.9 51.5 L444.4 51.3 L443.9 51.0 L443.6 50.6 L443.2 50.2 L442.8 49.9 L442.5 49.4 L442.3 48.9 L442.1 48.4 L441.9 47.9 L441.8 47.1 L441.8 46.4 L441.9 45.8 L442.1 45.1 L442.4 44.6 L442.7 44.1 L442.9 43.8 L443.3 43.4 L443.7 43.0 L444.2 42.6 L444.6 42.4 L445.1 42.1 L445.7 41.9 L446.2 41.8 L446.9 41.7 L447.4 41.6 L448.0 41.4 L448.7 41.2 L449.2 40.9 L449.7 40.8 L450.2 40.6 L450.8 40.4 L451.4 40.2 L451.9 39.9 L452.4 39.7 L452.9 39.5 L453.4 39.3 L453.9 39.1 L454.7 39.0 L455.4 38.9 L455.9 38.8 L456.4 38.6 L456.9 38.3 L457.4 38.1 L457.9 37.9 L458.4 37.6 L458.9 37.3 L459.4 37.1 L460.2 37.0 L460.9 37.0 L461.7 36.9 L462.2 36.8 L462.9 36.7 L463.4 36.5 L464.1 36.4 L464.7 36.2 L465.3 36.1 L465.9 36.0 L466.4 35.8 L466.9 35.6 L467.4 35.4 L468.2 35.3 L468.9 35.3 L469.4 35.4 L470.2 35.4 L470.7 35.3 L471.4 35.2 L472.2 35.2 L472.7 35.1 L473.4 35.0 L474.2 35.0 L474.8 34.9 L475.4 34.7 L475.9 34.6 L476.4 34.3 L476.9 34.0 L477.3 33.6 L477.4 33.1 L477.4 32.6 L477.3 31.9 L477.2 31.4 L477.1 30.6 L477.2 30.1 L477.3 29.4 L477.5 28.9 L477.7 28.3 L477.9 27.7 L478.1 27.1 L477.8 26.6 L477.3 26.4 L476.8 26.1 L476.2 25.9 L475.7 25.7 L475.2 25.4 L474.7 25.2 L474.2 25.0 L473.7 24.8 L473.2 24.6 L472.4 24.5 L471.9 24.4 L471.3 24.1 L470.9 23.9 L470.4 23.5 L470.0 23.1 L469.7 22.8 L469.2 22.5 L468.7 22.2 L468.2 22.0 L467.4 22.0 L466.9 22.2 L466.4 22.5 L465.9 22.8 L465.4 22.9 L464.7 23.0 L463.9 23.0 L463.2 22.9 L462.7 22.8 L462.2 22.6 L461.7 22.4 L461.2 22.0 L460.8 21.6 L460.4 21.2 L460.2 20.8 L459.9 20.4 L459.6 19.9 L459.4 19.4 L459.2 18.6 L459.1 18.1 L459.2 17.4 L459.3 16.9 L459.4 16.4 L459.7 15.8 L459.9 15.3 L460.2 14.9 L460.6 14.4 L460.9 14.1 L461.4 13.7 L461.8 13.4 L462.1 12.9 L462.2 12.4 L462.3 11.6 L462.5 11.1 L462.6 10.4 L462.7 9.8 L462.8 9.1 L462.9 8.4 L463.0 7.9 L463.1 7.1 L463.1 6.4 L463.3 5.9 L463.5 5.4 L463.8 4.9 L464.0 4.4 L464.0 3.6 L464.0 2.9 L464.1 2.6 M513.0 2.6 L513.1 3.4 L513.1 4.1 L513.4 4.6 L513.9 4.7 L514.7 4.7 L515.4 4.8 L516.2 4.8 L516.9 4.8 L517.7 4.8 L518.4 4.8 L519.2 4.7 L519.9 4.7 L520.6 4.6 L520.9 4.3 L521.0 3.6 L521.1 2.9 L521.1 2.6 M522.8 2.6 L522.8 3.4 L522.9 4.1 L523.1 4.6 L523.4 5.0 L523.8 5.4 L524.2 5.9 L524.4 6.4 L524.5 6.9 L524.5 7.6 L524.3 8.1 L524.0 8.6 L523.7 9.0 L523.2 9.4 L522.7 9.6 L522.2 9.7 L521.4 9.7 L520.7 9.8 L519.9 9.8 L519.2 9.8 L518.4 9.8 L517.7 9.8 L516.9 9.8 L516.2 9.8 L515.4 9.8 L514.7 9.8 L513.9 9.8 L513.2 9.7 L512.4 9.7 L511.7 9.7 L511.2 9.5 L510.7 9.2 L510.3 8.9 L509.9 8.4 L509.7 7.9 L509.6 7.4 L509.6 6.6 L509.8 6.1 L510.1 5.6 L510.4 5.3 L510.8 4.9 L511.2 4.4 L511.3 3.9 L511.3 3.1 L511.3 2.6 M544.8 2.6 L544.8 3.4 L544.8 4.1 L544.9 4.9 L545.1 5.4 L545.4 5.9 L545.6 6.4 L545.9 6.8 L546.2 7.3 L546.4 7.7 L546.7 8.2 L547.0 8.6 L547.2 9.1 L547.5 9.6 L547.8 10.1 L548.0 10.6 L548.3 11.1 L548.6 11.6 L548.8 12.1 L549.0 12.6 L549.2 13.1 L549.3 13.9 L549.3 14.6 L549.2 15.2 L549.0 15.9 L548.8 16.4 L548.6 16.9 L548.4 17.5 L548.2 18.1 L548.0 18.6 L547.9 19.1 L547.7 19.8 L547.5 20.4 L547.3 20.9 L547.1 21.4 L546.9 22.0 L546.7 22.6 L546.6 23.1 L546.4 23.6 L546.2 24.4 L546.0 24.9 L545.7 25.4 L545.4 25.7 L545.0 26.1 L544.7 26.5 L544.2 26.8 L543.8 27.1 L543.4 27.5 L543.1 27.9 L542.7 28.3 L542.3 28.6 L541.9 29.0 L541.5 29.4 L541.2 29.8 L540.8 30.1 L540.4 30.5 L540.1 30.9 L539.7 31.3 L539.3 31.6 L538.9 32.1 L538.7 32.4 L538.3 32.9 L537.9 33.2 L537.5 33.6 L537.1 33.9 L536.5 34.1 L535.9 34.2 L535.2 34.2 L534.7 34.1 L534.2 33.8 L533.7 33.5 L533.3 33.1 L532.9 32.7 L532.7 32.3 L532.4 31.7 L532.3 31.1 L532.4 30.4 L532.5 29.9 L532.7 29.4 L533.1 28.9 L533.4 28.5 L533.8 28.1 L534.2 27.8 L534.7 27.5 L535.0 27.1 L535.4 26.7 L535.8 26.4 L536.2 26.0 L536.5 25.6 L536.9 25.2 L537.3 24.9 L537.7 24.5 L538.0 24.1 L538.4 23.7 L538.8 23.4 L539.2 23.0 L539.5 22.6 L539.9 22.1 L540.2 21.7 L540.4 21.3 L540.7 20.7 L540.9 20.1 L541.0 19.6 L541.2 19.1 L541.4 18.5 L541.6 17.9 L541.8 17.4 L542.0 16.9 L542.2 16.2 L542.4 15.6 L542.5 15.1 L542.7 14.6 L542.7 13.9 L542.4 13.4 L542.2 12.9 L541.9 12.5 L541.7 12.0 L541.4 11.6 L541.1 11.1 L540.9 10.6 L540.6 10.1 L540.3 9.6 L540.0 9.1 L539.7 8.7 L539.4 8.4 L539.0 7.9 L538.7 7.4 L538.5 6.9 L538.4 6.4 L538.4 5.6 L538.5 5.1 L538.5 4.4 L538.5 3.6 L538.5 2.9 L538.5 2.6 M361.1 4.6 L361.4 4.6 L362.2 4.8 L362.7 5.0 L363.2 5.3 L363.5 5.6 L363.9 6.0 L364.2 6.4 L364.4 6.9 L364.5 7.6 L364.4 8.4 L364.2 8.9 L363.9 9.2 L363.5 9.6 L363.2 9.9 L362.7 10.2 L362.2 10.4 L361.4 10.5 L360.7 10.4 L360.2 10.3 L359.7 10.1 L359.2 9.8 L358.7 9.4 L358.4 9.1 L358.2 8.6 L357.9 7.9 L357.9 7.5 L358.1 6.9 L358.3 6.4 L358.6 5.9 L358.9 5.6 L359.4 5.3 L359.9 5.0 L360.4 4.8 L361.1 4.6 L361.1 4.6Z M431.9 4.9 L432.7 4.8 L433.4 4.9 L433.9 5.1 L434.3 5.4 L434.7 5.8 L434.9 6.1 L435.2 6.6 L435.3 7.4 L435.2 7.9 L434.9 8.4 L434.4 8.9 L434.0 9.1 L433.5 9.4 L432.9 9.5 L432.2 9.5 L431.7 9.3 L431.2 9.1 L430.7 8.7 L430.4 8.4 L430.2 7.9 L430.1 7.1 L430.2 6.6 L430.4 6.1 L430.8 5.6 L431.2 5.3 L431.7 5.0 L431.9 4.9Z M427.4 9.4 L427.9 9.3 L428.7 9.3 L429.2 9.4 L429.8 9.6 L430.3 9.9 L430.7 10.1 L431.2 10.5 L431.5 10.9 L431.8 11.4 L432.0 11.9 L432.2 12.4 L432.3 13.1 L432.2 13.9 L432.1 14.4 L431.9 14.9 L431.6 15.4 L431.3 15.9 L430.9 16.2 L430.4 16.5 L429.9 16.9 L429.6 17.1 L429.2 17.5 L428.8 17.9 L428.4 18.2 L427.9 18.5 L427.6 18.9 L427.2 19.2 L426.7 19.6 L426.3 19.9 L425.9 20.2 L425.5 20.6 L425.2 20.9 L424.7 21.3 L424.3 21.6 L423.9 22.0 L423.4 22.3 L423.1 22.6 L422.7 23.0 L422.3 23.4 L421.9 23.7 L421.5 24.1 L421.2 24.5 L420.7 24.8 L420.2 25.0 L419.7 25.2 L419.2 25.4 L418.4 25.5 L417.7 25.4 L417.2 25.2 L416.7 25.0 L416.2 24.8 L415.7 24.4 L415.3 24.1 L415.0 23.6 L414.7 23.1 L414.5 22.6 L414.4 22.1 L414.3 21.4 L414.4 20.6 L414.6 20.1 L414.8 19.6 L415.1 19.1 L415.4 18.8 L415.9 18.4 L416.3 18.1 L416.8 17.9 L417.2 17.6 L417.7 17.2 L418.1 16.9 L418.5 16.6 L418.9 16.2 L419.3 15.9 L419.7 15.6 L420.2 15.2 L420.5 14.9 L420.9 14.5 L421.4 14.1 L421.7 13.9 L422.2 13.5 L422.6 13.1 L422.9 12.8 L423.4 12.5 L423.8 12.1 L424.2 11.7 L424.5 11.4 L424.9 10.9 L425.2 10.5 L425.7 10.1 L426.1 9.9 L426.6 9.6 L427.2 9.4 L427.4 9.4Z M438.4 13.1 L438.9 13.0 L439.7 13.0 L440.2 13.2 L440.8 13.4 L441.2 13.6 L441.7 14.1 L441.9 14.6 L442.1 15.1 L442.1 15.9 L441.9 16.5 L441.7 17.1 L441.4 17.5 L440.9 17.8 L440.4 18.0 L439.9 18.2 L439.2 18.3 L438.4 18.1 L437.9 17.9 L437.4 17.7 L437.1 17.4 L436.7 16.9 L436.5 16.4 L436.3 15.9 L436.4 15.1 L436.6 14.6 L436.9 14.1 L437.2 13.8 L437.7 13.4 L438.2 13.2 L438.4 13.1Z M365.5 14.6 L366.2 14.5 L366.9 14.5 L367.7 14.5 L368.2 14.6 L368.9 14.9 L369.4 15.1 L369.9 15.4 L370.3 15.6 L370.7 15.9 L371.1 16.4 L371.4 16.9 L371.7 17.3 L371.9 17.8 L372.2 18.4 L372.3 18.9 L372.4 19.4 L372.5 20.1 L372.5 20.9 L372.5 21.6 L372.4 22.1 L372.2 22.7 L371.9 23.2 L371.7 23.7 L371.3 24.1 L370.9 24.6 L370.6 24.9 L370.1 25.1 L369.4 25.4 L368.9 25.5 L368.3 25.6 L367.7 25.7 L366.9 25.6 L366.4 25.4 L365.9 25.2 L365.4 25.0 L365.0 24.6 L364.6 24.4 L364.2 24.0 L363.8 23.6 L363.4 23.1 L363.2 22.7 L362.9 22.2 L362.7 21.6 L362.6 21.1 L362.4 20.6 L362.3 19.9 L362.3 19.1 L362.4 18.4 L362.5 17.9 L362.7 17.4 L363.0 16.9 L363.3 16.4 L363.7 16.0 L364.1 15.6 L364.4 15.3 L364.9 14.9 L365.4 14.7 L365.5 14.6Z M502.2 16.6 L502.7 16.5 L503.4 16.6 L503.9 16.7 L504.4 17.0 L504.9 17.3 L505.3 17.6 L505.7 17.9 L506.2 18.3 L506.6 18.6 L506.9 18.9 L507.4 19.3 L507.8 19.6 L508.2 19.9 L508.7 20.3 L509.1 20.6 L509.4 20.9 L509.9 21.3 L510.3 21.6 L510.7 21.9 L511.2 22.3 L511.6 22.6 L511.9 22.9 L512.4 23.3 L512.8 23.6 L513.2 24.1 L513.4 24.5 L513.7 25.1 L513.8 25.6 L513.7 26.4 L513.6 26.9 L513.3 27.4 L513.0 27.9 L512.7 28.2 L512.2 28.5 L511.7 28.8 L511.2 28.9 L510.4 29.0 L509.9 28.9 L509.3 28.6 L508.9 28.4 L508.4 28.0 L508.1 27.6 L507.7 27.3 L507.3 26.9 L506.9 26.6 L506.4 26.2 L506.0 25.9 L505.7 25.6 L505.2 25.2 L504.8 24.9 L504.4 24.6 L503.9 24.2 L503.5 23.9 L503.2 23.6 L502.7 23.3 L502.2 23.0 L501.7 22.7 L501.2 22.4 L500.8 22.1 L500.4 21.6 L500.2 21.2 L499.9 20.6 L499.8 20.1 L499.8 19.4 L499.9 18.9 L500.2 18.3 L500.4 17.9 L500.8 17.4 L501.2 17.1 L501.7 16.8 L502.2 16.6Z M386.4 21.6 L387.2 21.5 L387.7 21.6 L388.4 21.9 L388.9 22.1 L389.2 22.4 L389.5 22.9 L389.7 23.4 L389.8 24.1 L389.7 24.9 L389.4 25.4 L389.2 25.7 L388.7 26.0 L388.2 26.2 L387.7 26.4 L386.9 26.5 L386.4 26.4 L385.8 26.1 L385.4 25.9 L384.9 25.4 L384.7 24.9 L384.6 24.4 L384.6 23.6 L384.8 23.1 L385.0 22.6 L385.4 22.1 L385.8 21.9 L386.4 21.6 L386.4 21.6Z M520.5 23.6 L521.2 23.5 L521.7 23.7 L522.2 23.9 L522.7 24.2 L523.2 24.6 L523.4 24.9 L523.7 25.4 L523.8 26.1 L523.7 26.9 L523.6 27.4 L523.3 27.9 L522.9 28.2 L522.4 28.6 L521.9 28.8 L521.4 29.0 L520.7 29.0 L520.2 28.8 L519.7 28.6 L519.2 28.2 L518.8 27.9 L518.5 27.4 L518.4 26.9 L518.3 26.1 L518.4 25.4 L518.7 24.9 L518.9 24.6 L519.4 24.2 L519.9 23.9 L520.4 23.7 L520.5 23.6Z M445.4 24.6 L445.9 24.5 L446.7 24.6 L447.2 24.8 L447.7 25.1 L448.0 25.4 L448.4 25.9 L448.7 26.4 L448.8 26.9 L448.8 27.6 L448.7 28.1 L448.4 28.6 L448.0 29.1 L447.7 29.4 L447.2 29.7 L446.7 29.9 L445.9 30.0 L445.4 29.9 L444.7 29.6 L444.3 29.4 L443.9 29.0 L443.7 28.6 L443.4 28.1 L443.3 27.4 L443.4 26.6 L443.5 26.1 L443.8 25.6 L444.2 25.3 L444.7 24.9 L445.2 24.7 L445.4 24.6Z M353.9 36.0 L354.7 36.0 L355.4 36.0 L356.1 35.9 L356.7 35.8 L357.4 35.9 L357.9 36.1 L358.3 36.4 L358.7 36.8 L358.9 37.4 L359.0 37.9 L358.9 38.6 L358.7 39.1 L358.4 39.4 L357.9 39.8 L357.4 40.0 L356.7 40.0 L355.9 40.0 L355.2 40.0 L354.4 40.0 L353.9 40.0 M527.3 36.9 L527.9 36.7 L528.7 36.8 L529.2 36.9 L529.7 37.3 L530.0 37.6 L530.2 38.1 L530.3 38.9 L530.2 39.6 L529.9 40.1 L529.7 40.4 L529.2 40.7 L528.7 40.9 L527.9 40.9 L527.4 40.8 L526.9 40.5 L526.6 40.1 L526.3 39.6 L526.1 39.1 L526.2 38.4 L526.4 37.9 L526.7 37.4 L526.9 37.1 L527.3 36.9Z M410.9 37.1 L411.4 37.0 L412.2 37.0 L412.7 37.1 L413.4 37.4 L413.9 37.6 L414.4 37.9 L414.7 38.1 L415.2 38.6 L415.4 38.9 L415.7 39.4 L415.9 39.9 L416.2 40.6 L416.3 41.1 L416.3 41.9 L416.2 42.4 L415.9 43.1 L415.7 43.6 L415.4 44.1 L415.2 44.5 L414.9 45.1 L414.7 45.6 L414.6 46.1 L414.4 46.6 L414.2 47.2 L413.9 47.8 L413.7 48.4 L413.6 48.9 L413.4 49.4 L413.2 50.1 L413.1 50.6 L412.9 51.4 L412.7 51.9 L412.5 52.4 L412.2 52.9 L411.9 53.2 L411.5 53.6 L411.2 53.9 L410.7 54.2 L410.2 54.4 L409.5 54.6 L408.9 54.7 L408.2 54.7 L407.6 54.6 L406.9 54.4 L406.4 54.2 L405.9 53.9 L405.6 53.6 L405.2 53.2 L404.9 52.9 L404.6 52.4 L404.4 51.9 L404.2 51.4 L404.1 50.6 L404.1 49.9 L404.2 49.4 L404.4 48.8 L404.7 48.3 L404.9 47.7 L405.2 47.2 L405.4 46.6 L405.6 46.1 L405.7 45.6 L405.9 45.1 L406.2 44.4 L406.4 43.9 L406.5 43.4 L406.7 42.9 L406.9 42.2 L407.1 41.6 L407.3 41.1 L407.4 40.5 L407.7 39.9 L407.9 39.4 L408.2 38.9 L408.4 38.6 L408.9 38.1 L409.2 37.9 L409.7 37.6 L410.2 37.4 L410.9 37.1 L410.9 37.1Z M511.0 37.4 L511.7 37.2 L512.4 37.4 L512.9 37.6 L513.4 37.8 L513.8 38.1 L514.1 38.6 L514.2 39.1 L514.3 39.9 L514.2 40.4 L513.9 40.9 L513.6 41.4 L513.2 41.7 L512.7 42.0 L512.2 42.2 L511.4 42.2 L510.9 42.1 L510.4 41.8 L509.9 41.4 L509.7 41.0 L509.4 40.5 L509.2 39.9 L509.3 39.1 L509.5 38.6 L509.8 38.1 L510.2 37.8 L510.7 37.5 L511.0 37.4Z M385.9 43.1 L386.7 43.0 L387.4 43.1 L387.9 43.3 L388.4 43.5 L388.8 43.9 L389.2 44.4 L389.4 44.9 L389.6 45.4 L389.7 45.9 L389.6 46.4 L389.4 46.9 L389.2 47.4 L388.8 47.9 L388.4 48.2 L387.9 48.5 L387.4 48.7 L386.7 48.8 L385.9 48.6 L385.4 48.4 L385.0 48.1 L384.7 47.8 L384.3 47.4 L384.0 46.9 L383.9 46.4 L383.8 45.6 L384.0 45.1 L384.2 44.6 L384.5 44.1 L384.9 43.7 L385.4 43.4 L385.9 43.1 L385.9 43.1Z M522.6 43.4 L523.2 43.3 L523.9 43.3 L524.7 43.3 L525.2 43.4 L525.7 43.6 L526.3 43.9 L526.7 44.1 L527.2 44.5 L527.5 44.9 L527.9 45.2 L528.4 45.6 L528.8 45.9 L529.4 46.0 L530.2 46.0 L530.9 46.0 L531.6 46.1 L532.2 46.2 L532.9 46.2 L533.6 46.1 L534.2 46.0 L534.9 46.1 L535.4 46.2 L535.9 46.5 L536.3 46.9 L536.7 47.4 L536.9 47.9 L537.0 48.4 L537.0 49.1 L536.8 49.6 L536.5 50.1 L536.2 50.5 L535.7 50.9 L535.2 51.1 L534.7 51.2 L533.9 51.2 L533.4 51.1 L532.7 51.0 L531.9 51.0 L531.2 50.9 L530.7 50.9 L530.1 50.9 L529.7 51.3 L529.6 51.9 L529.7 52.5 L529.8 53.1 L529.9 53.6 L530.2 54.3 L530.4 54.9 L530.5 55.4 L530.5 56.1 L530.5 56.9 L530.4 57.4 L530.2 58.0 L529.9 58.4 L529.6 58.9 L529.2 59.4 L528.8 59.6 L528.4 59.9 L527.9 60.2 L527.4 60.4 L526.9 60.7 L526.4 60.9 L525.7 61.1 L525.2 61.2 L524.4 61.2 L523.7 61.2 L523.2 61.1 L522.6 60.9 L522.1 60.6 L521.7 60.4 L521.2 60.0 L520.8 59.6 L520.4 59.2 L520.1 58.9 L519.8 58.4 L519.5 57.9 L519.3 57.4 L519.2 56.9 L519.1 56.1 L519.0 55.4 L519.0 54.6 L518.9 54.0 L518.8 53.4 L518.8 52.6 L518.7 52.0 L518.6 51.4 L518.5 50.6 L518.4 50.1 L518.3 49.4 L518.3 48.6 L518.4 47.9 L518.5 47.4 L518.7 46.8 L518.9 46.3 L519.2 45.9 L519.6 45.4 L519.9 45.0 L520.3 44.6 L520.7 44.3 L521.2 44.0 L521.7 43.7 L522.2 43.5 L522.6 43.4Z M483.9 50.6 L484.4 50.5 L485.2 50.6 L485.7 50.9 L486.0 51.1 L486.4 51.5 L486.7 51.9 L486.9 52.4 L487.2 52.9 L487.7 53.3 L488.1 53.6 L488.4 54.0 L488.4 54.6 L488.2 55.0 L487.7 55.4 L487.2 55.6 L486.7 55.7 L485.9 55.8 L485.2 55.8 L484.4 55.7 L483.7 55.6 L483.2 55.4 L482.7 55.1 L482.4 54.9 L482.1 54.4 L481.9 53.9 L481.8 53.1 L481.9 52.4 L482.2 51.9 L482.4 51.5 L482.8 51.1 L483.2 50.9 L483.9 50.6 L483.9 50.6Z M423.9 52.1 L424.7 52.0 L425.2 52.1 L425.9 52.4 L426.2 52.6 L426.7 53.1 L426.9 53.6 L427.0 54.1 L427.0 54.9 L426.8 55.4 L426.4 55.8 L426.1 56.1 L425.7 56.4 L425.2 56.6 L424.4 56.7 L423.7 56.7 L423.1 56.6 L422.4 56.4 L422.0 56.1 L421.7 55.8 L421.4 55.4 L421.3 54.6 L421.6 54.1 L421.9 53.7 L422.2 53.4 L422.7 52.9 L423.0 52.6 L423.4 52.3 L423.9 52.1 L423.9 52.1Z M369.4 53.4 L369.9 53.3 L370.7 53.3 L371.2 53.4 L371.7 53.7 L372.2 54.0 L372.5 54.4 L372.9 54.8 L373.2 55.2 L373.4 55.8 L373.5 56.4 L373.5 57.1 L373.4 57.6 L373.1 58.1 L372.8 58.6 L372.4 59.0 L372.0 59.4 L371.6 59.6 L371.0 59.9 L370.4 60.0 L369.7 60.0 L368.9 60.0 L368.2 60.0 L367.4 60.0 L366.7 60.0 L366.1 60.1 L365.4 60.2 L364.7 60.2 L363.9 60.3 L363.2 60.3 L362.4 60.3 L361.9 60.4 L361.2 60.5 L360.4 60.4 L359.9 60.2 L359.4 60.0 L358.9 59.6 L358.7 59.4 L358.3 58.9 L358.1 58.4 L357.9 57.9 L357.8 57.1 L357.9 56.6 L358.2 55.9 L358.4 55.5 L358.7 55.1 L359.2 54.7 L359.7 54.4 L360.2 54.2 L360.7 54.1 L361.4 54.0 L362.2 54.0 L362.9 54.0 L363.7 54.0 L364.4 54.0 L365.2 53.9 L365.7 53.8 L366.4 53.8 L367.2 53.7 L367.9 53.7 L368.5 53.6 L369.2 53.4 L369.4 53.4Z M445.4 53.6 L445.9 53.5 L446.7 53.6 L447.2 53.8 L447.7 54.1 L448.1 54.4 L448.4 54.7 L448.7 55.2 L448.8 55.9 L448.7 56.6 L448.6 57.1 L448.4 57.7 L448.2 58.2 L447.8 58.6 L447.4 58.9 L446.9 59.2 L446.4 59.4 L445.7 59.4 L445.2 59.2 L444.7 58.9 L444.4 58.6 L443.9 58.1 L443.7 57.6 L443.6 57.1 L443.4 56.5 L443.3 55.9 L443.4 55.2 L443.7 54.7 L444.0 54.4 L444.4 54.1 L444.9 53.8 L445.4 53.6Z M378.8 55.6 L379.4 55.5 L380.2 55.5 L380.9 55.6 L381.4 55.8 L381.8 56.1 L382.2 56.6 L382.4 57.0 L382.7 57.6 L382.8 58.1 L382.8 58.9 L382.7 59.4 L382.4 59.9 L382.0 60.4 L381.7 60.7 L381.2 61.0 L380.7 61.1 L379.9 61.2 L379.4 61.1 L378.7 60.9 L378.3 60.6 L377.9 60.2 L377.7 59.9 L377.4 59.4 L377.3 58.6 L377.4 57.9 L377.5 57.4 L377.7 56.9 L378.0 56.4 L378.4 55.9 L378.8 55.6 L378.8 55.6Z M507.4 55.9 L507.9 55.8 L508.7 55.8 L509.2 55.9 L509.7 56.1 L510.3 56.4 L510.7 56.6 L511.2 57.0 L511.5 57.4 L511.9 57.9 L512.1 58.4 L512.2 58.9 L512.3 59.6 L512.2 60.4 L512.1 60.9 L511.9 61.4 L511.6 61.9 L511.3 62.4 L510.9 62.7 L510.4 63.0 L509.9 63.3 L509.5 63.6 L509.1 63.9 L508.7 64.3 L508.3 64.6 L507.9 65.0 L507.5 65.4 L507.2 65.7 L506.8 66.1 L506.4 66.4 L505.9 66.8 L505.6 67.1 L505.2 67.5 L504.8 67.9 L504.4 68.2 L504.0 68.6 L503.7 68.9 L503.2 69.3 L502.8 69.6 L502.4 70.0 L502.1 70.4 L501.7 70.7 L501.3 71.1 L500.9 71.5 L500.5 71.9 L500.2 72.2 L499.9 72.6 L499.5 73.1 L499.2 73.4 L498.7 73.8 L498.2 74.0 L497.7 74.2 L497.2 74.4 L496.4 74.5 L495.7 74.4 L495.2 74.2 L494.7 74.0 L494.2 73.8 L493.7 73.4 L493.3 73.1 L493.0 72.6 L492.7 72.1 L492.5 71.6 L492.4 71.1 L492.3 70.4 L492.4 69.6 L492.6 69.1 L492.8 68.6 L493.1 68.1 L493.4 67.8 L493.9 67.4 L494.2 67.1 L494.7 66.8 L495.1 66.4 L495.5 66.1 L495.9 65.7 L496.3 65.4 L496.7 65.0 L497.1 64.6 L497.4 64.3 L497.8 63.9 L498.2 63.6 L498.7 63.2 L499.0 62.9 L499.4 62.5 L499.8 62.1 L500.2 61.8 L500.6 61.4 L500.9 61.1 L501.4 60.7 L501.8 60.4 L502.2 60.0 L502.6 59.6 L502.9 59.3 L503.3 58.9 L503.7 58.5 L504.2 58.1 L504.5 57.9 L504.9 57.4 L505.2 57.0 L505.7 56.6 L506.1 56.4 L506.6 56.1 L507.2 55.9 L507.4 55.9Z M477.9 63.9 L478.4 63.8 L479.2 63.9 L479.7 64.0 L480.2 64.3 L480.5 64.6 L480.9 65.1 L481.2 65.6 L481.3 66.1 L481.3 66.9 L481.2 67.4 L480.9 67.9 L480.5 68.4 L480.2 68.7 L479.7 69.0 L479.2 69.1 L478.4 69.2 L477.9 69.1 L477.2 68.9 L476.8 68.6 L476.4 68.2 L476.2 67.9 L475.9 67.4 L475.8 66.6 L475.9 65.9 L476.0 65.4 L476.3 64.9 L476.7 64.5 L477.2 64.2 L477.7 63.9 L477.9 63.9Z M353.9 66.8 L354.7 66.8 L355.4 66.8 L356.2 66.8 L356.7 66.9 L357.4 67.0 L358.2 67.0 L358.8 67.1 L359.4 67.3 L359.9 67.4 L360.5 67.6 L361.1 67.9 L361.6 68.1 L362.2 68.3 L362.7 68.6 L363.2 68.8 L363.7 69.1 L364.2 69.3 L364.6 69.6 L365.0 69.9 L365.4 70.2 L365.9 70.5 L366.4 70.8 L366.8 71.1 L367.2 71.5 L367.6 71.9 L367.9 72.2 L368.4 72.6 L368.7 72.9 L369.2 73.3 L369.4 73.7 L369.8 74.1 L370.1 74.6 L370.4 75.1 L370.7 75.5 L370.9 75.9 L371.2 76.4 L371.6 76.9 L371.9 77.3 L372.2 77.7 L372.5 78.1 L372.7 78.6 L373.0 79.1 L373.2 79.6 L373.5 80.1 L373.8 80.6 L374.0 81.1 L374.3 81.6 L374.4 82.1 L374.6 82.9 L374.7 83.4 L374.8 84.1 L374.8 84.9 L374.7 85.5 L374.5 86.1 L374.3 86.6 L374.1 87.1 L373.9 87.7 L373.7 88.2 L373.4 88.8 L373.2 89.3 L373.0 89.9 L372.9 90.4 L372.9 91.1 L373.0 91.6 L373.3 92.1 L373.7 92.5 L374.1 92.9 L374.4 93.2 L374.9 93.6 L375.4 93.9 L375.8 94.1 L376.4 94.4 L376.9 94.6 L377.4 94.7 L378.2 94.8 L378.7 94.9 L379.4 95.0 L380.2 95.0 L380.9 95.0 L381.7 94.9 L382.2 94.8 L382.9 94.6 L383.4 94.4 L383.9 94.2 L384.4 94.0 L384.9 93.8 L385.4 93.5 L385.9 93.2 L386.3 92.9 L386.7 92.6 L387.2 92.2 L387.6 91.9 L388.0 91.6 L388.4 91.3 L388.9 90.9 L389.4 90.6 L389.9 90.4 L390.4 90.2 L390.9 89.9 L391.4 89.7 L391.9 89.6 L392.7 89.6 L393.2 89.7 L393.9 89.8 L394.4 90.0 L394.9 90.2 L395.6 90.4 L396.2 90.5 L396.9 90.5 L397.7 90.4 L398.2 90.1 L398.4 89.9 L398.7 89.4 L399.0 88.9 L399.2 88.2 L399.2 87.6 L399.2 87.1 L398.9 86.4 L398.7 85.9 L398.4 85.5 L398.0 85.1 L397.7 84.8 L397.2 84.4 L396.9 84.1 L396.4 83.8 L395.9 83.4 L395.6 83.1 L395.2 82.7 L394.8 82.4 L394.4 81.9 L394.2 81.6 L393.9 81.1 L393.6 80.6 L393.4 80.1 L393.2 79.4 L393.1 78.9 L393.1 78.1 L393.1 77.4 L393.1 76.6 L393.2 75.9 L393.4 75.4 L393.6 74.9 L393.9 74.4 L394.1 73.9 L394.4 73.4 L394.6 72.9 L394.9 72.4 L395.2 72.0 L395.4 71.5 L395.7 70.9 L395.8 70.4 L395.9 69.9 L396.0 69.1 L395.8 68.6 L395.5 68.1 L395.2 67.7 L394.9 67.4 L394.5 66.9 L394.2 66.5 L393.8 66.1 L393.4 65.8 L393.0 65.4 L392.7 65.0 L392.3 64.6 L391.9 64.3 L391.4 63.9 L391.2 63.5 L390.9 62.9 L390.8 62.4 L390.8 61.6 L391.0 61.1 L391.4 60.6 L391.7 60.4 L392.2 60.0 L392.7 59.7 L393.2 59.5 L393.7 59.3 L394.4 59.2 L395.2 59.2 L395.9 59.4 L396.4 59.6 L396.9 59.9 L397.3 60.1 L397.8 60.4 L398.2 60.6 L398.7 60.9 L399.2 61.3 L399.5 61.6 L399.9 62.0 L400.4 62.4 L400.7 62.6 L401.2 63.0 L401.6 63.4 L401.9 63.7 L402.4 64.1 L402.8 64.4 L403.2 64.7 L403.6 65.1 L403.9 65.4 L404.4 65.7 L404.9 66.1 L405.4 66.3 L405.9 66.6 L406.3 66.9 L406.8 67.1 L407.3 67.4 L407.9 67.6 L408.4 67.7 L409.2 67.7 L409.7 67.6 L410.2 67.2 L410.4 66.6 L410.5 66.1 L410.6 65.4 L410.6 64.6 L410.8 64.1 L411.2 63.8 L411.7 63.6 L412.4 63.6 L412.9 63.8 L413.4 64.1 L413.9 64.3 L414.4 64.6 L414.7 64.9 L415.2 65.2 L415.7 65.5 L416.2 65.8 L416.7 66.1 L417.1 66.4 L417.5 66.6 L417.9 66.9 L418.4 67.2 L418.9 67.5 L419.4 67.7 L419.9 67.9 L420.5 68.1 L421.2 68.4 L421.7 68.5 L422.4 68.5 L423.2 68.5 L423.9 68.5 L424.7 68.5 L425.4 68.5 L426.2 68.4 L426.7 68.3 L427.2 68.1 L427.7 67.9 L428.4 67.7 L428.9 67.5 L429.4 67.3 L429.9 67.1 L430.4 66.8 L430.9 66.6 L431.5 66.4 L432.1 66.1 L432.7 66.0 L433.2 65.8 L433.9 65.7 L434.4 65.6 L435.2 65.4 L435.7 65.3 L436.4 65.2 L436.9 65.1 L437.7 65.1 L438.2 65.2 L438.9 65.3 L439.5 65.4 L440.2 65.5 L440.7 65.6 L441.4 65.9 L441.9 66.1 L442.4 66.3 L442.9 66.6 L443.2 66.9 L443.5 67.4 L443.8 67.9 L443.9 68.4 L444.0 69.1 L443.9 69.6 L443.8 70.4 L443.6 70.9 L443.4 71.4 L443.1 71.9 L442.8 72.4 L442.4 72.7 L441.9 73.1 L441.4 73.2 L440.8 73.4 L440.2 73.5 L439.7 73.7 L438.9 73.8 L438.4 73.9 L437.7 74.0 L436.9 74.0 L436.2 74.1 L435.7 74.2 L434.9 74.3 L434.4 74.4 L433.7 74.6 L433.2 74.8 L432.7 75.0 L432.2 75.3 L431.7 75.6 L431.3 75.9 L430.9 76.2 L430.4 76.5 L430.1 76.9 L429.7 77.3 L429.3 77.6 L429.0 78.1 L428.7 78.6 L428.4 79.0 L428.2 79.4 L427.8 79.9 L427.5 80.4 L427.3 80.9 L427.1 81.4 L427.0 82.1 L426.9 82.6 L426.9 83.4 L427.1 83.9 L427.3 84.4 L427.6 84.9 L427.9 85.2 L428.4 85.6 L428.7 85.9 L429.1 86.4 L429.4 86.7 L429.9 87.1 L430.3 87.4 L430.7 87.7 L431.2 88.1 L431.5 88.4 L431.9 88.9 L432.2 89.2 L432.6 89.6 L432.9 90.0 L433.3 90.4 L433.7 90.7 L434.1 91.1 L434.4 91.4 L434.9 91.6 L435.7 91.7 L436.2 91.6 L436.7 91.4 L437.2 91.1 L437.7 90.7 L438.0 90.4 L438.4 90.0 L438.8 89.6 L439.2 89.2 L439.4 88.8 L439.8 88.4 L440.2 88.0 L440.5 87.6 L440.9 87.2 L441.2 86.8 L441.6 86.4 L442.0 86.1 L442.4 85.8 L442.9 85.6 L443.4 85.3 L443.9 85.1 L444.4 84.8 L444.9 84.6 L445.4 84.4 L446.2 84.3 L446.9 84.2 L447.7 84.2 L448.2 84.0 L448.9 83.9 L449.4 83.8 L450.2 83.6 L450.7 83.4 L451.2 83.2 L451.6 82.9 L451.9 82.6 L452.3 82.1 L452.6 81.6 L452.9 81.1 L453.1 80.6 L453.2 80.1 L453.3 79.4 L453.2 78.6 L453.1 78.1 L452.9 77.4 L452.7 76.9 L452.4 76.5 L452.0 76.1 L451.7 75.8 L451.2 75.4 L450.9 75.1 L450.4 74.8 L449.9 74.6 L449.4 74.3 L448.9 74.1 L448.4 73.9 L447.8 73.6 L447.4 73.4 L446.9 73.0 L446.6 72.6 L446.3 72.1 L446.0 71.6 L445.8 71.1 L445.7 70.6 L445.6 69.9 L445.6 69.1 L445.8 68.6 L446.0 68.1 L446.3 67.6 L446.7 67.1 L446.9 66.8 L447.4 66.4 L447.9 66.1 L448.3 65.9 L448.9 65.6 L449.4 65.5 L450.1 65.4 L450.7 65.3 L451.4 65.2 L452.2 65.2 L452.7 65.1 L453.4 65.0 L454.2 65.0 L454.7 64.9 L455.4 64.7 L455.9 64.4 L456.4 64.2 L456.9 63.9 L457.4 63.6 L457.7 63.4 L458.2 63.0 L458.5 62.6 L458.9 62.2 L459.2 61.9 L459.5 61.4 L459.8 60.9 L460.2 60.4 L460.4 60.1 L460.9 59.6 L461.2 59.4 L461.7 59.1 L462.4 59.0 L463.0 59.1 L463.4 59.4 L463.9 59.8 L464.3 60.1 L464.6 60.6 L464.8 61.1 L465.0 61.6 L465.2 62.4 L465.2 62.7 L465.0 63.4 L464.8 63.9 L464.6 64.4 L464.3 64.9 L464.0 65.4 L463.7 65.7 L463.3 66.1 L462.9 66.5 L462.6 66.9 L462.2 67.3 L461.9 67.7 L461.6 68.1 L461.2 68.6 L460.9 69.1 L460.7 69.6 L460.6 70.1 L460.6 70.9 L460.6 71.6 L460.6 72.4 L460.7 72.9 L460.9 73.6 L461.2 74.1 L461.4 74.5 L461.7 74.9 L462.1 75.4 L462.4 75.7 L462.8 76.1 L463.2 76.5 L463.7 76.8 L464.1 77.1 L464.4 77.4 L464.9 77.8 L465.4 78.1 L465.7 78.4 L466.2 78.8 L466.5 79.1 L466.9 79.6 L467.2 79.9 L467.5 80.4 L467.9 80.9 L468.2 81.3 L468.4 81.8 L468.7 82.4 L468.8 82.9 L469.0 83.4 L469.1 84.1 L469.2 84.6 L469.3 85.4 L469.3 86.1 L469.3 86.9 L469.2 87.6 L469.1 88.1 L469.0 88.9 L468.9 89.4 L468.7 90.1 L468.5 90.6 L468.2 91.1 L468.0 91.6 L467.7 92.1 L467.4 92.6 L467.2 92.9 L466.8 93.4 L466.4 93.7 L466.0 94.1 L465.7 94.5 L465.2 94.9 L464.9 95.1 L464.4 95.5 L463.9 95.8 L463.5 96.1 L463.2 96.4 L462.7 96.7 L462.2 97.0 L461.7 97.2 L461.2 97.5 L460.7 97.8 L460.3 98.1 L459.9 98.5 L459.6 98.9 L459.2 99.4 L458.9 99.9 L458.8 100.4 L458.9 101.0 L459.2 101.4 L459.7 101.7 L460.4 101.8 L461.0 101.9 L461.7 102.0 L462.4 102.1 L462.9 102.3 L463.4 102.6 L463.7 102.9 L464.0 103.4 L464.3 103.9 L464.6 104.4 L464.8 104.9 L464.9 105.4 L465.0 106.1 L465.0 106.9 L465.1 107.6 L465.1 108.4 L465.1 109.1 L465.1 109.9 L465.1 110.6 L465.1 111.4 L465.1 112.1 L465.1 112.9 L465.1 113.6 L465.2 114.1 L465.3 114.9 L465.3 115.6 L465.4 116.2 L465.6 116.9 L465.7 117.4 L465.8 118.1 L465.8 118.9 L465.8 119.6 L465.8 120.4 L465.8 121.1 L465.8 121.9 L465.7 122.6 L465.6 123.1 L465.5 123.9 L465.3 124.4 L465.2 125.1 L465.1 125.6 L465.0 126.4 L464.9 126.9 L464.8 127.6 L464.8 128.4 L464.8 129.1 L464.9 129.9 L465.0 130.4 L465.2 130.9 L465.4 131.6 L465.6 132.1 L465.9 132.6 L466.1 133.1 L466.4 133.6 L466.7 134.0 L467.1 134.4 L467.5 134.6 L468.0 134.9 L468.7 135.0 L469.4 134.9 L469.9 134.8 L470.5 134.6 L471.0 134.4 L471.5 134.1 L471.9 133.9 L472.4 133.5 L472.8 133.1 L473.2 132.6 L473.4 132.2 L473.6 131.6 L473.8 131.1 L474.0 130.6 L474.2 130.0 L474.3 129.4 L474.3 128.6 L474.3 127.9 L474.3 127.1 L474.3 126.4 L474.3 125.6 L474.2 125.0 L474.1 124.4 L474.0 123.6 L474.0 122.9 L473.8 122.4 L473.7 121.6 L473.6 121.1 L473.6 120.4 L473.6 119.6 L473.6 118.9 L473.6 118.1 L473.6 117.4 L473.6 116.6 L473.6 115.9 L473.6 115.1 L473.7 114.5 L473.8 113.9 L473.9 113.2 L474.1 112.6 L474.2 112.0 L474.3 111.4 L474.5 110.9 L474.6 110.1 L474.7 109.6 L474.9 108.9 L475.1 108.4 L475.4 107.9 L475.6 107.4 L475.9 106.9 L476.1 106.4 L476.3 105.9 L476.5 105.4 L476.4 104.8 L476.3 104.1 L476.4 103.5 L476.6 102.9 L476.8 102.4 L477.0 101.9 L477.2 101.4 L477.5 100.9 L477.9 100.4 L478.3 100.1 L478.7 99.9 L479.2 99.6 L479.6 99.1 L479.8 98.6 L479.8 97.9 L479.9 97.4 L480.2 96.8 L480.4 96.3 L480.7 95.8 L480.9 95.3 L481.2 94.9 L481.6 94.4 L481.9 94.0 L482.4 93.6 L482.7 93.4 L483.2 93.1 L483.7 92.8 L484.2 92.5 L484.7 92.2 L485.2 92.0 L485.7 91.8 L486.2 91.6 L486.7 91.4 L487.2 90.9 L486.9 90.3 L486.5 89.9 L486.2 89.5 L485.8 89.1 L485.4 88.8 L485.0 88.4 L484.7 88.0 L484.3 87.6 L483.9 87.3 L483.5 86.9 L483.1 86.6 L482.4 86.4 L481.7 86.4 L480.9 86.5 L480.2 86.5 L479.4 86.5 L478.7 86.5 L478.2 86.4 L477.5 86.1 L476.9 85.9 L476.4 85.7 L475.9 85.4 L475.4 85.2 L474.9 84.9 L474.6 84.6 L474.2 84.1 L473.9 83.7 L473.7 83.4 L473.4 82.9 L473.2 82.4 L473.0 81.6 L472.9 81.1 L472.9 80.4 L473.0 79.9 L473.2 79.3 L473.4 78.8 L473.7 78.3 L473.9 77.8 L474.2 77.4 L474.6 76.9 L474.9 76.6 L475.4 76.3 L475.9 76.1 L476.4 75.9 L477.2 75.7 L477.7 75.5 L478.2 75.4 L478.9 75.3 L479.7 75.2 L480.4 75.2 L481.2 75.3 L481.9 75.4 L482.4 75.5 L482.9 75.7 L483.7 75.9 L484.2 76.1 L484.7 76.3 L485.2 76.6 L485.5 76.9 L485.9 77.4 L486.2 77.8 L486.4 78.3 L486.7 78.8 L486.9 79.3 L487.1 79.9 L487.2 80.4 L487.2 81.1 L487.1 81.6 L487.0 82.4 L486.9 82.9 L487.0 83.4 L487.3 83.9 L487.7 84.2 L488.1 84.6 L488.4 85.0 L488.8 85.4 L489.2 85.8 L489.6 86.1 L489.9 86.5 L490.3 86.9 L490.7 87.2 L491.1 87.6 L491.4 88.0 L491.8 88.4 L492.2 88.7 L492.7 89.1 L493.2 89.2 L493.7 89.0 L494.2 88.9 L494.9 88.7 L495.4 88.5 L496.2 88.5 L496.9 88.6 L497.4 88.7 L498.2 88.9 L498.9 88.7 L499.3 88.4 L499.7 88.0 L500.0 87.6 L500.4 87.2 L500.8 86.9 L501.2 86.5 L501.4 86.1 L501.8 85.6 L502.1 85.1 L502.4 84.9 L502.9 84.6 L503.4 84.4 L504.2 84.3 L504.7 84.4 L505.3 84.6 L505.7 84.9 L506.2 85.4 L506.4 85.8 L506.7 86.4 L506.8 86.9 L506.7 87.6 L506.5 88.1 L506.2 88.6 L505.9 89.0 L505.5 89.4 L505.2 89.8 L504.9 90.1 L504.8 90.9 L505.2 91.1 L505.9 91.4 L506.4 91.6 L506.9 91.8 L507.4 92.0 L507.9 92.2 L508.4 92.4 L508.9 92.7 L509.4 93.0 L509.9 93.3 L510.4 93.6 L510.7 93.9 L511.2 94.3 L511.5 94.6 L511.9 95.0 L512.3 95.4 L512.7 95.8 L512.9 96.1 L513.2 96.6 L513.5 97.1 L513.7 97.6 L514.0 98.1 L514.2 98.8 L514.3 99.4 L514.3 100.1 L514.5 100.6 L514.8 101.1 L515.2 101.6 L515.4 102.1 L515.5 102.6 L515.5 103.4 L515.4 103.9 L515.2 104.6 L514.9 105.0 L514.5 105.4 L514.2 105.7 L513.7 106.1 L513.2 106.3 L512.7 106.4 L511.9 106.5 L511.4 106.4 L510.7 106.2 L510.2 106.1 L509.7 106.2 L508.9 106.3 L508.4 106.4 L507.7 106.5 L507.2 106.7 L506.4 106.8 L505.9 106.9 L505.2 107.0 L504.4 107.0 L503.7 107.1 L503.2 107.2 L502.4 107.3 L501.9 107.5 L501.4 107.7 L500.9 108.0 L500.4 108.3 L500.1 108.6 L499.7 109.0 L499.4 109.4 L499.2 109.9 L498.9 110.6 L498.8 111.1 L498.7 111.8 L498.6 112.4 L498.5 113.1 L498.5 113.9 L498.4 114.4 L498.2 115.1 L498.1 115.6 L497.9 116.1 L497.7 116.7 L497.4 117.4 L497.2 117.8 L496.9 118.2 L496.6 118.6 L496.2 119.1 L495.9 119.5 L495.6 119.9 L495.2 120.4 L494.9 120.6 L494.4 121.0 L494.0 121.4 L493.6 121.6 L493.2 122.0 L492.7 122.3 L492.2 122.6 L491.7 122.8 L491.2 123.1 L490.7 123.3 L490.2 123.5 L489.7 123.7 L489.2 123.9 L488.7 124.1 L487.9 124.3 L487.4 124.4 L486.9 124.6 L486.3 124.9 L485.8 125.1 L485.4 125.4 L484.9 125.7 L484.4 126.0 L484.1 126.4 L483.7 126.8 L483.4 127.1 L483.1 127.6 L482.9 128.1 L482.7 128.6 L482.5 129.4 L482.3 129.9 L482.2 130.6 L482.1 131.1 L482.1 131.9 L482.0 132.6 L481.9 133.3 L481.9 133.9 L481.9 134.4 L482.2 135.1 L482.4 135.6 L482.7 135.9 L483.2 136.3 L483.7 136.6 L484.2 136.7 L484.8 136.9 L485.4 137.0 L486.2 137.0 L486.9 137.0 L487.7 137.0 L488.4 136.9 L488.9 136.8 L489.7 136.7 L490.2 136.6 L490.9 136.4 L491.4 136.1 L491.9 135.9 L492.2 135.6 L492.7 135.3 L493.2 135.0 L493.7 134.7 L494.0 134.4 L494.4 134.0 L494.9 133.7 L495.3 133.4 L495.7 133.1 L496.2 132.8 L496.7 132.5 L497.2 132.2 L497.7 132.1 L498.4 131.9 L498.9 131.7 L499.4 131.6 L499.9 131.4 L500.7 131.2 L501.2 131.1 L501.9 131.0 L502.7 131.0 L503.3 130.9 L503.9 130.8 L504.7 130.8 L505.4 130.8 L505.9 130.9 L506.7 131.0 L507.4 131.0 L508.0 131.1 L508.7 131.3 L509.2 131.4 L509.9 131.6 L510.4 131.8 L510.9 132.0 L511.5 132.1 L512.2 132.3 L512.7 132.5 L513.2 132.6 L513.9 132.8 L514.4 133.0 L514.9 133.2 L515.5 133.4 L516.0 133.6 L516.4 133.9 L516.9 134.1 L517.6 134.4 L518.2 134.6 L518.7 134.7 L519.4 134.9 L519.9 135.1 L520.4 135.2 L520.9 135.4 L521.7 135.5 L522.2 135.7 L522.9 135.7 L523.7 135.7 L524.2 135.6 L524.9 135.4 L525.4 135.2 L525.9 134.9 L526.3 134.6 L526.7 134.2 L527.0 133.9 L527.3 133.4 L527.6 132.9 L527.9 132.4 L528.2 132.0 L528.5 131.6 L528.9 131.1 L529.3 130.9 L529.7 130.6 L530.2 130.4 L530.7 130.1 L531.4 129.9 L531.9 129.8 L532.7 129.9 L533.2 130.1 L533.7 130.4 L533.9 130.6 L534.3 131.1 L534.5 131.6 L534.7 132.1 L534.7 132.9 L534.6 133.4 L534.4 133.9 L534.2 134.5 L533.9 134.9 L533.6 135.4 L533.2 135.9 L532.9 136.1 L532.4 136.5 L532.0 136.9 L531.6 137.1 L531.2 137.5 L530.7 137.8 L530.3 138.1 L529.9 138.4 L529.4 138.8 L529.1 139.1 L528.7 139.5 L528.3 139.9 L527.9 140.3 L527.6 140.6 L527.2 141.0 L526.8 141.4 L526.4 141.8 L526.2 142.2 L525.8 142.6 L525.5 143.1 L525.2 143.5 L524.9 143.9 L524.5 144.4 L524.2 144.7 L523.8 145.1 L523.4 145.6 L523.2 145.9 L522.8 146.4 L522.5 146.9 L522.2 147.2 L521.8 147.6 L521.4 148.0 L521.1 148.4 L520.7 148.9 L520.6 149.4 L520.8 149.9 L521.1 150.4 L521.4 150.7 L521.8 151.1 L522.1 151.6 L522.4 152.0 L522.8 152.4 L523.1 152.9 L523.4 153.2 L523.9 153.6 L524.4 153.8 L524.9 154.1 L525.4 154.2 L525.9 154.4 L526.4 154.7 L526.9 154.9 L527.4 155.3 L527.8 155.6 L528.2 156.1 L528.4 156.4 L528.8 156.9 L529.1 157.4 L529.4 157.8 L529.7 158.3 L529.9 158.9 L530.0 159.4 L530.0 160.1 L530.0 160.9 L529.9 161.4 L529.7 162.0 L529.4 162.4 L529.1 162.9 L528.7 163.4 L528.4 163.6 L527.9 164.0 L527.5 164.4 L527.1 164.6 L526.7 164.9 L526.2 165.2 L525.7 165.5 L525.2 165.7 L524.7 165.9 L524.2 166.1 L523.4 166.2 L522.7 166.2 L521.9 166.2 L521.2 166.2 L520.7 166.1 L519.9 165.9 L519.4 165.7 L518.9 165.4 L518.5 165.1 L518.1 164.9 L517.7 164.5 L517.4 164.1 L517.1 163.6 L516.7 163.1 L516.4 162.8 L516.1 162.4 L515.8 161.9 L515.4 161.5 L515.1 161.1 L514.8 160.6 L514.4 160.2 L514.1 159.9 L513.8 159.4 L513.4 159.0 L513.1 158.6 L512.8 158.1 L512.4 157.7 L512.1 157.4 L511.8 156.9 L511.4 156.5 L511.1 156.1 L510.8 155.6 L510.4 155.3 L509.9 154.9 L509.7 154.6 L509.3 154.1 L508.9 153.7 L508.7 153.2 L508.4 152.6 L508.3 152.1 L508.1 151.6 L508.0 150.9 L507.8 150.4 L507.6 149.9 L507.4 149.4 L507.1 148.9 L506.9 148.2 L506.7 147.6 L506.5 147.1 L506.2 146.6 L506.0 146.1 L505.8 145.6 L505.6 145.1 L505.3 144.6 L505.0 144.1 L504.7 143.7 L504.4 143.4 L504.1 142.9 L503.7 142.4 L503.3 142.1 L502.9 141.8 L502.4 141.5 L502.0 141.1 L501.6 140.9 L501.2 140.6 L500.7 140.4 L500.0 140.1 L499.4 140.0 L498.7 140.0 L498.1 140.1 L497.7 140.4 L497.4 140.9 L497.2 141.6 L497.1 142.1 L497.0 142.9 L496.9 143.4 L496.8 144.1 L496.8 144.9 L496.7 145.6 L496.6 146.1 L496.4 146.6 L496.2 147.2 L495.9 147.6 L495.5 148.1 L495.2 148.5 L494.8 148.9 L494.4 149.2 L493.9 149.6 L493.5 149.9 L492.9 150.1 L492.4 150.3 L491.9 150.4 L491.4 150.6 L490.7 150.9 L490.2 151.0 L489.5 151.1 L488.9 151.2 L488.2 151.2 L487.4 151.2 L486.7 151.2 L485.9 151.2 L485.2 151.2 L484.6 151.1 L483.9 151.0 L483.2 151.0 L482.4 150.9 L481.9 150.8 L481.2 150.7 L480.7 150.6 L479.9 150.5 L479.2 150.4 L478.7 150.3 L477.9 150.3 L477.2 150.2 L476.4 150.2 L475.9 150.1 L475.2 150.0 L474.4 150.0 L473.7 150.0 L472.9 150.0 L472.2 150.0 L471.4 150.1 L470.9 150.2 L470.4 150.4 L469.8 150.6 L469.4 150.9 L469.0 151.4 L468.8 151.9 L468.7 152.4 L468.5 153.1 L468.4 153.6 L468.3 154.4 L468.4 155.0 L468.5 155.6 L468.6 156.4 L468.6 157.1 L468.7 157.6 L468.8 158.4 L469.0 158.9 L469.2 159.6 L469.3 160.1 L469.5 160.6 L469.7 161.2 L469.9 161.9 L470.1 162.4 L470.3 162.9 L470.4 163.5 L470.6 164.1 L470.9 164.6 L471.1 165.1 L471.4 165.6 L471.6 166.1 L471.9 166.6 L472.2 167.1 L472.4 167.5 L472.7 167.9 L473.0 168.4 L473.3 168.9 L473.7 169.3 L473.9 169.7 L474.3 170.1 L474.7 170.4 L475.2 170.7 L475.7 171.0 L476.2 171.3 L476.7 171.6 L477.2 171.8 L477.7 172.0 L478.2 172.2 L478.7 172.4 L479.4 172.5 L479.9 172.7 L480.7 172.7 L481.4 172.7 L482.2 172.7 L482.9 172.7 L483.4 172.6 L484.2 172.5 L484.7 172.3 L485.4 172.2 L485.9 172.1 L486.5 171.9 L487.0 171.6 L487.4 171.3 L487.9 171.0 L488.4 170.8 L488.9 170.5 L489.4 170.3 L489.9 170.1 L490.4 169.9 L491.2 169.7 L491.7 169.6 L492.4 169.5 L493.2 169.5 L493.9 169.6 L494.7 169.4 L494.6 169.1 L494.3 168.6 L493.9 168.2 L493.7 167.7 L493.4 167.3 L493.1 166.9 L492.9 166.4 L492.6 165.9 L492.2 165.4 L492.0 164.9 L491.7 164.4 L491.4 164.0 L491.2 163.6 L490.9 163.1 L490.6 162.6 L490.3 162.1 L490.0 161.6 L489.7 161.1 L489.4 160.7 L489.2 160.3 L488.9 159.9 L488.5 159.4 L488.2 159.0 L487.9 158.6 L487.6 158.1 L487.4 157.6 L487.3 156.9 L487.4 156.3 L487.7 155.7 L487.9 155.3 L488.3 154.9 L488.7 154.6 L489.2 154.3 L489.7 154.1 L490.4 154.0 L491.0 154.1 L491.6 154.4 L492.0 154.6 L492.4 155.0 L492.8 155.4 L493.1 155.9 L493.4 156.4 L493.7 156.8 L493.9 157.2 L494.2 157.7 L494.5 158.1 L494.7 158.6 L495.1 159.1 L495.4 159.6 L495.6 160.1 L495.9 160.6 L496.2 161.0 L496.4 161.4 L496.7 161.9 L497.0 162.4 L497.3 162.9 L497.6 163.4 L497.9 163.9 L498.2 164.3 L498.4 164.7 L498.8 165.1 L499.0 165.6 L499.2 166.1 L499.3 166.9 L499.2 167.4 L498.9 168.1 L498.7 168.5 L498.3 168.9 L497.9 169.2 L497.4 169.6 L496.9 169.8 L496.5 170.1 L496.9 170.4 L497.6 170.6 L498.2 170.8 L498.7 170.9 L499.4 171.0 L499.9 171.2 L500.7 171.2 L501.4 171.3 L502.2 171.3 L502.7 171.4 L503.4 171.5 L504.2 171.6 L504.7 171.7 L505.4 171.8 L505.9 171.9 L506.7 172.0 L507.2 172.2 L507.9 172.3 L508.4 172.5 L509.2 172.6 L509.7 172.7 L510.4 172.9 L510.9 173.1 L511.4 173.3 L511.9 173.4 L512.7 173.6 L513.2 173.8 L513.7 174.1 L514.2 174.3 L514.7 174.5 L515.2 174.7 L515.9 174.8 L516.4 175.0 L517.2 175.1 L517.7 175.3 L518.2 175.5 L518.7 175.7 L519.4 175.9 L519.9 176.1 L520.4 176.3 L520.9 176.5 L521.4 176.8 L521.9 177.0 L522.4 177.2 L522.9 177.4 L523.4 177.7 L523.9 177.9 L524.4 178.2 L524.9 178.5 L525.4 178.9 L525.7 179.1 L526.2 179.5 L526.7 179.8 L527.0 180.1 L527.4 180.5 L527.7 180.9 L528.0 181.4 L528.2 181.9 L528.4 182.6 L528.5 183.1 L528.4 183.6 L528.3 184.4 L528.1 184.9 L527.9 185.6 L527.7 186.1 L527.5 186.6 L527.2 187.1 L526.9 187.6 L526.7 188.0 L526.4 188.4 L526.1 188.9 L525.7 189.4 L525.5 189.9 L525.2 190.3 L524.9 190.7 L524.6 191.1 L524.4 191.6 L524.1 192.1 L523.8 192.6 L523.6 193.1 L523.3 193.6 L523.1 194.1 L522.9 194.6 L522.7 195.2 L522.4 195.8 L522.3 196.4 L522.2 196.9 L522.1 197.6 L522.0 198.4 L521.9 199.0 L521.8 199.6 L521.7 200.3 L521.6 200.9 L521.6 201.6 L521.5 202.4 L521.5 203.1 L521.5 203.9 L521.5 204.4 M515.9 68.4 L516.4 68.3 L517.2 68.3 L517.9 68.3 L518.4 68.4 L519.1 68.6 L519.6 68.9 L520.0 69.1 L520.4 69.5 L520.8 69.9 L521.1 70.4 L521.4 70.8 L521.7 71.3 L521.9 71.9 L522.1 72.4 L522.2 72.9 L522.2 73.6 L522.1 74.1 L521.9 74.9 L521.7 75.4 L521.5 75.9 L521.2 76.3 L520.9 76.7 L520.4 77.1 L520.1 77.4 L519.7 77.6 L519.1 77.9 L518.4 78.1 L517.9 78.2 L517.2 78.3 L516.4 78.2 L515.9 78.1 L515.3 77.9 L514.7 77.6 L514.3 77.4 L513.9 77.1 L513.4 76.7 L513.2 76.3 L512.9 75.9 L512.6 75.4 L512.4 74.9 L512.2 74.1 L512.1 73.6 L512.2 72.9 L512.3 72.4 L512.4 71.9 L512.7 71.3 L512.9 70.8 L513.2 70.4 L513.6 69.9 L513.9 69.5 L514.3 69.1 L514.7 68.9 L515.3 68.6 L515.9 68.4 L515.9 68.4Z M531.1 74.1 L531.7 74.0 L532.4 74.1 L532.9 74.3 L533.4 74.6 L533.8 74.9 L534.1 75.4 L534.2 75.9 L534.2 76.6 L534.1 77.1 L533.8 77.6 L533.4 78.0 L533.0 78.4 L532.4 78.6 L531.9 78.7 L531.2 78.6 L530.7 78.5 L530.2 78.2 L529.9 77.9 L529.6 77.4 L529.4 76.9 L529.2 76.1 L529.4 75.5 L529.7 75.1 L530.0 74.6 L530.4 74.4 L531.1 74.1 L531.1 74.1Z M381.9 77.4 L382.4 77.3 L383.2 77.3 L383.7 77.4 L384.2 77.6 L384.7 77.9 L385.2 78.3 L385.4 78.6 L385.7 79.1 L385.9 79.9 L385.7 80.6 L385.4 81.1 L385.2 81.4 L384.7 81.8 L384.2 82.1 L383.7 82.3 L383.2 82.4 L382.4 82.5 L381.9 82.4 L381.2 82.1 L380.8 81.9 L380.4 81.6 L379.9 81.1 L379.7 80.7 L379.5 80.1 L379.5 79.4 L379.8 78.9 L380.1 78.4 L380.4 78.1 L380.9 77.8 L381.4 77.5 L381.9 77.4Z M533.7 90.6 L534.2 90.5 L534.9 90.6 L535.4 90.7 L536.2 90.7 L536.9 90.7 L537.7 90.8 L538.4 90.8 L539.2 90.8 L539.9 90.7 L540.7 90.7 L541.4 90.7 L541.9 90.6 L542.7 90.5 L543.2 90.6 L543.8 90.9 L544.2 91.1 L544.7 91.6 L544.9 92.0 L545.2 92.6 L545.3 93.1 L545.2 93.9 L545.0 94.4 L544.7 94.9 L544.4 95.2 L543.9 95.5 L543.4 95.8 L542.9 95.9 L542.2 96.0 L541.4 96.0 L540.7 96.0 L539.9 96.0 L539.2 96.0 L538.4 96.0 L537.7 96.0 L536.9 96.0 L536.2 96.0 L535.4 96.0 L534.7 96.0 L533.9 95.9 L533.4 95.8 L532.9 95.5 L532.4 95.2 L532.2 94.9 L531.9 94.4 L531.7 93.9 L531.6 93.1 L531.7 92.6 L531.9 92.0 L532.2 91.6 L532.7 91.1 L533.1 90.9 L533.7 90.6 L533.7 90.6Z M532.3 110.9 L532.9 110.7 L533.7 110.8 L534.2 111.0 L534.7 111.2 L535.2 111.6 L535.4 112.0 L535.7 112.6 L535.8 113.1 L535.7 113.9 L535.6 114.4 L535.3 114.9 L534.9 115.3 L534.5 115.6 L533.9 115.8 L533.4 116.0 L532.7 116.0 L532.2 115.8 L531.6 115.6 L531.2 115.3 L530.8 114.9 L530.5 114.4 L530.4 113.9 L530.3 113.1 L530.4 112.6 L530.7 112.0 L530.9 111.6 L531.4 111.2 L531.9 111.0 L532.3 110.9Z M509.6 114.9 L510.2 114.8 L510.9 114.8 L511.4 115.0 L511.9 115.3 L512.4 115.6 L512.7 115.9 L513.1 116.4 L513.2 116.9 L513.3 117.6 L513.2 118.4 L512.9 118.9 L512.7 119.2 L512.2 119.6 L511.7 119.9 L511.2 120.1 L510.7 120.2 L509.9 120.2 L509.4 120.1 L508.9 119.8 L508.4 119.5 L508.1 119.1 L507.8 118.6 L507.6 118.1 L507.5 117.4 L507.7 116.6 L507.9 116.1 L508.2 115.8 L508.6 115.4 L509.0 115.1 L509.6 114.9 L509.6 114.9Z M521.3 119.1 L521.9 119.0 L522.7 119.1 L523.2 119.3 L523.7 119.6 L524.0 119.9 L524.3 120.4 L524.5 120.9 L524.5 121.6 L524.4 122.1 L524.2 122.6 L523.8 123.1 L523.4 123.5 L522.9 123.8 L522.4 123.9 L521.7 123.9 L521.2 123.8 L520.7 123.6 L520.2 123.2 L519.8 122.9 L519.5 122.4 L519.4 121.9 L519.3 121.1 L519.4 120.6 L519.7 120.1 L520.2 119.6 L520.6 119.4 L521.2 119.2 L521.3 119.1Z M548.3 119.6 L548.9 119.5 L549.4 119.7 L549.9 119.9 L550.4 120.2 L550.9 120.6 L551.2 120.9 L551.4 121.4 L551.5 122.1 L551.5 122.9 L551.3 123.4 L551.0 123.9 L550.7 124.2 L550.2 124.6 L549.7 124.8 L549.2 125.0 L548.4 125.0 L547.9 124.8 L547.4 124.6 L546.9 124.2 L546.6 123.9 L546.3 123.4 L546.1 122.9 L546.1 122.1 L546.2 121.4 L546.4 120.9 L546.7 120.6 L547.2 120.2 L547.7 119.9 L548.2 119.7 L548.3 119.6Z M502.4 121.4 L502.9 121.3 L503.7 121.3 L504.2 121.4 L504.7 121.7 L505.2 122.0 L505.5 122.4 L505.8 122.9 L506.0 123.4 L506.2 124.0 L506.2 124.4 L505.9 125.1 L505.7 125.6 L505.4 126.0 L505.0 126.4 L504.6 126.6 L504.0 126.9 L503.4 127.0 L502.7 126.9 L502.2 126.8 L501.7 126.6 L501.2 126.2 L500.8 125.9 L500.5 125.4 L500.4 124.9 L500.3 124.1 L500.4 123.4 L500.5 122.9 L500.8 122.4 L501.2 122.0 L501.7 121.7 L502.2 121.4 L502.4 121.4Z M476.9 155.4 L477.4 155.3 L478.2 155.3 L478.9 155.3 L479.7 155.4 L480.2 155.6 L480.7 155.8 L481.2 156.0 L481.7 156.3 L482.0 156.6 L482.4 156.9 L482.9 157.4 L483.2 157.8 L483.4 158.3 L483.6 158.9 L483.7 159.4 L483.7 159.9 L483.5 160.6 L483.3 161.1 L483.1 161.6 L482.7 162.1 L482.4 162.4 L481.9 162.7 L481.4 163.1 L480.9 163.3 L480.4 163.5 L479.8 163.6 L479.2 163.7 L478.4 163.8 L477.7 163.8 L476.9 163.7 L476.4 163.6 L475.7 163.4 L475.2 163.2 L474.7 162.9 L474.3 162.6 L473.9 162.2 L473.6 161.9 L473.3 161.4 L473.0 160.9 L472.9 160.4 L472.8 159.6 L472.8 158.9 L473.0 158.4 L473.2 157.9 L473.6 157.4 L473.9 157.0 L474.3 156.6 L474.7 156.3 L475.2 156.0 L475.7 155.8 L476.2 155.6 L476.9 155.4 L476.9 155.4Z M535.1 162.9 L535.7 162.8 L536.4 162.8 L537.2 162.8 L537.8 162.9 L538.4 163.0 L539.0 163.1 L539.7 163.3 L540.2 163.4 L540.9 163.6 L541.4 163.8 L541.9 164.1 L542.4 164.3 L542.9 164.6 L543.4 164.8 L543.9 165.1 L544.4 165.3 L544.9 165.6 L545.4 165.9 L545.8 166.1 L546.3 166.4 L546.7 166.6 L547.2 166.9 L547.7 167.3 L548.1 167.6 L548.5 167.9 L548.9 168.3 L549.3 168.6 L549.7 169.0 L550.1 169.4 L550.5 169.6 L550.9 170.1 L551.2 170.4 L551.5 170.9 L551.7 171.4 L552.0 171.9 L552.2 172.4 L552.4 173.1 L552.4 173.4 L552.3 174.1 L552.2 174.7 L552.0 175.4 L551.7 175.9 L551.5 176.4 L551.2 176.8 L550.9 177.2 L550.5 177.6 L550.2 178.0 L549.8 178.4 L549.4 178.7 L548.9 179.0 L548.4 179.3 L548.0 179.6 L547.5 179.9 L547.0 180.1 L546.6 180.4 L546.1 180.6 L545.6 180.9 L545.2 181.2 L544.7 181.6 L544.4 181.9 L544.1 182.4 L543.8 182.9 L543.5 183.4 L543.3 183.9 L543.1 184.4 L542.9 184.9 L542.7 185.5 L542.4 185.9 L542.1 186.4 L541.8 186.9 L541.4 187.3 L541.2 187.7 L540.8 188.1 L540.4 188.5 L539.9 188.9 L539.4 189.1 L538.9 189.3 L538.4 189.4 L537.8 189.4 L537.4 189.1 L537.0 188.6 L536.7 188.1 L536.6 187.6 L536.5 186.9 L536.4 186.4 L536.4 185.6 L536.5 185.1 L536.6 184.4 L536.7 183.9 L536.9 183.1 L537.1 182.6 L537.4 182.1 L537.6 181.6 L537.9 181.1 L538.2 180.6 L538.4 180.3 L538.7 179.9 L539.1 179.4 L539.4 178.9 L539.7 178.5 L539.9 178.0 L540.2 177.4 L540.2 176.9 L539.9 176.4 L539.6 176.1 L538.9 175.9 L538.4 175.8 L537.7 175.8 L536.9 175.7 L536.4 175.6 L535.7 175.4 L535.2 175.3 L534.7 175.1 L533.9 174.9 L533.4 174.8 L532.9 174.5 L532.4 174.2 L532.0 173.9 L531.6 173.6 L531.2 173.1 L530.9 172.7 L530.7 172.2 L530.5 171.6 L530.3 171.1 L530.1 170.6 L529.9 170.1 L529.8 169.4 L529.8 168.6 L529.9 168.0 L530.1 167.4 L530.2 166.8 L530.3 166.1 L530.5 165.6 L530.8 165.1 L531.1 164.6 L531.4 164.3 L531.9 163.9 L532.3 163.6 L532.8 163.4 L533.4 163.2 L533.9 163.1 L534.7 163.0 L535.1 162.9Z M496.4 185.3 L495.9 185.5 L495.2 185.6 L494.7 185.8 L494.2 186.1 L493.7 186.4 L493.4 186.6 L492.9 187.0 L492.7 187.4 L492.4 188.1 L492.6 188.9 L492.9 189.3 L493.2 189.6 L493.7 189.9 L494.2 190.2 L494.7 190.4 L495.2 190.6 L495.9 190.8 L496.4 190.9 L497.2 191.0 L497.9 191.0 L498.7 191.0 L499.3 190.9 L499.9 190.7 L500.4 190.6 L501.1 190.4 L501.7 190.1 L502.1 189.9 L502.4 189.6 L502.8 189.1 L503.1 188.6 L503.1 187.9 L502.9 187.4 L502.5 186.9 L502.2 186.5 L501.7 186.1 L501.2 185.9 L500.7 185.7 L500.2 185.6 L499.4 185.4 L498.9 185.3 L498.2 185.3 L497.4 185.3 L496.7 185.3 L496.4 185.3Z M512.7 187.3 L512.2 187.5 L511.4 187.6 L510.9 187.8 L510.4 188.0 L509.9 188.2 L509.4 188.4 L508.9 188.6 L508.4 188.9 L507.9 189.3 L507.6 189.6 L507.2 190.1 L506.9 190.6 L506.9 191.1 L506.9 191.6 L507.2 192.1 L507.6 192.6 L507.9 192.9 L508.4 193.2 L508.9 193.4 L509.7 193.5 L510.4 193.5 L511.2 193.4 L511.7 193.3 L512.4 193.2 L512.9 193.1 L513.6 192.9 L514.2 192.7 L514.7 192.4 L515.2 192.2 L515.7 192.0 L516.2 191.6 L516.5 191.4 L516.8 190.9 L517.1 190.4 L517.3 189.9 L517.5 189.4 L517.4 188.9 L517.0 188.4 L516.7 188.0 L516.2 187.7 L515.7 187.5 L515.2 187.3 L514.4 187.2 L513.7 187.2 L512.9 187.3 L512.7 187.3Z M452.5 66.1 L453.2 66.1 L453.7 66.2 L454.2 66.4 L454.7 66.7 L455.2 67.0 L455.5 67.4 L455.9 67.8 L456.2 68.2 L456.4 68.6 L456.7 69.3 L456.8 69.9 L456.9 70.4 L457.0 71.1 L457.0 71.9 L456.9 72.4 L456.7 72.9 L456.4 73.4 L456.0 73.9 L455.7 74.2 L455.2 74.6 L454.7 74.8 L454.2 74.9 L453.6 74.9 L452.9 74.7 L452.4 74.4 L451.9 74.1 L451.6 73.9 L451.2 73.4 L450.9 73.0 L450.7 72.5 L450.4 72.0 L450.2 71.4 L450.0 70.9 L449.9 70.4 L449.9 69.8 L450.1 69.1 L450.2 68.6 L450.4 68.1 L450.7 67.6 L451.0 67.1 L451.4 66.6 L451.8 66.4 L452.4 66.1 L452.5 66.1Z M516.7 71.1 L517.4 71.1 L517.9 71.2 L518.4 71.6 L518.7 71.9 L519.1 72.4 L519.2 72.9 L519.2 73.6 L519.1 74.1 L518.8 74.6 L518.4 75.0 L517.9 75.3 L517.4 75.4 L516.7 75.4 L516.2 75.2 L515.7 74.9 L515.4 74.6 L515.1 74.1 L515.0 73.4 L515.1 72.6 L515.3 72.1 L515.7 71.7 L516.2 71.4 L516.7 71.1 L516.7 71.1Z M457.8 80.9 L458.4 80.7 L459.2 80.9 L459.6 81.1 L459.9 81.5 L460.2 81.9 L460.4 82.4 L460.5 83.1 L460.4 83.7 L460.2 84.2 L459.8 84.6 L459.3 84.9 L458.7 84.9 L458.2 84.7 L457.8 84.4 L457.4 83.9 L457.2 83.4 L457.1 82.9 L457.2 82.1 L457.3 81.6 L457.6 81.1 L457.8 80.9Z M495.5 92.9 L496.2 92.8 L496.9 92.8 L497.4 92.9 L497.9 93.2 L498.4 93.5 L498.8 93.9 L499.2 94.4 L499.4 94.8 L499.7 95.3 L499.9 95.9 L500.0 96.4 L500.0 97.1 L500.0 97.9 L500.1 98.6 L500.3 99.1 L500.5 99.6 L500.5 100.4 L500.3 100.9 L499.9 101.3 L499.4 101.6 L498.9 101.8 L498.4 102.0 L497.9 102.1 L497.2 102.2 L496.4 102.2 L495.9 102.1 L495.2 101.9 L494.7 101.7 L494.2 101.4 L493.8 101.1 L493.5 100.6 L493.3 100.1 L493.2 99.4 L493.1 98.9 L492.9 98.4 L492.8 97.6 L492.8 96.9 L492.9 96.1 L493.0 95.6 L493.2 95.1 L493.5 94.6 L493.8 94.1 L494.2 93.8 L494.6 93.4 L495.0 93.1 L495.5 92.9 L495.5 92.9Z M353.9 96.0 L354.7 96.0 L355.4 96.0 L355.9 95.8 L356.4 95.6 L356.9 95.2 L357.3 94.9 L357.7 94.5 L358.0 94.1 L358.4 93.6 L358.7 93.2 L359.0 92.9 L359.3 92.4 L359.6 91.9 L359.9 91.4 L360.1 90.9 L360.4 90.4 L360.7 89.9 L360.9 89.5 L361.2 89.0 L361.4 88.6 L361.7 88.1 L362.0 87.6 L362.2 87.1 L362.5 86.6 L362.7 86.1 L363.0 85.6 L363.2 85.1 L363.5 84.6 L363.8 84.1 L364.1 83.6 L364.4 83.1 L364.7 82.7 L364.9 82.2 L365.2 81.8 L365.5 81.4 L365.7 80.9 L366.0 80.4 L366.3 79.9 L366.6 79.4 L366.9 79.0 L367.3 78.6 L367.7 78.3 L368.2 78.1 L368.7 78.2 L369.2 78.5 L369.6 78.9 L369.8 79.4 L370.0 79.9 L370.2 80.5 L370.3 81.1 L370.3 81.9 L370.2 82.4 L369.9 83.0 L369.7 83.5 L369.4 84.0 L369.2 84.5 L368.9 85.0 L368.7 85.5 L368.4 86.0 L368.2 86.4 L367.8 86.9 L367.5 87.4 L367.2 87.8 L366.9 88.3 L366.7 88.8 L366.4 89.3 L366.2 89.8 L366.0 90.4 L365.9 90.9 L365.8 91.6 L365.9 92.4 L366.0 92.9 L366.3 93.4 L366.6 93.9 L366.9 94.1 L367.4 94.4 L367.9 94.8 L368.4 95.1 L368.9 95.4 L369.4 95.6 L369.9 95.8 L370.4 96.0 L370.9 96.2 L371.5 96.4 L372.1 96.6 L372.7 96.8 L373.2 97.0 L373.9 97.1 L374.4 97.3 L374.9 97.5 L375.4 97.6 L376.2 97.8 L376.7 97.9 L377.4 98.1 L377.9 98.2 L378.7 98.3 L379.2 98.4 L379.9 98.5 L380.7 98.5 L381.4 98.5 L382.2 98.5 L382.9 98.5 L383.7 98.5 L384.2 98.4 L384.9 98.2 L385.4 98.0 L385.9 97.8 L386.7 97.6 L387.2 97.4 L387.7 97.2 L388.1 96.9 L388.5 96.6 L388.9 96.3 L389.4 95.9 L389.8 95.6 L390.2 95.3 L390.7 95.0 L391.0 94.6 L391.4 94.1 L391.7 93.7 L392.0 93.4 L392.3 92.9 L392.7 92.4 L392.9 92.1 L393.2 91.6 L393.5 91.1 L393.8 90.6 L394.2 90.3 L394.9 90.2 L395.6 90.4 L396.2 90.5 L396.9 90.5 L397.7 90.4 L398.2 90.1 L398.4 89.9 L398.7 89.4 L399.0 88.9 L399.2 88.2 L399.2 87.6 L399.2 87.1 L398.9 86.4 L398.7 85.9 L398.4 85.5 L398.0 85.1 L397.7 84.8 L397.3 84.4 L397.0 83.9 L396.9 83.6 L397.1 82.9 L397.3 82.4 L397.5 81.9 L397.7 81.4 L397.9 80.8 L398.2 80.2 L398.4 79.6 L398.6 79.1 L398.8 78.6 L399.0 78.1 L399.2 77.6 L399.5 77.1 L399.7 76.6 L400.0 76.1 L400.2 75.6 L400.5 75.1 L400.8 74.6 L401.1 74.1 L401.4 73.8 L401.9 73.4 L402.3 73.1 L402.9 72.9 L403.4 72.8 L403.9 72.9 L404.4 73.3 L404.8 73.6 L405.2 73.9 L405.7 74.3 L405.9 74.6 L406.3 75.1 L406.6 75.6 L406.9 76.0 L407.3 76.4 L407.7 76.9 L407.9 77.3 L408.2 77.7 L408.5 78.1 L408.8 78.6 L409.1 79.1 L409.4 79.6 L409.7 80.1 L409.9 80.4 L410.3 80.9 L410.6 81.4 L410.9 81.8 L411.2 82.1 L411.6 82.6 L411.9 83.1 L412.2 83.5 L412.6 83.9 L413.0 84.1 L413.4 84.6 L413.7 84.9 L414.0 85.4 L414.4 85.9 L414.7 86.2 L415.1 86.6 L415.4 87.0 L415.7 87.4 L416.1 87.9 L416.4 88.3 L416.7 88.7 L417.0 89.1 L417.2 89.6 L417.5 90.1 L417.7 90.7 L417.9 91.2 L418.2 91.8 L418.4 92.3 L418.6 92.9 L418.9 93.4 L419.1 93.9 L419.4 94.4 L419.6 94.9 L419.9 95.4 L420.2 95.8 L420.4 96.2 L420.8 96.6 L421.2 97.0 L421.5 97.4 L421.9 97.9 L422.2 98.2 L422.6 98.6 L422.9 99.0 L423.4 99.3 L423.9 99.6 L424.4 99.8 L424.9 100.1 L425.2 100.4 L425.7 100.7 L426.2 101.0 L426.7 101.3 L427.1 101.6 L427.6 101.9 L428.1 102.1 L428.6 102.4 L429.1 102.6 L429.6 102.9 L430.2 103.1 L430.7 103.2 L431.4 103.2 L431.9 102.9 L432.2 102.4 L432.4 101.9 L432.5 101.4 L432.7 100.8 L432.9 100.1 L433.1 99.6 L433.3 99.1 L433.5 98.6 L433.8 98.1 L434.2 97.6 L434.4 97.3 L434.9 96.9 L435.4 96.6 L435.9 96.4 L436.4 96.2 L436.9 96.1 L437.7 95.9 L438.2 95.8 L438.9 95.8 L439.4 96.0 L439.9 96.2 L440.6 96.4 L441.2 96.5 L441.7 96.6 L442.4 96.9 L442.9 97.1 L443.4 97.3 L443.9 97.5 L444.4 97.7 L445.2 97.7 L445.9 97.6 L446.4 97.5 L446.9 97.2 L447.4 96.9 L447.8 96.6 L448.2 96.3 L448.7 96.0 L449.0 95.6 L449.4 95.1 L449.7 94.8 L450.2 94.4 L450.5 94.1 L450.9 93.8 L451.4 93.4 L451.9 93.1 L452.2 92.9 L452.7 92.6 L453.2 92.4 L453.9 92.2 L454.7 92.3 L455.2 92.6 L455.5 92.9 L455.9 93.3 L456.3 93.6 L456.7 94.0 L457.1 94.4 L457.5 94.6 L457.9 94.9 L458.4 95.3 L458.9 95.6 L459.2 96.0 L459.4 96.6 L459.2 97.4 L458.9 97.9 L458.7 98.2 L458.2 98.6 L457.9 98.9 L457.9 99.6 L458.2 99.9 L458.7 100.4 L458.9 100.9 L459.2 101.4 L459.6 101.6 L460.2 101.7 L460.9 101.8 L461.4 102.0 L462.0 102.1 L462.4 102.4 L462.7 102.9 L463.0 103.4 L463.2 103.9 L463.4 104.4 L463.6 105.1 L463.8 105.6 L463.9 106.4 L464.0 106.9 L464.0 107.6 L464.0 108.4 L464.1 109.1 L464.1 109.9 L464.0 110.6 L464.0 111.4 L464.0 112.1 L463.8 112.6 L463.7 113.4 L463.6 113.9 L463.5 114.6 L463.3 115.1 L463.2 115.8 L463.1 116.4 L462.9 117.0 L462.8 117.6 L462.7 118.2 L462.5 118.9 L462.3 119.4 L462.1 119.9 L461.9 120.5 L461.8 121.1 L461.6 121.6 L461.4 122.1 L461.2 122.9 L461.0 123.4 L460.8 123.9 L460.5 124.4 L460.2 124.8 L459.9 125.2 L459.7 125.7 L459.4 126.1 L459.0 126.6 L458.7 126.9 L458.2 127.2 L457.7 127.6 L457.2 127.8 L456.7 128.1 L456.4 128.4 L455.9 128.8 L455.6 129.1 L455.2 129.5 L454.9 129.9 L454.5 130.4 L454.2 130.8 L453.9 131.3 L453.7 131.8 L453.5 132.4 L453.3 132.9 L453.2 133.4 L453.0 134.1 L452.8 134.6 L452.7 135.2 L452.4 135.8 L452.2 136.4 L452.1 136.9 L451.9 137.4 L451.7 138.0 L451.4 138.4 L451.1 138.9 L450.8 139.4 L450.4 139.8 L450.2 140.2 L449.8 140.6 L449.4 141.0 L448.9 141.3 L448.5 141.6 L448.0 141.9 L447.4 142.1 L446.9 142.3 L446.4 142.5 L445.9 142.7 L445.4 142.9 L444.8 143.1 L444.2 143.3 L443.7 143.6 L443.2 143.8 L442.7 144.0 L442.2 144.3 L441.9 144.8 L441.9 145.3 L442.2 145.9 L442.4 146.2 L442.8 146.6 L443.2 147.0 L443.7 147.3 L444.1 147.6 L444.6 147.9 L445.1 148.1 L445.6 148.4 L446.1 148.6 L446.6 148.9 L447.1 149.1 L447.6 149.4 L448.1 149.6 L448.6 149.9 L449.2 150.1 L449.7 150.2 L450.2 150.4 L450.8 150.6 L451.4 150.8 L451.9 150.9 L452.7 151.1 L453.2 151.2 L453.9 151.3 L454.5 151.4 L455.2 151.5 L455.8 151.6 L456.4 151.8 L457.1 151.9 L457.7 152.0 L458.3 152.1 L458.9 152.2 L459.7 152.3 L460.4 152.3 L460.9 152.5 L461.4 152.7 L461.9 152.9 L462.7 153.1 L463.2 153.3 L463.7 153.6 L464.0 153.9 L464.4 154.2 L464.9 154.6 L465.2 154.9 L465.5 155.4 L465.7 155.9 L466.0 156.4 L466.2 156.9 L466.5 157.4 L466.7 158.1 L466.8 158.6 L466.9 159.3 L467.0 159.9 L467.2 160.5 L467.3 161.1 L467.3 161.9 L467.3 162.6 L467.3 163.4 L467.3 164.1 L467.3 164.9 L467.3 165.6 L467.3 166.4 L467.3 167.1 L467.3 167.9 L467.3 168.6 L467.2 169.2 L467.1 169.9 L467.0 170.6 L467.0 171.4 L466.8 171.9 L466.7 172.6 L466.6 173.1 L466.5 173.9 L466.4 174.4 L466.3 175.1 L466.2 175.9 L466.1 176.4 L465.9 176.9 L465.7 177.5 L465.5 178.1 L465.3 178.6 L465.1 179.1 L464.8 179.6 L464.4 180.0 L464.0 180.4 L463.6 180.6 L463.2 180.9 L462.7 181.2 L462.2 181.4 L461.6 181.6 L461.0 181.9 L460.4 182.0 L459.9 182.1 L459.3 182.4 L458.9 182.6 L458.4 182.9 L457.9 183.3 L457.6 183.6 L457.2 184.0 L456.9 184.4 L456.7 184.9 L456.4 185.4 L456.2 186.1 L456.0 186.6 L455.9 187.1 L455.8 187.9 L455.9 188.5 L456.1 189.1 L456.2 189.7 L456.3 190.4 L456.5 190.9 L456.7 191.4 L456.9 191.9 L457.2 192.6 L457.4 193.1 L457.6 193.6 L457.8 194.1 L457.9 194.8 L458.0 195.4 L458.2 196.1 L458.2 196.4 L457.9 197.1 L457.7 197.5 L457.3 197.9 L456.9 198.2 L456.4 198.6 L455.9 198.8 L455.4 199.1 L454.9 199.3 L454.5 199.6 L454.0 199.9 L453.6 200.1 L453.1 200.4 L452.6 200.6 L452.2 200.9 L451.7 201.3 L451.4 201.6 L451.1 202.1 L450.9 202.6 L450.8 203.4 L450.8 204.1 L450.8 204.4 M486.4 115.4 L487.2 115.3 L487.7 115.4 L488.4 115.6 L488.9 115.9 L489.2 116.1 L489.6 116.6 L489.7 117.1 L489.7 117.9 L489.6 118.4 L489.2 118.9 L488.9 119.1 L488.4 119.4 L487.7 119.6 L487.2 119.7 L486.4 119.6 L485.9 119.4 L485.4 119.1 L485.1 118.9 L484.8 118.4 L484.6 117.9 L484.6 117.1 L484.8 116.6 L485.1 116.1 L485.4 115.9 L485.9 115.6 L486.4 115.4 L486.4 115.4Z M482.1 140.4 L482.7 140.3 L483.4 140.2 L484.2 140.2 L484.9 140.3 L485.4 140.5 L486.2 140.6 L486.7 140.8 L487.2 141.1 L487.5 141.4 L487.9 141.9 L488.2 142.3 L488.4 142.8 L488.6 143.4 L488.7 143.9 L488.6 144.4 L488.4 144.9 L488.1 145.4 L487.7 145.9 L487.4 146.2 L486.9 146.5 L486.4 146.8 L485.9 146.9 L485.2 147.1 L484.7 147.2 L483.9 147.3 L483.2 147.3 L482.4 147.2 L481.9 147.1 L481.2 146.9 L480.7 146.7 L480.2 146.5 L479.7 146.2 L479.4 145.9 L479.0 145.4 L478.8 144.9 L478.6 144.4 L478.6 143.6 L478.7 142.9 L478.9 142.4 L479.2 141.9 L479.4 141.5 L479.9 141.1 L480.4 140.9 L480.9 140.7 L481.4 140.5 L482.1 140.4 L482.1 140.4Z M521.4 158.9 L521.9 158.7 L522.7 158.7 L523.4 158.8 L523.9 159.0 L524.3 159.4 L524.6 159.9 L524.8 160.4 L524.7 161.0 L524.4 161.4 L524.1 161.9 L523.6 162.1 L522.9 162.3 L522.2 162.3 L521.4 162.1 L520.9 161.9 L520.6 161.6 L520.3 161.1 L520.1 160.6 L520.2 160.1 L520.4 159.6 L520.9 159.1 L521.4 158.9 L521.4 158.9Z M441.2 159.4 L440.7 159.5 L440.2 159.8 L439.9 160.1 L439.5 160.6 L439.4 161.1 L439.4 161.8 L439.7 162.4 L439.9 162.7 L440.4 163.1 L440.9 163.3 L441.4 163.5 L442.2 163.4 L442.7 163.2 L443.1 162.9 L443.4 162.4 L443.7 161.9 L443.7 161.4 L443.7 160.9 L443.4 160.3 L443.1 159.9 L442.7 159.6 L442.2 159.4 L441.4 159.3 L441.2 159.4Z M497.1 175.4 L497.7 175.3 L498.4 175.3 L499.2 175.3 L499.9 175.3 L500.5 175.4 L501.2 175.5 L501.9 175.6 L502.4 175.8 L502.9 176.0 L503.4 176.3 L503.9 176.6 L504.2 176.9 L504.6 177.4 L504.8 177.9 L504.9 178.6 L504.7 179.2 L504.4 179.6 L503.9 180.1 L503.6 180.4 L503.1 180.6 L502.4 180.8 L501.9 180.9 L501.3 181.1 L500.7 181.3 L500.2 181.4 L499.4 181.5 L498.7 181.5 L497.9 181.5 L497.2 181.4 L496.7 181.2 L496.2 181.1 L495.5 180.9 L494.9 180.7 L494.4 180.6 L493.9 180.3 L493.4 180.0 L493.1 179.6 L492.7 179.1 L492.5 178.6 L492.5 177.9 L492.8 177.4 L493.2 177.0 L493.6 176.6 L494.0 176.4 L494.4 176.1 L495.0 175.9 L495.7 175.6 L496.2 175.5 L496.9 175.4 L497.1 175.4Z M514.7 180.6 L515.4 180.5 L516.2 180.5 L516.9 180.6 L517.4 180.9 L517.7 181.2 L517.9 181.7 L517.9 182.2 L517.7 182.6 L517.2 183.0 L516.7 183.3 L516.2 183.4 L515.4 183.4 L514.9 183.3 L514.4 183.1 L513.9 182.8 L513.5 182.4 L513.4 181.9 L513.6 181.4 L513.9 181.0 L514.4 180.7 L514.7 180.6Z M461.8 182.9 L462.4 182.8 L463.0 182.9 L463.7 183.0 L464.2 183.1 L464.9 183.4 L465.4 183.6 L465.9 183.9 L466.4 184.1 L466.8 184.4 L467.4 184.6 L467.9 184.9 L468.4 185.1 L468.9 185.4 L469.2 185.6 L469.7 185.9 L470.2 186.2 L470.7 186.5 L471.2 186.8 L471.7 187.1 L472.2 187.3 L472.7 187.5 L473.2 187.7 L473.7 187.9 L474.4 188.0 L475.2 188.0 L475.9 188.0 L476.7 188.0 L477.4 188.0 L478.2 188.0 L478.9 188.0 L479.7 187.9 L480.2 187.8 L480.9 187.8 L481.7 187.8 L482.4 187.8 L483.2 187.8 L483.9 187.9 L484.4 188.1 L484.9 188.3 L485.4 188.6 L485.9 188.9 L486.3 189.1 L486.7 189.6 L486.9 190.0 L487.2 190.6 L487.4 191.1 L487.5 191.6 L487.5 192.4 L487.5 193.1 L487.3 193.6 L486.9 194.0 L486.4 194.3 L485.9 194.5 L485.3 194.6 L484.7 194.8 L484.2 194.9 L483.4 195.0 L482.7 195.0 L481.9 195.0 L481.2 194.9 L480.7 194.8 L479.9 194.8 L479.2 194.8 L478.4 194.8 L477.7 194.8 L476.9 194.8 L476.4 195.0 L475.7 195.1 L475.2 195.3 L474.7 195.5 L474.2 195.8 L473.7 196.0 L473.2 196.3 L472.7 196.6 L472.2 196.9 L471.8 197.1 L471.3 197.4 L470.8 197.6 L470.2 197.9 L469.7 198.1 L469.2 198.3 L468.7 198.4 L467.9 198.5 L467.2 198.5 L466.4 198.4 L465.9 198.3 L465.2 198.1 L464.7 197.9 L464.2 197.7 L463.7 197.4 L463.4 197.1 L462.9 196.7 L462.6 196.4 L462.2 195.9 L461.9 195.6 L461.6 195.1 L461.3 194.6 L461.0 194.1 L460.7 193.6 L460.5 193.1 L460.3 192.6 L460.1 192.1 L459.9 191.4 L459.8 190.9 L459.7 190.2 L459.6 189.6 L459.5 188.9 L459.4 188.4 L459.3 187.6 L459.3 186.9 L459.3 186.1 L459.4 185.4 L459.5 184.9 L459.7 184.3 L459.9 183.9 L460.4 183.4 L460.9 183.1 L461.4 183.0 L461.8 182.9Z M396.4 105.6 L396.9 105.5 L397.7 105.5 L398.4 105.6 L398.9 105.7 L399.4 106.0 L399.9 106.3 L400.4 106.6 L400.7 106.9 L401.1 107.4 L401.4 107.9 L401.6 108.4 L401.8 108.9 L402.0 109.4 L402.0 110.1 L402.0 110.9 L402.0 111.6 L401.9 112.4 L401.7 112.9 L401.5 113.4 L401.2 113.9 L400.9 114.4 L400.7 114.7 L400.2 115.1 L399.7 115.4 L399.3 115.6 L398.7 115.9 L398.2 116.0 L397.4 116.0 L396.7 116.0 L396.2 115.8 L395.7 115.6 L395.2 115.4 L394.7 115.0 L394.3 114.6 L394.0 114.1 L393.7 113.6 L393.5 113.1 L393.3 112.6 L393.1 112.1 L393.0 111.4 L392.9 110.9 L392.9 110.1 L393.0 109.6 L393.2 109.1 L393.4 108.5 L393.7 108.0 L393.9 107.5 L394.2 107.1 L394.6 106.6 L394.9 106.3 L395.4 106.0 L395.9 105.8 L396.4 105.6Z M353.9 117.0 L354.7 117.0 L355.4 117.0 L356.0 116.9 L356.7 116.7 L357.3 116.6 L357.9 116.5 L358.5 116.4 L359.2 116.2 L359.7 116.1 L360.2 115.9 L360.8 115.6 L361.3 115.4 L361.9 115.1 L362.4 115.0 L362.9 114.9 L363.6 114.6 L364.2 114.4 L364.7 114.3 L365.3 114.1 L365.9 114.0 L366.4 113.8 L367.0 113.6 L367.7 113.4 L368.2 113.3 L368.8 113.1 L369.4 113.0 L369.9 112.8 L370.5 112.6 L371.2 112.4 L371.7 112.3 L372.3 112.1 L372.9 112.0 L373.4 111.9 L374.1 111.6 L374.7 111.4 L375.2 111.2 L375.7 111.1 L376.3 110.9 L376.7 110.6 L377.2 110.3 L377.7 110.0 L378.2 109.7 L378.7 109.4 L379.0 109.1 L379.4 108.7 L379.8 108.4 L380.2 108.0 L380.6 107.6 L380.9 107.3 L381.3 106.9 L381.7 106.6 L382.2 106.2 L382.6 105.9 L383.0 105.6 L383.4 105.3 L383.9 105.0 L384.4 104.7 L384.9 104.6 L385.7 104.5 L386.2 104.7 L386.5 105.1 L386.7 105.9 L386.6 106.1 L386.4 106.7 L386.2 107.2 L385.9 107.7 L385.7 108.2 L385.4 108.8 L385.2 109.2 L384.9 109.7 L384.7 110.2 L384.4 110.7 L384.2 111.2 L383.9 111.6 L383.6 112.1 L383.3 112.6 L383.1 113.1 L382.9 113.6 L382.8 114.4 L382.8 115.1 L382.9 115.7 L383.1 116.4 L383.4 116.9 L383.6 117.4 L383.7 117.9 L384.0 118.4 L384.2 118.9 L384.4 119.4 L384.7 119.9 L385.0 120.4 L385.3 120.9 L385.6 121.4 L385.9 121.7 L386.2 122.1 L386.6 122.6 L386.9 123.1 L387.2 123.4 L387.6 123.9 L387.9 124.2 L388.4 124.6 L388.8 124.9 L389.3 125.1 L389.8 125.4 L390.3 125.6 L390.8 125.9 L391.3 126.1 L391.8 126.4 L392.3 126.6 L392.9 126.9 L393.4 127.1 L393.9 127.3 L394.4 127.6 L394.9 127.8 L395.4 128.1 L395.7 128.4 L396.2 128.7 L396.7 129.0 L397.1 129.4 L397.4 129.7 L397.9 130.0 L398.3 130.4 L398.7 130.8 L399.1 131.1 L399.4 131.5 L399.8 131.9 L400.2 132.2 L400.7 132.6 L401.2 132.8 L401.7 132.9 L402.2 132.8 L402.7 132.5 L403.0 132.1 L403.3 131.6 L403.5 131.1 L403.8 130.6 L404.0 130.1 L404.2 129.6 L404.5 129.1 L404.8 128.6 L405.2 128.2 L405.4 127.9 L405.9 127.5 L406.4 127.2 L406.9 127.0 L407.4 126.8 L407.9 126.6 L408.4 126.3 L408.9 126.1 L409.7 126.0 L410.2 125.8 L410.9 125.7 L411.4 125.6 L412.2 125.5 L412.9 125.5 L413.7 125.5 L414.4 125.5 L415.2 125.5 L415.9 125.5 L416.4 125.6 L417.1 125.9 L417.7 126.1 L418.2 126.2 L418.7 126.4 L419.2 126.7 L419.7 127.0 L420.1 127.4 L420.5 127.6 L420.9 128.0 L421.3 128.4 L421.7 128.9 L421.9 129.3 L422.2 129.8 L422.4 130.3 L422.7 130.8 L422.9 131.3 L423.2 131.8 L423.3 132.4 L423.4 132.9 L423.5 133.6 L423.5 134.4 L423.6 135.1 L423.6 135.9 L423.7 136.4 L423.8 137.1 L424.0 137.6 L424.1 138.4 L424.3 138.9 L424.4 139.6 L424.5 140.1 L424.7 140.6 L424.9 141.2 L425.2 141.6 L425.5 142.1 L425.9 142.6 L426.1 143.1 L426.4 143.6 L426.7 143.9 L427.0 144.4 L427.4 144.9 L427.7 145.2 L428.1 145.6 L428.5 145.9 L428.9 146.3 L429.2 146.7 L429.5 147.1 L429.9 147.6 L430.2 148.0 L430.5 148.4 L430.8 148.9 L431.1 149.4 L431.3 149.9 L431.5 150.4 L431.7 150.9 L431.8 151.6 L431.8 152.4 L431.8 153.1 L431.7 153.9 L431.6 154.4 L431.5 155.1 L431.3 155.6 L431.2 156.2 L430.9 156.8 L430.7 157.4 L430.5 157.9 L430.3 158.4 L430.2 159.0 L430.0 159.6 L429.8 160.1 L429.7 160.6 L429.5 161.4 L429.4 161.9 L429.3 162.6 L429.3 163.4 L429.3 164.1 L429.3 164.9 L429.3 165.6 L429.3 166.4 L429.4 167.1 L429.5 167.6 L429.7 168.4 L429.8 168.9 L430.0 169.4 L430.2 170.0 L430.4 170.6 L430.7 171.1 L430.9 171.6 L431.2 171.9 L431.5 172.4 L431.7 172.9 L432.0 173.4 L432.3 173.9 L432.7 174.3 L433.0 174.6 L433.3 175.1 L433.7 175.6 L433.9 175.9 L434.3 176.4 L434.7 176.7 L435.2 177.1 L435.4 177.4 L435.8 177.9 L436.2 178.2 L436.5 178.6 L436.9 179.1 L437.2 179.4 L437.6 179.9 L437.9 180.2 L438.4 180.6 L438.7 180.9 L439.1 181.4 L439.4 181.7 L439.8 182.1 L440.2 182.5 L440.7 182.9 L441.0 183.1 L441.4 183.6 L441.7 184.0 L442.1 184.4 L442.5 184.6 L442.9 185.0 L443.3 185.4 L443.7 185.8 L444.0 186.1 L444.4 186.5 L444.8 186.9 L445.2 187.3 L445.4 187.6 L445.7 188.1 L446.1 188.6 L446.4 189.1 L446.7 189.6 L446.9 190.1 L447.0 190.6 L447.2 191.3 L447.3 191.9 L447.3 192.6 L447.2 193.4 L447.0 193.9 L446.7 194.4 L446.5 194.9 L446.2 195.4 L445.9 195.8 L445.7 196.2 L445.3 196.6 L444.9 197.0 L444.5 197.4 L444.1 197.6 L443.7 197.9 L443.1 198.1 L442.5 198.4 L441.9 198.6 L441.4 198.8 L440.9 198.9 L440.2 199.1 L439.7 199.3 L439.2 199.4 L438.7 199.6 L437.9 199.8 L437.4 199.9 L436.7 200.1 L436.2 200.3 L435.7 200.5 L435.2 200.7 L434.7 201.0 L434.3 201.4 L433.9 201.8 L433.7 202.3 L433.6 202.9 L433.6 203.6 L433.6 204.4 L433.6 204.4 M438.1 130.9 L438.7 130.7 L439.4 130.8 L439.9 131.0 L440.4 131.2 L440.9 131.6 L441.2 131.9 L441.4 132.4 L441.5 133.1 L441.4 133.6 L441.2 134.1 L440.8 134.6 L440.4 135.0 L439.9 135.3 L439.4 135.4 L438.7 135.5 L438.2 135.4 L437.7 135.1 L437.2 134.7 L436.8 134.4 L436.5 133.9 L436.4 133.4 L436.4 132.6 L436.5 132.1 L436.9 131.6 L437.2 131.4 L437.7 131.1 L438.1 130.9Z M353.9 137.2 L354.7 137.2 L355.4 137.2 L356.2 137.2 L356.9 137.2 L357.7 137.2 L358.4 137.2 L359.2 137.2 L359.9 137.3 L360.7 137.3 L361.3 137.4 L361.9 137.5 L362.7 137.5 L363.4 137.6 L363.9 137.8 L364.4 138.0 L364.9 138.2 L365.7 138.4 L366.2 138.6 L366.7 138.8 L367.2 139.0 L367.7 139.2 L368.2 139.5 L368.7 139.8 L369.1 140.1 L369.6 140.4 L370.2 140.6 L370.6 140.9 L371.0 141.1 L371.4 141.4 L371.9 141.7 L372.4 141.9 L372.9 142.2 L373.5 142.4 L374.2 142.6 L374.7 142.7 L375.4 142.7 L376.2 142.7 L376.9 142.7 L377.4 142.6 L378.2 142.4 L378.7 142.3 L379.3 142.1 L379.9 142.0 L380.6 141.9 L381.2 141.8 L381.7 141.9 L382.2 142.3 L382.5 142.6 L382.9 143.1 L383.2 143.5 L383.5 143.9 L383.8 144.4 L384.2 144.8 L384.4 145.2 L384.8 145.6 L385.2 145.9 L385.7 146.2 L386.2 146.5 L386.7 146.8 L387.2 146.9 L387.9 147.0 L388.7 147.0 L389.3 147.1 L389.9 147.2 L390.7 147.3 L391.4 147.3 L391.9 147.4 L392.7 147.6 L393.2 147.7 L393.7 147.9 L394.2 148.2 L394.7 148.4 L395.2 148.6 L395.8 148.9 L396.2 149.1 L396.7 149.4 L397.2 149.8 L397.5 150.1 L397.9 150.5 L398.4 150.9 L398.7 151.1 L399.2 151.5 L399.7 151.8 L400.0 152.1 L400.4 152.4 L400.9 152.8 L401.3 153.1 L401.7 153.5 L402.2 153.8 L402.7 154.0 L403.2 154.2 L403.7 154.4 L404.2 154.6 L404.9 154.9 L405.4 155.1 L405.9 155.3 L406.4 155.6 L406.9 155.9 L407.3 156.1 L407.8 156.4 L408.2 156.6 L408.7 157.0 L409.2 157.3 L409.5 157.6 L409.9 158.0 L410.3 158.4 L410.6 158.9 L410.9 159.4 L411.1 159.9 L411.3 160.4 L411.4 160.9 L411.4 161.4 L411.1 161.9 L410.8 162.4 L410.4 162.7 L409.9 163.1 L409.6 163.4 L409.2 163.7 L408.7 164.1 L408.3 164.4 L407.9 164.7 L407.4 165.1 L407.2 165.4 L406.9 166.1 L407.1 166.9 L407.4 167.4 L407.7 167.7 L408.2 168.1 L408.5 168.4 L408.9 168.7 L409.3 169.1 L409.7 169.4 L410.2 169.7 L410.7 170.1 L411.0 170.4 L411.4 170.7 L411.9 171.0 L412.4 171.4 L412.7 171.6 L413.2 172.1 L413.4 172.4 L413.8 172.9 L414.1 173.4 L414.4 173.8 L414.7 174.3 L414.9 174.8 L415.2 175.3 L415.4 175.8 L415.7 176.3 L415.9 176.8 L416.1 177.4 L416.2 177.9 L416.4 178.6 L416.6 179.1 L416.7 179.6 L416.8 180.4 L416.8 181.1 L416.8 181.9 L416.7 182.5 L416.5 183.1 L416.3 183.6 L416.1 184.1 L415.9 184.8 L415.8 185.4 L415.8 186.1 L415.9 186.9 L416.2 187.4 L416.4 187.8 L416.7 188.2 L417.0 188.6 L417.4 189.1 L417.7 189.6 L417.9 190.0 L418.2 190.4 L418.5 190.9 L418.7 191.4 L419.0 191.9 L419.2 192.5 L419.3 193.1 L419.4 193.6 L419.5 194.4 L419.5 195.1 L419.5 195.9 L419.4 196.4 L419.3 197.1 L419.2 197.9 L419.1 198.4 L419.0 199.1 L418.9 199.6 L418.8 200.4 L418.6 200.9 L418.6 201.6 L418.6 202.4 L418.6 203.1 L418.6 203.9 L418.6 204.4 M353.9 159.0 L354.7 159.0 L355.4 159.0 L356.0 158.9 L356.7 158.6 L357.2 158.4 L357.6 158.1 L358.0 157.9 L358.4 157.5 L358.9 157.2 L359.3 156.9 L359.7 156.6 L360.2 156.2 L360.6 155.9 L361.0 155.6 L361.5 155.4 L362.2 155.2 L362.9 155.2 L363.5 155.4 L364.2 155.5 L364.7 155.7 L365.2 156.0 L365.7 156.3 L366.1 156.6 L366.5 156.9 L366.9 157.3 L367.3 157.6 L367.7 158.0 L368.1 158.4 L368.5 158.6 L368.9 159.0 L369.4 159.3 L369.9 159.6 L370.3 159.9 L370.7 160.1 L371.2 160.4 L371.7 160.7 L372.2 161.0 L372.7 161.3 L373.2 161.5 L373.7 161.8 L374.2 162.0 L374.7 162.2 L375.2 162.4 L375.7 162.7 L376.2 162.9 L376.7 163.2 L377.2 163.4 L377.8 163.6 L378.2 163.9 L378.7 164.2 L379.2 164.5 L379.7 164.8 L380.2 165.0 L380.7 165.3 L381.2 165.6 L381.5 165.9 L381.9 166.3 L382.3 166.6 L382.7 166.9 L383.2 167.3 L383.6 167.6 L384.0 167.9 L384.4 168.3 L384.7 168.7 L385.1 169.1 L385.4 169.4 L385.9 169.8 L386.3 170.1 L386.7 170.5 L387.0 170.9 L387.3 171.4 L387.7 171.7 L388.2 172.1 L388.5 172.4 L388.9 172.9 L389.2 173.2 L389.6 173.6 L389.9 174.0 L390.3 174.4 L390.7 174.7 L391.1 175.1 L391.4 175.5 L391.8 175.9 L392.2 176.2 L392.7 176.6 L392.9 176.9 L393.3 177.4 L393.7 177.7 L394.2 178.1 L394.5 178.4 L394.9 178.9 L395.2 179.2 L395.6 179.6 L396.0 179.9 L396.4 180.3 L396.7 180.7 L397.0 181.1 L397.2 181.6 L397.5 182.1 L397.7 182.6 L398.0 183.1 L398.2 183.6 L398.4 184.1 L398.6 184.9 L398.7 185.4 L398.8 186.1 L398.8 186.9 L398.8 187.6 L398.8 188.4 L398.8 189.1 L398.8 189.9 L398.8 190.6 L398.8 191.4 L398.7 192.1 L398.6 192.6 L398.5 193.4 L398.3 193.9 L398.2 194.5 L398.1 195.1 L398.0 195.9 L398.0 196.6 L397.9 197.1 L397.8 197.9 L397.6 198.4 L397.5 199.1 L397.4 199.6 L397.3 200.4 L397.3 201.1 L397.2 201.8 L397.1 202.4 L397.1 203.1 L397.1 203.9 L397.1 204.4 M353.9 171.2 L354.7 171.2 L355.4 171.2 L356.0 171.1 L356.7 171.0 L357.3 170.9 L357.9 170.8 L358.6 170.6 L359.2 170.5 L359.8 170.4 L360.4 170.3 L361.2 170.3 L361.9 170.3 L362.4 170.4 L363.2 170.6 L363.7 170.7 L364.2 170.9 L364.7 171.2 L365.2 171.5 L365.7 171.8 L366.2 172.1 L366.6 172.4 L367.0 172.6 L367.4 172.9 L367.9 173.3 L368.3 173.6 L368.7 174.0 L369.2 174.3 L369.6 174.6 L369.9 174.9 L370.4 175.3 L370.9 175.6 L371.2 175.9 L371.7 176.3 L372.1 176.6 L372.4 177.0 L372.9 177.4 L373.2 177.6 L373.6 178.1 L373.9 178.5 L374.3 178.9 L374.7 179.3 L375.0 179.6 L375.3 180.1 L375.7 180.6 L375.9 180.9 L376.3 181.4 L376.6 181.9 L376.9 182.3 L377.2 182.6 L377.5 183.1 L377.8 183.6 L378.1 184.1 L378.4 184.6 L378.6 185.1 L378.9 185.6 L379.1 186.1 L379.4 186.6 L379.6 187.1 L379.8 187.6 L380.0 188.1 L380.2 188.6 L380.5 189.1 L380.7 189.6 L380.9 190.4 L381.0 190.9 L381.1 191.6 L381.3 192.1 L381.4 192.8 L381.5 193.4 L381.5 194.1 L381.5 194.9 L381.5 195.6 L381.4 196.2 L381.3 196.9 L381.2 197.5 L381.1 198.1 L380.9 198.8 L380.8 199.4 L380.8 200.1 L380.7 200.9 L380.6 201.4 L380.6 202.1 L380.6 202.9 L380.6 203.6 L380.6 204.4 L380.6 204.4 M353.9 181.8 L354.7 181.8 L355.4 181.8 L356.2 181.8 L356.9 181.8 L357.7 181.8 L358.4 181.7 L359.2 181.7 L359.9 181.7 L360.7 181.7 L361.4 181.8 L362.2 181.8 L362.7 182.0 L363.2 182.2 L363.7 182.4 L364.2 182.7 L364.7 183.0 L365.2 183.3 L365.7 183.6 L366.0 183.9 L366.4 184.3 L366.8 184.6 L367.2 185.0 L367.5 185.4 L367.9 185.9 L368.2 186.3 L368.4 186.8 L368.7 187.2 L369.0 187.6 L369.3 188.1 L369.5 188.6 L369.7 189.1 L369.9 189.9 L370.1 190.4 L370.3 190.9 L370.4 191.4 L370.6 192.1 L370.7 192.6 L370.8 193.4 L370.8 194.1 L370.8 194.9 L370.8 195.6 L370.8 196.4 L370.7 197.1 L370.6 197.6 L370.5 198.4 L370.3 198.9 L370.2 199.6 L370.1 200.1 L369.9 200.8 L369.8 201.4 L369.8 202.1 L369.8 202.9 L369.8 203.6 L369.8 204.4 L369.8 204.4" fill="none" stroke="#000" stroke-opacity="0.9" stroke-width="0.90" stroke-linejoin="round"/></g>
<line x1="156.25" y1="4.50" x2="156.25" y2="202.50" stroke="#000" stroke-width="1.1" stroke-dasharray="1.3 1.2"/>
<line x1="57.50" y1="103.50" x2="255.00" y2="103.50" stroke="#000" stroke-width="0.8" stroke-dasharray="0.9 1.0" opacity="0.7"/>
<path clip-path="url(#cl)" d="M156.2 103.5 L156.1 105.2 L155.9 106.9 L155.6 108.6 L155.3 110.3 L154.9 112.0 L154.5 113.7 L154.0 115.4 L153.5 117.1 L153.0 118.8 L152.4 120.4 L151.9 122.1 L151.2 123.8 L150.6 125.5 L149.9 127.2 L149.3 128.9 L148.5 130.6 L147.8 132.3 L147.1 134.0 L146.3 135.7 L145.5 137.4 L144.7 139.1 L143.8 140.8 L143.0 142.5 L142.1 144.2 L141.2 145.9 L140.3 147.6 L139.4 149.3 L138.4 151.0 L137.4 152.6 L136.5 154.3 L135.5 156.0 L134.5 157.7 L133.4 159.4 L132.4 161.1 L131.3 162.8 L130.2 164.5 L129.2 166.2 L128.0 167.9 L126.9 169.6 L125.8 171.3 L124.6 173.0 L123.5 174.7 L122.3 176.4 L121.1 178.1 L119.9 179.8 L118.7 181.5 L117.5 183.2 L116.2 184.8 L115.0 186.5 L113.7 188.2 L112.4 189.9 L111.1 191.6 L109.8 193.3 L108.5 195.0 L107.1 196.7 L105.8 198.4 L104.4 200.1 L103.1 201.8 L101.7 203.5" fill="none" stroke="#fff" stroke-width="1.45"/>
<path clip-path="url(#cl)" d="M156.2 103.5 L156.4 105.2 L156.6 106.9 L156.9 108.6 L157.2 110.3 L157.6 112.0 L158.0 113.7 L158.5 115.4 L159.0 117.1 L159.5 118.8 L160.1 120.4 L160.6 122.1 L161.3 123.8 L161.9 125.5 L162.6 127.2 L163.2 128.9 L164.0 130.6 L164.7 132.3 L165.4 134.0 L166.2 135.7 L167.0 137.4 L167.8 139.1 L168.7 140.8 L169.5 142.5 L170.4 144.2 L171.3 145.9 L172.2 147.6 L173.1 149.3 L174.1 151.0 L175.1 152.6 L176.0 154.3 L177.0 156.0 L178.0 157.7 L179.1 159.4 L180.1 161.1 L181.2 162.8 L182.3 164.5 L183.3 166.2 L184.5 167.9 L185.6 169.6 L186.7 171.3 L187.9 173.0 L189.0 174.7 L190.2 176.4 L191.4 178.1 L192.6 179.8 L193.8 181.5 L195.0 183.2 L196.3 184.8 L197.5 186.5 L198.8 188.2 L200.1 189.9 L201.4 191.6 L202.7 193.3 L204.0 195.0 L205.4 196.7 L206.7 198.4 L208.1 200.1 L209.4 201.8 L210.8 203.5" fill="none" stroke="#fff" stroke-width="1.45"/>
<line x1="355.80" y1="202.50" x2="553.60" y2="4.50" stroke="#fff" stroke-width="1.0"/>
<rect x="57.50" y="4.50" width="197.50" height="198.00" fill="none" stroke="#000" stroke-width="0.75"/>
<rect x="355.80" y="4.50" width="197.80" height="198.00" fill="none" stroke="#000" stroke-width="0.75"/>
<g stroke="#000" stroke-width="0.85" opacity="0.9"><line x1="57.50" y1="202.50" x2="57.50" y2="194.00"/><line x1="57.50" y1="202.50" x2="66.00" y2="202.50"/><line x1="67.38" y1="202.50" x2="67.38" y2="198.00"/><line x1="57.50" y1="192.60" x2="62.00" y2="192.60"/><line x1="77.25" y1="202.50" x2="77.25" y2="198.00"/><line x1="57.50" y1="182.70" x2="62.00" y2="182.70"/><line x1="87.12" y1="202.50" x2="87.12" y2="198.00"/><line x1="57.50" y1="172.80" x2="62.00" y2="172.80"/><line x1="97.00" y1="202.50" x2="97.00" y2="198.00"/><line x1="57.50" y1="162.90" x2="62.00" y2="162.90"/><line x1="106.88" y1="202.50" x2="106.88" y2="194.00"/><line x1="57.50" y1="153.00" x2="66.00" y2="153.00"/><line x1="116.75" y1="202.50" x2="116.75" y2="198.00"/><line x1="57.50" y1="143.10" x2="62.00" y2="143.10"/><line x1="126.62" y1="202.50" x2="126.62" y2="198.00"/><line x1="57.50" y1="133.20" x2="62.00" y2="133.20"/><line x1="136.50" y1="202.50" x2="136.50" y2="198.00"/><line x1="57.50" y1="123.30" x2="62.00" y2="123.30"/><line x1="146.38" y1="202.50" x2="146.38" y2="198.00"/><line x1="57.50" y1="113.40" x2="62.00" y2="113.40"/><line x1="156.25" y1="202.50" x2="156.25" y2="194.00"/><line x1="57.50" y1="103.50" x2="66.00" y2="103.50"/><line x1="166.12" y1="202.50" x2="166.12" y2="198.00"/><line x1="57.50" y1="93.60" x2="62.00" y2="93.60"/><line x1="176.00" y1="202.50" x2="176.00" y2="198.00"/><line x1="57.50" y1="83.70" x2="62.00" y2="83.70"/><line x1="185.88" y1="202.50" x2="185.88" y2="198.00"/><line x1="57.50" y1="73.80" x2="62.00" y2="73.80"/><line x1="195.75" y1="202.50" x2="195.75" y2="198.00"/><line x1="57.50" y1="63.90" x2="62.00" y2="63.90"/><line x1="205.62" y1="202.50" x2="205.62" y2="194.00"/><line x1="57.50" y1="54.00" x2="66.00" y2="54.00"/><line x1="215.50" y1="202.50" x2="215.50" y2="198.00"/><line x1="57.50" y1="44.10" x2="62.00" y2="44.10"/><line x1="225.38" y1="202.50" x2="225.38" y2="198.00"/><line x1="57.50" y1="34.20" x2="62.00" y2="34.20"/><line x1="235.25" y1="202.50" x2="235.25" y2="198.00"/><line x1="57.50" y1="24.30" x2="62.00" y2="24.30"/><line x1="245.12" y1="202.50" x2="245.12" y2="198.00"/><line x1="57.50" y1="14.40" x2="62.00" y2="14.40"/><line x1="255.00" y1="202.50" x2="255.00" y2="194.00"/><line x1="57.50" y1="4.50" x2="66.00" y2="4.50"/></g>
<g stroke="#000" stroke-width="0.85" opacity="0.9"><line x1="355.80" y1="202.50" x2="355.80" y2="194.00"/><line x1="355.80" y1="202.50" x2="364.30" y2="202.50"/><line x1="362.39" y1="202.50" x2="362.39" y2="198.00"/><line x1="355.80" y1="195.90" x2="360.30" y2="195.90"/><line x1="368.99" y1="202.50" x2="368.99" y2="198.00"/><line x1="355.80" y1="189.30" x2="360.30" y2="189.30"/><line x1="375.58" y1="202.50" x2="375.58" y2="198.00"/><line x1="355.80" y1="182.70" x2="360.30" y2="182.70"/><line x1="382.17" y1="202.50" x2="382.17" y2="198.00"/><line x1="355.80" y1="176.10" x2="360.30" y2="176.10"/><line x1="388.77" y1="202.50" x2="388.77" y2="194.00"/><line x1="355.80" y1="169.50" x2="364.30" y2="169.50"/><line x1="395.36" y1="202.50" x2="395.36" y2="198.00"/><line x1="355.80" y1="162.90" x2="360.30" y2="162.90"/><line x1="401.95" y1="202.50" x2="401.95" y2="198.00"/><line x1="355.80" y1="156.30" x2="360.30" y2="156.30"/><line x1="408.55" y1="202.50" x2="408.55" y2="198.00"/><line x1="355.80" y1="149.70" x2="360.30" y2="149.70"/><line x1="415.14" y1="202.50" x2="415.14" y2="198.00"/><line x1="355.80" y1="143.10" x2="360.30" y2="143.10"/><line x1="421.73" y1="202.50" x2="421.73" y2="194.00"/><line x1="355.80" y1="136.50" x2="364.30" y2="136.50"/><line x1="428.33" y1="202.50" x2="428.33" y2="198.00"/><line x1="355.80" y1="129.90" x2="360.30" y2="129.90"/><line x1="434.92" y1="202.50" x2="434.92" y2="198.00"/><line x1="355.80" y1="123.30" x2="360.30" y2="123.30"/><line x1="441.51" y1="202.50" x2="441.51" y2="198.00"/><line x1="355.80" y1="116.70" x2="360.30" y2="116.70"/><line x1="448.11" y1="202.50" x2="448.11" y2="198.00"/><line x1="355.80" y1="110.10" x2="360.30" y2="110.10"/><line x1="454.70" y1="202.50" x2="454.70" y2="194.00"/><line x1="355.80" y1="103.50" x2="364.30" y2="103.50"/><line x1="461.29" y1="202.50" x2="461.29" y2="198.00"/><line x1="355.80" y1="96.90" x2="360.30" y2="96.90"/><line x1="467.89" y1="202.50" x2="467.89" y2="198.00"/><line x1="355.80" y1="90.30" x2="360.30" y2="90.30"/><line x1="474.48" y1="202.50" x2="474.48" y2="198.00"/><line x1="355.80" y1="83.70" x2="360.30" y2="83.70"/><line x1="481.07" y1="202.50" x2="481.07" y2="198.00"/><line x1="355.80" y1="77.10" x2="360.30" y2="77.10"/><line x1="487.67" y1="202.50" x2="487.67" y2="194.00"/><line x1="355.80" y1="70.50" x2="364.30" y2="70.50"/><line x1="494.26" y1="202.50" x2="494.26" y2="198.00"/><line x1="355.80" y1="63.90" x2="360.30" y2="63.90"/><line x1="500.85" y1="202.50" x2="500.85" y2="198.00"/><line x1="355.80" y1="57.30" x2="360.30" y2="57.30"/><line x1="507.45" y1="202.50" x2="507.45" y2="198.00"/><line x1="355.80" y1="50.70" x2="360.30" y2="50.70"/><line x1="514.04" y1="202.50" x2="514.04" y2="198.00"/><line x1="355.80" y1="44.10" x2="360.30" y2="44.10"/><line x1="520.63" y1="202.50" x2="520.63" y2="194.00"/><line x1="355.80" y1="37.50" x2="364.30" y2="37.50"/><line x1="527.23" y1="202.50" x2="527.23" y2="198.00"/><line x1="355.80" y1="30.90" x2="360.30" y2="30.90"/><line x1="533.82" y1="202.50" x2="533.82" y2="198.00"/><line x1="355.80" y1="24.30" x2="360.30" y2="24.30"/><line x1="540.41" y1="202.50" x2="540.41" y2="198.00"/><line x1="355.80" y1="17.70" x2="360.30" y2="17.70"/><line x1="547.01" y1="202.50" x2="547.01" y2="198.00"/><line x1="355.80" y1="11.10" x2="360.30" y2="11.10"/><line x1="553.60" y1="202.50" x2="553.60" y2="194.00"/><line x1="355.80" y1="4.50" x2="364.30" y2="4.50"/></g>
<g font-family="'Liberation Serif','Times New Roman',serif" font-size="11.5"><text x="57.70" y="216.8" text-anchor="middle">-2</text><text x="107.08" y="216.8" text-anchor="middle">-1</text><text x="156.45" y="216.8" text-anchor="middle">0</text><text x="205.82" y="216.8" text-anchor="middle">1</text><text x="255.20" y="216.8" text-anchor="middle">2</text><text x="53.40" y="205.90" text-anchor="end">-2</text><text x="53.40" y="156.40" text-anchor="end">-1</text><text x="53.40" y="106.90" text-anchor="end">0</text><text x="53.40" y="57.40" text-anchor="end">1</text><text x="53.40" y="7.90" text-anchor="end">2</text></g>
<g font-family="'Liberation Serif','Times New Roman',serif" font-size="11.5"><text x="356.00" y="216.8" text-anchor="middle">0.0</text><text x="388.97" y="216.8" text-anchor="middle">0.5</text><text x="421.93" y="216.8" text-anchor="middle">1.0</text><text x="454.90" y="216.8" text-anchor="middle">1.5</text><text x="487.87" y="216.8" text-anchor="middle">2.0</text><text x="520.83" y="216.8" text-anchor="middle">2.5</text><text x="553.80" y="216.8" text-anchor="middle">3.0</text><text x="351.70" y="205.90" text-anchor="end">0.0</text><text x="351.70" y="172.90" text-anchor="end">0.5</text><text x="351.70" y="139.90" text-anchor="end">1.0</text><text x="351.70" y="106.90" text-anchor="end">1.5</text><text x="351.70" y="73.90" text-anchor="end">2.0</text><text x="351.70" y="40.90" text-anchor="end">2.5</text><text x="351.70" y="7.90" text-anchor="end">3.0</text></g>
<defs><linearGradient id="cb1" x1="0" x2="1" y1="0" y2="0"><stop offset="0.0000" stop-color="rgb(128,0,255)"/><stop offset="0.0971" stop-color="rgb(0,0,255)"/><stop offset="0.2743" stop-color="rgb(0,255,255)"/><stop offset="0.4657" stop-color="rgb(0,255,0)"/><stop offset="0.6686" stop-color="rgb(255,255,0)"/><stop offset="0.8371" stop-color="rgb(255,0,0)"/><stop offset="1.0000" stop-color="rgb(255,0,0)"/></linearGradient></defs><rect x="76.40" y="262.00" width="162.80" height="9.00" fill="url(#cb1)" stroke="#000" stroke-width="1"/><line x1="76.40" y1="271.00" x2="76.40" y2="274.40" stroke="#000" stroke-width="1"/><line x1="99.66" y1="271.00" x2="99.66" y2="276.80" stroke="#000" stroke-width="1"/><line x1="122.91" y1="271.00" x2="122.91" y2="274.40" stroke="#000" stroke-width="1"/><line x1="146.17" y1="271.00" x2="146.17" y2="276.80" stroke="#000" stroke-width="1"/><line x1="169.43" y1="271.00" x2="169.43" y2="274.40" stroke="#000" stroke-width="1"/><line x1="192.69" y1="271.00" x2="192.69" y2="276.80" stroke="#000" stroke-width="1"/><line x1="215.94" y1="271.00" x2="215.94" y2="274.40" stroke="#000" stroke-width="1"/><line x1="239.20" y1="271.00" x2="239.20" y2="276.80" stroke="#000" stroke-width="1"/><text x="99.86" y="288.3" text-anchor="middle" font-family="'Liberation Serif','Times New Roman',serif" font-size="10.5">-2.0</text><text x="146.37" y="288.3" text-anchor="middle" font-family="'Liberation Serif','Times New Roman',serif" font-size="10.5">-1.0</text><text x="192.89" y="288.3" text-anchor="middle" font-family="'Liberation Serif','Times New Roman',serif" font-size="10.5">0.0</text><text x="239.40" y="288.3" text-anchor="middle" font-family="'Liberation Serif','Times New Roman',serif" font-size="10.5">1.0</text>
<defs><linearGradient id="cb2" x1="0" x2="1" y1="0" y2="0"><stop offset="0.0000" stop-color="rgb(128,0,255)"/><stop offset="0.0971" stop-color="rgb(0,0,255)"/><stop offset="0.2743" stop-color="rgb(0,255,255)"/><stop offset="0.4657" stop-color="rgb(0,255,0)"/><stop offset="0.6686" stop-color="rgb(255,255,0)"/><stop offset="0.8371" stop-color="rgb(255,0,0)"/><stop offset="1.0000" stop-color="rgb(255,0,0)"/></linearGradient></defs><rect x="372.20" y="262.00" width="162.80" height="9.00" fill="url(#cb2)" stroke="#000" stroke-width="1"/><line x1="372.20" y1="271.00" x2="372.20" y2="274.40" stroke="#000" stroke-width="1"/><line x1="395.46" y1="271.00" x2="395.46" y2="276.80" stroke="#000" stroke-width="1"/><line x1="418.71" y1="271.00" x2="418.71" y2="274.40" stroke="#000" stroke-width="1"/><line x1="441.97" y1="271.00" x2="441.97" y2="276.80" stroke="#000" stroke-width="1"/><line x1="465.23" y1="271.00" x2="465.23" y2="274.40" stroke="#000" stroke-width="1"/><line x1="488.49" y1="271.00" x2="488.49" y2="276.80" stroke="#000" stroke-width="1"/><line x1="511.74" y1="271.00" x2="511.74" y2="274.40" stroke="#000" stroke-width="1"/><line x1="535.00" y1="271.00" x2="535.00" y2="276.80" stroke="#000" stroke-width="1"/><text x="395.66" y="288.3" text-anchor="middle" font-family="'Liberation Serif','Times New Roman',serif" font-size="10.5">-2.0</text><text x="442.17" y="288.3" text-anchor="middle" font-family="'Liberation Serif','Times New Roman',serif" font-size="10.5">-1.0</text><text x="488.69" y="288.3" text-anchor="middle" font-family="'Liberation Serif','Times New Roman',serif" font-size="10.5">0.0</text><text x="535.20" y="288.3" text-anchor="middle" font-family="'Liberation Serif','Times New Roman',serif" font-size="10.5">1.0</text>
<g id="xlabL"><text x="116.7" y="242.1" font-family="'Liberation Serif','Times New Roman',serif" font-size="18">R</text><text x="128.4" y="245.3" font-family="'Liberation Serif','Times New Roman',serif" font-size="12.4">X</text><text x="137.70" y="242.10" font-family="'Liberation Sans',Arial,sans-serif" font-size="18">/</text><text x="142.00" y="243.40" font-family="'Liberation Sans',Arial,sans-serif" font-size="19.5" stroke="#000" stroke-width="0.1">&lt;</text><text x="153.40" y="239.40" font-family="'Liberation Sans',Arial,sans-serif" font-size="13.2">|</text><text x="157.40" y="242.10" font-family="'Liberation Sans',Arial,sans-serif" font-size="18" font-weight="bold">j</text><text x="164.00" y="239.40" font-family="'Liberation Sans',Arial,sans-serif" font-size="13.2" font-weight="bold" stroke="#000" stroke-width="0.3">|</text><text x="167.50" y="231.70" font-family="'Liberation Serif','Times New Roman',serif" font-size="12.8">2</text><text x="173.00" y="243.40" font-family="'Liberation Sans',Arial,sans-serif" font-size="19.5" stroke="#000" stroke-width="0.1">&gt;</text><text x="184.3" y="231.1" font-family="'Liberation Sans',Arial,sans-serif" font-size="12">3/2</text></g>
<g id="xlabR"><text x="422.3" y="241.7" font-family="'Liberation Serif','Times New Roman',serif" font-size="18">Q</text><text x="435.2" y="244.6" font-family="'Liberation Serif','Times New Roman',serif" font-size="12.4">j</text><text x="439.50" y="241.70" font-family="'Liberation Sans',Arial,sans-serif" font-size="18">/</text><text x="443.80" y="243.00" font-family="'Liberation Sans',Arial,sans-serif" font-size="19.5" stroke="#000" stroke-width="0.1">&lt;</text><text x="455.20" y="239.00" font-family="'Liberation Sans',Arial,sans-serif" font-size="13.2">|</text><text x="459.20" y="241.70" font-family="'Liberation Sans',Arial,sans-serif" font-size="18" font-weight="bold">j</text><text x="465.80" y="239.00" font-family="'Liberation Sans',Arial,sans-serif" font-size="13.2" font-weight="bold" stroke="#000" stroke-width="0.3">|</text><text x="469.30" y="231.30" font-family="'Liberation Serif','Times New Roman',serif" font-size="12.8">2</text><text x="474.80" y="243.00" font-family="'Liberation Sans',Arial,sans-serif" font-size="19.5" stroke="#000" stroke-width="0.1">&gt;</text></g>
<g id="ylabL" transform="translate(19.6,137.2) rotate(-90)"><text x="0" y="0" font-family="'Liberation Serif','Times New Roman',serif" font-size="18">Q</text><text x="12.6" y="3.2" font-family="'Liberation Serif','Times New Roman',serif" font-size="12.4">X</text><text x="25.70" y="0.00" font-family="'Liberation Sans',Arial,sans-serif" font-size="18">/</text><text x="30.60" y="1.30" font-family="'Liberation Sans',Arial,sans-serif" font-size="19.5" stroke="#000" stroke-width="0.1">&lt;</text><text x="42.00" y="-2.70" font-family="'Liberation Sans',Arial,sans-serif" font-size="13.2">|</text><text x="45.40" y="0.00" font-family="'Liberation Sans',Arial,sans-serif" font-size="18" font-weight="bold">j</text><text x="51.40" y="-2.70" font-family="'Liberation Sans',Arial,sans-serif" font-size="13.2" font-weight="bold" stroke="#000" stroke-width="0.3">|</text><text x="55.30" y="-10.40" font-family="'Liberation Serif','Times New Roman',serif" font-size="12.8">2</text><text x="60.80" y="1.30" font-family="'Liberation Sans',Arial,sans-serif" font-size="19.5" stroke="#000" stroke-width="0.1">&gt;</text></g>
<g id="ylabR" transform="translate(312.0,140.0) rotate(-90)"><text x="0" y="0" font-family="'Liberation Serif','Times New Roman',serif" font-size="18">-Q</text><text x="18.6" y="3.2" font-family="'Liberation Serif','Times New Roman',serif" font-size="12.4">K</text><text x="31.70" y="0.00" font-family="'Liberation Sans',Arial,sans-serif" font-size="18">/</text><text x="36.60" y="1.30" font-family="'Liberation Sans',Arial,sans-serif" font-size="19.5" stroke="#000" stroke-width="0.1">&lt;</text><text x="48.00" y="-2.70" font-family="'Liberation Sans',Arial,sans-serif" font-size="13.2">|</text><text x="51.40" y="0.00" font-family="'Liberation Sans',Arial,sans-serif" font-size="18" font-weight="bold">j</text><text x="57.40" y="-2.70" font-family="'Liberation Sans',Arial,sans-serif" font-size="13.2" font-weight="bold" stroke="#000" stroke-width="0.3">|</text><text x="61.30" y="-10.40" font-family="'Liberation Serif','Times New Roman',serif" font-size="12.8">2</text><text x="66.80" y="1.30" font-family="'Liberation Sans',Arial,sans-serif" font-size="19.5" stroke="#000" stroke-width="0.1">&gt;</text></g>
<g id="cbtL" font-family="'Liberation Serif','Times New Roman',serif" font-size="13.7">
<text x="111.3" y="304.6">Log P(R*<tspan font-size="10.8" dy="2.6">X</tspan><tspan dy="-2.6">,Q*</tspan><tspan font-size="10.8" dy="2.6">X</tspan><tspan dy="-2.6">)</tspan></text>
</g>
<g id="cbtR" font-family="'Liberation Serif','Times New Roman',serif" font-size="13.7">
<text x="407.0" y="304.6">Log P(Q*<tspan font-size="10.8" dy="2.6">j</tspan><tspan dy="-2.6">,-Q*</tspan><tspan font-size="10.8" dy="2.6">K</tspan><tspan dy="-2.6">)</tspan></text>
</g>
</svg></body></html>
